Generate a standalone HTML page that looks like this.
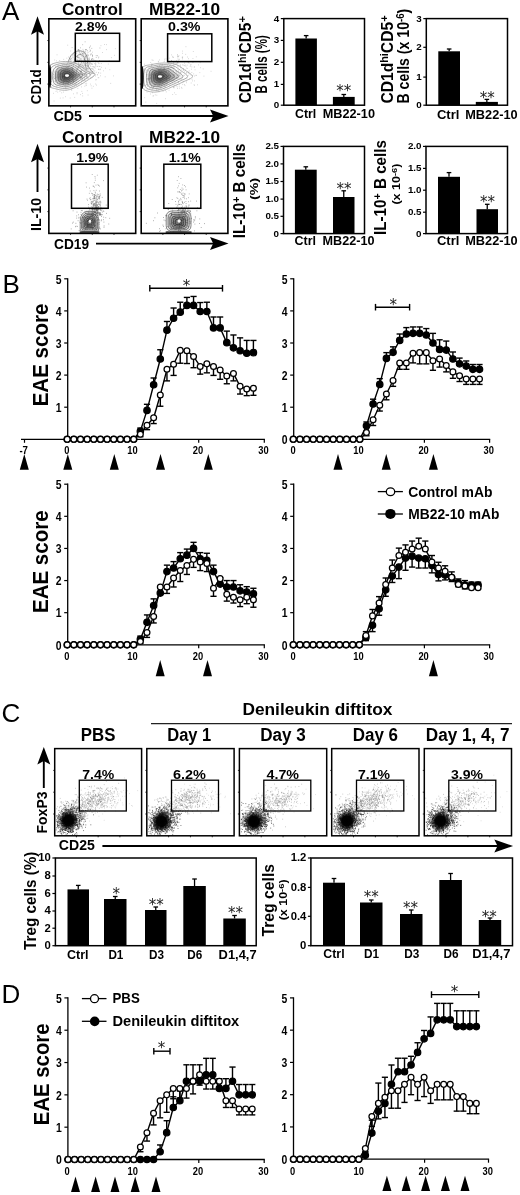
<!DOCTYPE html>
<html><head><meta charset="utf-8"><title>Figure</title>
<style>html,body{margin:0;padding:0;background:#fff;}svg{display:block;}</style>
</head><body>
<svg width="520" height="1195" viewBox="0 0 520 1195" font-family='"Liberation Sans", sans-serif' font-weight="bold" shape-rendering="auto">
<text x="2.00" y="20.40" font-size="26" font-weight="normal" text-anchor="start" >A</text>
<text x="2.50" y="292.50" font-size="26" font-weight="normal" text-anchor="start" >B</text>
<text x="1.50" y="721.70" font-size="26" font-weight="normal" text-anchor="start" >C</text>
<text x="1.50" y="1002.50" font-size="26" font-weight="normal" text-anchor="start" >D</text>
<clipPath id="cl1"><rect x="48.85" y="18.80" width="86.85" height="87.05"/></clipPath>
<g clip-path="url(#cl1)">
<path d="M69.2 80.0h0.7M69.6 72.5h0.7M59.0 75.8h0.7M89.7 74.7h0.7M88.6 73.4h0.7M78.9 74.9h0.7M80.6 77.4h0.7M59.7 73.4h0.7M77.6 73.2h0.7M80.8 67.2h0.7M77.6 77.1h0.7M63.1 92.1h0.7M81.3 83.4h0.7M63.7 70.1h0.7M67.8 74.8h0.7M82.5 74.7h0.7M66.3 67.6h0.7M65.2 87.2h0.7M60.9 79.5h0.7M79.4 59.9h0.7M73.7 86.1h0.7M71.4 67.7h0.7M80.5 72.4h0.7M51.0 86.8h0.7M83.0 80.8h0.7M94.6 73.0h0.7M74.8 62.6h0.7M82.2 67.1h0.7M66.2 64.8h0.7M58.5 73.1h0.7M92.3 52.2h0.7M51.1 81.6h0.7M94.7 74.9h0.7M78.4 66.9h0.7M56.2 87.0h0.7M89.5 72.3h0.7M76.7 77.6h0.7M96.9 74.8h0.7M80.8 77.7h0.7M87.3 76.1h0.7M85.6 55.7h0.7M70.2 84.3h0.7M53.3 93.3h0.7M81.3 71.4h0.7M77.9 79.3h0.7M74.8 84.4h0.7M63.1 73.1h0.7M88.6 71.4h0.7M59.8 86.0h0.7M95.0 65.8h0.7M52.3 78.0h0.7M70.8 72.4h0.7M94.1 60.8h0.7M91.9 59.1h0.7M61.2 82.8h0.7M89.9 78.5h0.7M78.2 74.7h0.7M75.3 79.2h0.7M70.4 77.7h0.7M81.6 72.7h0.7M84.5 77.1h0.7M103.2 70.8h0.7M66.6 72.7h0.7M72.8 82.9h0.7M68.0 79.2h0.7M100.6 45.7h0.7M56.1 80.5h0.7M79.0 75.4h0.7M66.5 81.9h0.7M77.2 69.0h0.7M109.5 69.7h0.7M64.7 75.6h0.7M69.6 74.8h0.7M88.1 60.8h0.7M72.0 83.3h0.7M85.8 85.0h0.7M67.9 81.3h0.7M89.4 47.1h0.7M89.3 58.1h0.7M83.2 59.0h0.7M75.6 84.6h0.7M70.8 76.8h0.7M85.0 73.2h0.7M71.7 88.5h0.7M88.7 68.5h0.7M114.2 55.3h0.7M86.7 69.2h0.7M75.0 80.4h0.7M76.3 79.5h0.7M50.1 66.2h0.7M82.2 64.0h0.7M57.6 64.9h0.7M92.0 77.0h0.7M95.1 61.4h0.7M73.0 64.4h0.7M84.5 86.2h0.7M59.6 91.4h0.7M87.8 69.7h0.7M71.6 69.6h0.7M79.0 76.9h0.7M95.5 60.5h0.7M90.0 84.1h0.7M94.8 68.2h0.7M61.8 86.1h0.7M74.7 75.3h0.7M94.4 67.5h0.7M77.8 68.1h0.7M72.9 82.0h0.7M74.2 86.1h0.7M72.1 84.1h0.7M95.4 84.0h0.7M62.9 84.7h0.7M54.5 78.6h0.7M70.1 75.0h0.7M64.1 78.6h0.7M99.9 69.0h0.7M81.0 81.7h0.7M70.0 64.0h0.7M64.7 86.0h0.7M88.1 78.3h0.7M73.1 81.7h0.7M75.5 63.6h0.7M86.8 66.5h0.7M59.5 70.7h0.7M50.0 78.6h0.7M55.3 81.8h0.7M63.4 59.4h0.7M83.9 69.7h0.7M77.4 69.6h0.7M84.7 78.7h0.7M83.0 75.3h0.7M93.0 76.0h0.7M79.8 54.6h0.7M86.4 83.3h0.7M68.5 71.4h0.7M102.1 52.5h0.7M80.0 94.6h0.7M59.1 83.8h0.7M101.3 67.3h0.7M81.4 80.8h0.7M59.4 76.8h0.7M77.4 81.0h0.7M72.5 73.0h0.7M57.8 74.8h0.7M86.4 72.5h0.7M60.2 69.9h0.7M113.0 75.9h0.7M82.6 49.4h0.7M82.3 76.8h0.7M98.3 72.8h0.7M72.0 79.5h0.7M77.9 67.3h0.7M92.9 86.3h0.7M52.0 73.3h0.7M77.4 75.3h0.7M67.0 67.3h0.7M104.8 76.8h0.7M55.1 66.6h0.7M98.5 77.7h0.7M100.3 75.8h0.7M59.9 79.8h0.7M72.1 79.4h0.7M62.1 75.9h0.7M79.9 76.4h0.7M82.6 74.3h0.7M68.1 82.7h0.7M73.7 67.1h0.7M63.6 76.7h0.7M71.4 76.4h0.7M73.0 76.2h0.7M71.0 63.8h0.7M79.3 82.6h0.7M79.5 71.5h0.7M79.7 64.5h0.7M59.0 84.3h0.7M56.7 54.8h0.7M57.4 92.1h0.7M67.3 63.7h0.7M61.5 81.8h0.7M80.5 74.5h0.7M95.3 76.0h0.7M72.7 80.0h0.7M97.8 77.7h0.7M88.4 61.6h0.7M70.8 81.6h0.7M68.6 85.1h0.7M81.9 80.7h0.7M69.8 98.0h0.7M91.6 68.6h0.7M74.4 97.4h0.7M67.9 83.5h0.7M87.7 71.4h0.7M55.5 80.1h0.7M78.4 83.5h0.7M84.7 72.2h0.7M85.8 76.6h0.7M76.1 74.4h0.7M69.3 81.5h0.7M57.2 72.5h0.7M73.1 61.6h0.7M66.5 58.2h0.7M62.8 81.9h0.7M81.5 72.2h0.7M69.5 62.8h0.7M100.4 73.1h0.7M89.4 63.1h0.7M70.2 59.0h0.7M84.7 80.3h0.7M82.5 56.8h0.7M63.6 64.2h0.7M73.5 76.7h0.7M82.5 78.7h0.7M95.5 80.0h0.7M53.3 74.5h0.7M57.1 68.5h0.7M71.8 74.9h0.7M80.4 58.8h0.7M54.4 78.5h0.7M70.0 72.5h0.7M72.1 68.0h0.7M83.5 75.4h0.7M71.7 68.9h0.7M70.4 51.0h0.7M58.3 78.2h0.7M50.4 81.4h0.7M75.2 61.9h0.7M69.2 72.6h0.7M79.9 78.5h0.7M72.5 67.1h0.7M70.8 74.5h0.7M84.0 74.8h0.7M62.2 64.9h0.7M67.4 69.3h0.7M56.3 77.3h0.7M65.6 77.2h0.7M80.8 69.2h0.7M107.9 64.0h0.7M89.5 72.0h0.7M89.7 49.7h0.7M61.7 79.3h0.7M82.0 93.4h0.7M77.8 84.9h0.7M84.5 80.5h0.7M80.7 71.5h0.7M80.6 63.3h0.7M90.7 61.6h0.7M76.7 92.6h0.7M69.6 75.5h0.7M90.4 71.0h0.7M60.9 79.6h0.7M81.7 79.0h0.7M61.4 92.8h0.7M98.0 69.2h0.7M77.0 69.9h0.7M94.2 63.6h0.7M83.1 68.1h0.7M62.6 83.3h0.7M93.0 70.1h0.7M62.8 84.1h0.7M72.3 77.5h0.7M95.8 79.6h0.7M65.2 96.7h0.7M73.1 81.6h0.7M63.3 76.4h0.7M93.5 59.2h0.7M50.4 65.2h0.7M90.6 66.6h0.7M72.1 72.0h0.7M71.2 65.3h0.7M73.4 61.7h0.7M71.9 77.6h0.7M80.0 71.0h0.7M59.4 79.0h0.7M65.7 90.1h0.7M84.5 71.0h0.7M65.9 69.9h0.7M58.9 74.6h0.7M77.4 78.2h0.7M81.5 91.4h0.7M62.4 77.1h0.7M114.9 48.7h0.7M65.2 77.8h0.7M75.3 77.7h0.7M69.4 78.7h0.7M73.8 81.3h0.7M73.0 65.4h0.7M57.3 83.7h0.7M63.3 82.4h0.7M84.2 74.8h0.7M80.6 72.0h0.7M51.9 79.0h0.7M79.8 68.4h0.7M71.5 81.6h0.7M59.8 83.2h0.7M100.9 63.5h0.7M75.2 72.8h0.7M96.1 72.3h0.7M86.5 65.5h0.7M72.8 74.6h0.7M86.5 56.0h0.7M84.2 71.0h0.7M79.7 76.4h0.7M50.5 77.7h0.7M95.4 64.5h0.7M57.7 65.9h0.7M54.7 81.6h0.7M98.4 72.8h0.7M76.7 93.7h0.7M65.2 70.3h0.7M80.9 77.7h0.7M57.8 67.6h0.7M77.4 75.8h0.7M53.4 77.1h0.7M64.9 80.5h0.7M71.2 74.2h0.7M67.7 85.2h0.7M93.9 66.7h0.7M85.7 65.0h0.7M74.1 81.0h0.7M95.7 66.2h0.7M71.9 76.6h0.7M50.5 79.7h0.7M62.9 80.2h0.7M56.1 60.8h0.7M73.6 76.8h0.7M64.8 84.3h0.7M68.9 70.1h0.7M80.2 59.1h0.7M62.8 76.7h0.7M85.7 70.3h0.7M77.6 67.7h0.7M77.5 88.4h0.7M62.7 97.9h0.7M63.3 76.9h0.7M75.6 83.1h0.7M54.4 60.0h0.7M82.1 79.7h0.7M82.4 95.9h0.7M76.1 76.2h0.7M86.9 74.8h0.7M98.0 58.0h0.7M67.4 45.2h0.7M85.2 68.6h0.7M86.9 90.7h0.7M72.9 72.4h0.7M65.5 68.8h0.7M63.5 82.4h0.7M73.6 75.1h0.7M70.4 83.3h0.7M80.4 71.7h0.7M83.0 71.0h0.7M55.7 91.4h0.7M80.0 64.5h0.7M89.2 74.1h0.7M78.0 81.4h0.7M76.0 72.6h0.7M73.5 72.0h0.7M78.3 74.1h0.7M83.1 69.1h0.7M72.5 55.7h0.7M66.7 82.0h0.7M93.1 66.9h0.7M71.2 89.1h0.7M68.1 82.2h0.7M98.2 69.4h0.7M91.4 64.2h0.7M76.1 73.2h0.7M74.7 84.3h0.7M108.8 60.7h0.7M64.4 80.9h0.7M57.2 82.5h0.7M81.6 70.2h0.7M81.0 59.0h0.7M84.4 58.3h0.7M62.6 72.0h0.7M67.0 83.6h0.7M74.2 70.8h0.7M81.2 86.9h0.7M73.1 77.8h0.7M91.6 72.9h0.7M53.7 101.0h0.7M106.1 49.6h0.7M72.4 78.4h0.7M87.5 77.3h0.7M68.9 66.1h0.7M74.5 83.5h0.7M56.7 69.1h0.7M72.6 57.4h0.7M69.1 71.6h0.7M79.8 66.9h0.7M59.8 74.0h0.7M72.3 68.9h0.7M73.2 81.2h0.7M90.8 85.8h0.7M61.2 73.5h0.7M62.1 76.7h0.7M80.8 60.8h0.7M80.0 72.8h0.7M90.9 54.0h0.7M85.1 73.8h0.7M80.1 77.0h0.7M92.6 68.3h0.7M86.1 68.0h0.7M83.9 64.9h0.7M71.4 90.4h0.7M79.7 71.7h0.7M55.8 71.4h0.7M75.9 82.3h0.7M79.4 77.8h0.7M72.4 86.8h0.7M67.1 71.0h0.7M86.3 72.2h0.7M68.8 70.4h0.7M69.1 81.0h0.7M78.3 62.7h0.7M79.4 74.8h0.7M58.0 84.8h0.7M68.8 72.5h0.7M84.9 83.7h0.7M62.7 80.8h0.7M59.9 98.1h0.7M65.6 86.9h0.7M63.3 84.0h0.7M106.3 44.6h0.7M66.5 80.5h0.7M71.6 69.0h0.7M105.3 68.2h0.7M64.3 77.8h0.7M91.9 71.5h0.7M52.1 64.1h0.7M90.7 77.3h0.7M60.8 85.0h0.7M80.4 78.7h0.7M86.5 78.1h0.7M86.2 49.8h0.7M75.5 78.4h0.7M111.3 57.6h0.7M68.1 76.0h0.7M86.3 67.7h0.7M90.2 63.8h0.7M77.0 69.0h0.7M75.4 67.9h0.7M77.6 68.6h0.7M76.0 82.7h0.7M58.3 76.9h0.7M81.1 77.5h0.7M68.0 57.0h0.7M91.6 73.4h0.7M73.2 72.1h0.7M77.0 69.9h0.7M57.6 71.4h0.7M64.0 71.1h0.7M55.6 84.1h0.7M53.4 84.8h0.7M57.8 81.1h0.7M93.6 71.8h0.7M62.0 77.5h0.7M75.2 58.7h0.7M63.9 78.1h0.7M66.0 76.9h0.7M84.0 79.0h0.7M86.6 76.8h0.7M68.7 75.4h0.7M68.9 72.7h0.7M70.3 59.8h0.7M68.0 75.5h0.7M58.4 77.6h0.7M80.7 71.4h0.7M104.1 44.5h0.7M69.9 59.0h0.7M87.7 95.0h0.7M80.8 70.2h0.7M81.3 52.8h0.7M85.8 75.1h0.7M73.3 69.3h0.7M82.6 68.2h0.7M76.3 69.3h0.7M76.0 80.6h0.7M59.9 77.2h0.7M82.3 73.8h0.7M91.6 88.2h0.7M59.4 60.5h0.7M85.8 85.4h0.7M86.8 78.8h0.7M63.7 70.3h0.7M86.3 63.5h0.7M110.4 83.4h0.7M62.7 70.4h0.7M76.5 67.2h0.7M92.7 69.5h0.7M56.7 89.9h0.7M64.3 78.5h0.7M72.8 71.8h0.7M77.9 67.4h0.7M54.0 72.1h0.7M72.7 75.2h0.7M81.3 73.8h0.7M61.1 70.9h0.7M80.3 77.7h0.7M71.2 73.5h0.7M87.0 71.6h0.7M84.1 77.3h0.7M76.2 85.5h0.7M64.4 73.3h0.7M60.9 70.2h0.7M96.3 85.1h0.7M73.3 79.6h0.7M90.6 77.9h0.7M91.1 59.4h0.7M63.4 80.8h0.7M94.5 70.8h0.7M60.1 74.3h0.7M63.1 69.2h0.7M95.5 64.0h0.7M73.3 93.8h0.7M90.8 73.7h0.7M63.8 80.3h0.7M97.3 74.8h0.7M91.9 71.3h0.7M80.7 71.1h0.7" stroke="#777" stroke-width="0.7" stroke-opacity="0.55" fill="none"/>
<path d="M86.4 68.4h0.8M71.6 63.2h0.8M84.9 56.3h0.8M80.5 66.5h0.8M99.0 60.6h0.8M85.6 49.6h0.8M98.4 57.1h0.8M82.7 53.2h0.8M82.5 53.4h0.8M83.6 63.6h0.8M83.2 62.4h0.8M76.2 71.9h0.8M77.8 49.8h0.8M81.5 55.9h0.8M74.9 60.4h0.8M85.3 52.1h0.8M81.9 70.4h0.8M88.5 58.2h0.8M84.0 59.5h0.8M82.6 65.6h0.8M82.3 44.7h0.8M82.8 54.7h0.8M88.2 55.2h0.8M84.2 74.8h0.8M74.6 55.3h0.8M71.7 47.6h0.8M68.0 67.0h0.8M77.9 49.5h0.8M71.1 67.8h0.8M76.8 59.8h0.8M85.6 69.0h0.8M98.5 63.4h0.8M84.1 61.5h0.8M97.4 66.4h0.8M80.5 64.3h0.8M85.3 60.3h0.8M79.0 52.8h0.8M78.7 51.4h0.8M92.8 61.6h0.8M73.4 72.5h0.8M90.1 46.0h0.8M97.7 62.1h0.8M99.5 48.0h0.8M87.2 62.3h0.8M84.6 61.3h0.8M91.4 48.4h0.8M73.1 53.9h0.8M78.5 57.7h0.8M85.9 61.6h0.8M83.3 56.0h0.8M79.5 67.9h0.8M89.1 59.7h0.8M80.4 71.6h0.8M78.2 66.2h0.8M92.2 56.4h0.8M89.6 51.4h0.8M91.1 59.8h0.8M70.3 68.4h0.8M75.9 71.0h0.8M77.6 60.9h0.8M85.3 57.8h0.8M85.1 56.4h0.8M88.4 59.2h0.8M84.7 41.8h0.8M92.3 58.4h0.8M68.7 65.0h0.8M86.7 66.8h0.8M74.3 73.2h0.8M81.7 76.9h0.8M81.8 65.4h0.8M80.1 53.9h0.8M91.8 64.3h0.8M95.3 63.1h0.8M78.4 50.7h0.8M77.8 57.5h0.8M76.5 66.2h0.8M85.6 58.1h0.8M84.4 59.3h0.8M84.7 65.2h0.8M90.7 54.0h0.8M70.9 73.3h0.8M83.9 67.7h0.8M69.9 61.8h0.8M83.2 50.9h0.8M78.9 66.5h0.8M91.6 69.0h0.8M76.1 53.1h0.8M87.2 65.8h0.8M84.5 51.5h0.8M89.3 64.3h0.8M87.4 56.2h0.8M85.4 65.2h0.8M78.5 49.5h0.8M85.6 63.1h0.8M83.1 66.5h0.8M78.3 61.3h0.8M80.6 65.1h0.8M95.8 55.6h0.8M99.4 66.5h0.8M89.3 62.9h0.8M97.2 55.7h0.8M82.1 53.7h0.8M86.8 68.6h0.8M87.3 62.3h0.8M81.4 62.2h0.8M71.6 70.6h0.8M79.7 54.1h0.8M77.0 56.7h0.8M89.8 65.9h0.8M72.1 69.6h0.8M90.1 54.9h0.8M71.1 58.7h0.8M77.9 64.2h0.8M80.1 47.8h0.8M84.9 49.9h0.8M90.2 50.6h0.8M77.5 56.4h0.8M78.7 70.4h0.8M89.8 62.8h0.8M85.6 49.6h0.8M78.8 58.0h0.8M75.2 66.1h0.8M77.1 57.4h0.8M74.6 49.1h0.8M87.8 68.2h0.8M84.4 53.7h0.8M61.4 67.4h0.8M92.7 60.0h0.8M90.4 68.5h0.8M92.0 55.3h0.8M91.4 63.6h0.8M70.7 61.1h0.8M71.6 62.9h0.8M87.6 52.3h0.8M66.6 73.6h0.8M86.0 69.6h0.8M72.4 70.5h0.8M99.6 69.6h0.8M81.3 62.8h0.8M81.8 67.6h0.8M91.3 59.0h0.8M72.1 68.4h0.8M79.2 65.8h0.8M85.1 70.9h0.8M92.1 55.2h0.8M85.8 71.6h0.8M78.7 64.6h0.8M92.5 66.5h0.8M87.1 50.7h0.8M72.9 64.9h0.8M86.1 76.8h0.8M76.1 70.0h0.8M89.2 47.8h0.8M76.5 63.4h0.8M79.1 60.6h0.8M86.8 54.2h0.8M86.7 55.4h0.8M78.6 65.3h0.8M78.4 63.7h0.8M95.8 57.4h0.8" stroke="#777" stroke-width="0.8" stroke-opacity="0.65" fill="none"/>
<path d="M68.00 62.60C68.50 61.43 69.50 57.52 71.00 55.60C72.50 53.68 74.83 51.68 77.00 51.10C79.17 50.52 82.25 50.85 84.00 52.10C85.75 53.35 86.75 56.18 87.50 58.60C88.25 61.02 87.42 64.10 88.50 66.60C89.58 69.10 93.08 72.43 94.00 73.60" fill="rgba(60,60,60,0.05)" stroke="#666" stroke-width="0.7"/>
<path d="M74.00 63.60C74.25 62.60 74.58 59.10 75.50 57.60C76.42 56.10 78.17 54.85 79.50 54.60C80.83 54.35 82.58 54.93 83.50 56.10C84.42 57.27 84.67 59.68 85.00 61.60C85.33 63.52 85.42 66.60 85.50 67.60" fill="none" stroke="#777" stroke-width="0.7"/>
<path d="M48.00 67.60C49.83 63.85 55.00 63.02 59.00 62.10C63.00 61.18 68.17 61.27 72.00 62.10C75.83 62.93 79.17 65.43 82.00 67.10C84.83 68.77 86.83 70.85 89.00 72.10C91.17 73.35 95.33 73.18 95.00 74.60C94.67 76.02 90.00 78.60 87.00 80.60C84.00 82.60 80.33 85.02 77.00 86.60C73.67 88.18 70.33 89.68 67.00 90.10C63.67 90.52 60.17 90.02 57.00 89.10C53.83 88.18 49.50 88.18 48.00 84.60C46.50 81.02 46.17 71.35 48.00 67.60Z" fill="rgba(25,25,25,0.0)" stroke="rgb(150,150,150)" stroke-width="0.7"/>
<path d="M50.88 68.53C52.44 65.22 56.82 64.48 60.21 63.67C63.61 62.86 67.99 62.93 71.24 63.67C74.49 64.41 77.32 66.62 79.73 68.09C82.13 69.56 83.83 71.40 85.66 72.51C87.50 73.61 91.04 73.46 90.75 74.72C90.47 75.97 86.51 78.25 83.97 80.02C81.42 81.79 78.31 83.92 75.48 85.32C72.66 86.72 69.83 88.05 67.00 88.41C64.17 88.78 61.20 88.34 58.52 87.53C55.83 86.72 52.15 86.72 50.88 83.55C49.61 80.39 49.33 71.84 50.88 68.53Z" fill="rgba(25,25,25,0.0)" stroke="rgb(136,136,136)" stroke-width="0.7"/>
<path d="M53.59 69.46C54.88 66.58 58.53 65.94 61.35 65.24C64.18 64.54 67.82 64.60 70.53 65.24C73.24 65.88 75.59 67.80 77.59 69.08C79.59 70.36 81.00 71.95 82.53 72.91C84.06 73.87 87.00 73.75 86.77 74.83C86.53 75.92 83.24 77.90 81.12 79.44C79.00 80.97 76.41 82.83 74.06 84.04C71.71 85.26 69.35 86.41 67.00 86.73C64.65 87.05 62.18 86.66 59.94 85.96C57.70 85.26 54.64 85.26 53.59 82.51C52.53 79.76 52.29 72.34 53.59 69.46Z" fill="rgba(25,25,25,0.05)" stroke="rgb(122,122,122)" stroke-width="0.7"/>
<path d="M56.11 70.39C57.16 67.95 60.12 67.41 62.42 66.81C64.71 66.21 67.67 66.27 69.87 66.81C72.06 67.35 73.97 68.98 75.60 70.07C77.22 71.15 78.36 72.51 79.61 73.32C80.85 74.13 83.24 74.03 83.04 74.95C82.85 75.87 80.18 77.55 78.46 78.86C76.74 80.16 74.64 81.73 72.73 82.76C70.82 83.79 68.91 84.77 67.00 85.04C65.09 85.31 63.08 84.99 61.27 84.39C59.46 83.79 56.97 83.79 56.11 81.46C55.25 79.13 55.06 72.83 56.11 70.39Z" fill="rgba(25,25,25,0.15)" stroke="rgb(108,108,108)" stroke-width="0.7"/>
<path d="M58.46 71.32C59.29 69.32 61.61 68.87 63.41 68.38C65.20 67.89 67.52 67.93 69.25 68.38C70.97 68.82 72.47 70.16 73.74 71.05C75.01 71.94 75.91 73.06 76.88 73.73C77.86 74.40 79.73 74.31 79.58 75.07C79.43 75.82 77.33 77.20 75.99 78.27C74.64 79.34 72.99 80.64 71.49 81.48C70.00 82.33 68.50 83.13 67.00 83.36C65.50 83.58 63.93 83.31 62.51 82.82C61.08 82.33 59.14 82.33 58.46 80.41C57.79 78.50 57.64 73.33 58.46 71.32Z" fill="rgba(25,25,25,0.15)" stroke="rgb(100,100,100)" stroke-width="0.7"/>
<path d="M60.64 72.25C61.25 70.68 62.98 70.33 64.32 69.95C65.66 69.57 67.39 69.60 68.67 69.95C69.96 70.30 71.07 71.34 72.02 72.04C72.97 72.74 73.64 73.61 74.37 74.13C75.09 74.66 76.49 74.59 76.38 75.18C76.27 75.77 74.70 76.86 73.70 77.69C72.69 78.53 71.47 79.54 70.35 80.20C69.23 80.87 68.12 81.50 67.00 81.67C65.88 81.84 64.71 81.63 63.65 81.25C62.59 80.87 61.14 80.87 60.64 79.37C60.13 77.87 60.02 73.82 60.64 72.25Z" fill="rgba(25,25,25,0.15)" stroke="rgb(90,90,90)" stroke-width="0.7"/>
<path d="M62.63 73.18C63.06 72.05 64.24 71.80 65.16 71.52C66.08 71.24 67.27 71.27 68.15 71.52C69.03 71.77 69.80 72.53 70.45 73.03C71.10 73.53 71.56 74.16 72.05 74.54C72.55 74.92 73.51 74.87 73.43 75.30C73.36 75.73 72.28 76.51 71.60 77.11C70.91 77.72 70.06 78.45 69.30 78.93C68.53 79.40 67.77 79.86 67.00 79.98C66.23 80.11 65.43 79.96 64.70 79.68C63.97 79.40 62.98 79.40 62.63 78.32C62.29 77.24 62.21 74.32 62.63 73.18Z" fill="rgba(25,25,25,0.15)" stroke="rgb(80,80,80)" stroke-width="0.7"/>
<path d="M64.45 74.11C64.70 73.41 65.39 73.26 65.93 73.09C66.46 72.92 67.16 72.93 67.67 73.09C68.18 73.24 68.63 73.71 69.01 74.02C69.39 74.33 69.66 74.72 69.95 74.95C70.24 75.18 70.80 75.15 70.75 75.41C70.71 75.68 70.08 76.16 69.68 76.53C69.28 76.90 68.79 77.35 68.34 77.65C67.89 77.94 67.45 78.22 67.00 78.30C66.55 78.38 66.08 78.28 65.66 78.11C65.24 77.94 64.66 77.94 64.45 77.27C64.25 76.61 64.21 74.81 64.45 74.11Z" fill="rgba(25,25,25,0.15)" stroke="rgb(70,70,70)" stroke-width="0.7"/>
<ellipse cx="66.00" cy="76.10" rx="13" ry="9" fill="url(#cg)"/>
<ellipse cx="67.00" cy="75.60" rx="2.1" ry="1.3" fill="#fff"/>
<ellipse cx="49.95" cy="76.60" rx="1.4" ry="11.5" fill="#111"/>
</g>
<rect x="48.85" y="18.80" width="86.85" height="87.05" fill="none" stroke="#000" stroke-width="1.6"/>
<rect x="75.30" y="33.30" width="44.30" height="28.00" fill="none" stroke="#000" stroke-width="1.5"/>
<line x1="47.35" y1="40.56" x2="48.85" y2="40.56" stroke="#000" stroke-width="0.8" stroke-linecap="butt"/>
<line x1="70.56" y1="105.85" x2="70.56" y2="107.35" stroke="#000" stroke-width="0.8" stroke-linecap="butt"/>
<line x1="47.35" y1="62.33" x2="48.85" y2="62.33" stroke="#000" stroke-width="0.8" stroke-linecap="butt"/>
<line x1="92.28" y1="105.85" x2="92.28" y2="107.35" stroke="#000" stroke-width="0.8" stroke-linecap="butt"/>
<line x1="47.35" y1="84.09" x2="48.85" y2="84.09" stroke="#000" stroke-width="0.8" stroke-linecap="butt"/>
<line x1="113.99" y1="105.85" x2="113.99" y2="107.35" stroke="#000" stroke-width="0.8" stroke-linecap="butt"/>
<clipPath id="cl2"><rect x="141.20" y="18.80" width="86.70" height="87.05"/></clipPath>
<g clip-path="url(#cl2)">
<path d="M163.8 82.5h0.7M160.5 86.4h0.7M146.8 85.3h0.7M158.3 70.1h0.7M192.5 62.1h0.7M192.4 75.5h0.7M187.8 62.0h0.7M184.0 84.5h0.7M164.3 74.7h0.7M202.8 68.9h0.7M159.7 71.3h0.7M172.7 77.0h0.7M168.7 90.2h0.7M161.1 80.8h0.7M187.9 61.7h0.7M181.6 88.3h0.7M145.7 70.2h0.7M150.4 62.5h0.7M172.8 57.5h0.7M173.5 86.8h0.7M154.9 75.6h0.7M166.8 80.2h0.7M160.8 76.8h0.7M157.8 78.3h0.7M148.4 80.0h0.7M194.7 69.8h0.7M147.1 82.0h0.7M151.4 64.0h0.7M155.0 84.5h0.7M171.8 73.4h0.7M152.1 69.0h0.7M186.2 73.2h0.7M151.7 59.9h0.7M145.5 102.1h0.7M148.8 78.6h0.7M169.2 73.4h0.7M161.8 64.2h0.7M150.2 94.0h0.7M154.7 85.5h0.7M169.9 83.9h0.7M149.2 84.5h0.7M171.8 67.7h0.7M173.2 65.9h0.7M154.1 78.0h0.7M151.0 65.8h0.7M159.6 83.7h0.7M159.9 88.1h0.7M148.6 67.7h0.7M189.3 73.9h0.7M180.2 65.0h0.7M178.1 75.1h0.7M175.7 73.6h0.7M184.1 65.7h0.7M151.5 65.6h0.7M183.4 65.1h0.7M150.4 70.6h0.7M159.3 65.7h0.7M161.6 70.9h0.7M157.7 68.8h0.7M166.6 71.3h0.7M167.7 77.3h0.7M171.1 54.9h0.7M158.0 70.2h0.7M177.6 58.9h0.7M155.3 75.3h0.7M161.0 85.4h0.7M159.4 85.6h0.7M144.0 64.2h0.7M184.3 75.3h0.7M173.3 75.0h0.7M173.3 63.1h0.7M180.2 67.6h0.7M180.8 73.0h0.7M182.9 70.5h0.7M160.1 79.0h0.7M159.6 72.1h0.7M167.5 76.4h0.7M188.8 70.9h0.7M194.2 85.3h0.7M191.7 79.2h0.7M168.0 76.3h0.7M163.9 69.5h0.7M165.0 70.0h0.7M190.6 74.8h0.7M159.3 59.9h0.7M165.2 72.0h0.7M149.7 69.0h0.7M165.0 98.7h0.7M165.5 74.3h0.7M187.7 71.9h0.7M168.5 71.6h0.7M156.9 90.9h0.7M181.0 87.4h0.7M160.8 76.9h0.7M152.8 87.0h0.7M145.1 85.2h0.7M182.4 84.4h0.7M151.9 88.3h0.7M155.3 71.1h0.7M146.2 90.2h0.7M190.7 64.7h0.7M154.6 75.0h0.7M203.6 76.1h0.7M157.9 61.3h0.7M155.9 88.3h0.7M194.0 66.9h0.7M155.6 73.3h0.7M149.7 88.6h0.7M170.3 67.7h0.7M177.7 73.0h0.7M148.4 84.9h0.7M178.6 55.7h0.7M193.4 73.9h0.7M177.4 56.4h0.7M155.2 74.8h0.7M182.2 58.9h0.7M152.7 60.4h0.7M162.4 79.4h0.7M173.7 87.9h0.7M176.0 70.6h0.7M148.3 71.1h0.7M156.0 79.0h0.7M165.3 90.5h0.7M170.3 65.0h0.7M189.2 78.8h0.7M167.5 68.7h0.7M179.7 65.3h0.7M146.2 81.6h0.7M169.7 80.1h0.7M175.8 85.9h0.7M153.4 87.0h0.7M151.2 85.0h0.7M168.7 77.1h0.7M180.5 72.1h0.7M182.7 79.6h0.7M168.0 70.0h0.7M154.7 73.3h0.7M163.0 76.0h0.7M210.7 71.3h0.7M177.5 65.3h0.7M155.3 75.0h0.7M168.9 65.6h0.7M190.2 65.1h0.7M182.2 51.1h0.7M165.9 78.0h0.7M168.9 80.2h0.7M170.2 76.0h0.7M170.6 72.7h0.7M153.7 73.1h0.7M193.7 84.8h0.7M165.1 87.2h0.7M158.8 69.3h0.7M157.6 79.0h0.7M211.4 59.6h0.7M166.7 77.8h0.7M165.5 83.9h0.7M192.6 58.5h0.7M168.4 72.6h0.7M171.3 60.7h0.7M173.9 75.5h0.7M167.1 54.2h0.7M160.4 70.0h0.7M144.8 72.1h0.7M176.5 78.0h0.7M165.7 80.2h0.7M156.9 78.1h0.7M166.6 80.3h0.7M165.0 74.5h0.7M164.0 70.2h0.7M199.5 72.6h0.7M172.4 94.5h0.7M187.0 57.0h0.7M176.4 80.6h0.7M194.3 80.9h0.7M177.6 62.5h0.7M152.9 80.8h0.7M173.6 64.7h0.7M160.2 73.2h0.7M166.9 78.3h0.7M161.7 65.4h0.7M184.6 85.6h0.7M164.4 85.0h0.7M172.7 79.9h0.7M173.2 67.1h0.7M174.6 82.6h0.7M152.6 96.0h0.7M197.3 84.8h0.7M195.8 75.5h0.7M160.9 71.3h0.7M153.8 79.2h0.7M165.5 81.6h0.7M200.1 67.7h0.7M176.1 77.5h0.7M170.1 72.7h0.7M164.2 68.6h0.7M168.7 74.7h0.7M170.8 66.8h0.7M166.6 75.8h0.7M175.1 64.0h0.7M172.3 82.9h0.7M175.0 70.2h0.7M158.6 75.0h0.7M176.9 86.9h0.7M163.6 70.3h0.7M171.6 76.1h0.7M152.4 72.0h0.7M164.5 81.8h0.7M148.1 70.4h0.7M173.5 62.9h0.7M167.6 78.3h0.7M164.3 66.8h0.7M165.1 72.7h0.7M171.0 66.9h0.7M182.4 57.0h0.7M163.4 76.2h0.7M180.4 66.9h0.7M174.2 68.6h0.7M177.1 88.5h0.7M160.0 80.8h0.7M152.1 87.2h0.7M184.2 71.8h0.7M149.0 82.9h0.7M183.2 81.4h0.7M178.2 56.5h0.7M155.8 90.4h0.7M147.6 89.6h0.7M194.2 76.0h0.7M182.8 68.8h0.7M147.6 78.7h0.7M163.0 75.7h0.7M176.5 71.9h0.7M168.9 78.6h0.7M165.9 91.9h0.7M172.6 74.8h0.7M162.9 70.6h0.7M186.2 72.4h0.7M149.8 74.1h0.7M164.0 72.0h0.7M182.3 61.6h0.7M173.4 75.1h0.7M148.3 79.8h0.7M164.6 80.3h0.7M159.2 79.7h0.7M177.8 82.2h0.7M165.8 70.2h0.7M182.2 53.3h0.7M154.0 84.1h0.7M175.8 64.1h0.7M168.3 67.0h0.7M166.8 83.3h0.7M177.1 54.5h0.7M177.6 57.1h0.7M183.1 75.3h0.7M199.8 62.6h0.7M166.1 84.8h0.7M156.4 71.4h0.7M160.4 76.1h0.7M149.8 83.4h0.7M174.1 74.3h0.7M191.5 66.9h0.7M185.6 66.3h0.7M177.3 55.8h0.7M169.0 73.3h0.7M158.6 71.7h0.7M160.8 70.2h0.7M157.8 72.7h0.7M150.1 77.8h0.7M177.8 70.7h0.7M158.6 89.2h0.7M180.7 80.5h0.7M183.3 68.7h0.7M164.1 85.8h0.7M157.7 76.3h0.7M171.7 77.6h0.7M161.9 85.2h0.7M163.3 82.5h0.7M182.1 77.8h0.7M177.0 62.7h0.7M146.3 74.4h0.7M173.1 87.3h0.7M147.7 82.3h0.7M153.2 71.8h0.7M161.9 82.6h0.7M169.2 85.3h0.7M151.2 86.7h0.7M180.0 73.0h0.7M173.2 68.9h0.7M149.7 75.5h0.7M156.4 103.4h0.7M158.7 91.8h0.7M169.0 77.6h0.7M177.2 66.1h0.7M179.7 75.8h0.7M143.3 85.9h0.7M174.3 77.7h0.7M189.8 66.5h0.7M173.7 80.5h0.7M152.5 89.2h0.7M144.2 68.8h0.7M173.8 64.1h0.7M164.3 61.2h0.7M167.0 65.2h0.7M171.1 60.7h0.7M172.7 71.6h0.7M167.0 74.7h0.7M168.0 63.3h0.7M152.0 74.6h0.7M172.4 56.4h0.7M154.6 72.6h0.7M150.1 81.9h0.7M163.9 68.7h0.7M151.2 86.0h0.7M156.1 82.9h0.7M172.7 57.2h0.7M149.7 79.1h0.7M171.1 81.3h0.7M178.0 82.0h0.7M160.4 74.9h0.7M177.6 69.1h0.7M181.9 57.8h0.7M175.8 71.8h0.7M170.7 74.7h0.7M149.9 74.9h0.7M188.7 63.1h0.7M148.0 78.3h0.7M160.1 68.7h0.7M153.4 87.6h0.7M144.4 97.7h0.7M157.8 67.6h0.7M177.8 77.9h0.7M150.4 85.6h0.7M182.9 69.5h0.7M146.5 84.4h0.7M179.8 72.3h0.7M172.3 81.0h0.7M193.8 67.1h0.7M158.8 76.8h0.7M184.1 63.1h0.7M185.6 46.7h0.7M178.0 66.8h0.7M172.9 80.1h0.7M148.3 78.7h0.7M169.6 79.9h0.7M152.0 69.8h0.7M163.1 74.2h0.7M143.6 88.7h0.7M158.0 90.1h0.7M178.8 72.9h0.7M176.9 63.2h0.7M161.1 71.5h0.7M147.0 79.9h0.7M163.8 88.8h0.7M152.2 74.4h0.7M172.3 77.7h0.7M166.4 71.2h0.7M173.4 77.1h0.7M145.4 69.6h0.7M168.2 75.5h0.7M167.7 67.3h0.7M163.0 68.0h0.7M171.7 80.4h0.7M192.3 80.9h0.7M153.9 74.1h0.7M151.9 81.3h0.7M195.7 75.2h0.7M146.6 84.4h0.7M166.0 78.2h0.7M192.7 62.2h0.7M153.3 95.8h0.7M171.1 67.4h0.7M166.7 84.2h0.7M163.9 69.8h0.7M154.9 94.9h0.7M166.4 80.9h0.7M159.9 81.3h0.7M178.2 71.5h0.7M159.1 75.4h0.7M151.5 76.9h0.7M161.5 78.4h0.7M186.0 82.7h0.7M159.3 82.3h0.7M170.4 81.3h0.7M166.3 77.8h0.7M159.0 70.1h0.7M179.1 84.2h0.7M175.9 77.2h0.7M170.0 70.6h0.7M169.0 69.9h0.7M151.5 90.1h0.7M175.6 94.5h0.7M155.2 77.7h0.7M158.4 78.6h0.7M162.9 69.5h0.7M182.1 64.9h0.7M158.4 82.1h0.7M157.9 73.4h0.7M171.3 71.0h0.7M147.3 78.7h0.7M162.7 91.4h0.7M149.5 87.8h0.7M154.2 74.9h0.7M161.1 79.0h0.7M179.0 88.2h0.7M156.5 89.5h0.7M180.9 79.4h0.7M154.6 86.0h0.7M164.4 79.0h0.7M162.0 82.3h0.7M182.7 81.9h0.7M162.9 85.0h0.7M187.8 62.3h0.7M188.1 58.7h0.7M174.1 79.0h0.7M188.2 73.1h0.7M158.8 70.0h0.7M147.2 86.5h0.7M162.4 69.9h0.7M174.0 66.9h0.7M159.4 72.9h0.7M190.8 83.0h0.7M163.6 62.0h0.7M170.1 75.2h0.7M171.2 79.4h0.7M161.2 84.8h0.7M178.6 74.6h0.7M159.9 72.6h0.7M176.4 63.4h0.7M163.6 69.4h0.7M145.1 85.5h0.7M165.6 75.9h0.7M179.1 59.3h0.7M165.0 78.3h0.7M178.5 63.1h0.7M176.7 75.1h0.7M186.3 81.1h0.7M174.2 92.8h0.7M166.0 71.7h0.7M160.9 68.3h0.7M165.6 58.9h0.7M164.7 79.6h0.7M180.9 69.1h0.7M186.8 65.1h0.7M164.0 59.2h0.7M154.6 71.0h0.7M187.9 75.3h0.7M149.8 83.7h0.7M173.1 71.9h0.7M166.3 72.8h0.7M158.1 61.9h0.7M164.7 87.0h0.7M187.0 68.4h0.7M155.1 76.1h0.7M179.1 75.6h0.7M157.5 80.5h0.7M163.0 80.6h0.7M160.0 64.0h0.7M166.8 81.9h0.7M149.8 78.2h0.7M178.8 69.4h0.7M156.5 95.2h0.7M178.1 81.7h0.7M152.2 92.7h0.7M176.8 84.6h0.7M152.4 72.8h0.7M168.9 58.2h0.7M175.3 78.3h0.7M159.5 81.6h0.7M177.3 75.7h0.7M173.6 86.9h0.7M159.0 78.4h0.7M158.4 86.1h0.7M160.1 80.9h0.7M168.0 75.6h0.7M191.0 69.2h0.7M186.6 78.1h0.7M185.2 69.8h0.7M179.5 79.0h0.7M157.1 79.8h0.7M164.1 75.6h0.7M184.9 65.1h0.7M159.4 71.4h0.7M166.2 80.3h0.7M191.5 72.5h0.7M172.7 67.7h0.7M174.4 85.3h0.7M185.4 54.4h0.7M178.9 86.2h0.7M178.0 60.0h0.7M161.6 81.5h0.7M172.0 67.2h0.7M153.1 86.6h0.7M146.7 92.1h0.7M166.3 78.0h0.7M146.7 74.7h0.7M176.0 60.7h0.7M195.9 56.8h0.7M148.4 79.8h0.7M173.0 80.2h0.7M160.6 74.9h0.7M162.6 71.3h0.7M169.6 76.1h0.7M156.9 79.7h0.7M165.8 74.9h0.7M181.9 57.2h0.7M169.6 65.6h0.7M161.4 89.3h0.7M150.4 78.1h0.7M157.5 85.5h0.7M151.9 64.2h0.7M173.4 70.8h0.7M161.4 85.8h0.7M153.2 75.1h0.7M168.1 78.6h0.7M158.6 86.0h0.7M198.3 64.9h0.7M192.9 51.5h0.7M186.3 68.1h0.7M168.0 72.2h0.7M156.8 66.6h0.7M160.3 87.8h0.7" stroke="#777" stroke-width="0.7" stroke-opacity="0.55" fill="none"/>
<path d="M142.00 68.50C143.67 64.75 148.33 65.42 152.00 64.50C155.67 63.58 160.00 63.00 164.00 63.00C168.00 63.00 172.67 63.42 176.00 64.50C179.33 65.58 181.25 67.50 184.00 69.50C186.75 71.50 192.50 74.50 192.50 76.50C192.50 78.50 187.08 79.92 184.00 81.50C180.92 83.08 177.50 84.50 174.00 86.00C170.50 87.50 166.67 89.50 163.00 90.50C159.33 91.50 155.50 92.58 152.00 92.00C148.50 91.42 143.67 90.92 142.00 87.00C140.33 83.08 140.33 72.25 142.00 68.50Z" fill="rgba(25,25,25,0.0)" stroke="rgb(150,150,150)" stroke-width="0.7"/>
<path d="M144.73 69.43C146.14 66.12 150.10 66.71 153.21 65.90C156.32 65.09 160.00 64.57 163.39 64.57C166.79 64.57 170.75 64.94 173.57 65.90C176.40 66.85 178.03 68.55 180.36 70.31C182.69 72.08 187.57 74.73 187.57 76.50C187.57 78.27 182.98 79.52 180.36 80.92C177.75 82.32 174.85 83.57 171.88 84.90C168.91 86.22 165.66 87.99 162.55 88.87C159.43 89.76 156.18 90.71 153.21 90.20C150.24 89.68 146.14 89.24 144.73 85.78C143.32 82.32 143.32 72.74 144.73 69.43Z" fill="rgba(25,25,25,0.0)" stroke="rgb(136,136,136)" stroke-width="0.7"/>
<path d="M147.29 70.36C148.47 67.48 151.76 67.99 154.35 67.29C156.94 66.59 160.00 66.14 162.82 66.14C165.65 66.14 168.94 66.46 171.30 67.29C173.65 68.12 175.00 69.59 176.95 71.13C178.89 72.66 182.95 74.97 182.95 76.50C182.95 78.03 179.12 79.12 176.95 80.34C174.77 81.55 172.36 82.64 169.88 83.79C167.41 84.94 164.71 86.48 162.12 87.24C159.53 88.01 156.82 88.84 154.35 88.40C151.88 87.95 148.47 87.56 147.29 84.56C146.11 81.55 146.11 73.24 147.29 70.36Z" fill="rgba(25,25,25,0.05)" stroke="rgb(122,122,122)" stroke-width="0.7"/>
<path d="M149.69 71.29C150.64 68.85 153.31 69.28 155.42 68.69C157.52 68.09 160.00 67.71 162.29 67.71C164.58 67.71 167.26 67.98 169.17 68.69C171.08 69.39 172.18 70.64 173.75 71.94C175.33 73.24 178.62 75.20 178.62 76.50C178.62 77.80 175.52 78.72 173.75 79.76C171.99 80.79 170.03 81.71 168.02 82.69C166.02 83.66 163.82 84.97 161.72 85.62C159.62 86.27 157.42 86.97 155.42 86.59C153.41 86.21 150.64 85.89 149.69 83.34C148.73 80.79 148.73 73.73 149.69 71.29Z" fill="rgba(25,25,25,0.15)" stroke="rgb(108,108,108)" stroke-width="0.7"/>
<path d="M151.91 72.22C152.66 70.22 154.76 70.57 156.41 70.08C158.05 69.59 160.00 69.28 161.80 69.28C163.59 69.28 165.69 69.50 167.19 70.08C168.69 70.66 169.55 71.69 170.78 72.76C172.02 73.83 174.60 75.43 174.60 76.50C174.60 77.57 172.17 78.33 170.78 79.17C169.40 80.02 167.86 80.78 166.29 81.58C164.72 82.38 163.00 83.45 161.35 83.99C159.70 84.52 157.98 85.10 156.41 84.79C154.83 84.48 152.66 84.21 151.91 82.12C151.16 80.02 151.16 74.23 151.91 72.22Z" fill="rgba(25,25,25,0.15)" stroke="rgb(100,100,100)" stroke-width="0.7"/>
<path d="M153.97 73.15C154.53 71.58 156.09 71.86 157.32 71.48C158.55 71.09 160.00 70.85 161.34 70.85C162.68 70.85 164.24 71.02 165.36 71.48C166.47 71.93 167.12 72.73 168.04 73.57C168.96 74.41 170.88 75.66 170.88 76.50C170.88 77.34 169.07 77.93 168.04 78.59C167.00 79.26 165.86 79.85 164.69 80.48C163.52 81.10 162.23 81.94 161.00 82.36C159.78 82.78 158.49 83.23 157.32 82.99C156.15 82.74 154.53 82.53 153.97 80.90C153.41 79.26 153.41 74.72 153.97 73.15Z" fill="rgba(25,25,25,0.15)" stroke="rgb(90,90,90)" stroke-width="0.7"/>
<path d="M155.86 74.08C156.25 72.95 157.32 73.15 158.16 72.87C159.00 72.59 160.00 72.42 160.92 72.42C161.84 72.42 162.91 72.54 163.68 72.87C164.44 73.20 164.88 73.78 165.51 74.38C166.15 74.99 167.47 75.90 167.47 76.50C167.47 77.10 166.22 77.53 165.51 78.01C164.81 78.49 164.02 78.92 163.22 79.37C162.41 79.83 161.53 80.43 160.69 80.73C159.85 81.03 158.97 81.36 158.16 81.19C157.36 81.01 156.25 80.86 155.86 79.67C155.48 78.49 155.48 75.22 155.86 74.08Z" fill="rgba(25,25,25,0.15)" stroke="rgb(80,80,80)" stroke-width="0.7"/>
<path d="M157.59 75.01C157.81 74.31 158.44 74.44 158.93 74.27C159.42 74.10 160.00 73.99 160.54 73.99C161.07 73.99 161.70 74.07 162.14 74.27C162.59 74.47 162.85 74.83 163.21 75.20C163.58 75.57 164.35 76.13 164.35 76.50C164.35 76.87 163.63 77.14 163.21 77.43C162.80 77.72 162.34 77.99 161.88 78.27C161.41 78.55 160.89 78.92 160.40 79.10C159.91 79.29 159.40 79.49 158.93 79.38C158.46 79.28 157.81 79.18 157.59 78.45C157.37 77.72 157.37 75.71 157.59 75.01Z" fill="rgba(25,25,25,0.15)" stroke="rgb(70,70,70)" stroke-width="0.7"/>
<ellipse cx="159.00" cy="77.00" rx="13" ry="9" fill="url(#cg)"/>
<ellipse cx="160.00" cy="76.50" rx="2.1" ry="1.3" fill="#fff"/>
<ellipse cx="142.30" cy="77.50" rx="1.4" ry="11.5" fill="#111"/>
</g>
<rect x="141.20" y="18.80" width="86.70" height="87.05" fill="none" stroke="#000" stroke-width="1.6"/>
<rect x="167.60" y="33.80" width="44.20" height="27.80" fill="none" stroke="#000" stroke-width="1.5"/>
<line x1="139.70" y1="40.56" x2="141.20" y2="40.56" stroke="#000" stroke-width="0.8" stroke-linecap="butt"/>
<line x1="162.88" y1="105.85" x2="162.88" y2="107.35" stroke="#000" stroke-width="0.8" stroke-linecap="butt"/>
<line x1="139.70" y1="62.33" x2="141.20" y2="62.33" stroke="#000" stroke-width="0.8" stroke-linecap="butt"/>
<line x1="184.55" y1="105.85" x2="184.55" y2="107.35" stroke="#000" stroke-width="0.8" stroke-linecap="butt"/>
<line x1="139.70" y1="84.09" x2="141.20" y2="84.09" stroke="#000" stroke-width="0.8" stroke-linecap="butt"/>
<line x1="206.22" y1="105.85" x2="206.22" y2="107.35" stroke="#000" stroke-width="0.8" stroke-linecap="butt"/>
<text x="61.90" y="15.20" font-size="17" font-weight="bold" text-anchor="start" textLength="60.80" lengthAdjust="spacingAndGlyphs" >Control</text>
<text x="149.00" y="15.20" font-size="17" font-weight="bold" text-anchor="start" textLength="71.00" lengthAdjust="spacingAndGlyphs" >MB22-10</text>
<text x="75.00" y="31.00" font-size="13" font-weight="bold" text-anchor="start" textLength="32.20" lengthAdjust="spacingAndGlyphs" >2.8%</text>
<text x="168.00" y="31.00" font-size="13" font-weight="bold" text-anchor="start" textLength="32.50" lengthAdjust="spacingAndGlyphs" >0.3%</text>
<text x="41.00" y="104.30" font-size="15" font-weight="bold" text-anchor="start" textLength="35.00" lengthAdjust="spacingAndGlyphs" transform="rotate(-90 41.00 104.30)" >CD1d</text>
<line x1="37.50" y1="65.00" x2="37.50" y2="30.65" stroke="#000" stroke-width="1.9" stroke-linecap="butt"/>
<polygon points="37.50,16.15 31.00,34.65 37.50,31.25 44.00,34.65" fill="#000"/>
<text x="53.50" y="120.50" font-size="15" font-weight="bold" text-anchor="start" textLength="28.50" lengthAdjust="spacingAndGlyphs" >CD5</text>
<line x1="89.00" y1="116.00" x2="214.00" y2="116.00" stroke="#000" stroke-width="1.9" stroke-linecap="butt"/>
<polygon points="228.50,116.00 210.00,109.50 213.20,116.00 210.00,122.50" fill="#000"/>
<path d="M99.4 204.6h0.8M93.7 198.6h0.8M97.8 209.4h0.8M93.8 195.0h0.8M91.7 213.4h0.8M92.2 201.4h0.8M97.2 212.8h0.8M99.0 198.9h0.8M95.5 212.6h0.8M92.8 204.7h0.8M90.9 206.8h0.8M94.2 204.3h0.8M94.3 209.5h0.8M88.8 213.9h0.8M90.1 199.6h0.8M95.6 201.4h0.8M101.2 208.1h0.8M93.8 211.3h0.8M100.0 205.0h0.8M95.8 201.0h0.8M95.7 203.3h0.8M100.3 210.4h0.8M94.5 194.8h0.8M99.3 197.9h0.8M98.7 197.3h0.8M101.8 197.4h0.8M92.7 186.1h0.8M94.8 178.1h0.8M95.3 203.7h0.8M94.2 203.5h0.8M89.3 198.7h0.8M94.3 198.7h0.8M98.0 194.7h0.8M96.1 209.1h0.8M94.0 211.3h0.8M98.7 197.9h0.8M93.1 186.3h0.8M96.1 206.9h0.8M94.4 212.6h0.8M88.2 204.6h0.8M95.8 204.4h0.8M94.0 196.0h0.8M93.4 207.7h0.8M97.5 198.1h0.8M99.0 196.7h0.8M98.4 213.2h0.8M94.6 205.1h0.8M90.9 208.9h0.8M92.9 213.7h0.8M100.2 209.5h0.8M95.1 209.3h0.8M85.3 212.7h0.8M97.4 209.8h0.8M94.1 198.5h0.8M86.6 199.1h0.8M96.4 207.5h0.8M89.8 197.8h0.8M99.8 193.9h0.8M92.1 193.6h0.8M93.6 214.0h0.8M97.6 184.7h0.8M100.5 202.2h0.8M95.2 193.0h0.8M93.3 198.2h0.8M92.0 202.3h0.8M98.5 212.3h0.8M92.1 207.5h0.8M94.4 212.2h0.8M102.8 210.8h0.8M91.8 209.8h0.8M92.7 202.1h0.8M96.2 211.4h0.8M94.8 192.1h0.8M98.5 204.1h0.8M99.7 201.2h0.8M97.5 211.6h0.8M86.2 187.1h0.8M99.3 214.2h0.8M97.8 202.4h0.8M95.5 209.9h0.8M94.8 199.0h0.8M93.6 211.4h0.8M89.8 191.0h0.8M94.1 200.5h0.8M94.6 176.5h0.8M94.3 204.0h0.8M98.2 185.5h0.8M94.4 212.4h0.8M99.1 196.5h0.8M97.7 204.2h0.8M93.3 196.8h0.8M94.1 197.1h0.8M99.0 212.8h0.8M100.3 213.6h0.8M93.2 201.2h0.8M94.9 207.6h0.8M99.6 201.7h0.8M96.7 207.4h0.8M91.1 193.3h0.8M94.7 211.7h0.8M96.6 213.2h0.8M95.7 202.2h0.8M97.0 196.3h0.8M90.8 201.9h0.8M90.5 199.7h0.8M92.9 200.1h0.8M95.3 198.0h0.8M94.0 187.1h0.8M96.0 197.3h0.8M96.9 175.2h0.8M92.7 209.2h0.8M87.0 200.3h0.8M95.8 208.6h0.8M90.3 208.2h0.8M96.0 196.3h0.8M98.1 207.6h0.8M95.6 202.1h0.8M97.4 209.1h0.8M99.4 213.8h0.8M93.4 204.0h0.8M98.7 204.2h0.8M96.8 213.8h0.8M94.9 180.2h0.8M96.0 209.9h0.8M96.0 198.7h0.8M99.7 207.1h0.8M93.3 198.3h0.8M96.7 195.1h0.8M99.8 214.4h0.8M100.3 203.2h0.8M95.8 190.3h0.8M97.4 201.1h0.8M95.6 185.1h0.8M88.0 207.1h0.8M92.3 198.7h0.8M88.9 193.3h0.8M97.0 202.1h0.8M103.2 180.6h0.8M95.3 209.8h0.8M103.4 211.5h0.8M97.3 212.1h0.8M94.9 202.3h0.8M93.9 182.6h0.8M96.4 207.2h0.8M95.1 204.1h0.8M92.9 206.2h0.8M94.0 209.2h0.8M93.7 206.7h0.8M98.4 202.9h0.8M99.8 195.8h0.8M95.2 214.6h0.8M95.4 211.8h0.8M99.6 212.5h0.8M91.7 214.3h0.8M95.2 208.5h0.8M93.5 190.6h0.8M91.1 201.7h0.8M91.8 174.5h0.8M99.5 195.1h0.8M93.0 212.6h0.8M92.8 214.1h0.8M93.8 210.3h0.8M95.9 207.4h0.8M89.1 188.1h0.8M93.6 212.9h0.8M96.1 213.1h0.8M99.0 191.0h0.8M96.5 205.6h0.8M94.4 197.0h0.8M92.7 194.4h0.8M101.5 209.4h0.8M98.1 196.8h0.8M85.7 182.8h0.8M95.4 195.6h0.8M94.7 195.4h0.8M90.6 203.0h0.8M94.1 197.4h0.8M92.4 195.4h0.8M89.8 208.6h0.8M91.4 204.1h0.8M95.9 213.9h0.8M99.5 202.2h0.8M91.1 203.7h0.8M96.5 199.5h0.8M90.5 209.9h0.8M99.1 186.1h0.8M96.2 204.9h0.8M96.3 202.0h0.8M97.1 215.3h0.8M98.2 215.0h0.8M96.9 194.1h0.8M94.0 208.3h0.8M94.2 194.6h0.8M89.1 208.1h0.8M95.6 200.5h0.8M94.0 196.5h0.8M92.9 205.3h0.8M93.2 214.4h0.8" stroke="#666" stroke-width="0.8" stroke-opacity="0.7" fill="none"/>
<path d="M95.0 211.9h0.8M96.9 217.7h0.8M97.6 212.7h0.8M94.9 207.3h0.8M94.3 214.4h0.8M96.3 209.5h0.8M91.0 203.2h0.8M96.6 216.4h0.8M96.8 204.8h0.8M94.8 212.3h0.8M92.4 212.5h0.8M94.8 207.2h0.8M91.3 214.6h0.8M96.7 207.2h0.8M92.0 215.1h0.8M97.5 210.1h0.8M100.9 210.7h0.8M91.9 216.1h0.8M94.9 212.9h0.8M95.6 206.5h0.8M91.5 209.8h0.8M100.3 207.1h0.8M100.1 213.0h0.8M91.7 212.1h0.8M97.4 207.2h0.8M88.2 212.0h0.8M91.7 212.9h0.8M89.0 209.7h0.8M92.7 203.7h0.8M94.7 212.0h0.8M93.6 205.3h0.8M96.2 202.9h0.8M97.3 213.9h0.8M101.2 216.4h0.8M96.7 212.7h0.8M95.6 204.9h0.8M100.5 214.6h0.8M94.5 205.6h0.8M100.5 214.6h0.8M91.5 214.0h0.8M101.9 212.1h0.8M96.9 209.5h0.8M93.4 216.2h0.8M106.0 213.4h0.8M95.1 215.1h0.8M94.5 214.7h0.8M98.3 206.8h0.8M91.9 210.4h0.8M98.3 213.0h0.8M99.7 205.3h0.8M97.2 208.5h0.8M95.8 212.9h0.8M92.2 209.7h0.8M91.5 212.0h0.8M92.6 208.5h0.8M96.2 208.3h0.8M99.4 208.8h0.8M98.4 213.1h0.8M92.0 209.7h0.8M92.7 209.1h0.8M94.6 219.9h0.8M94.1 218.7h0.8M97.0 205.2h0.8M87.7 213.4h0.8M88.7 213.8h0.8M99.0 213.7h0.8M94.8 210.0h0.8M96.4 210.0h0.8M93.7 209.3h0.8M99.5 208.9h0.8M96.8 205.9h0.8M93.1 204.3h0.8M94.8 214.5h0.8M96.5 209.1h0.8M97.6 209.9h0.8M96.8 212.8h0.8M97.3 199.6h0.8M91.1 214.4h0.8M95.1 222.1h0.8M94.7 208.5h0.8M100.6 214.7h0.8M101.9 214.7h0.8M94.8 214.7h0.8M92.8 208.8h0.8M93.6 210.0h0.8M98.1 209.4h0.8M96.6 209.1h0.8M98.5 198.5h0.8M94.8 212.0h0.8M91.8 215.7h0.8M96.2 217.6h0.8M98.8 214.8h0.8M95.0 206.0h0.8M94.8 209.0h0.8M96.3 209.2h0.8M105.8 205.1h0.8M99.5 209.6h0.8M94.7 215.6h0.8M95.5 205.5h0.8M96.9 210.6h0.8M88.5 211.3h0.8M91.9 207.2h0.8M97.1 213.0h0.8M94.5 221.6h0.8" stroke="#555" stroke-width="0.8" stroke-opacity="0.7" fill="none"/>
<path d="M92.7 217.8h0.8M91.3 221.4h0.8M72.7 210.8h0.8M88.1 220.3h0.8M85.2 229.5h0.8M88.6 225.0h0.8M86.2 221.1h0.8M76.3 218.1h0.8M82.2 217.5h0.8M98.8 224.2h0.8M98.8 228.6h0.8M96.5 229.6h0.8M84.9 228.2h0.8M87.0 218.4h0.8M95.8 216.1h0.8M91.6 225.0h0.8M92.4 219.7h0.8M79.7 222.5h0.8M96.1 228.0h0.8M94.5 230.3h0.8M81.9 222.0h0.8M92.1 229.6h0.8M90.7 226.1h0.8M72.9 222.1h0.8M108.4 224.0h0.8M75.5 223.3h0.8M78.6 217.3h0.8M93.0 227.2h0.8M97.3 223.8h0.8M83.0 221.6h0.8M92.1 220.3h0.8M84.4 219.7h0.8M78.1 214.8h0.8M88.8 219.7h0.8M91.8 222.1h0.8M80.6 214.4h0.8M92.4 215.9h0.8M92.8 214.5h0.8M90.5 221.8h0.8M97.1 219.4h0.8M86.7 224.1h0.8M87.5 218.4h0.8M87.1 225.8h0.8M91.3 227.4h0.8M103.5 222.1h0.8M80.3 223.4h0.8M92.7 206.0h0.8M89.6 211.5h0.8M93.0 232.4h0.8M97.4 211.3h0.8M100.0 228.9h0.8M86.8 226.0h0.8M101.0 219.9h0.8M89.4 218.2h0.8M98.3 206.6h0.8M100.3 215.2h0.8M96.5 210.5h0.8M82.4 217.9h0.8M95.8 210.5h0.8M94.1 217.7h0.8M98.9 220.0h0.8M93.2 221.0h0.8M103.1 219.7h0.8M90.1 227.3h0.8M83.9 223.8h0.8M72.2 223.1h0.8M84.6 211.3h0.8M78.7 230.6h0.8M92.7 211.2h0.8M103.3 217.2h0.8M86.7 224.1h0.8M80.9 210.5h0.8M83.8 230.9h0.8M96.7 210.8h0.8M98.7 222.5h0.8M93.3 222.7h0.8M92.6 215.0h0.8M82.6 217.2h0.8M86.7 226.8h0.8M84.7 218.0h0.8M94.8 225.5h0.8M86.9 214.5h0.8M81.9 210.7h0.8M98.2 230.2h0.8M103.7 225.9h0.8M92.0 227.8h0.8M96.7 220.4h0.8M76.6 212.1h0.8M82.2 227.8h0.8M98.5 219.8h0.8M94.6 221.9h0.8M91.8 218.4h0.8M89.3 222.3h0.8M75.7 226.2h0.8M89.5 229.4h0.8M97.6 228.0h0.8M95.7 215.4h0.8M98.7 215.4h0.8M99.3 227.2h0.8M70.8 228.9h0.8M82.0 230.8h0.8M84.3 216.9h0.8M77.7 220.7h0.8M97.2 217.4h0.8M103.6 227.3h0.8M85.4 213.5h0.8M77.0 226.4h0.8M99.4 214.6h0.8M89.5 220.3h0.8M87.5 226.0h0.8M105.4 217.7h0.8M96.0 230.2h0.8M87.3 221.2h0.8M79.3 230.2h0.8M85.5 217.5h0.8M90.0 216.0h0.8M81.6 220.1h0.8M100.8 220.8h0.8M93.5 211.6h0.8M86.5 211.1h0.8M88.7 226.7h0.8M76.3 215.9h0.8M91.5 215.6h0.8M95.6 229.3h0.8M92.9 219.2h0.8M89.1 217.7h0.8M88.5 224.6h0.8M87.2 229.4h0.8M109.3 218.3h0.8M92.1 228.3h0.8M94.4 220.6h0.8M85.8 229.6h0.8M94.3 226.0h0.8M83.4 226.9h0.8M95.6 220.9h0.8M75.2 226.7h0.8M80.6 212.3h0.8M87.7 226.3h0.8M89.9 213.8h0.8M78.5 218.2h0.8" stroke="#555" stroke-width="0.8" stroke-opacity="0.7" fill="none"/>
<path d="M80.20 228.88L80.20 221.30Q80.20 211.20 89.03 211.20L89.97 211.20Q98.80 211.20 98.80 221.30L98.80 228.88Q98.80 231.40 96.47 231.40L82.53 231.40Q80.20 231.40 80.20 228.88Z" fill="rgba(25,25,25,0.03)" stroke="rgb(80,80,80)" stroke-width="0.7"/>
<path d="M81.57 227.94L81.57 221.48Q81.57 212.86 89.10 212.86L89.90 212.86Q97.43 212.86 97.43 221.48L97.43 227.94Q97.43 230.09 95.45 230.09L83.55 230.09Q81.57 230.09 81.57 227.94Z" fill="rgba(25,25,25,0.17)" stroke="rgb(72,72,72)" stroke-width="0.7"/>
<path d="M82.94 227.00L82.94 221.65Q82.94 214.52 89.17 214.52L89.83 214.52Q96.06 214.52 96.06 221.65L96.06 227.00Q96.06 228.78 94.42 228.78L84.58 228.78Q82.94 228.78 82.94 227.00Z" fill="rgba(25,25,25,0.17)" stroke="rgb(64,64,64)" stroke-width="0.7"/>
<path d="M84.30 226.06L84.30 221.83Q84.30 216.19 89.24 216.19L89.76 216.19Q94.70 216.19 94.70 221.83L94.70 226.06Q94.70 227.47 93.40 227.47L85.60 227.47Q84.30 227.47 84.30 226.06Z" fill="rgba(25,25,25,0.17)" stroke="rgb(56,56,56)" stroke-width="0.7"/>
<path d="M85.67 225.13L85.67 222.01Q85.67 217.85 89.31 217.85L89.69 217.85Q93.33 217.85 93.33 222.01L93.33 225.13Q93.33 226.16 92.37 226.16L86.63 226.16Q85.67 226.16 85.67 225.13Z" fill="rgba(25,25,25,0.17)" stroke="rgb(48,48,48)" stroke-width="0.7"/>
<path d="M87.04 224.19L87.04 222.18Q87.04 219.51 89.38 219.51L89.62 219.51Q91.96 219.51 91.96 222.18L91.96 224.19Q91.96 224.86 91.35 224.86L87.65 224.86Q87.04 224.86 87.04 224.19Z" fill="rgba(25,25,25,0.17)" stroke="rgb(40,40,40)" stroke-width="0.7"/>
<ellipse cx="90.00" cy="221.30" rx="1.21" ry="1.72" fill="#f4f4f4"/>
<line x1="79.70" y1="232.10" x2="99.30" y2="232.10" stroke="#222" stroke-width="1.4" stroke-linecap="butt"/>
<rect x="48.85" y="146.30" width="86.85" height="87.10" fill="none" stroke="#000" stroke-width="1.6"/>
<rect x="71.50" y="164.20" width="36.70" height="44.10" fill="none" stroke="#000" stroke-width="1.5"/>
<line x1="47.35" y1="168.08" x2="48.85" y2="168.08" stroke="#000" stroke-width="0.8" stroke-linecap="butt"/>
<line x1="70.56" y1="233.40" x2="70.56" y2="234.90" stroke="#000" stroke-width="0.8" stroke-linecap="butt"/>
<line x1="47.35" y1="189.85" x2="48.85" y2="189.85" stroke="#000" stroke-width="0.8" stroke-linecap="butt"/>
<line x1="92.28" y1="233.40" x2="92.28" y2="234.90" stroke="#000" stroke-width="0.8" stroke-linecap="butt"/>
<line x1="47.35" y1="211.62" x2="48.85" y2="211.62" stroke="#000" stroke-width="0.8" stroke-linecap="butt"/>
<line x1="113.99" y1="233.40" x2="113.99" y2="234.90" stroke="#000" stroke-width="0.8" stroke-linecap="butt"/>
<path d="M182.6 197.5h0.8M179.7 204.3h0.8M180.7 199.7h0.8M182.7 203.7h0.8M184.8 194.1h0.8M186.7 214.9h0.8M182.7 189.2h0.8M185.0 214.5h0.8M176.8 180.5h0.8M178.9 192.2h0.8M183.2 195.5h0.8M188.1 201.7h0.8M183.7 197.1h0.8M178.3 202.8h0.8M178.8 183.4h0.8M186.0 213.2h0.8M175.6 204.4h0.8M180.3 192.7h0.8M178.7 214.7h0.8M184.2 185.5h0.8M182.7 193.1h0.8M188.8 193.9h0.8M182.3 184.9h0.8M178.2 185.9h0.8M181.2 190.9h0.8M182.4 211.4h0.8M177.3 191.9h0.8M182.9 212.4h0.8M178.2 176.7h0.8M183.7 196.8h0.8M182.2 202.6h0.8M184.3 198.7h0.8M187.7 209.2h0.8M184.5 215.1h0.8M186.2 213.0h0.8M176.5 197.7h0.8M189.1 214.8h0.8M184.6 213.2h0.8M180.3 198.4h0.8M184.2 193.8h0.8M188.7 213.1h0.8M186.8 211.0h0.8M181.4 208.7h0.8M178.6 191.8h0.8M179.5 199.9h0.8M177.8 204.3h0.8M189.1 208.7h0.8M185.7 205.6h0.8M184.0 207.2h0.8M180.7 207.3h0.8M177.4 210.5h0.8M181.6 194.1h0.8M181.3 213.2h0.8M180.2 211.9h0.8M178.8 204.5h0.8M177.4 198.5h0.8M188.5 205.7h0.8M190.3 201.1h0.8M181.6 188.0h0.8M184.9 211.0h0.8M189.8 211.4h0.8M181.7 190.2h0.8M185.7 207.6h0.8M184.7 209.8h0.8M183.9 195.2h0.8M184.0 211.0h0.8M171.8 210.0h0.8M188.0 197.7h0.8M176.0 208.2h0.8M183.8 211.6h0.8M178.6 200.3h0.8M190.4 213.2h0.8M180.5 178.5h0.8M186.4 206.8h0.8M182.2 195.3h0.8M185.2 186.8h0.8M183.0 208.7h0.8M182.2 208.1h0.8M185.7 189.8h0.8M181.6 207.6h0.8M186.0 198.8h0.8M185.5 212.6h0.8M177.3 187.8h0.8M177.5 207.0h0.8M185.5 201.5h0.8M184.3 213.3h0.8M178.0 209.9h0.8M178.9 191.7h0.8M181.3 208.3h0.8M182.4 203.1h0.8M179.0 208.1h0.8M179.9 189.5h0.8M181.2 194.0h0.8" stroke="#666" stroke-width="0.8" stroke-opacity="0.7" fill="none"/>
<path d="M187.4 220.3h0.8M181.6 209.9h0.8M183.3 225.8h0.8M183.1 216.1h0.8M184.1 202.3h0.8M178.8 204.5h0.8M184.1 211.8h0.8M188.8 210.7h0.8M183.7 211.6h0.8M183.1 222.6h0.8M183.6 218.5h0.8M187.1 208.7h0.8M185.0 209.6h0.8M183.0 211.9h0.8M182.7 208.8h0.8M188.0 210.6h0.8M185.1 219.8h0.8M184.8 216.5h0.8M187.4 217.2h0.8M188.6 204.9h0.8M189.4 212.2h0.8M176.5 207.1h0.8M177.7 210.3h0.8M177.4 205.4h0.8M183.6 212.0h0.8M179.8 209.5h0.8M182.3 211.4h0.8M182.6 210.0h0.8M185.7 203.6h0.8M180.9 211.5h0.8M181.2 208.2h0.8M181.1 211.9h0.8M187.0 210.8h0.8M181.7 212.7h0.8M181.8 201.4h0.8M183.5 209.4h0.8M180.6 213.9h0.8M182.8 208.3h0.8M175.0 201.5h0.8M182.6 210.5h0.8M184.1 212.4h0.8M180.9 204.6h0.8M178.8 209.9h0.8M178.6 214.3h0.8M178.0 201.5h0.8M181.9 202.2h0.8M188.3 207.0h0.8M182.4 209.9h0.8" stroke="#555" stroke-width="0.8" stroke-opacity="0.7" fill="none"/>
<path d="M170.0 208.6h0.8M159.0 228.7h0.8M163.2 226.4h0.8M178.5 228.6h0.8M173.2 227.6h0.8M188.0 226.7h0.8M193.8 220.8h0.8M194.9 216.7h0.8M196.2 201.1h0.8M178.7 216.0h0.8M178.6 230.0h0.8M186.2 222.8h0.8M196.5 210.8h0.8M182.1 206.2h0.8M182.2 213.0h0.8M194.2 230.9h0.8M172.8 232.0h0.8M169.8 229.1h0.8M184.7 221.1h0.8M163.6 220.0h0.8M154.5 217.8h0.8M159.1 231.4h0.8M168.4 203.5h0.8M184.8 224.9h0.8M186.8 222.6h0.8M171.8 199.5h0.8M183.7 229.4h0.8M172.4 211.3h0.8M178.2 209.3h0.8M178.7 228.0h0.8M194.5 224.1h0.8M180.7 227.8h0.8M193.4 219.7h0.8M165.7 216.0h0.8M165.3 215.3h0.8M177.3 224.7h0.8M180.2 222.6h0.8M174.8 225.3h0.8M187.9 227.9h0.8M194.4 219.9h0.8M180.7 225.3h0.8M175.1 229.5h0.8M174.4 214.4h0.8M178.0 218.7h0.8M187.4 219.2h0.8M179.9 220.4h0.8M182.2 217.3h0.8M190.2 211.2h0.8M174.5 216.7h0.8M185.4 222.4h0.8M183.7 219.6h0.8M171.0 213.5h0.8M175.1 218.0h0.8M181.6 224.8h0.8M188.9 221.3h0.8M170.7 214.0h0.8M179.2 224.9h0.8M199.1 223.5h0.8M167.5 231.4h0.8M190.6 232.4h0.8M178.5 229.4h0.8M173.5 221.6h0.8M176.3 229.4h0.8M179.3 216.7h0.8M181.2 227.1h0.8M171.1 227.0h0.8M171.1 215.4h0.8M180.9 220.3h0.8M168.2 209.6h0.8M178.8 224.0h0.8M173.8 223.5h0.8M162.5 225.1h0.8M183.0 224.2h0.8M172.1 222.7h0.8M180.0 230.3h0.8M181.5 224.0h0.8M171.0 228.7h0.8M191.0 218.3h0.8M185.3 224.5h0.8M178.1 212.3h0.8M197.1 207.8h0.8M181.8 219.2h0.8M190.7 218.9h0.8M179.0 226.8h0.8M183.4 218.1h0.8M185.8 225.1h0.8M189.0 218.2h0.8M178.1 219.1h0.8M169.8 224.0h0.8M175.2 225.1h0.8M190.6 221.2h0.8M179.3 223.1h0.8M171.3 214.6h0.8M190.3 223.4h0.8M177.8 212.6h0.8M179.8 231.0h0.8M166.5 215.3h0.8M194.9 217.9h0.8M184.9 216.4h0.8M184.1 219.3h0.8M180.7 232.3h0.8M182.2 220.3h0.8M179.2 224.1h0.8M173.2 223.7h0.8M157.0 213.0h0.8M165.6 228.8h0.8M204.2 223.6h0.8M179.9 230.8h0.8M153.0 220.7h0.8M145.9 223.3h0.8M173.3 218.4h0.8M182.2 217.7h0.8M190.2 222.1h0.8M173.9 229.1h0.8M169.9 231.6h0.8M188.7 223.2h0.8M193.0 222.1h0.8M178.0 230.5h0.8M163.2 217.5h0.8M183.7 226.4h0.8M182.0 225.4h0.8M164.8 220.7h0.8M181.3 220.4h0.8M179.2 226.7h0.8M168.7 217.8h0.8M160.0 230.8h0.8M167.6 209.2h0.8M186.6 220.5h0.8M188.7 219.3h0.8M200.8 227.5h0.8M180.2 223.0h0.8M176.5 228.2h0.8M199.4 218.9h0.8M167.3 226.6h0.8M189.7 210.8h0.8M171.4 214.6h0.8M184.5 225.9h0.8M171.0 213.6h0.8M185.7 206.6h0.8M185.3 220.9h0.8" stroke="#555" stroke-width="0.8" stroke-opacity="0.7" fill="none"/>
<path d="M166.20 225.69L166.20 217.07Q166.20 210.90 173.02 210.90L184.18 210.90Q191.00 210.90 191.00 217.07L191.00 225.69Q191.00 231.30 184.18 231.30L173.02 231.30Q166.20 231.30 166.20 225.69Z" fill="rgba(25,25,25,0.03)" stroke="rgb(80,80,80)" stroke-width="0.7"/>
<path d="M168.02 225.19L168.02 217.84Q168.02 212.58 173.84 212.58L183.36 212.58Q189.18 212.58 189.18 217.84L189.18 225.19Q189.18 229.98 183.36 229.98L173.84 229.98Q168.02 229.98 168.02 225.19Z" fill="rgba(25,25,25,0.17)" stroke="rgb(72,72,72)" stroke-width="0.7"/>
<path d="M169.85 224.69L169.85 218.61Q169.85 214.25 174.66 214.25L182.54 214.25Q187.35 214.25 187.35 218.61L187.35 224.69Q187.35 228.65 182.54 228.65L174.66 228.65Q169.85 228.65 169.85 224.69Z" fill="rgba(25,25,25,0.17)" stroke="rgb(64,64,64)" stroke-width="0.7"/>
<path d="M171.67 224.19L171.67 219.38Q171.67 215.93 175.48 215.93L181.72 215.93Q185.53 215.93 185.53 219.38L185.53 224.19Q185.53 227.33 181.72 227.33L175.48 227.33Q171.67 227.33 171.67 224.19Z" fill="rgba(25,25,25,0.17)" stroke="rgb(56,56,56)" stroke-width="0.7"/>
<path d="M173.49 223.70L173.49 220.15Q173.49 217.61 176.30 217.61L180.90 217.61Q183.71 217.61 183.71 220.15L183.71 223.70Q183.71 226.01 180.90 226.01L176.30 226.01Q173.49 226.01 173.49 223.70Z" fill="rgba(25,25,25,0.17)" stroke="rgb(48,48,48)" stroke-width="0.7"/>
<path d="M175.32 223.20L175.32 220.92Q175.32 219.28 177.12 219.28L180.08 219.28Q181.88 219.28 181.88 220.92L181.88 223.20Q181.88 224.68 180.08 224.68L177.12 224.68Q175.32 224.68 175.32 223.20Z" fill="rgba(25,25,25,0.17)" stroke="rgb(40,40,40)" stroke-width="0.7"/>
<ellipse cx="179.10" cy="221.10" rx="1.61" ry="1.73" fill="#f4f4f4"/>
<line x1="165.70" y1="232.10" x2="191.50" y2="232.10" stroke="#222" stroke-width="1.4" stroke-linecap="butt"/>
<rect x="141.20" y="146.30" width="86.70" height="87.10" fill="none" stroke="#000" stroke-width="1.6"/>
<rect x="163.85" y="164.20" width="36.95" height="44.10" fill="none" stroke="#000" stroke-width="1.5"/>
<line x1="139.70" y1="168.08" x2="141.20" y2="168.08" stroke="#000" stroke-width="0.8" stroke-linecap="butt"/>
<line x1="162.88" y1="233.40" x2="162.88" y2="234.90" stroke="#000" stroke-width="0.8" stroke-linecap="butt"/>
<line x1="139.70" y1="189.85" x2="141.20" y2="189.85" stroke="#000" stroke-width="0.8" stroke-linecap="butt"/>
<line x1="184.55" y1="233.40" x2="184.55" y2="234.90" stroke="#000" stroke-width="0.8" stroke-linecap="butt"/>
<line x1="139.70" y1="211.62" x2="141.20" y2="211.62" stroke="#000" stroke-width="0.8" stroke-linecap="butt"/>
<line x1="206.22" y1="233.40" x2="206.22" y2="234.90" stroke="#000" stroke-width="0.8" stroke-linecap="butt"/>
<text x="61.90" y="142.70" font-size="17" font-weight="bold" text-anchor="start" textLength="60.80" lengthAdjust="spacingAndGlyphs" >Control</text>
<text x="149.00" y="142.70" font-size="17" font-weight="bold" text-anchor="start" textLength="71.00" lengthAdjust="spacingAndGlyphs" >MB22-10</text>
<text x="76.20" y="161.60" font-size="13" font-weight="bold" text-anchor="start" textLength="32.00" lengthAdjust="spacingAndGlyphs" >1.9%</text>
<text x="168.75" y="161.60" font-size="13" font-weight="bold" text-anchor="start" textLength="32.00" lengthAdjust="spacingAndGlyphs" >1.1%</text>
<text x="41.00" y="231.00" font-size="15" font-weight="bold" text-anchor="start" textLength="33.00" lengthAdjust="spacingAndGlyphs" transform="rotate(-90 41.00 231.00)" >IL-10</text>
<line x1="37.50" y1="192.00" x2="37.50" y2="158.35" stroke="#000" stroke-width="1.9" stroke-linecap="butt"/>
<polygon points="37.50,143.85 31.00,162.35 37.50,158.95 44.00,162.35" fill="#000"/>
<text x="54.00" y="248.75" font-size="15" font-weight="bold" text-anchor="start" textLength="35.00" lengthAdjust="spacingAndGlyphs" >CD19</text>
<line x1="96.00" y1="243.60" x2="214.00" y2="243.60" stroke="#000" stroke-width="1.9" stroke-linecap="butt"/>
<polygon points="228.50,243.60 210.00,237.10 213.20,243.60 210.00,250.10" fill="#000"/>
<rect x="295.40" y="38.50" width="21.50" height="66.70" fill="#000"/>
<line x1="306.15" y1="38.50" x2="306.15" y2="35.60" stroke="#000" stroke-width="1.3" stroke-linecap="butt"/>
<line x1="303.85" y1="35.60" x2="308.45" y2="35.60" stroke="#000" stroke-width="1.3" stroke-linecap="butt"/>
<rect x="332.90" y="96.90" width="21.80" height="8.30" fill="#000"/>
<line x1="343.80" y1="96.90" x2="343.80" y2="94.50" stroke="#000" stroke-width="1.3" stroke-linecap="butt"/>
<line x1="341.50" y1="94.50" x2="346.10" y2="94.50" stroke="#000" stroke-width="1.3" stroke-linecap="butt"/>
<rect x="283.80" y="18.60" width="80.70" height="86.60" fill="none" stroke="#000" stroke-width="1.5"/>
<line x1="280.80" y1="18.60" x2="283.80" y2="18.60" stroke="#000" stroke-width="1.2" stroke-linecap="butt"/>
<text x="279.30" y="21.53" font-size="9.8" font-weight="bold" text-anchor="end" >4</text>
<line x1="280.80" y1="40.40" x2="283.80" y2="40.40" stroke="#000" stroke-width="1.2" stroke-linecap="butt"/>
<text x="279.30" y="43.33" font-size="9.8" font-weight="bold" text-anchor="end" >3</text>
<line x1="280.80" y1="62.30" x2="283.80" y2="62.30" stroke="#000" stroke-width="1.2" stroke-linecap="butt"/>
<text x="279.30" y="65.23" font-size="9.8" font-weight="bold" text-anchor="end" >2</text>
<line x1="280.80" y1="84.40" x2="283.80" y2="84.40" stroke="#000" stroke-width="1.2" stroke-linecap="butt"/>
<text x="279.30" y="87.33" font-size="9.8" font-weight="bold" text-anchor="end" >1</text>
<line x1="280.80" y1="105.20" x2="283.80" y2="105.20" stroke="#000" stroke-width="1.2" stroke-linecap="butt"/>
<text x="279.30" y="108.13" font-size="9.8" font-weight="bold" text-anchor="end" >0</text>
<text x="343.80" y="95.65" font-size="15" font-weight="normal" text-anchor="middle" fill="#222" font-family='"DejaVu Sans", sans-serif' >**</text>
<text x="295.00" y="118.20" font-size="12.6" font-weight="bold" text-anchor="start" textLength="21.30" lengthAdjust="spacingAndGlyphs" >Ctrl</text>
<text x="322.70" y="118.20" font-size="12.6" font-weight="bold" text-anchor="start" textLength="52.30" lengthAdjust="spacingAndGlyphs" >MB22-10</text>
<text x="251.30" y="59.70" font-size="16" font-weight="bold" text-anchor="middle" textLength="87.30" lengthAdjust="spacingAndGlyphs" transform="rotate(-90 251.30 59.70)" >CD1d<tspan dy="-5.5" font-size="11">hi</tspan><tspan dy="5.5">CD5</tspan><tspan dy="-5.5" font-size="11.5">+</tspan></text>
<text x="266.90" y="64.40" font-size="16" font-weight="bold" text-anchor="middle" textLength="58.30" lengthAdjust="spacingAndGlyphs" transform="rotate(-90 266.90 64.40)" >B cells (%)</text>
<rect x="438.30" y="51.30" width="21.70" height="53.90" fill="#000"/>
<line x1="449.15" y1="51.30" x2="449.15" y2="49.00" stroke="#000" stroke-width="1.3" stroke-linecap="butt"/>
<line x1="446.85" y1="49.00" x2="451.45" y2="49.00" stroke="#000" stroke-width="1.3" stroke-linecap="butt"/>
<rect x="475.80" y="101.90" width="22.10" height="3.30" fill="#000"/>
<line x1="486.85" y1="101.90" x2="486.85" y2="99.40" stroke="#000" stroke-width="1.3" stroke-linecap="butt"/>
<line x1="484.55" y1="99.40" x2="489.15" y2="99.40" stroke="#000" stroke-width="1.3" stroke-linecap="butt"/>
<rect x="426.30" y="18.60" width="81.20" height="86.60" fill="none" stroke="#000" stroke-width="1.5"/>
<line x1="423.30" y1="18.60" x2="426.30" y2="18.60" stroke="#000" stroke-width="1.2" stroke-linecap="butt"/>
<text x="421.80" y="21.53" font-size="9.8" font-weight="bold" text-anchor="end" >3</text>
<line x1="423.30" y1="47.30" x2="426.30" y2="47.30" stroke="#000" stroke-width="1.2" stroke-linecap="butt"/>
<text x="421.80" y="50.23" font-size="9.8" font-weight="bold" text-anchor="end" >2</text>
<line x1="423.30" y1="77.10" x2="426.30" y2="77.10" stroke="#000" stroke-width="1.2" stroke-linecap="butt"/>
<text x="421.80" y="80.03" font-size="9.8" font-weight="bold" text-anchor="end" >1</text>
<line x1="423.30" y1="105.20" x2="426.30" y2="105.20" stroke="#000" stroke-width="1.2" stroke-linecap="butt"/>
<text x="421.80" y="108.13" font-size="9.8" font-weight="bold" text-anchor="end" >0</text>
<text x="487.30" y="102.95" font-size="15" font-weight="normal" text-anchor="middle" fill="#222" font-family='"DejaVu Sans", sans-serif' >**</text>
<text x="436.90" y="118.50" font-size="12.6" font-weight="bold" text-anchor="start" textLength="22.50" lengthAdjust="spacingAndGlyphs" >Ctrl</text>
<text x="465.20" y="118.50" font-size="12.6" font-weight="bold" text-anchor="start" textLength="52.50" lengthAdjust="spacingAndGlyphs" >MB22-10</text>
<text x="393.30" y="59.40" font-size="16" font-weight="bold" text-anchor="middle" textLength="88.20" lengthAdjust="spacingAndGlyphs" transform="rotate(-90 393.30 59.40)" >CD1d<tspan dy="-5.5" font-size="11">hi</tspan><tspan dy="5.5">CD5</tspan><tspan dy="-5.5" font-size="11.5">+</tspan></text>
<text x="408.90" y="56.10" font-size="16" font-weight="bold" text-anchor="middle" textLength="94.80" lengthAdjust="spacingAndGlyphs" transform="rotate(-90 408.90 56.10)" >B cells (x 10<tspan dy="-5" font-size="11">-6</tspan><tspan dy="5">)</tspan></text>
<rect x="294.90" y="169.70" width="21.80" height="63.90" fill="#000"/>
<line x1="305.80" y1="169.70" x2="305.80" y2="166.80" stroke="#000" stroke-width="1.3" stroke-linecap="butt"/>
<line x1="303.50" y1="166.80" x2="308.10" y2="166.80" stroke="#000" stroke-width="1.3" stroke-linecap="butt"/>
<rect x="333.00" y="197.00" width="21.50" height="36.60" fill="#000"/>
<line x1="343.75" y1="197.00" x2="343.75" y2="190.80" stroke="#000" stroke-width="1.3" stroke-linecap="butt"/>
<line x1="341.45" y1="190.80" x2="346.05" y2="190.80" stroke="#000" stroke-width="1.3" stroke-linecap="butt"/>
<rect x="283.50" y="146.40" width="81.00" height="87.20" fill="none" stroke="#000" stroke-width="1.5"/>
<line x1="280.50" y1="146.40" x2="283.50" y2="146.40" stroke="#000" stroke-width="1.2" stroke-linecap="butt"/>
<text x="279.00" y="149.33" font-size="9.8" font-weight="bold" text-anchor="end" >2.5</text>
<line x1="280.50" y1="163.90" x2="283.50" y2="163.90" stroke="#000" stroke-width="1.2" stroke-linecap="butt"/>
<text x="279.00" y="166.83" font-size="9.8" font-weight="bold" text-anchor="end" >2.0</text>
<line x1="280.50" y1="181.50" x2="283.50" y2="181.50" stroke="#000" stroke-width="1.2" stroke-linecap="butt"/>
<text x="279.00" y="184.43" font-size="9.8" font-weight="bold" text-anchor="end" >1.5</text>
<line x1="280.50" y1="199.10" x2="283.50" y2="199.10" stroke="#000" stroke-width="1.2" stroke-linecap="butt"/>
<text x="279.00" y="202.03" font-size="9.8" font-weight="bold" text-anchor="end" >1.0</text>
<line x1="280.50" y1="216.30" x2="283.50" y2="216.30" stroke="#000" stroke-width="1.2" stroke-linecap="butt"/>
<text x="279.00" y="219.23" font-size="9.8" font-weight="bold" text-anchor="end" >0.5</text>
<line x1="280.50" y1="233.60" x2="283.50" y2="233.60" stroke="#000" stroke-width="1.2" stroke-linecap="butt"/>
<text x="279.00" y="236.53" font-size="9.8" font-weight="bold" text-anchor="end" >0</text>
<text x="344.00" y="194.45" font-size="15" font-weight="normal" text-anchor="middle" fill="#222" font-family='"DejaVu Sans", sans-serif' >**</text>
<text x="294.50" y="245.30" font-size="12.6" font-weight="bold" text-anchor="start" textLength="21.50" lengthAdjust="spacingAndGlyphs" >Ctrl</text>
<text x="322.50" y="245.30" font-size="12.6" font-weight="bold" text-anchor="start" textLength="52.00" lengthAdjust="spacingAndGlyphs" >MB22-10</text>
<text x="244.80" y="190.90" font-size="16.5" font-weight="bold" text-anchor="middle" textLength="94.80" lengthAdjust="spacingAndGlyphs" transform="rotate(-90 244.80 190.90)" >IL-10<tspan dy="-5" font-size="11.5">+</tspan><tspan dy="5"> B cells</tspan></text>
<text x="257.80" y="188.90" font-size="10.8" font-weight="bold" text-anchor="middle" textLength="22.20" lengthAdjust="spacingAndGlyphs" transform="rotate(-90 257.80 188.90)" >(%)</text>
<rect x="438.00" y="176.80" width="22.00" height="56.80" fill="#000"/>
<line x1="449.00" y1="176.80" x2="449.00" y2="172.60" stroke="#000" stroke-width="1.3" stroke-linecap="butt"/>
<line x1="446.70" y1="172.60" x2="451.30" y2="172.60" stroke="#000" stroke-width="1.3" stroke-linecap="butt"/>
<rect x="476.50" y="209.20" width="21.50" height="24.40" fill="#000"/>
<line x1="487.25" y1="209.20" x2="487.25" y2="204.30" stroke="#000" stroke-width="1.3" stroke-linecap="butt"/>
<line x1="484.95" y1="204.30" x2="489.55" y2="204.30" stroke="#000" stroke-width="1.3" stroke-linecap="butt"/>
<rect x="426.00" y="146.40" width="81.50" height="87.20" fill="none" stroke="#000" stroke-width="1.5"/>
<line x1="423.00" y1="146.40" x2="426.00" y2="146.40" stroke="#000" stroke-width="1.2" stroke-linecap="butt"/>
<text x="421.50" y="149.33" font-size="9.8" font-weight="bold" text-anchor="end" >2.0</text>
<line x1="423.00" y1="168.40" x2="426.00" y2="168.40" stroke="#000" stroke-width="1.2" stroke-linecap="butt"/>
<text x="421.50" y="171.33" font-size="9.8" font-weight="bold" text-anchor="end" >1.5</text>
<line x1="423.00" y1="190.20" x2="426.00" y2="190.20" stroke="#000" stroke-width="1.2" stroke-linecap="butt"/>
<text x="421.50" y="193.13" font-size="9.8" font-weight="bold" text-anchor="end" >1.0</text>
<line x1="423.00" y1="212.20" x2="426.00" y2="212.20" stroke="#000" stroke-width="1.2" stroke-linecap="butt"/>
<text x="421.50" y="215.13" font-size="9.8" font-weight="bold" text-anchor="end" >0.5</text>
<line x1="423.00" y1="233.60" x2="426.00" y2="233.60" stroke="#000" stroke-width="1.2" stroke-linecap="butt"/>
<text x="421.50" y="236.53" font-size="9.8" font-weight="bold" text-anchor="end" >0</text>
<text x="487.40" y="207.35" font-size="15" font-weight="normal" text-anchor="middle" fill="#222" font-family='"DejaVu Sans", sans-serif' >**</text>
<text x="436.90" y="245.30" font-size="12.6" font-weight="bold" text-anchor="start" textLength="22.50" lengthAdjust="spacingAndGlyphs" >Ctrl</text>
<text x="465.20" y="245.30" font-size="12.6" font-weight="bold" text-anchor="start" textLength="52.50" lengthAdjust="spacingAndGlyphs" >MB22-10</text>
<text x="386.20" y="187.50" font-size="16.5" font-weight="bold" text-anchor="middle" textLength="94.90" lengthAdjust="spacingAndGlyphs" transform="rotate(-90 386.20 187.50)" >IL-10<tspan dy="-5" font-size="11.5">+</tspan><tspan dy="5"> B cells</tspan></text>
<text x="400.20" y="184.10" font-size="10.8" font-weight="bold" text-anchor="middle" textLength="41.00" lengthAdjust="spacingAndGlyphs" transform="rotate(-90 400.20 184.10)" >(x 10<tspan dy="-3.5" font-size="8">-6</tspan><tspan dy="3.5">)</tspan></text>
<line x1="67.70" y1="278.20" x2="67.70" y2="439.90" stroke="#000" stroke-width="1.3" stroke-linecap="butt"/>
<line x1="21.00" y1="439.30" x2="264.90" y2="439.30" stroke="#000" stroke-width="1.3" stroke-linecap="butt"/>
<line x1="64.20" y1="439.30" x2="67.70" y2="439.30" stroke="#000" stroke-width="1.2" stroke-linecap="butt"/>
<line x1="64.20" y1="407.20" x2="67.70" y2="407.20" stroke="#000" stroke-width="1.2" stroke-linecap="butt"/>
<text x="61.50" y="411.90" font-size="12" font-weight="bold" text-anchor="end" textLength="5.80" lengthAdjust="spacingAndGlyphs" >1</text>
<line x1="64.20" y1="375.10" x2="67.70" y2="375.10" stroke="#000" stroke-width="1.2" stroke-linecap="butt"/>
<text x="61.50" y="379.80" font-size="12" font-weight="bold" text-anchor="end" textLength="5.80" lengthAdjust="spacingAndGlyphs" >2</text>
<line x1="64.20" y1="343.00" x2="67.70" y2="343.00" stroke="#000" stroke-width="1.2" stroke-linecap="butt"/>
<text x="61.50" y="347.70" font-size="12" font-weight="bold" text-anchor="end" textLength="5.80" lengthAdjust="spacingAndGlyphs" >3</text>
<line x1="64.20" y1="310.90" x2="67.70" y2="310.90" stroke="#000" stroke-width="1.2" stroke-linecap="butt"/>
<text x="61.50" y="315.60" font-size="12" font-weight="bold" text-anchor="end" textLength="5.80" lengthAdjust="spacingAndGlyphs" >4</text>
<line x1="64.20" y1="278.80" x2="67.70" y2="278.80" stroke="#000" stroke-width="1.2" stroke-linecap="butt"/>
<text x="61.50" y="283.50" font-size="12" font-weight="bold" text-anchor="end" textLength="5.80" lengthAdjust="spacingAndGlyphs" >5</text>
<line x1="24.50" y1="439.30" x2="24.50" y2="442.80" stroke="#000" stroke-width="1.2" stroke-linecap="butt"/>
<text x="23.70" y="454.10" font-size="11" font-weight="bold" text-anchor="middle" textLength="8.60" lengthAdjust="spacingAndGlyphs" >-7</text>
<line x1="67.70" y1="439.30" x2="67.70" y2="442.80" stroke="#000" stroke-width="1.2" stroke-linecap="butt"/>
<text x="66.90" y="454.10" font-size="11" font-weight="bold" text-anchor="middle" textLength="5.20" lengthAdjust="spacingAndGlyphs" >0</text>
<line x1="133.20" y1="439.30" x2="133.20" y2="442.80" stroke="#000" stroke-width="1.2" stroke-linecap="butt"/>
<text x="132.40" y="454.10" font-size="11" font-weight="bold" text-anchor="middle" textLength="10.40" lengthAdjust="spacingAndGlyphs" >10</text>
<line x1="198.70" y1="439.30" x2="198.70" y2="442.80" stroke="#000" stroke-width="1.2" stroke-linecap="butt"/>
<text x="197.90" y="454.10" font-size="11" font-weight="bold" text-anchor="middle" textLength="10.40" lengthAdjust="spacingAndGlyphs" >20</text>
<line x1="264.30" y1="439.30" x2="264.30" y2="442.80" stroke="#000" stroke-width="1.2" stroke-linecap="butt"/>
<text x="263.50" y="454.10" font-size="11" font-weight="bold" text-anchor="middle" textLength="10.40" lengthAdjust="spacingAndGlyphs" >30</text>
<polyline points="67.20,439.30 73.85,439.30 80.50,439.30 87.15,439.30 93.80,439.30 100.45,439.30 107.10,439.30 113.75,439.30 120.40,439.30 127.05,439.30 133.70,439.30 140.35,431.28 147.00,410.41 153.65,384.73 160.30,359.05 166.95,330.16 173.60,318.28 180.25,312.18 186.90,305.44 193.55,305.44 200.20,311.54 206.85,311.54 213.50,327.91 220.15,327.91 226.80,342.68 233.45,347.81 240.10,350.70 246.75,353.27 253.40,352.63" fill="none" stroke="#000" stroke-width="1.4"/>
<line x1="140.35" y1="431.28" x2="140.35" y2="428.07" stroke="#000" stroke-width="1.4" stroke-linecap="butt"/>
<line x1="137.25" y1="428.07" x2="143.45" y2="428.07" stroke="#000" stroke-width="1.4" stroke-linecap="butt"/>
<line x1="147.00" y1="410.41" x2="147.00" y2="404.31" stroke="#000" stroke-width="1.4" stroke-linecap="butt"/>
<line x1="143.90" y1="404.31" x2="150.10" y2="404.31" stroke="#000" stroke-width="1.4" stroke-linecap="butt"/>
<line x1="153.65" y1="384.73" x2="153.65" y2="377.99" stroke="#000" stroke-width="1.4" stroke-linecap="butt"/>
<line x1="150.55" y1="377.99" x2="156.75" y2="377.99" stroke="#000" stroke-width="1.4" stroke-linecap="butt"/>
<line x1="160.30" y1="359.05" x2="160.30" y2="349.74" stroke="#000" stroke-width="1.4" stroke-linecap="butt"/>
<line x1="157.20" y1="349.74" x2="163.40" y2="349.74" stroke="#000" stroke-width="1.4" stroke-linecap="butt"/>
<line x1="166.95" y1="330.16" x2="166.95" y2="321.49" stroke="#000" stroke-width="1.4" stroke-linecap="butt"/>
<line x1="163.85" y1="321.49" x2="170.05" y2="321.49" stroke="#000" stroke-width="1.4" stroke-linecap="butt"/>
<line x1="173.60" y1="318.28" x2="173.60" y2="308.01" stroke="#000" stroke-width="1.4" stroke-linecap="butt"/>
<line x1="170.50" y1="308.01" x2="176.70" y2="308.01" stroke="#000" stroke-width="1.4" stroke-linecap="butt"/>
<line x1="180.25" y1="312.18" x2="180.25" y2="302.23" stroke="#000" stroke-width="1.4" stroke-linecap="butt"/>
<line x1="177.15" y1="302.23" x2="183.35" y2="302.23" stroke="#000" stroke-width="1.4" stroke-linecap="butt"/>
<line x1="186.90" y1="305.44" x2="186.90" y2="297.42" stroke="#000" stroke-width="1.4" stroke-linecap="butt"/>
<line x1="183.80" y1="297.42" x2="190.00" y2="297.42" stroke="#000" stroke-width="1.4" stroke-linecap="butt"/>
<line x1="193.55" y1="305.44" x2="193.55" y2="296.45" stroke="#000" stroke-width="1.4" stroke-linecap="butt"/>
<line x1="190.45" y1="296.45" x2="196.65" y2="296.45" stroke="#000" stroke-width="1.4" stroke-linecap="butt"/>
<line x1="200.20" y1="311.54" x2="200.20" y2="302.55" stroke="#000" stroke-width="1.4" stroke-linecap="butt"/>
<line x1="197.10" y1="302.55" x2="203.30" y2="302.55" stroke="#000" stroke-width="1.4" stroke-linecap="butt"/>
<line x1="206.85" y1="311.54" x2="206.85" y2="302.23" stroke="#000" stroke-width="1.4" stroke-linecap="butt"/>
<line x1="203.75" y1="302.23" x2="209.95" y2="302.23" stroke="#000" stroke-width="1.4" stroke-linecap="butt"/>
<line x1="213.50" y1="327.91" x2="213.50" y2="317.00" stroke="#000" stroke-width="1.4" stroke-linecap="butt"/>
<line x1="210.40" y1="317.00" x2="216.60" y2="317.00" stroke="#000" stroke-width="1.4" stroke-linecap="butt"/>
<line x1="220.15" y1="327.91" x2="220.15" y2="317.00" stroke="#000" stroke-width="1.4" stroke-linecap="butt"/>
<line x1="217.05" y1="317.00" x2="223.25" y2="317.00" stroke="#000" stroke-width="1.4" stroke-linecap="butt"/>
<line x1="226.80" y1="342.68" x2="226.80" y2="331.12" stroke="#000" stroke-width="1.4" stroke-linecap="butt"/>
<line x1="223.70" y1="331.12" x2="229.90" y2="331.12" stroke="#000" stroke-width="1.4" stroke-linecap="butt"/>
<line x1="233.45" y1="347.81" x2="233.45" y2="334.98" stroke="#000" stroke-width="1.4" stroke-linecap="butt"/>
<line x1="230.35" y1="334.98" x2="236.55" y2="334.98" stroke="#000" stroke-width="1.4" stroke-linecap="butt"/>
<line x1="240.10" y1="350.70" x2="240.10" y2="337.86" stroke="#000" stroke-width="1.4" stroke-linecap="butt"/>
<line x1="237.00" y1="337.86" x2="243.20" y2="337.86" stroke="#000" stroke-width="1.4" stroke-linecap="butt"/>
<line x1="246.75" y1="353.27" x2="246.75" y2="340.43" stroke="#000" stroke-width="1.4" stroke-linecap="butt"/>
<line x1="243.65" y1="340.43" x2="249.85" y2="340.43" stroke="#000" stroke-width="1.4" stroke-linecap="butt"/>
<line x1="253.40" y1="352.63" x2="253.40" y2="340.43" stroke="#000" stroke-width="1.4" stroke-linecap="butt"/>
<line x1="250.30" y1="340.43" x2="256.50" y2="340.43" stroke="#000" stroke-width="1.4" stroke-linecap="butt"/>
<circle cx="67.20" cy="439.30" r="3.1999999999999997" fill="#000" stroke="#000" stroke-width="1.25"/>
<circle cx="73.85" cy="439.30" r="3.1999999999999997" fill="#000" stroke="#000" stroke-width="1.25"/>
<circle cx="80.50" cy="439.30" r="3.1999999999999997" fill="#000" stroke="#000" stroke-width="1.25"/>
<circle cx="87.15" cy="439.30" r="3.1999999999999997" fill="#000" stroke="#000" stroke-width="1.25"/>
<circle cx="93.80" cy="439.30" r="3.1999999999999997" fill="#000" stroke="#000" stroke-width="1.25"/>
<circle cx="100.45" cy="439.30" r="3.1999999999999997" fill="#000" stroke="#000" stroke-width="1.25"/>
<circle cx="107.10" cy="439.30" r="3.1999999999999997" fill="#000" stroke="#000" stroke-width="1.25"/>
<circle cx="113.75" cy="439.30" r="3.1999999999999997" fill="#000" stroke="#000" stroke-width="1.25"/>
<circle cx="120.40" cy="439.30" r="3.1999999999999997" fill="#000" stroke="#000" stroke-width="1.25"/>
<circle cx="127.05" cy="439.30" r="3.1999999999999997" fill="#000" stroke="#000" stroke-width="1.25"/>
<circle cx="133.70" cy="439.30" r="3.1999999999999997" fill="#000" stroke="#000" stroke-width="1.25"/>
<circle cx="140.35" cy="431.28" r="3.1999999999999997" fill="#000" stroke="#000" stroke-width="1.25"/>
<circle cx="147.00" cy="410.41" r="3.1999999999999997" fill="#000" stroke="#000" stroke-width="1.25"/>
<circle cx="153.65" cy="384.73" r="3.1999999999999997" fill="#000" stroke="#000" stroke-width="1.25"/>
<circle cx="160.30" cy="359.05" r="3.1999999999999997" fill="#000" stroke="#000" stroke-width="1.25"/>
<circle cx="166.95" cy="330.16" r="3.1999999999999997" fill="#000" stroke="#000" stroke-width="1.25"/>
<circle cx="173.60" cy="318.28" r="3.1999999999999997" fill="#000" stroke="#000" stroke-width="1.25"/>
<circle cx="180.25" cy="312.18" r="3.1999999999999997" fill="#000" stroke="#000" stroke-width="1.25"/>
<circle cx="186.90" cy="305.44" r="3.1999999999999997" fill="#000" stroke="#000" stroke-width="1.25"/>
<circle cx="193.55" cy="305.44" r="3.1999999999999997" fill="#000" stroke="#000" stroke-width="1.25"/>
<circle cx="200.20" cy="311.54" r="3.1999999999999997" fill="#000" stroke="#000" stroke-width="1.25"/>
<circle cx="206.85" cy="311.54" r="3.1999999999999997" fill="#000" stroke="#000" stroke-width="1.25"/>
<circle cx="213.50" cy="327.91" r="3.1999999999999997" fill="#000" stroke="#000" stroke-width="1.25"/>
<circle cx="220.15" cy="327.91" r="3.1999999999999997" fill="#000" stroke="#000" stroke-width="1.25"/>
<circle cx="226.80" cy="342.68" r="3.1999999999999997" fill="#000" stroke="#000" stroke-width="1.25"/>
<circle cx="233.45" cy="347.81" r="3.1999999999999997" fill="#000" stroke="#000" stroke-width="1.25"/>
<circle cx="240.10" cy="350.70" r="3.1999999999999997" fill="#000" stroke="#000" stroke-width="1.25"/>
<circle cx="246.75" cy="353.27" r="3.1999999999999997" fill="#000" stroke="#000" stroke-width="1.25"/>
<circle cx="253.40" cy="352.63" r="3.1999999999999997" fill="#000" stroke="#000" stroke-width="1.25"/>
<polyline points="67.20,439.30 73.85,439.30 80.50,439.30 87.15,439.30 93.80,439.30 100.45,439.30 107.10,439.30 113.75,439.30 120.40,439.30 127.05,439.30 133.70,439.30 140.35,434.16 147.00,425.18 153.65,417.79 160.30,395.00 166.95,369.32 173.60,364.19 180.25,350.38 186.90,350.70 193.55,356.48 200.20,366.43 206.85,363.87 213.50,366.43 220.15,369.96 226.80,376.06 233.45,373.50 240.10,386.34 246.75,388.90 253.40,388.26" fill="none" stroke="#000" stroke-width="1.4"/>
<line x1="140.35" y1="434.16" x2="140.35" y2="436.73" stroke="#000" stroke-width="1.4" stroke-linecap="butt"/>
<line x1="137.25" y1="436.73" x2="143.45" y2="436.73" stroke="#000" stroke-width="1.4" stroke-linecap="butt"/>
<line x1="147.00" y1="425.18" x2="147.00" y2="429.67" stroke="#000" stroke-width="1.4" stroke-linecap="butt"/>
<line x1="143.90" y1="429.67" x2="150.10" y2="429.67" stroke="#000" stroke-width="1.4" stroke-linecap="butt"/>
<line x1="153.65" y1="417.79" x2="153.65" y2="423.57" stroke="#000" stroke-width="1.4" stroke-linecap="butt"/>
<line x1="150.55" y1="423.57" x2="156.75" y2="423.57" stroke="#000" stroke-width="1.4" stroke-linecap="butt"/>
<line x1="160.30" y1="395.00" x2="160.30" y2="406.24" stroke="#000" stroke-width="1.4" stroke-linecap="butt"/>
<line x1="157.20" y1="406.24" x2="163.40" y2="406.24" stroke="#000" stroke-width="1.4" stroke-linecap="butt"/>
<line x1="166.95" y1="369.32" x2="166.95" y2="380.88" stroke="#000" stroke-width="1.4" stroke-linecap="butt"/>
<line x1="163.85" y1="380.88" x2="170.05" y2="380.88" stroke="#000" stroke-width="1.4" stroke-linecap="butt"/>
<line x1="173.60" y1="364.19" x2="173.60" y2="375.42" stroke="#000" stroke-width="1.4" stroke-linecap="butt"/>
<line x1="170.50" y1="375.42" x2="176.70" y2="375.42" stroke="#000" stroke-width="1.4" stroke-linecap="butt"/>
<line x1="180.25" y1="350.38" x2="180.25" y2="363.22" stroke="#000" stroke-width="1.4" stroke-linecap="butt"/>
<line x1="177.15" y1="363.22" x2="183.35" y2="363.22" stroke="#000" stroke-width="1.4" stroke-linecap="butt"/>
<line x1="186.90" y1="350.70" x2="186.90" y2="363.54" stroke="#000" stroke-width="1.4" stroke-linecap="butt"/>
<line x1="183.80" y1="363.54" x2="190.00" y2="363.54" stroke="#000" stroke-width="1.4" stroke-linecap="butt"/>
<line x1="193.55" y1="356.48" x2="193.55" y2="367.72" stroke="#000" stroke-width="1.4" stroke-linecap="butt"/>
<line x1="190.45" y1="367.72" x2="196.65" y2="367.72" stroke="#000" stroke-width="1.4" stroke-linecap="butt"/>
<line x1="200.20" y1="366.43" x2="200.20" y2="374.14" stroke="#000" stroke-width="1.4" stroke-linecap="butt"/>
<line x1="197.10" y1="374.14" x2="203.30" y2="374.14" stroke="#000" stroke-width="1.4" stroke-linecap="butt"/>
<line x1="206.85" y1="363.87" x2="206.85" y2="372.85" stroke="#000" stroke-width="1.4" stroke-linecap="butt"/>
<line x1="203.75" y1="372.85" x2="209.95" y2="372.85" stroke="#000" stroke-width="1.4" stroke-linecap="butt"/>
<line x1="213.50" y1="366.43" x2="213.50" y2="375.42" stroke="#000" stroke-width="1.4" stroke-linecap="butt"/>
<line x1="210.40" y1="375.42" x2="216.60" y2="375.42" stroke="#000" stroke-width="1.4" stroke-linecap="butt"/>
<line x1="220.15" y1="369.96" x2="220.15" y2="379.27" stroke="#000" stroke-width="1.4" stroke-linecap="butt"/>
<line x1="217.05" y1="379.27" x2="223.25" y2="379.27" stroke="#000" stroke-width="1.4" stroke-linecap="butt"/>
<line x1="226.80" y1="376.06" x2="226.80" y2="383.77" stroke="#000" stroke-width="1.4" stroke-linecap="butt"/>
<line x1="223.70" y1="383.77" x2="229.90" y2="383.77" stroke="#000" stroke-width="1.4" stroke-linecap="butt"/>
<line x1="233.45" y1="373.50" x2="233.45" y2="380.88" stroke="#000" stroke-width="1.4" stroke-linecap="butt"/>
<line x1="230.35" y1="380.88" x2="236.55" y2="380.88" stroke="#000" stroke-width="1.4" stroke-linecap="butt"/>
<line x1="240.10" y1="386.34" x2="240.10" y2="394.04" stroke="#000" stroke-width="1.4" stroke-linecap="butt"/>
<line x1="237.00" y1="394.04" x2="243.20" y2="394.04" stroke="#000" stroke-width="1.4" stroke-linecap="butt"/>
<line x1="246.75" y1="388.90" x2="246.75" y2="395.64" stroke="#000" stroke-width="1.4" stroke-linecap="butt"/>
<line x1="243.65" y1="395.64" x2="249.85" y2="395.64" stroke="#000" stroke-width="1.4" stroke-linecap="butt"/>
<line x1="253.40" y1="388.26" x2="253.40" y2="395.32" stroke="#000" stroke-width="1.4" stroke-linecap="butt"/>
<line x1="250.30" y1="395.32" x2="256.50" y2="395.32" stroke="#000" stroke-width="1.4" stroke-linecap="butt"/>
<circle cx="67.20" cy="439.30" r="2.9" fill="#fff" stroke="#000" stroke-width="1.25"/>
<circle cx="73.85" cy="439.30" r="2.9" fill="#fff" stroke="#000" stroke-width="1.25"/>
<circle cx="80.50" cy="439.30" r="2.9" fill="#fff" stroke="#000" stroke-width="1.25"/>
<circle cx="87.15" cy="439.30" r="2.9" fill="#fff" stroke="#000" stroke-width="1.25"/>
<circle cx="93.80" cy="439.30" r="2.9" fill="#fff" stroke="#000" stroke-width="1.25"/>
<circle cx="100.45" cy="439.30" r="2.9" fill="#fff" stroke="#000" stroke-width="1.25"/>
<circle cx="107.10" cy="439.30" r="2.9" fill="#fff" stroke="#000" stroke-width="1.25"/>
<circle cx="113.75" cy="439.30" r="2.9" fill="#fff" stroke="#000" stroke-width="1.25"/>
<circle cx="120.40" cy="439.30" r="2.9" fill="#fff" stroke="#000" stroke-width="1.25"/>
<circle cx="127.05" cy="439.30" r="2.9" fill="#fff" stroke="#000" stroke-width="1.25"/>
<circle cx="133.70" cy="439.30" r="2.9" fill="#fff" stroke="#000" stroke-width="1.25"/>
<circle cx="140.35" cy="434.16" r="2.9" fill="#fff" stroke="#000" stroke-width="1.25"/>
<circle cx="147.00" cy="425.18" r="2.9" fill="#fff" stroke="#000" stroke-width="1.25"/>
<circle cx="153.65" cy="417.79" r="2.9" fill="#fff" stroke="#000" stroke-width="1.25"/>
<circle cx="160.30" cy="395.00" r="2.9" fill="#fff" stroke="#000" stroke-width="1.25"/>
<circle cx="166.95" cy="369.32" r="2.9" fill="#fff" stroke="#000" stroke-width="1.25"/>
<circle cx="173.60" cy="364.19" r="2.9" fill="#fff" stroke="#000" stroke-width="1.25"/>
<circle cx="180.25" cy="350.38" r="2.9" fill="#fff" stroke="#000" stroke-width="1.25"/>
<circle cx="186.90" cy="350.70" r="2.9" fill="#fff" stroke="#000" stroke-width="1.25"/>
<circle cx="193.55" cy="356.48" r="2.9" fill="#fff" stroke="#000" stroke-width="1.25"/>
<circle cx="200.20" cy="366.43" r="2.9" fill="#fff" stroke="#000" stroke-width="1.25"/>
<circle cx="206.85" cy="363.87" r="2.9" fill="#fff" stroke="#000" stroke-width="1.25"/>
<circle cx="213.50" cy="366.43" r="2.9" fill="#fff" stroke="#000" stroke-width="1.25"/>
<circle cx="220.15" cy="369.96" r="2.9" fill="#fff" stroke="#000" stroke-width="1.25"/>
<circle cx="226.80" cy="376.06" r="2.9" fill="#fff" stroke="#000" stroke-width="1.25"/>
<circle cx="233.45" cy="373.50" r="2.9" fill="#fff" stroke="#000" stroke-width="1.25"/>
<circle cx="240.10" cy="386.34" r="2.9" fill="#fff" stroke="#000" stroke-width="1.25"/>
<circle cx="246.75" cy="388.90" r="2.9" fill="#fff" stroke="#000" stroke-width="1.25"/>
<circle cx="253.40" cy="388.26" r="2.9" fill="#fff" stroke="#000" stroke-width="1.25"/>
<polygon points="24.30,454.00 19.80,469.80 28.80,469.80" fill="#000"/>
<polygon points="67.80,454.00 63.30,469.80 72.30,469.80" fill="#000"/>
<polygon points="114.30,454.00 109.80,469.80 118.80,469.80" fill="#000"/>
<polygon points="160.50,454.00 156.00,469.80 165.00,469.80" fill="#000"/>
<polygon points="208.30,454.00 203.80,469.80 212.80,469.80" fill="#000"/>
<line x1="149.80" y1="288.30" x2="222.50" y2="288.30" stroke="#000" stroke-width="1.4" stroke-linecap="butt"/>
<line x1="149.80" y1="285.00" x2="149.80" y2="291.60" stroke="#000" stroke-width="1.4" stroke-linecap="butt"/>
<line x1="222.50" y1="285.00" x2="222.50" y2="291.60" stroke="#000" stroke-width="1.4" stroke-linecap="butt"/>
<text x="186.40" y="290.85" font-size="15" font-weight="normal" text-anchor="middle" fill="#222" font-family='"DejaVu Sans", sans-serif' >*</text>
<text x="47.70" y="355.00" font-size="22.2" font-weight="bold" text-anchor="middle" textLength="102.70" lengthAdjust="spacingAndGlyphs" transform="rotate(-90 47.70 355.00)" >EAE score</text>
<line x1="293.70" y1="278.20" x2="293.70" y2="439.90" stroke="#000" stroke-width="1.3" stroke-linecap="butt"/>
<line x1="293.70" y1="439.30" x2="490.20" y2="439.30" stroke="#000" stroke-width="1.3" stroke-linecap="butt"/>
<line x1="290.20" y1="439.30" x2="293.70" y2="439.30" stroke="#000" stroke-width="1.2" stroke-linecap="butt"/>
<text x="287.50" y="444.00" font-size="12" font-weight="bold" text-anchor="end" textLength="5.80" lengthAdjust="spacingAndGlyphs" >0</text>
<line x1="290.20" y1="407.20" x2="293.70" y2="407.20" stroke="#000" stroke-width="1.2" stroke-linecap="butt"/>
<text x="287.50" y="411.90" font-size="12" font-weight="bold" text-anchor="end" textLength="5.80" lengthAdjust="spacingAndGlyphs" >1</text>
<line x1="290.20" y1="375.10" x2="293.70" y2="375.10" stroke="#000" stroke-width="1.2" stroke-linecap="butt"/>
<text x="287.50" y="379.80" font-size="12" font-weight="bold" text-anchor="end" textLength="5.80" lengthAdjust="spacingAndGlyphs" >2</text>
<line x1="290.20" y1="343.00" x2="293.70" y2="343.00" stroke="#000" stroke-width="1.2" stroke-linecap="butt"/>
<text x="287.50" y="347.70" font-size="12" font-weight="bold" text-anchor="end" textLength="5.80" lengthAdjust="spacingAndGlyphs" >3</text>
<line x1="290.20" y1="310.90" x2="293.70" y2="310.90" stroke="#000" stroke-width="1.2" stroke-linecap="butt"/>
<text x="287.50" y="315.60" font-size="12" font-weight="bold" text-anchor="end" textLength="5.80" lengthAdjust="spacingAndGlyphs" >4</text>
<line x1="290.20" y1="278.80" x2="293.70" y2="278.80" stroke="#000" stroke-width="1.2" stroke-linecap="butt"/>
<text x="287.50" y="283.50" font-size="12" font-weight="bold" text-anchor="end" textLength="5.80" lengthAdjust="spacingAndGlyphs" >5</text>
<line x1="294.00" y1="439.30" x2="294.00" y2="442.80" stroke="#000" stroke-width="1.2" stroke-linecap="butt"/>
<text x="293.20" y="454.10" font-size="11" font-weight="bold" text-anchor="middle" textLength="5.20" lengthAdjust="spacingAndGlyphs" >0</text>
<line x1="359.20" y1="439.30" x2="359.20" y2="442.80" stroke="#000" stroke-width="1.2" stroke-linecap="butt"/>
<text x="358.40" y="454.10" font-size="11" font-weight="bold" text-anchor="middle" textLength="10.40" lengthAdjust="spacingAndGlyphs" >10</text>
<line x1="424.40" y1="439.30" x2="424.40" y2="442.80" stroke="#000" stroke-width="1.2" stroke-linecap="butt"/>
<text x="423.60" y="454.10" font-size="11" font-weight="bold" text-anchor="middle" textLength="10.40" lengthAdjust="spacingAndGlyphs" >20</text>
<line x1="489.60" y1="439.30" x2="489.60" y2="442.80" stroke="#000" stroke-width="1.2" stroke-linecap="butt"/>
<text x="488.80" y="454.10" font-size="11" font-weight="bold" text-anchor="middle" textLength="10.40" lengthAdjust="spacingAndGlyphs" >30</text>
<polyline points="293.30,439.30 299.95,439.30 306.60,439.30 313.25,439.30 319.90,439.30 326.55,439.30 333.20,439.30 339.85,439.30 346.50,439.30 353.15,439.30 359.80,439.30 366.45,425.82 373.10,403.99 379.75,384.41 386.40,358.41 393.05,352.31 399.70,340.43 406.35,334.01 413.00,333.37 419.65,333.37 426.30,334.98 432.95,343.00 439.60,349.42 446.25,350.06 452.90,359.05 459.55,363.87 466.20,366.11 472.85,369.32 479.50,369.32" fill="none" stroke="#000" stroke-width="1.4"/>
<line x1="366.45" y1="425.82" x2="366.45" y2="421.97" stroke="#000" stroke-width="1.4" stroke-linecap="butt"/>
<line x1="363.35" y1="421.97" x2="369.55" y2="421.97" stroke="#000" stroke-width="1.4" stroke-linecap="butt"/>
<line x1="373.10" y1="403.99" x2="373.10" y2="399.18" stroke="#000" stroke-width="1.4" stroke-linecap="butt"/>
<line x1="370.00" y1="399.18" x2="376.20" y2="399.18" stroke="#000" stroke-width="1.4" stroke-linecap="butt"/>
<line x1="379.75" y1="384.41" x2="379.75" y2="378.63" stroke="#000" stroke-width="1.4" stroke-linecap="butt"/>
<line x1="376.65" y1="378.63" x2="382.85" y2="378.63" stroke="#000" stroke-width="1.4" stroke-linecap="butt"/>
<line x1="386.40" y1="358.41" x2="386.40" y2="352.63" stroke="#000" stroke-width="1.4" stroke-linecap="butt"/>
<line x1="383.30" y1="352.63" x2="389.50" y2="352.63" stroke="#000" stroke-width="1.4" stroke-linecap="butt"/>
<line x1="393.05" y1="352.31" x2="393.05" y2="346.85" stroke="#000" stroke-width="1.4" stroke-linecap="butt"/>
<line x1="389.95" y1="346.85" x2="396.15" y2="346.85" stroke="#000" stroke-width="1.4" stroke-linecap="butt"/>
<line x1="399.70" y1="340.43" x2="399.70" y2="334.01" stroke="#000" stroke-width="1.4" stroke-linecap="butt"/>
<line x1="396.60" y1="334.01" x2="402.80" y2="334.01" stroke="#000" stroke-width="1.4" stroke-linecap="butt"/>
<line x1="406.35" y1="334.01" x2="406.35" y2="327.59" stroke="#000" stroke-width="1.4" stroke-linecap="butt"/>
<line x1="403.25" y1="327.59" x2="409.45" y2="327.59" stroke="#000" stroke-width="1.4" stroke-linecap="butt"/>
<line x1="413.00" y1="333.37" x2="413.00" y2="326.95" stroke="#000" stroke-width="1.4" stroke-linecap="butt"/>
<line x1="409.90" y1="326.95" x2="416.10" y2="326.95" stroke="#000" stroke-width="1.4" stroke-linecap="butt"/>
<line x1="419.65" y1="333.37" x2="419.65" y2="326.95" stroke="#000" stroke-width="1.4" stroke-linecap="butt"/>
<line x1="416.55" y1="326.95" x2="422.75" y2="326.95" stroke="#000" stroke-width="1.4" stroke-linecap="butt"/>
<line x1="426.30" y1="334.98" x2="426.30" y2="328.56" stroke="#000" stroke-width="1.4" stroke-linecap="butt"/>
<line x1="423.20" y1="328.56" x2="429.40" y2="328.56" stroke="#000" stroke-width="1.4" stroke-linecap="butt"/>
<line x1="432.95" y1="343.00" x2="432.95" y2="333.37" stroke="#000" stroke-width="1.4" stroke-linecap="butt"/>
<line x1="429.85" y1="333.37" x2="436.05" y2="333.37" stroke="#000" stroke-width="1.4" stroke-linecap="butt"/>
<line x1="439.60" y1="349.42" x2="439.60" y2="339.79" stroke="#000" stroke-width="1.4" stroke-linecap="butt"/>
<line x1="436.50" y1="339.79" x2="442.70" y2="339.79" stroke="#000" stroke-width="1.4" stroke-linecap="butt"/>
<line x1="446.25" y1="350.06" x2="446.25" y2="341.07" stroke="#000" stroke-width="1.4" stroke-linecap="butt"/>
<line x1="443.15" y1="341.07" x2="449.35" y2="341.07" stroke="#000" stroke-width="1.4" stroke-linecap="butt"/>
<line x1="452.90" y1="359.05" x2="452.90" y2="351.99" stroke="#000" stroke-width="1.4" stroke-linecap="butt"/>
<line x1="449.80" y1="351.99" x2="456.00" y2="351.99" stroke="#000" stroke-width="1.4" stroke-linecap="butt"/>
<line x1="459.55" y1="363.87" x2="459.55" y2="358.09" stroke="#000" stroke-width="1.4" stroke-linecap="butt"/>
<line x1="456.45" y1="358.09" x2="462.65" y2="358.09" stroke="#000" stroke-width="1.4" stroke-linecap="butt"/>
<line x1="466.20" y1="366.11" x2="466.20" y2="360.98" stroke="#000" stroke-width="1.4" stroke-linecap="butt"/>
<line x1="463.10" y1="360.98" x2="469.30" y2="360.98" stroke="#000" stroke-width="1.4" stroke-linecap="butt"/>
<line x1="472.85" y1="369.32" x2="472.85" y2="364.51" stroke="#000" stroke-width="1.4" stroke-linecap="butt"/>
<line x1="469.75" y1="364.51" x2="475.95" y2="364.51" stroke="#000" stroke-width="1.4" stroke-linecap="butt"/>
<line x1="479.50" y1="369.32" x2="479.50" y2="364.51" stroke="#000" stroke-width="1.4" stroke-linecap="butt"/>
<line x1="476.40" y1="364.51" x2="482.60" y2="364.51" stroke="#000" stroke-width="1.4" stroke-linecap="butt"/>
<circle cx="293.30" cy="439.30" r="3.1999999999999997" fill="#000" stroke="#000" stroke-width="1.25"/>
<circle cx="299.95" cy="439.30" r="3.1999999999999997" fill="#000" stroke="#000" stroke-width="1.25"/>
<circle cx="306.60" cy="439.30" r="3.1999999999999997" fill="#000" stroke="#000" stroke-width="1.25"/>
<circle cx="313.25" cy="439.30" r="3.1999999999999997" fill="#000" stroke="#000" stroke-width="1.25"/>
<circle cx="319.90" cy="439.30" r="3.1999999999999997" fill="#000" stroke="#000" stroke-width="1.25"/>
<circle cx="326.55" cy="439.30" r="3.1999999999999997" fill="#000" stroke="#000" stroke-width="1.25"/>
<circle cx="333.20" cy="439.30" r="3.1999999999999997" fill="#000" stroke="#000" stroke-width="1.25"/>
<circle cx="339.85" cy="439.30" r="3.1999999999999997" fill="#000" stroke="#000" stroke-width="1.25"/>
<circle cx="346.50" cy="439.30" r="3.1999999999999997" fill="#000" stroke="#000" stroke-width="1.25"/>
<circle cx="353.15" cy="439.30" r="3.1999999999999997" fill="#000" stroke="#000" stroke-width="1.25"/>
<circle cx="359.80" cy="439.30" r="3.1999999999999997" fill="#000" stroke="#000" stroke-width="1.25"/>
<circle cx="366.45" cy="425.82" r="3.1999999999999997" fill="#000" stroke="#000" stroke-width="1.25"/>
<circle cx="373.10" cy="403.99" r="3.1999999999999997" fill="#000" stroke="#000" stroke-width="1.25"/>
<circle cx="379.75" cy="384.41" r="3.1999999999999997" fill="#000" stroke="#000" stroke-width="1.25"/>
<circle cx="386.40" cy="358.41" r="3.1999999999999997" fill="#000" stroke="#000" stroke-width="1.25"/>
<circle cx="393.05" cy="352.31" r="3.1999999999999997" fill="#000" stroke="#000" stroke-width="1.25"/>
<circle cx="399.70" cy="340.43" r="3.1999999999999997" fill="#000" stroke="#000" stroke-width="1.25"/>
<circle cx="406.35" cy="334.01" r="3.1999999999999997" fill="#000" stroke="#000" stroke-width="1.25"/>
<circle cx="413.00" cy="333.37" r="3.1999999999999997" fill="#000" stroke="#000" stroke-width="1.25"/>
<circle cx="419.65" cy="333.37" r="3.1999999999999997" fill="#000" stroke="#000" stroke-width="1.25"/>
<circle cx="426.30" cy="334.98" r="3.1999999999999997" fill="#000" stroke="#000" stroke-width="1.25"/>
<circle cx="432.95" cy="343.00" r="3.1999999999999997" fill="#000" stroke="#000" stroke-width="1.25"/>
<circle cx="439.60" cy="349.42" r="3.1999999999999997" fill="#000" stroke="#000" stroke-width="1.25"/>
<circle cx="446.25" cy="350.06" r="3.1999999999999997" fill="#000" stroke="#000" stroke-width="1.25"/>
<circle cx="452.90" cy="359.05" r="3.1999999999999997" fill="#000" stroke="#000" stroke-width="1.25"/>
<circle cx="459.55" cy="363.87" r="3.1999999999999997" fill="#000" stroke="#000" stroke-width="1.25"/>
<circle cx="466.20" cy="366.11" r="3.1999999999999997" fill="#000" stroke="#000" stroke-width="1.25"/>
<circle cx="472.85" cy="369.32" r="3.1999999999999997" fill="#000" stroke="#000" stroke-width="1.25"/>
<circle cx="479.50" cy="369.32" r="3.1999999999999997" fill="#000" stroke="#000" stroke-width="1.25"/>
<polyline points="293.30,439.30 299.95,439.30 306.60,439.30 313.25,439.30 319.90,439.30 326.55,439.30 333.20,439.30 339.85,439.30 346.50,439.30 353.15,439.30 359.80,439.30 366.45,432.56 373.10,419.72 379.75,405.27 386.40,394.04 393.05,380.56 399.70,362.90 406.35,362.90 413.00,353.27 419.65,352.63 426.30,352.63 432.95,360.65 439.60,359.05 446.25,365.47 452.90,371.89 459.55,375.74 466.20,378.95 472.85,378.95 479.50,378.95" fill="none" stroke="#000" stroke-width="1.4"/>
<line x1="366.45" y1="432.56" x2="366.45" y2="435.77" stroke="#000" stroke-width="1.4" stroke-linecap="butt"/>
<line x1="363.35" y1="435.77" x2="369.55" y2="435.77" stroke="#000" stroke-width="1.4" stroke-linecap="butt"/>
<line x1="373.10" y1="419.72" x2="373.10" y2="425.50" stroke="#000" stroke-width="1.4" stroke-linecap="butt"/>
<line x1="370.00" y1="425.50" x2="376.20" y2="425.50" stroke="#000" stroke-width="1.4" stroke-linecap="butt"/>
<line x1="379.75" y1="405.27" x2="379.75" y2="411.05" stroke="#000" stroke-width="1.4" stroke-linecap="butt"/>
<line x1="376.65" y1="411.05" x2="382.85" y2="411.05" stroke="#000" stroke-width="1.4" stroke-linecap="butt"/>
<line x1="386.40" y1="394.04" x2="386.40" y2="399.82" stroke="#000" stroke-width="1.4" stroke-linecap="butt"/>
<line x1="383.30" y1="399.82" x2="389.50" y2="399.82" stroke="#000" stroke-width="1.4" stroke-linecap="butt"/>
<line x1="393.05" y1="380.56" x2="393.05" y2="386.34" stroke="#000" stroke-width="1.4" stroke-linecap="butt"/>
<line x1="389.95" y1="386.34" x2="396.15" y2="386.34" stroke="#000" stroke-width="1.4" stroke-linecap="butt"/>
<line x1="399.70" y1="362.90" x2="399.70" y2="369.32" stroke="#000" stroke-width="1.4" stroke-linecap="butt"/>
<line x1="396.60" y1="369.32" x2="402.80" y2="369.32" stroke="#000" stroke-width="1.4" stroke-linecap="butt"/>
<line x1="406.35" y1="362.90" x2="406.35" y2="369.32" stroke="#000" stroke-width="1.4" stroke-linecap="butt"/>
<line x1="403.25" y1="369.32" x2="409.45" y2="369.32" stroke="#000" stroke-width="1.4" stroke-linecap="butt"/>
<line x1="413.00" y1="353.27" x2="413.00" y2="362.90" stroke="#000" stroke-width="1.4" stroke-linecap="butt"/>
<line x1="409.90" y1="362.90" x2="416.10" y2="362.90" stroke="#000" stroke-width="1.4" stroke-linecap="butt"/>
<line x1="419.65" y1="352.63" x2="419.65" y2="363.87" stroke="#000" stroke-width="1.4" stroke-linecap="butt"/>
<line x1="416.55" y1="363.87" x2="422.75" y2="363.87" stroke="#000" stroke-width="1.4" stroke-linecap="butt"/>
<line x1="426.30" y1="352.63" x2="426.30" y2="363.87" stroke="#000" stroke-width="1.4" stroke-linecap="butt"/>
<line x1="423.20" y1="363.87" x2="429.40" y2="363.87" stroke="#000" stroke-width="1.4" stroke-linecap="butt"/>
<line x1="432.95" y1="360.65" x2="432.95" y2="370.28" stroke="#000" stroke-width="1.4" stroke-linecap="butt"/>
<line x1="429.85" y1="370.28" x2="436.05" y2="370.28" stroke="#000" stroke-width="1.4" stroke-linecap="butt"/>
<line x1="439.60" y1="359.05" x2="439.60" y2="367.07" stroke="#000" stroke-width="1.4" stroke-linecap="butt"/>
<line x1="436.50" y1="367.07" x2="442.70" y2="367.07" stroke="#000" stroke-width="1.4" stroke-linecap="butt"/>
<line x1="446.25" y1="365.47" x2="446.25" y2="371.89" stroke="#000" stroke-width="1.4" stroke-linecap="butt"/>
<line x1="443.15" y1="371.89" x2="449.35" y2="371.89" stroke="#000" stroke-width="1.4" stroke-linecap="butt"/>
<line x1="452.90" y1="371.89" x2="452.90" y2="378.31" stroke="#000" stroke-width="1.4" stroke-linecap="butt"/>
<line x1="449.80" y1="378.31" x2="456.00" y2="378.31" stroke="#000" stroke-width="1.4" stroke-linecap="butt"/>
<line x1="459.55" y1="375.74" x2="459.55" y2="381.52" stroke="#000" stroke-width="1.4" stroke-linecap="butt"/>
<line x1="456.45" y1="381.52" x2="462.65" y2="381.52" stroke="#000" stroke-width="1.4" stroke-linecap="butt"/>
<line x1="466.20" y1="378.95" x2="466.20" y2="384.41" stroke="#000" stroke-width="1.4" stroke-linecap="butt"/>
<line x1="463.10" y1="384.41" x2="469.30" y2="384.41" stroke="#000" stroke-width="1.4" stroke-linecap="butt"/>
<line x1="472.85" y1="378.95" x2="472.85" y2="384.41" stroke="#000" stroke-width="1.4" stroke-linecap="butt"/>
<line x1="469.75" y1="384.41" x2="475.95" y2="384.41" stroke="#000" stroke-width="1.4" stroke-linecap="butt"/>
<line x1="479.50" y1="378.95" x2="479.50" y2="384.41" stroke="#000" stroke-width="1.4" stroke-linecap="butt"/>
<line x1="476.40" y1="384.41" x2="482.60" y2="384.41" stroke="#000" stroke-width="1.4" stroke-linecap="butt"/>
<circle cx="293.30" cy="439.30" r="2.9" fill="#fff" stroke="#000" stroke-width="1.25"/>
<circle cx="299.95" cy="439.30" r="2.9" fill="#fff" stroke="#000" stroke-width="1.25"/>
<circle cx="306.60" cy="439.30" r="2.9" fill="#fff" stroke="#000" stroke-width="1.25"/>
<circle cx="313.25" cy="439.30" r="2.9" fill="#fff" stroke="#000" stroke-width="1.25"/>
<circle cx="319.90" cy="439.30" r="2.9" fill="#fff" stroke="#000" stroke-width="1.25"/>
<circle cx="326.55" cy="439.30" r="2.9" fill="#fff" stroke="#000" stroke-width="1.25"/>
<circle cx="333.20" cy="439.30" r="2.9" fill="#fff" stroke="#000" stroke-width="1.25"/>
<circle cx="339.85" cy="439.30" r="2.9" fill="#fff" stroke="#000" stroke-width="1.25"/>
<circle cx="346.50" cy="439.30" r="2.9" fill="#fff" stroke="#000" stroke-width="1.25"/>
<circle cx="353.15" cy="439.30" r="2.9" fill="#fff" stroke="#000" stroke-width="1.25"/>
<circle cx="359.80" cy="439.30" r="2.9" fill="#fff" stroke="#000" stroke-width="1.25"/>
<circle cx="366.45" cy="432.56" r="2.9" fill="#fff" stroke="#000" stroke-width="1.25"/>
<circle cx="373.10" cy="419.72" r="2.9" fill="#fff" stroke="#000" stroke-width="1.25"/>
<circle cx="379.75" cy="405.27" r="2.9" fill="#fff" stroke="#000" stroke-width="1.25"/>
<circle cx="386.40" cy="394.04" r="2.9" fill="#fff" stroke="#000" stroke-width="1.25"/>
<circle cx="393.05" cy="380.56" r="2.9" fill="#fff" stroke="#000" stroke-width="1.25"/>
<circle cx="399.70" cy="362.90" r="2.9" fill="#fff" stroke="#000" stroke-width="1.25"/>
<circle cx="406.35" cy="362.90" r="2.9" fill="#fff" stroke="#000" stroke-width="1.25"/>
<circle cx="413.00" cy="353.27" r="2.9" fill="#fff" stroke="#000" stroke-width="1.25"/>
<circle cx="419.65" cy="352.63" r="2.9" fill="#fff" stroke="#000" stroke-width="1.25"/>
<circle cx="426.30" cy="352.63" r="2.9" fill="#fff" stroke="#000" stroke-width="1.25"/>
<circle cx="432.95" cy="360.65" r="2.9" fill="#fff" stroke="#000" stroke-width="1.25"/>
<circle cx="439.60" cy="359.05" r="2.9" fill="#fff" stroke="#000" stroke-width="1.25"/>
<circle cx="446.25" cy="365.47" r="2.9" fill="#fff" stroke="#000" stroke-width="1.25"/>
<circle cx="452.90" cy="371.89" r="2.9" fill="#fff" stroke="#000" stroke-width="1.25"/>
<circle cx="459.55" cy="375.74" r="2.9" fill="#fff" stroke="#000" stroke-width="1.25"/>
<circle cx="466.20" cy="378.95" r="2.9" fill="#fff" stroke="#000" stroke-width="1.25"/>
<circle cx="472.85" cy="378.95" r="2.9" fill="#fff" stroke="#000" stroke-width="1.25"/>
<circle cx="479.50" cy="378.95" r="2.9" fill="#fff" stroke="#000" stroke-width="1.25"/>
<polygon points="338.00,454.00 333.50,469.80 342.50,469.80" fill="#000"/>
<polygon points="386.25,454.00 381.75,469.80 390.75,469.80" fill="#000"/>
<polygon points="433.40,454.00 428.90,469.80 437.90,469.80" fill="#000"/>
<line x1="375.50" y1="307.20" x2="409.60" y2="307.20" stroke="#000" stroke-width="1.4" stroke-linecap="butt"/>
<line x1="375.50" y1="303.90" x2="375.50" y2="310.50" stroke="#000" stroke-width="1.4" stroke-linecap="butt"/>
<line x1="409.60" y1="303.90" x2="409.60" y2="310.50" stroke="#000" stroke-width="1.4" stroke-linecap="butt"/>
<text x="393.30" y="309.85" font-size="15" font-weight="normal" text-anchor="middle" fill="#222" font-family='"DejaVu Sans", sans-serif' >*</text>
<line x1="67.70" y1="483.60" x2="67.70" y2="645.40" stroke="#000" stroke-width="1.3" stroke-linecap="butt"/>
<line x1="67.70" y1="644.80" x2="264.90" y2="644.80" stroke="#000" stroke-width="1.3" stroke-linecap="butt"/>
<line x1="64.20" y1="644.80" x2="67.70" y2="644.80" stroke="#000" stroke-width="1.2" stroke-linecap="butt"/>
<text x="61.50" y="649.50" font-size="12" font-weight="bold" text-anchor="end" textLength="5.80" lengthAdjust="spacingAndGlyphs" >0</text>
<line x1="64.20" y1="612.68" x2="67.70" y2="612.68" stroke="#000" stroke-width="1.2" stroke-linecap="butt"/>
<text x="61.50" y="617.38" font-size="12" font-weight="bold" text-anchor="end" textLength="5.80" lengthAdjust="spacingAndGlyphs" >1</text>
<line x1="64.20" y1="580.56" x2="67.70" y2="580.56" stroke="#000" stroke-width="1.2" stroke-linecap="butt"/>
<text x="61.50" y="585.26" font-size="12" font-weight="bold" text-anchor="end" textLength="5.80" lengthAdjust="spacingAndGlyphs" >2</text>
<line x1="64.20" y1="548.44" x2="67.70" y2="548.44" stroke="#000" stroke-width="1.2" stroke-linecap="butt"/>
<text x="61.50" y="553.14" font-size="12" font-weight="bold" text-anchor="end" textLength="5.80" lengthAdjust="spacingAndGlyphs" >3</text>
<line x1="64.20" y1="516.32" x2="67.70" y2="516.32" stroke="#000" stroke-width="1.2" stroke-linecap="butt"/>
<text x="61.50" y="521.02" font-size="12" font-weight="bold" text-anchor="end" textLength="5.80" lengthAdjust="spacingAndGlyphs" >4</text>
<line x1="64.20" y1="484.20" x2="67.70" y2="484.20" stroke="#000" stroke-width="1.2" stroke-linecap="butt"/>
<text x="61.50" y="488.90" font-size="12" font-weight="bold" text-anchor="end" textLength="5.80" lengthAdjust="spacingAndGlyphs" >5</text>
<line x1="67.70" y1="644.80" x2="67.70" y2="648.30" stroke="#000" stroke-width="1.2" stroke-linecap="butt"/>
<text x="66.90" y="659.60" font-size="11" font-weight="bold" text-anchor="middle" textLength="5.20" lengthAdjust="spacingAndGlyphs" >0</text>
<line x1="133.20" y1="644.80" x2="133.20" y2="648.30" stroke="#000" stroke-width="1.2" stroke-linecap="butt"/>
<text x="132.40" y="659.60" font-size="11" font-weight="bold" text-anchor="middle" textLength="10.40" lengthAdjust="spacingAndGlyphs" >10</text>
<line x1="198.70" y1="644.80" x2="198.70" y2="648.30" stroke="#000" stroke-width="1.2" stroke-linecap="butt"/>
<text x="197.90" y="659.60" font-size="11" font-weight="bold" text-anchor="middle" textLength="10.40" lengthAdjust="spacingAndGlyphs" >20</text>
<line x1="264.30" y1="644.80" x2="264.30" y2="648.30" stroke="#000" stroke-width="1.2" stroke-linecap="butt"/>
<text x="263.50" y="659.60" font-size="11" font-weight="bold" text-anchor="middle" textLength="10.40" lengthAdjust="spacingAndGlyphs" >30</text>
<polyline points="67.20,644.80 73.85,644.80 80.50,644.80 87.15,644.80 93.80,644.80 100.45,644.80 107.10,644.80 113.75,644.80 120.40,644.80 127.05,644.80 133.70,644.80 140.35,639.34 147.00,622.32 153.65,605.61 160.30,593.09 166.95,571.57 173.60,568.03 180.25,558.72 186.90,555.19 193.55,548.44 200.20,558.72 206.85,560.32 213.50,571.57 220.15,584.09 226.80,586.98 233.45,586.98 240.10,590.84 246.75,592.12 253.40,593.73" fill="none" stroke="#000" stroke-width="1.4"/>
<line x1="140.35" y1="639.34" x2="140.35" y2="636.13" stroke="#000" stroke-width="1.4" stroke-linecap="butt"/>
<line x1="137.25" y1="636.13" x2="143.45" y2="636.13" stroke="#000" stroke-width="1.4" stroke-linecap="butt"/>
<line x1="147.00" y1="622.32" x2="147.00" y2="614.93" stroke="#000" stroke-width="1.4" stroke-linecap="butt"/>
<line x1="143.90" y1="614.93" x2="150.10" y2="614.93" stroke="#000" stroke-width="1.4" stroke-linecap="butt"/>
<line x1="153.65" y1="605.61" x2="153.65" y2="598.87" stroke="#000" stroke-width="1.4" stroke-linecap="butt"/>
<line x1="150.55" y1="598.87" x2="156.75" y2="598.87" stroke="#000" stroke-width="1.4" stroke-linecap="butt"/>
<line x1="160.30" y1="593.09" x2="160.30" y2="586.66" stroke="#000" stroke-width="1.4" stroke-linecap="butt"/>
<line x1="157.20" y1="586.66" x2="163.40" y2="586.66" stroke="#000" stroke-width="1.4" stroke-linecap="butt"/>
<line x1="166.95" y1="571.57" x2="166.95" y2="565.14" stroke="#000" stroke-width="1.4" stroke-linecap="butt"/>
<line x1="163.85" y1="565.14" x2="170.05" y2="565.14" stroke="#000" stroke-width="1.4" stroke-linecap="butt"/>
<line x1="173.60" y1="568.03" x2="173.60" y2="561.61" stroke="#000" stroke-width="1.4" stroke-linecap="butt"/>
<line x1="170.50" y1="561.61" x2="176.70" y2="561.61" stroke="#000" stroke-width="1.4" stroke-linecap="butt"/>
<line x1="180.25" y1="558.72" x2="180.25" y2="552.62" stroke="#000" stroke-width="1.4" stroke-linecap="butt"/>
<line x1="177.15" y1="552.62" x2="183.35" y2="552.62" stroke="#000" stroke-width="1.4" stroke-linecap="butt"/>
<line x1="186.90" y1="555.19" x2="186.90" y2="549.08" stroke="#000" stroke-width="1.4" stroke-linecap="butt"/>
<line x1="183.80" y1="549.08" x2="190.00" y2="549.08" stroke="#000" stroke-width="1.4" stroke-linecap="butt"/>
<line x1="193.55" y1="548.44" x2="193.55" y2="542.34" stroke="#000" stroke-width="1.4" stroke-linecap="butt"/>
<line x1="190.45" y1="542.34" x2="196.65" y2="542.34" stroke="#000" stroke-width="1.4" stroke-linecap="butt"/>
<line x1="200.20" y1="558.72" x2="200.20" y2="552.62" stroke="#000" stroke-width="1.4" stroke-linecap="butt"/>
<line x1="197.10" y1="552.62" x2="203.30" y2="552.62" stroke="#000" stroke-width="1.4" stroke-linecap="butt"/>
<line x1="206.85" y1="560.32" x2="206.85" y2="553.26" stroke="#000" stroke-width="1.4" stroke-linecap="butt"/>
<line x1="203.75" y1="553.26" x2="209.95" y2="553.26" stroke="#000" stroke-width="1.4" stroke-linecap="butt"/>
<line x1="213.50" y1="571.57" x2="213.50" y2="565.14" stroke="#000" stroke-width="1.4" stroke-linecap="butt"/>
<line x1="210.40" y1="565.14" x2="216.60" y2="565.14" stroke="#000" stroke-width="1.4" stroke-linecap="butt"/>
<line x1="220.15" y1="584.09" x2="220.15" y2="577.67" stroke="#000" stroke-width="1.4" stroke-linecap="butt"/>
<line x1="217.05" y1="577.67" x2="223.25" y2="577.67" stroke="#000" stroke-width="1.4" stroke-linecap="butt"/>
<line x1="226.80" y1="586.98" x2="226.80" y2="580.56" stroke="#000" stroke-width="1.4" stroke-linecap="butt"/>
<line x1="223.70" y1="580.56" x2="229.90" y2="580.56" stroke="#000" stroke-width="1.4" stroke-linecap="butt"/>
<line x1="233.45" y1="586.98" x2="233.45" y2="580.56" stroke="#000" stroke-width="1.4" stroke-linecap="butt"/>
<line x1="230.35" y1="580.56" x2="236.55" y2="580.56" stroke="#000" stroke-width="1.4" stroke-linecap="butt"/>
<line x1="240.10" y1="590.84" x2="240.10" y2="584.74" stroke="#000" stroke-width="1.4" stroke-linecap="butt"/>
<line x1="237.00" y1="584.74" x2="243.20" y2="584.74" stroke="#000" stroke-width="1.4" stroke-linecap="butt"/>
<line x1="246.75" y1="592.12" x2="246.75" y2="586.66" stroke="#000" stroke-width="1.4" stroke-linecap="butt"/>
<line x1="243.65" y1="586.66" x2="249.85" y2="586.66" stroke="#000" stroke-width="1.4" stroke-linecap="butt"/>
<line x1="253.40" y1="593.73" x2="253.40" y2="588.27" stroke="#000" stroke-width="1.4" stroke-linecap="butt"/>
<line x1="250.30" y1="588.27" x2="256.50" y2="588.27" stroke="#000" stroke-width="1.4" stroke-linecap="butt"/>
<circle cx="67.20" cy="644.80" r="3.1999999999999997" fill="#000" stroke="#000" stroke-width="1.25"/>
<circle cx="73.85" cy="644.80" r="3.1999999999999997" fill="#000" stroke="#000" stroke-width="1.25"/>
<circle cx="80.50" cy="644.80" r="3.1999999999999997" fill="#000" stroke="#000" stroke-width="1.25"/>
<circle cx="87.15" cy="644.80" r="3.1999999999999997" fill="#000" stroke="#000" stroke-width="1.25"/>
<circle cx="93.80" cy="644.80" r="3.1999999999999997" fill="#000" stroke="#000" stroke-width="1.25"/>
<circle cx="100.45" cy="644.80" r="3.1999999999999997" fill="#000" stroke="#000" stroke-width="1.25"/>
<circle cx="107.10" cy="644.80" r="3.1999999999999997" fill="#000" stroke="#000" stroke-width="1.25"/>
<circle cx="113.75" cy="644.80" r="3.1999999999999997" fill="#000" stroke="#000" stroke-width="1.25"/>
<circle cx="120.40" cy="644.80" r="3.1999999999999997" fill="#000" stroke="#000" stroke-width="1.25"/>
<circle cx="127.05" cy="644.80" r="3.1999999999999997" fill="#000" stroke="#000" stroke-width="1.25"/>
<circle cx="133.70" cy="644.80" r="3.1999999999999997" fill="#000" stroke="#000" stroke-width="1.25"/>
<circle cx="140.35" cy="639.34" r="3.1999999999999997" fill="#000" stroke="#000" stroke-width="1.25"/>
<circle cx="147.00" cy="622.32" r="3.1999999999999997" fill="#000" stroke="#000" stroke-width="1.25"/>
<circle cx="153.65" cy="605.61" r="3.1999999999999997" fill="#000" stroke="#000" stroke-width="1.25"/>
<circle cx="160.30" cy="593.09" r="3.1999999999999997" fill="#000" stroke="#000" stroke-width="1.25"/>
<circle cx="166.95" cy="571.57" r="3.1999999999999997" fill="#000" stroke="#000" stroke-width="1.25"/>
<circle cx="173.60" cy="568.03" r="3.1999999999999997" fill="#000" stroke="#000" stroke-width="1.25"/>
<circle cx="180.25" cy="558.72" r="3.1999999999999997" fill="#000" stroke="#000" stroke-width="1.25"/>
<circle cx="186.90" cy="555.19" r="3.1999999999999997" fill="#000" stroke="#000" stroke-width="1.25"/>
<circle cx="193.55" cy="548.44" r="3.1999999999999997" fill="#000" stroke="#000" stroke-width="1.25"/>
<circle cx="200.20" cy="558.72" r="3.1999999999999997" fill="#000" stroke="#000" stroke-width="1.25"/>
<circle cx="206.85" cy="560.32" r="3.1999999999999997" fill="#000" stroke="#000" stroke-width="1.25"/>
<circle cx="213.50" cy="571.57" r="3.1999999999999997" fill="#000" stroke="#000" stroke-width="1.25"/>
<circle cx="220.15" cy="584.09" r="3.1999999999999997" fill="#000" stroke="#000" stroke-width="1.25"/>
<circle cx="226.80" cy="586.98" r="3.1999999999999997" fill="#000" stroke="#000" stroke-width="1.25"/>
<circle cx="233.45" cy="586.98" r="3.1999999999999997" fill="#000" stroke="#000" stroke-width="1.25"/>
<circle cx="240.10" cy="590.84" r="3.1999999999999997" fill="#000" stroke="#000" stroke-width="1.25"/>
<circle cx="246.75" cy="592.12" r="3.1999999999999997" fill="#000" stroke="#000" stroke-width="1.25"/>
<circle cx="253.40" cy="593.73" r="3.1999999999999997" fill="#000" stroke="#000" stroke-width="1.25"/>
<polyline points="67.20,644.80 73.85,644.80 80.50,644.80 87.15,644.80 93.80,644.80 100.45,644.80 107.10,644.80 113.75,644.80 120.40,644.80 127.05,644.80 133.70,644.80 140.35,641.59 147.00,632.59 153.65,616.53 160.30,586.98 166.95,586.98 173.60,577.99 180.25,570.60 186.90,565.46 193.55,559.36 200.20,561.93 206.85,563.54 213.50,588.27 220.15,578.63 226.80,594.37 233.45,597.26 240.10,599.83 246.75,597.26 253.40,599.83" fill="none" stroke="#000" stroke-width="1.4"/>
<line x1="140.35" y1="641.59" x2="140.35" y2="643.19" stroke="#000" stroke-width="1.4" stroke-linecap="butt"/>
<line x1="137.25" y1="643.19" x2="143.45" y2="643.19" stroke="#000" stroke-width="1.4" stroke-linecap="butt"/>
<line x1="147.00" y1="632.59" x2="147.00" y2="637.41" stroke="#000" stroke-width="1.4" stroke-linecap="butt"/>
<line x1="143.90" y1="637.41" x2="150.10" y2="637.41" stroke="#000" stroke-width="1.4" stroke-linecap="butt"/>
<line x1="153.65" y1="616.53" x2="153.65" y2="622.96" stroke="#000" stroke-width="1.4" stroke-linecap="butt"/>
<line x1="150.55" y1="622.96" x2="156.75" y2="622.96" stroke="#000" stroke-width="1.4" stroke-linecap="butt"/>
<line x1="160.30" y1="586.98" x2="160.30" y2="593.41" stroke="#000" stroke-width="1.4" stroke-linecap="butt"/>
<line x1="157.20" y1="593.41" x2="163.40" y2="593.41" stroke="#000" stroke-width="1.4" stroke-linecap="butt"/>
<line x1="166.95" y1="586.98" x2="166.95" y2="593.41" stroke="#000" stroke-width="1.4" stroke-linecap="butt"/>
<line x1="163.85" y1="593.41" x2="170.05" y2="593.41" stroke="#000" stroke-width="1.4" stroke-linecap="butt"/>
<line x1="173.60" y1="577.99" x2="173.60" y2="586.98" stroke="#000" stroke-width="1.4" stroke-linecap="butt"/>
<line x1="170.50" y1="586.98" x2="176.70" y2="586.98" stroke="#000" stroke-width="1.4" stroke-linecap="butt"/>
<line x1="180.25" y1="570.60" x2="180.25" y2="581.52" stroke="#000" stroke-width="1.4" stroke-linecap="butt"/>
<line x1="177.15" y1="581.52" x2="183.35" y2="581.52" stroke="#000" stroke-width="1.4" stroke-linecap="butt"/>
<line x1="186.90" y1="565.46" x2="186.90" y2="574.46" stroke="#000" stroke-width="1.4" stroke-linecap="butt"/>
<line x1="183.80" y1="574.46" x2="190.00" y2="574.46" stroke="#000" stroke-width="1.4" stroke-linecap="butt"/>
<line x1="193.55" y1="559.36" x2="193.55" y2="567.39" stroke="#000" stroke-width="1.4" stroke-linecap="butt"/>
<line x1="190.45" y1="567.39" x2="196.65" y2="567.39" stroke="#000" stroke-width="1.4" stroke-linecap="butt"/>
<line x1="200.20" y1="561.93" x2="200.20" y2="570.60" stroke="#000" stroke-width="1.4" stroke-linecap="butt"/>
<line x1="197.10" y1="570.60" x2="203.30" y2="570.60" stroke="#000" stroke-width="1.4" stroke-linecap="butt"/>
<line x1="206.85" y1="563.54" x2="206.85" y2="571.57" stroke="#000" stroke-width="1.4" stroke-linecap="butt"/>
<line x1="203.75" y1="571.57" x2="209.95" y2="571.57" stroke="#000" stroke-width="1.4" stroke-linecap="butt"/>
<line x1="213.50" y1="588.27" x2="213.50" y2="596.30" stroke="#000" stroke-width="1.4" stroke-linecap="butt"/>
<line x1="210.40" y1="596.30" x2="216.60" y2="596.30" stroke="#000" stroke-width="1.4" stroke-linecap="butt"/>
<line x1="220.15" y1="578.63" x2="220.15" y2="585.06" stroke="#000" stroke-width="1.4" stroke-linecap="butt"/>
<line x1="217.05" y1="585.06" x2="223.25" y2="585.06" stroke="#000" stroke-width="1.4" stroke-linecap="butt"/>
<line x1="226.80" y1="594.37" x2="226.80" y2="601.12" stroke="#000" stroke-width="1.4" stroke-linecap="butt"/>
<line x1="223.70" y1="601.12" x2="229.90" y2="601.12" stroke="#000" stroke-width="1.4" stroke-linecap="butt"/>
<line x1="233.45" y1="597.26" x2="233.45" y2="603.04" stroke="#000" stroke-width="1.4" stroke-linecap="butt"/>
<line x1="230.35" y1="603.04" x2="236.55" y2="603.04" stroke="#000" stroke-width="1.4" stroke-linecap="butt"/>
<line x1="240.10" y1="599.83" x2="240.10" y2="606.58" stroke="#000" stroke-width="1.4" stroke-linecap="butt"/>
<line x1="237.00" y1="606.58" x2="243.20" y2="606.58" stroke="#000" stroke-width="1.4" stroke-linecap="butt"/>
<line x1="246.75" y1="597.26" x2="246.75" y2="603.69" stroke="#000" stroke-width="1.4" stroke-linecap="butt"/>
<line x1="243.65" y1="603.69" x2="249.85" y2="603.69" stroke="#000" stroke-width="1.4" stroke-linecap="butt"/>
<line x1="253.40" y1="599.83" x2="253.40" y2="607.22" stroke="#000" stroke-width="1.4" stroke-linecap="butt"/>
<line x1="250.30" y1="607.22" x2="256.50" y2="607.22" stroke="#000" stroke-width="1.4" stroke-linecap="butt"/>
<circle cx="67.20" cy="644.80" r="2.9" fill="#fff" stroke="#000" stroke-width="1.25"/>
<circle cx="73.85" cy="644.80" r="2.9" fill="#fff" stroke="#000" stroke-width="1.25"/>
<circle cx="80.50" cy="644.80" r="2.9" fill="#fff" stroke="#000" stroke-width="1.25"/>
<circle cx="87.15" cy="644.80" r="2.9" fill="#fff" stroke="#000" stroke-width="1.25"/>
<circle cx="93.80" cy="644.80" r="2.9" fill="#fff" stroke="#000" stroke-width="1.25"/>
<circle cx="100.45" cy="644.80" r="2.9" fill="#fff" stroke="#000" stroke-width="1.25"/>
<circle cx="107.10" cy="644.80" r="2.9" fill="#fff" stroke="#000" stroke-width="1.25"/>
<circle cx="113.75" cy="644.80" r="2.9" fill="#fff" stroke="#000" stroke-width="1.25"/>
<circle cx="120.40" cy="644.80" r="2.9" fill="#fff" stroke="#000" stroke-width="1.25"/>
<circle cx="127.05" cy="644.80" r="2.9" fill="#fff" stroke="#000" stroke-width="1.25"/>
<circle cx="133.70" cy="644.80" r="2.9" fill="#fff" stroke="#000" stroke-width="1.25"/>
<circle cx="140.35" cy="641.59" r="2.9" fill="#fff" stroke="#000" stroke-width="1.25"/>
<circle cx="147.00" cy="632.59" r="2.9" fill="#fff" stroke="#000" stroke-width="1.25"/>
<circle cx="153.65" cy="616.53" r="2.9" fill="#fff" stroke="#000" stroke-width="1.25"/>
<circle cx="160.30" cy="586.98" r="2.9" fill="#fff" stroke="#000" stroke-width="1.25"/>
<circle cx="166.95" cy="586.98" r="2.9" fill="#fff" stroke="#000" stroke-width="1.25"/>
<circle cx="173.60" cy="577.99" r="2.9" fill="#fff" stroke="#000" stroke-width="1.25"/>
<circle cx="180.25" cy="570.60" r="2.9" fill="#fff" stroke="#000" stroke-width="1.25"/>
<circle cx="186.90" cy="565.46" r="2.9" fill="#fff" stroke="#000" stroke-width="1.25"/>
<circle cx="193.55" cy="559.36" r="2.9" fill="#fff" stroke="#000" stroke-width="1.25"/>
<circle cx="200.20" cy="561.93" r="2.9" fill="#fff" stroke="#000" stroke-width="1.25"/>
<circle cx="206.85" cy="563.54" r="2.9" fill="#fff" stroke="#000" stroke-width="1.25"/>
<circle cx="213.50" cy="588.27" r="2.9" fill="#fff" stroke="#000" stroke-width="1.25"/>
<circle cx="220.15" cy="578.63" r="2.9" fill="#fff" stroke="#000" stroke-width="1.25"/>
<circle cx="226.80" cy="594.37" r="2.9" fill="#fff" stroke="#000" stroke-width="1.25"/>
<circle cx="233.45" cy="597.26" r="2.9" fill="#fff" stroke="#000" stroke-width="1.25"/>
<circle cx="240.10" cy="599.83" r="2.9" fill="#fff" stroke="#000" stroke-width="1.25"/>
<circle cx="246.75" cy="597.26" r="2.9" fill="#fff" stroke="#000" stroke-width="1.25"/>
<circle cx="253.40" cy="599.83" r="2.9" fill="#fff" stroke="#000" stroke-width="1.25"/>
<polygon points="160.20,659.90 155.70,676.30 164.70,676.30" fill="#000"/>
<polygon points="207.50,659.90 203.00,676.30 212.00,676.30" fill="#000"/>
<text x="47.70" y="561.70" font-size="22.2" font-weight="bold" text-anchor="middle" textLength="102.70" lengthAdjust="spacingAndGlyphs" transform="rotate(-90 47.70 561.70)" >EAE score</text>
<line x1="293.70" y1="483.60" x2="293.70" y2="645.40" stroke="#000" stroke-width="1.3" stroke-linecap="butt"/>
<line x1="293.70" y1="644.80" x2="490.20" y2="644.80" stroke="#000" stroke-width="1.3" stroke-linecap="butt"/>
<line x1="290.20" y1="644.80" x2="293.70" y2="644.80" stroke="#000" stroke-width="1.2" stroke-linecap="butt"/>
<text x="287.50" y="649.50" font-size="12" font-weight="bold" text-anchor="end" textLength="5.80" lengthAdjust="spacingAndGlyphs" >0</text>
<line x1="290.20" y1="612.68" x2="293.70" y2="612.68" stroke="#000" stroke-width="1.2" stroke-linecap="butt"/>
<text x="287.50" y="617.38" font-size="12" font-weight="bold" text-anchor="end" textLength="5.80" lengthAdjust="spacingAndGlyphs" >1</text>
<line x1="290.20" y1="580.56" x2="293.70" y2="580.56" stroke="#000" stroke-width="1.2" stroke-linecap="butt"/>
<text x="287.50" y="585.26" font-size="12" font-weight="bold" text-anchor="end" textLength="5.80" lengthAdjust="spacingAndGlyphs" >2</text>
<line x1="290.20" y1="548.44" x2="293.70" y2="548.44" stroke="#000" stroke-width="1.2" stroke-linecap="butt"/>
<text x="287.50" y="553.14" font-size="12" font-weight="bold" text-anchor="end" textLength="5.80" lengthAdjust="spacingAndGlyphs" >3</text>
<line x1="290.20" y1="516.32" x2="293.70" y2="516.32" stroke="#000" stroke-width="1.2" stroke-linecap="butt"/>
<text x="287.50" y="521.02" font-size="12" font-weight="bold" text-anchor="end" textLength="5.80" lengthAdjust="spacingAndGlyphs" >4</text>
<line x1="290.20" y1="484.20" x2="293.70" y2="484.20" stroke="#000" stroke-width="1.2" stroke-linecap="butt"/>
<text x="287.50" y="488.90" font-size="12" font-weight="bold" text-anchor="end" textLength="5.80" lengthAdjust="spacingAndGlyphs" >5</text>
<line x1="294.00" y1="644.80" x2="294.00" y2="648.30" stroke="#000" stroke-width="1.2" stroke-linecap="butt"/>
<text x="293.20" y="659.60" font-size="11" font-weight="bold" text-anchor="middle" textLength="5.20" lengthAdjust="spacingAndGlyphs" >0</text>
<line x1="359.20" y1="644.80" x2="359.20" y2="648.30" stroke="#000" stroke-width="1.2" stroke-linecap="butt"/>
<text x="358.40" y="659.60" font-size="11" font-weight="bold" text-anchor="middle" textLength="10.40" lengthAdjust="spacingAndGlyphs" >10</text>
<line x1="424.40" y1="644.80" x2="424.40" y2="648.30" stroke="#000" stroke-width="1.2" stroke-linecap="butt"/>
<text x="423.60" y="659.60" font-size="11" font-weight="bold" text-anchor="middle" textLength="10.40" lengthAdjust="spacingAndGlyphs" >20</text>
<line x1="489.60" y1="644.80" x2="489.60" y2="648.30" stroke="#000" stroke-width="1.2" stroke-linecap="butt"/>
<text x="488.80" y="659.60" font-size="11" font-weight="bold" text-anchor="middle" textLength="10.40" lengthAdjust="spacingAndGlyphs" >30</text>
<polyline points="293.30,644.80 299.90,644.80 306.50,644.80 313.10,644.80 319.70,644.80 326.30,644.80 332.90,644.80 339.50,644.80 346.10,644.80 352.70,644.80 359.30,644.80 365.90,637.41 372.50,625.21 379.10,608.83 385.70,589.87 392.30,576.06 398.90,567.07 405.50,558.08 412.10,556.15 418.70,558.08 425.30,558.72 431.90,565.46 438.50,574.46 445.10,575.10 451.70,577.67 458.30,582.81 464.90,585.06 471.50,585.06 478.10,585.06" fill="none" stroke="#000" stroke-width="1.4"/>
<line x1="365.90" y1="637.41" x2="365.90" y2="640.62" stroke="#000" stroke-width="1.4" stroke-linecap="butt"/>
<line x1="362.80" y1="640.62" x2="369.00" y2="640.62" stroke="#000" stroke-width="1.4" stroke-linecap="butt"/>
<line x1="372.50" y1="625.21" x2="372.50" y2="631.63" stroke="#000" stroke-width="1.4" stroke-linecap="butt"/>
<line x1="369.40" y1="631.63" x2="375.60" y2="631.63" stroke="#000" stroke-width="1.4" stroke-linecap="butt"/>
<line x1="379.10" y1="608.83" x2="379.10" y2="615.25" stroke="#000" stroke-width="1.4" stroke-linecap="butt"/>
<line x1="376.00" y1="615.25" x2="382.20" y2="615.25" stroke="#000" stroke-width="1.4" stroke-linecap="butt"/>
<line x1="385.70" y1="589.87" x2="385.70" y2="596.30" stroke="#000" stroke-width="1.4" stroke-linecap="butt"/>
<line x1="382.60" y1="596.30" x2="388.80" y2="596.30" stroke="#000" stroke-width="1.4" stroke-linecap="butt"/>
<line x1="392.30" y1="576.06" x2="392.30" y2="582.49" stroke="#000" stroke-width="1.4" stroke-linecap="butt"/>
<line x1="389.20" y1="582.49" x2="395.40" y2="582.49" stroke="#000" stroke-width="1.4" stroke-linecap="butt"/>
<line x1="398.90" y1="567.07" x2="398.90" y2="578.63" stroke="#000" stroke-width="1.4" stroke-linecap="butt"/>
<line x1="395.80" y1="578.63" x2="402.00" y2="578.63" stroke="#000" stroke-width="1.4" stroke-linecap="butt"/>
<line x1="405.50" y1="558.08" x2="405.50" y2="570.28" stroke="#000" stroke-width="1.4" stroke-linecap="butt"/>
<line x1="402.40" y1="570.28" x2="408.60" y2="570.28" stroke="#000" stroke-width="1.4" stroke-linecap="butt"/>
<line x1="412.10" y1="556.15" x2="412.10" y2="567.07" stroke="#000" stroke-width="1.4" stroke-linecap="butt"/>
<line x1="409.00" y1="567.07" x2="415.20" y2="567.07" stroke="#000" stroke-width="1.4" stroke-linecap="butt"/>
<line x1="418.70" y1="558.08" x2="418.70" y2="568.03" stroke="#000" stroke-width="1.4" stroke-linecap="butt"/>
<line x1="415.60" y1="568.03" x2="421.80" y2="568.03" stroke="#000" stroke-width="1.4" stroke-linecap="butt"/>
<line x1="425.30" y1="558.72" x2="425.30" y2="568.03" stroke="#000" stroke-width="1.4" stroke-linecap="butt"/>
<line x1="422.20" y1="568.03" x2="428.40" y2="568.03" stroke="#000" stroke-width="1.4" stroke-linecap="butt"/>
<line x1="431.90" y1="565.46" x2="431.90" y2="572.85" stroke="#000" stroke-width="1.4" stroke-linecap="butt"/>
<line x1="428.80" y1="572.85" x2="435.00" y2="572.85" stroke="#000" stroke-width="1.4" stroke-linecap="butt"/>
<line x1="438.50" y1="574.46" x2="438.50" y2="580.88" stroke="#000" stroke-width="1.4" stroke-linecap="butt"/>
<line x1="435.40" y1="580.88" x2="441.60" y2="580.88" stroke="#000" stroke-width="1.4" stroke-linecap="butt"/>
<line x1="445.10" y1="575.10" x2="445.10" y2="579.92" stroke="#000" stroke-width="1.4" stroke-linecap="butt"/>
<line x1="442.00" y1="579.92" x2="448.20" y2="579.92" stroke="#000" stroke-width="1.4" stroke-linecap="butt"/>
<line x1="451.70" y1="577.67" x2="451.70" y2="581.52" stroke="#000" stroke-width="1.4" stroke-linecap="butt"/>
<line x1="448.60" y1="581.52" x2="454.80" y2="581.52" stroke="#000" stroke-width="1.4" stroke-linecap="butt"/>
<line x1="458.30" y1="582.81" x2="458.30" y2="586.66" stroke="#000" stroke-width="1.4" stroke-linecap="butt"/>
<line x1="455.20" y1="586.66" x2="461.40" y2="586.66" stroke="#000" stroke-width="1.4" stroke-linecap="butt"/>
<line x1="464.90" y1="585.06" x2="464.90" y2="588.91" stroke="#000" stroke-width="1.4" stroke-linecap="butt"/>
<line x1="461.80" y1="588.91" x2="468.00" y2="588.91" stroke="#000" stroke-width="1.4" stroke-linecap="butt"/>
<line x1="471.50" y1="585.06" x2="471.50" y2="588.91" stroke="#000" stroke-width="1.4" stroke-linecap="butt"/>
<line x1="468.40" y1="588.91" x2="474.60" y2="588.91" stroke="#000" stroke-width="1.4" stroke-linecap="butt"/>
<line x1="478.10" y1="585.06" x2="478.10" y2="588.91" stroke="#000" stroke-width="1.4" stroke-linecap="butt"/>
<line x1="475.00" y1="588.91" x2="481.20" y2="588.91" stroke="#000" stroke-width="1.4" stroke-linecap="butt"/>
<circle cx="293.30" cy="644.80" r="3.1999999999999997" fill="#000" stroke="#000" stroke-width="1.25"/>
<circle cx="299.90" cy="644.80" r="3.1999999999999997" fill="#000" stroke="#000" stroke-width="1.25"/>
<circle cx="306.50" cy="644.80" r="3.1999999999999997" fill="#000" stroke="#000" stroke-width="1.25"/>
<circle cx="313.10" cy="644.80" r="3.1999999999999997" fill="#000" stroke="#000" stroke-width="1.25"/>
<circle cx="319.70" cy="644.80" r="3.1999999999999997" fill="#000" stroke="#000" stroke-width="1.25"/>
<circle cx="326.30" cy="644.80" r="3.1999999999999997" fill="#000" stroke="#000" stroke-width="1.25"/>
<circle cx="332.90" cy="644.80" r="3.1999999999999997" fill="#000" stroke="#000" stroke-width="1.25"/>
<circle cx="339.50" cy="644.80" r="3.1999999999999997" fill="#000" stroke="#000" stroke-width="1.25"/>
<circle cx="346.10" cy="644.80" r="3.1999999999999997" fill="#000" stroke="#000" stroke-width="1.25"/>
<circle cx="352.70" cy="644.80" r="3.1999999999999997" fill="#000" stroke="#000" stroke-width="1.25"/>
<circle cx="359.30" cy="644.80" r="3.1999999999999997" fill="#000" stroke="#000" stroke-width="1.25"/>
<circle cx="365.90" cy="637.41" r="3.1999999999999997" fill="#000" stroke="#000" stroke-width="1.25"/>
<circle cx="372.50" cy="625.21" r="3.1999999999999997" fill="#000" stroke="#000" stroke-width="1.25"/>
<circle cx="379.10" cy="608.83" r="3.1999999999999997" fill="#000" stroke="#000" stroke-width="1.25"/>
<circle cx="385.70" cy="589.87" r="3.1999999999999997" fill="#000" stroke="#000" stroke-width="1.25"/>
<circle cx="392.30" cy="576.06" r="3.1999999999999997" fill="#000" stroke="#000" stroke-width="1.25"/>
<circle cx="398.90" cy="567.07" r="3.1999999999999997" fill="#000" stroke="#000" stroke-width="1.25"/>
<circle cx="405.50" cy="558.08" r="3.1999999999999997" fill="#000" stroke="#000" stroke-width="1.25"/>
<circle cx="412.10" cy="556.15" r="3.1999999999999997" fill="#000" stroke="#000" stroke-width="1.25"/>
<circle cx="418.70" cy="558.08" r="3.1999999999999997" fill="#000" stroke="#000" stroke-width="1.25"/>
<circle cx="425.30" cy="558.72" r="3.1999999999999997" fill="#000" stroke="#000" stroke-width="1.25"/>
<circle cx="431.90" cy="565.46" r="3.1999999999999997" fill="#000" stroke="#000" stroke-width="1.25"/>
<circle cx="438.50" cy="574.46" r="3.1999999999999997" fill="#000" stroke="#000" stroke-width="1.25"/>
<circle cx="445.10" cy="575.10" r="3.1999999999999997" fill="#000" stroke="#000" stroke-width="1.25"/>
<circle cx="451.70" cy="577.67" r="3.1999999999999997" fill="#000" stroke="#000" stroke-width="1.25"/>
<circle cx="458.30" cy="582.81" r="3.1999999999999997" fill="#000" stroke="#000" stroke-width="1.25"/>
<circle cx="464.90" cy="585.06" r="3.1999999999999997" fill="#000" stroke="#000" stroke-width="1.25"/>
<circle cx="471.50" cy="585.06" r="3.1999999999999997" fill="#000" stroke="#000" stroke-width="1.25"/>
<circle cx="478.10" cy="585.06" r="3.1999999999999997" fill="#000" stroke="#000" stroke-width="1.25"/>
<polyline points="293.30,644.80 299.90,644.80 306.50,644.80 313.10,644.80 319.70,644.80 326.30,644.80 332.90,644.80 339.50,644.80 346.10,644.80 352.70,644.80 359.30,644.80 365.90,635.49 372.50,615.89 379.10,603.04 385.70,584.41 392.30,568.03 398.90,555.51 405.50,552.29 412.10,549.08 418.70,546.19 425.30,549.08 431.90,561.93 438.50,568.03 445.10,571.25 451.70,577.35 458.30,584.41 464.90,586.02 471.50,587.63 478.10,587.63" fill="none" stroke="#000" stroke-width="1.4"/>
<line x1="365.90" y1="635.49" x2="365.90" y2="631.63" stroke="#000" stroke-width="1.4" stroke-linecap="butt"/>
<line x1="362.80" y1="631.63" x2="369.00" y2="631.63" stroke="#000" stroke-width="1.4" stroke-linecap="butt"/>
<line x1="372.50" y1="615.89" x2="372.50" y2="609.47" stroke="#000" stroke-width="1.4" stroke-linecap="butt"/>
<line x1="369.40" y1="609.47" x2="375.60" y2="609.47" stroke="#000" stroke-width="1.4" stroke-linecap="butt"/>
<line x1="379.10" y1="603.04" x2="379.10" y2="596.62" stroke="#000" stroke-width="1.4" stroke-linecap="butt"/>
<line x1="376.00" y1="596.62" x2="382.20" y2="596.62" stroke="#000" stroke-width="1.4" stroke-linecap="butt"/>
<line x1="385.70" y1="584.41" x2="385.70" y2="577.99" stroke="#000" stroke-width="1.4" stroke-linecap="butt"/>
<line x1="382.60" y1="577.99" x2="388.80" y2="577.99" stroke="#000" stroke-width="1.4" stroke-linecap="butt"/>
<line x1="392.30" y1="568.03" x2="392.30" y2="560.00" stroke="#000" stroke-width="1.4" stroke-linecap="butt"/>
<line x1="389.20" y1="560.00" x2="395.40" y2="560.00" stroke="#000" stroke-width="1.4" stroke-linecap="butt"/>
<line x1="398.90" y1="555.51" x2="398.90" y2="548.12" stroke="#000" stroke-width="1.4" stroke-linecap="butt"/>
<line x1="395.80" y1="548.12" x2="402.00" y2="548.12" stroke="#000" stroke-width="1.4" stroke-linecap="butt"/>
<line x1="405.50" y1="552.29" x2="405.50" y2="544.91" stroke="#000" stroke-width="1.4" stroke-linecap="butt"/>
<line x1="402.40" y1="544.91" x2="408.60" y2="544.91" stroke="#000" stroke-width="1.4" stroke-linecap="butt"/>
<line x1="412.10" y1="549.08" x2="412.10" y2="541.05" stroke="#000" stroke-width="1.4" stroke-linecap="butt"/>
<line x1="409.00" y1="541.05" x2="415.20" y2="541.05" stroke="#000" stroke-width="1.4" stroke-linecap="butt"/>
<line x1="418.70" y1="546.19" x2="418.70" y2="538.16" stroke="#000" stroke-width="1.4" stroke-linecap="butt"/>
<line x1="415.60" y1="538.16" x2="421.80" y2="538.16" stroke="#000" stroke-width="1.4" stroke-linecap="butt"/>
<line x1="425.30" y1="549.08" x2="425.30" y2="541.05" stroke="#000" stroke-width="1.4" stroke-linecap="butt"/>
<line x1="422.20" y1="541.05" x2="428.40" y2="541.05" stroke="#000" stroke-width="1.4" stroke-linecap="butt"/>
<line x1="431.90" y1="561.93" x2="431.90" y2="555.51" stroke="#000" stroke-width="1.4" stroke-linecap="butt"/>
<line x1="428.80" y1="555.51" x2="435.00" y2="555.51" stroke="#000" stroke-width="1.4" stroke-linecap="butt"/>
<line x1="438.50" y1="568.03" x2="438.50" y2="562.25" stroke="#000" stroke-width="1.4" stroke-linecap="butt"/>
<line x1="435.40" y1="562.25" x2="441.60" y2="562.25" stroke="#000" stroke-width="1.4" stroke-linecap="butt"/>
<line x1="445.10" y1="571.25" x2="445.10" y2="565.78" stroke="#000" stroke-width="1.4" stroke-linecap="butt"/>
<line x1="442.00" y1="565.78" x2="448.20" y2="565.78" stroke="#000" stroke-width="1.4" stroke-linecap="butt"/>
<line x1="451.70" y1="577.35" x2="451.70" y2="571.89" stroke="#000" stroke-width="1.4" stroke-linecap="butt"/>
<line x1="448.60" y1="571.89" x2="454.80" y2="571.89" stroke="#000" stroke-width="1.4" stroke-linecap="butt"/>
<line x1="458.30" y1="584.41" x2="458.30" y2="578.95" stroke="#000" stroke-width="1.4" stroke-linecap="butt"/>
<line x1="455.20" y1="578.95" x2="461.40" y2="578.95" stroke="#000" stroke-width="1.4" stroke-linecap="butt"/>
<line x1="464.90" y1="586.02" x2="464.90" y2="580.56" stroke="#000" stroke-width="1.4" stroke-linecap="butt"/>
<line x1="461.80" y1="580.56" x2="468.00" y2="580.56" stroke="#000" stroke-width="1.4" stroke-linecap="butt"/>
<line x1="471.50" y1="587.63" x2="471.50" y2="582.17" stroke="#000" stroke-width="1.4" stroke-linecap="butt"/>
<line x1="468.40" y1="582.17" x2="474.60" y2="582.17" stroke="#000" stroke-width="1.4" stroke-linecap="butt"/>
<line x1="478.10" y1="587.63" x2="478.10" y2="582.17" stroke="#000" stroke-width="1.4" stroke-linecap="butt"/>
<line x1="475.00" y1="582.17" x2="481.20" y2="582.17" stroke="#000" stroke-width="1.4" stroke-linecap="butt"/>
<circle cx="293.30" cy="644.80" r="2.9" fill="#fff" stroke="#000" stroke-width="1.25"/>
<circle cx="299.90" cy="644.80" r="2.9" fill="#fff" stroke="#000" stroke-width="1.25"/>
<circle cx="306.50" cy="644.80" r="2.9" fill="#fff" stroke="#000" stroke-width="1.25"/>
<circle cx="313.10" cy="644.80" r="2.9" fill="#fff" stroke="#000" stroke-width="1.25"/>
<circle cx="319.70" cy="644.80" r="2.9" fill="#fff" stroke="#000" stroke-width="1.25"/>
<circle cx="326.30" cy="644.80" r="2.9" fill="#fff" stroke="#000" stroke-width="1.25"/>
<circle cx="332.90" cy="644.80" r="2.9" fill="#fff" stroke="#000" stroke-width="1.25"/>
<circle cx="339.50" cy="644.80" r="2.9" fill="#fff" stroke="#000" stroke-width="1.25"/>
<circle cx="346.10" cy="644.80" r="2.9" fill="#fff" stroke="#000" stroke-width="1.25"/>
<circle cx="352.70" cy="644.80" r="2.9" fill="#fff" stroke="#000" stroke-width="1.25"/>
<circle cx="359.30" cy="644.80" r="2.9" fill="#fff" stroke="#000" stroke-width="1.25"/>
<circle cx="365.90" cy="635.49" r="2.9" fill="#fff" stroke="#000" stroke-width="1.25"/>
<circle cx="372.50" cy="615.89" r="2.9" fill="#fff" stroke="#000" stroke-width="1.25"/>
<circle cx="379.10" cy="603.04" r="2.9" fill="#fff" stroke="#000" stroke-width="1.25"/>
<circle cx="385.70" cy="584.41" r="2.9" fill="#fff" stroke="#000" stroke-width="1.25"/>
<circle cx="392.30" cy="568.03" r="2.9" fill="#fff" stroke="#000" stroke-width="1.25"/>
<circle cx="398.90" cy="555.51" r="2.9" fill="#fff" stroke="#000" stroke-width="1.25"/>
<circle cx="405.50" cy="552.29" r="2.9" fill="#fff" stroke="#000" stroke-width="1.25"/>
<circle cx="412.10" cy="549.08" r="2.9" fill="#fff" stroke="#000" stroke-width="1.25"/>
<circle cx="418.70" cy="546.19" r="2.9" fill="#fff" stroke="#000" stroke-width="1.25"/>
<circle cx="425.30" cy="549.08" r="2.9" fill="#fff" stroke="#000" stroke-width="1.25"/>
<circle cx="431.90" cy="561.93" r="2.9" fill="#fff" stroke="#000" stroke-width="1.25"/>
<circle cx="438.50" cy="568.03" r="2.9" fill="#fff" stroke="#000" stroke-width="1.25"/>
<circle cx="445.10" cy="571.25" r="2.9" fill="#fff" stroke="#000" stroke-width="1.25"/>
<circle cx="451.70" cy="577.35" r="2.9" fill="#fff" stroke="#000" stroke-width="1.25"/>
<circle cx="458.30" cy="584.41" r="2.9" fill="#fff" stroke="#000" stroke-width="1.25"/>
<circle cx="464.90" cy="586.02" r="2.9" fill="#fff" stroke="#000" stroke-width="1.25"/>
<circle cx="471.50" cy="587.63" r="2.9" fill="#fff" stroke="#000" stroke-width="1.25"/>
<circle cx="478.10" cy="587.63" r="2.9" fill="#fff" stroke="#000" stroke-width="1.25"/>
<polygon points="433.40,659.90 428.90,676.30 437.90,676.30" fill="#000"/>
<line x1="377.80" y1="491.60" x2="402.90" y2="491.60" stroke="#000" stroke-width="1.3" stroke-linecap="butt"/>
<ellipse cx="390.5" cy="491.7" rx="4.2" ry="3.9" fill="#fff" stroke="#000" stroke-width="1.3"/>
<line x1="377.80" y1="514.00" x2="402.90" y2="514.00" stroke="#000" stroke-width="1.3" stroke-linecap="butt"/>
<ellipse cx="390.4" cy="513.9" rx="5.2" ry="5.0" fill="#000"/>
<text x="408.30" y="497.00" font-size="13.8" font-weight="bold" text-anchor="start" textLength="84.20" lengthAdjust="spacingAndGlyphs" >Control mAb</text>
<text x="408.30" y="518.60" font-size="13.8" font-weight="bold" text-anchor="start" textLength="91.20" lengthAdjust="spacingAndGlyphs" >MB22-10 mAb</text>
<text x="242.40" y="715.30" font-size="16.2" font-weight="bold" text-anchor="start" textLength="150.00" lengthAdjust="spacingAndGlyphs" >Denileukin diftitox</text>
<line x1="151.00" y1="723.60" x2="512.00" y2="723.60" stroke="#222" stroke-width="1.2" stroke-linecap="butt"/>
<defs><radialGradient id="cg"><stop offset="0" stop-color="#222" stop-opacity="0.55"/><stop offset="0.6" stop-color="#222" stop-opacity="0.25"/><stop offset="1" stop-color="#222" stop-opacity="0"/></radialGradient><radialGradient id="bg"><stop offset="0" stop-color="#000"/><stop offset="0.5" stop-color="#000" stop-opacity="0.97"/><stop offset="0.75" stop-color="#000" stop-opacity="0.45"/><stop offset="1" stop-color="#000" stop-opacity="0"/></radialGradient></defs>
<path d="M114.2 801.7h0.8M90.8 799.0h0.8M93.6 795.9h0.8M97.0 804.8h0.8M82.1 800.9h0.8M110.2 801.0h0.8M88.6 796.4h0.8M88.2 792.0h0.8M107.0 797.9h0.8M89.7 792.6h0.8M92.6 797.3h0.8M112.3 793.9h0.8M97.3 805.3h0.8M102.5 797.3h0.8M75.8 811.3h0.8M101.8 796.0h0.8M95.4 794.3h0.8M87.8 792.7h0.8M100.9 801.5h0.8M97.9 803.6h0.8M101.2 799.2h0.8M88.0 804.4h0.8M107.3 801.0h0.8M107.9 794.6h0.8M87.1 808.3h0.8M90.8 801.9h0.8M94.4 800.0h0.8M93.7 796.9h0.8M79.6 813.4h0.8M98.1 788.3h0.8M87.8 794.8h0.8M89.3 786.5h0.8M101.6 807.7h0.8M93.9 804.1h0.8M101.8 791.5h0.8M107.6 787.9h0.8M90.9 798.5h0.8M107.9 797.9h0.8M95.1 795.2h0.8M97.1 799.6h0.8M103.0 806.0h0.8M103.1 798.3h0.8M94.8 808.7h0.8M98.1 799.1h0.8M112.9 805.1h0.8M101.5 797.9h0.8M90.3 806.6h0.8M92.0 805.7h0.8M88.9 801.5h0.8M100.0 799.6h0.8M98.4 801.2h0.8M85.8 795.3h0.8M94.9 809.9h0.8M95.1 794.5h0.8M90.1 800.9h0.8M107.2 794.3h0.8M101.4 799.6h0.8M92.9 794.8h0.8M94.8 795.7h0.8M101.2 788.7h0.8M106.7 801.8h0.8M101.6 806.9h0.8M101.8 788.9h0.8M96.7 801.9h0.8M89.9 794.4h0.8M100.2 801.6h0.8M92.3 798.9h0.8M91.5 797.2h0.8M95.7 805.6h0.8M81.3 800.4h0.8M111.2 798.4h0.8M97.6 803.9h0.8M86.9 794.5h0.8M80.8 794.3h0.8M98.5 803.8h0.8M92.4 796.4h0.8M100.0 802.2h0.8M98.6 788.4h0.8M91.2 786.3h0.8M98.5 794.3h0.8M90.2 809.0h0.8M108.5 799.9h0.8M98.8 800.0h0.8M90.8 800.2h0.8M113.9 791.3h0.8M90.1 801.6h0.8M104.5 802.6h0.8M87.3 800.5h0.8M93.8 793.1h0.8M96.9 796.7h0.8M104.7 800.3h0.8M89.0 801.3h0.8M92.9 796.6h0.8M91.7 806.3h0.8M92.4 790.7h0.8M89.1 805.4h0.8M116.1 789.9h0.8M92.9 798.3h0.8M83.2 804.2h0.8M95.8 801.1h0.8M116.9 794.1h0.8M103.6 802.8h0.8M90.3 797.3h0.8M110.6 800.8h0.8M97.5 793.2h0.8M104.4 800.9h0.8M116.5 803.9h0.8M103.6 799.6h0.8M96.8 796.3h0.8M99.1 800.3h0.8M102.2 804.4h0.8M99.1 795.9h0.8M103.7 806.7h0.8M88.5 803.3h0.8M101.3 801.5h0.8M100.9 798.1h0.8M95.3 809.1h0.8M112.2 788.7h0.8M72.8 806.4h0.8M90.0 797.8h0.8M81.5 804.3h0.8M95.7 796.6h0.8M104.5 811.5h0.8M109.8 803.5h0.8M92.4 803.9h0.8M95.9 806.0h0.8M101.6 798.3h0.8M101.3 794.5h0.8M103.5 806.5h0.8M92.9 803.2h0.8M80.8 807.6h0.8M104.3 792.3h0.8M112.3 797.1h0.8M80.3 794.9h0.8M104.3 796.5h0.8M106.4 789.0h0.8M95.3 805.1h0.8M90.0 804.5h0.8M92.9 802.0h0.8M99.2 811.4h0.8M84.8 806.0h0.8M108.3 791.0h0.8M97.0 812.2h0.8M105.9 781.2h0.8M94.0 790.4h0.8M99.0 794.9h0.8M91.0 795.8h0.8M98.9 796.4h0.8M87.9 799.8h0.8M100.0 794.0h0.8M106.5 788.3h0.8M100.0 796.6h0.8M110.7 793.2h0.8M90.1 793.2h0.8M114.5 799.5h0.8M86.2 799.5h0.8M87.4 809.6h0.8M100.1 787.4h0.8M98.2 804.2h0.8M96.2 802.1h0.8M95.2 800.9h0.8M98.2 795.2h0.8M99.4 799.8h0.8M95.9 795.8h0.8M86.9 802.6h0.8M103.8 784.6h0.8M91.3 808.0h0.8M104.7 793.9h0.8M108.7 791.6h0.8M88.9 811.7h0.8M92.2 799.1h0.8M81.0 796.8h0.8M85.4 800.8h0.8M79.3 808.6h0.8M92.9 796.8h0.8M90.4 804.7h0.8M110.4 794.5h0.8M111.1 805.6h0.8M108.6 798.8h0.8M82.5 805.9h0.8M92.4 801.3h0.8M78.8 801.2h0.8M98.4 793.9h0.8M98.9 808.3h0.8M98.4 795.3h0.8M118.3 783.3h0.8M87.7 803.4h0.8M90.8 787.8h0.8M98.6 803.7h0.8M88.9 809.1h0.8M100.8 805.3h0.8M82.1 802.2h0.8M111.0 807.9h0.8M108.4 797.2h0.8M97.9 795.7h0.8M106.4 793.7h0.8M97.4 787.8h0.8M82.3 812.1h0.8M96.8 800.6h0.8M75.9 803.2h0.8M115.4 787.5h0.8M74.2 802.8h0.8M91.3 799.3h0.8M84.6 794.1h0.8M84.8 805.2h0.8M95.8 804.2h0.8M86.2 804.7h0.8M92.1 800.8h0.8M104.9 798.0h0.8M93.0 790.8h0.8M96.8 803.8h0.8M90.4 800.2h0.8M79.8 795.1h0.8M100.0 806.0h0.8M93.3 790.7h0.8M92.7 791.4h0.8M93.7 810.8h0.8M99.0 798.1h0.8M105.9 795.5h0.8M99.3 800.0h0.8M100.4 790.5h0.8M102.8 803.2h0.8M75.0 788.3h0.8M87.9 809.5h0.8M96.4 803.3h0.8M101.4 803.5h0.8M90.3 797.3h0.8M99.7 802.3h0.8M101.6 800.4h0.8M91.7 806.6h0.8M100.6 804.6h0.8M72.5 809.7h0.8M73.4 805.0h0.8M90.0 801.4h0.8M91.8 798.6h0.8M98.0 801.1h0.8M88.8 786.7h0.8M88.9 803.9h0.8M88.3 803.4h0.8M92.8 794.8h0.8M107.2 806.8h0.8M95.3 799.4h0.8M105.2 790.3h0.8M88.0 807.4h0.8M104.7 795.1h0.8M88.9 802.9h0.8M83.0 799.2h0.8M94.0 786.0h0.8M101.8 802.8h0.8M106.2 789.5h0.8M84.2 797.2h0.8M84.0 813.5h0.8M87.0 799.5h0.8M98.2 801.7h0.8M109.9 790.7h0.8M104.5 798.8h0.8M85.2 802.4h0.8M83.0 811.2h0.8M89.3 806.5h0.8M108.5 793.7h0.8M87.8 801.8h0.8M86.3 806.5h0.8M97.9 794.9h0.8M89.8 804.8h0.8M82.6 811.7h0.8M88.8 799.8h0.8M87.5 810.4h0.8M104.0 805.4h0.8M102.4 798.8h0.8M112.2 800.2h0.8M100.3 802.0h0.8M103.2 799.8h0.8M94.6 790.7h0.8M115.7 788.4h0.8M75.9 799.3h0.8M114.5 803.0h0.8M90.5 802.1h0.8M96.0 788.2h0.8M93.1 801.8h0.8M107.3 790.5h0.8M74.8 794.6h0.8M99.4 799.4h0.8M97.6 800.1h0.8M92.7 792.4h0.8M100.5 800.9h0.8M101.7 805.6h0.8M84.5 788.4h0.8M79.3 814.9h0.8M87.6 803.4h0.8M96.1 803.7h0.8M126.7 790.8h0.8M94.6 796.4h0.8M98.5 802.0h0.8M87.0 808.8h0.8M107.1 800.0h0.8M95.2 798.3h0.8M80.6 806.2h0.8M87.0 798.4h0.8M105.7 792.4h0.8M91.3 805.3h0.8M113.9 792.2h0.8M106.7 793.8h0.8M99.9 801.6h0.8M85.4 807.4h0.8M113.3 796.6h0.8M98.8 792.3h0.8M113.2 796.6h0.8M84.1 806.2h0.8M82.3 798.2h0.8M76.0 811.2h0.8M117.2 791.9h0.8M90.0 797.4h0.8M90.8 803.7h0.8M110.1 791.1h0.8M100.4 788.4h0.8M110.7 796.3h0.8M89.6 809.5h0.8M95.2 807.5h0.8M106.4 807.0h0.8M88.6 801.3h0.8M99.7 797.7h0.8M110.7 792.7h0.8M105.7 805.5h0.8M77.7 797.5h0.8M87.6 798.0h0.8M99.9 797.8h0.8M97.0 796.7h0.8M95.4 802.4h0.8M103.3 793.7h0.8M95.1 795.3h0.8" stroke="#777" stroke-width="0.8" stroke-opacity="0.6" fill="none"/>
<path d="M99.4 789.5h0.7M117.5 802.8h0.7M100.3 795.1h0.7M94.9 796.0h0.7M77.5 816.2h0.7M83.6 807.2h0.7M111.9 786.5h0.7M71.5 808.7h0.7M70.4 815.6h0.7M94.3 801.8h0.7M102.2 795.7h0.7M99.9 798.1h0.7M122.1 796.3h0.7M101.7 796.0h0.7M92.1 795.9h0.7M102.4 814.0h0.7M120.1 799.1h0.7M128.9 803.7h0.7M105.5 798.2h0.7M84.7 804.5h0.7M97.2 788.7h0.7M81.7 817.9h0.7M105.6 803.3h0.7M105.4 796.0h0.7M109.6 807.2h0.7M97.3 804.7h0.7M118.6 793.9h0.7M104.9 793.9h0.7M111.9 795.7h0.7M120.6 791.4h0.7M129.2 793.6h0.7M88.8 795.1h0.7M112.8 791.9h0.7M131.1 805.5h0.7M110.5 787.9h0.7M101.8 794.5h0.7M73.2 807.6h0.7M137.4 790.6h0.7M115.2 807.9h0.7M86.8 799.7h0.7M106.5 803.0h0.7M83.9 804.4h0.7M100.5 807.5h0.7M76.7 799.5h0.7M94.2 798.8h0.7M113.8 793.5h0.7M115.7 805.8h0.7M117.7 796.1h0.7M88.9 800.0h0.7M112.9 799.3h0.7M111.5 803.0h0.7M88.1 795.0h0.7M125.3 792.8h0.7M76.9 818.0h0.7M88.9 794.9h0.7M117.7 789.0h0.7M88.3 810.1h0.7M89.1 821.1h0.7M103.8 820.3h0.7M104.3 800.1h0.7M92.0 799.8h0.7M94.2 801.0h0.7M114.6 788.4h0.7M87.5 786.2h0.7M126.3 795.8h0.7M102.0 799.6h0.7M118.3 800.0h0.7M115.8 796.7h0.7M100.3 799.9h0.7M72.4 812.8h0.7M77.0 796.2h0.7M113.0 798.8h0.7M115.2 811.1h0.7M132.0 806.1h0.7M98.6 816.2h0.7M88.1 801.5h0.7M118.2 796.0h0.7M100.3 797.6h0.7M124.1 777.9h0.7M122.6 805.0h0.7M101.1 804.5h0.7M86.7 810.8h0.7M124.6 796.2h0.7M96.8 797.1h0.7M99.2 790.9h0.7M80.5 815.9h0.7M101.9 804.3h0.7M107.2 802.9h0.7M77.8 796.4h0.7M112.4 806.1h0.7M83.9 798.3h0.7M85.1 807.5h0.7M107.7 799.4h0.7M91.8 804.2h0.7M102.7 794.2h0.7M107.6 794.1h0.7M117.5 802.5h0.7M91.2 806.1h0.7M103.3 794.5h0.7M87.6 789.5h0.7M84.1 805.4h0.7M121.5 792.3h0.7M104.8 802.2h0.7M114.7 801.5h0.7M121.9 802.9h0.7M90.0 804.9h0.7M64.7 804.3h0.7M102.5 804.4h0.7M97.4 807.1h0.7M123.4 790.4h0.7M93.5 803.3h0.7M110.1 799.9h0.7M115.5 789.0h0.7M114.6 807.0h0.7M120.0 800.6h0.7" stroke="#888" stroke-width="0.7" stroke-opacity="0.5" fill="none"/>
<path d="M67.2 822.8h0.85M68.3 809.7h0.85M64.8 820.3h0.85M65.4 814.4h0.85M67.3 817.8h0.85M69.3 819.6h0.85M69.9 826.3h0.85M69.7 822.5h0.85M60.7 802.0h0.85M66.2 824.8h0.85M66.6 816.3h0.85M60.6 827.0h0.85M65.3 822.1h0.85M76.3 822.4h0.85M83.6 816.9h0.85M75.1 823.6h0.85M64.5 821.0h0.85M65.1 813.9h0.85M70.8 814.6h0.85M79.9 813.5h0.85M65.2 821.1h0.85M65.4 820.9h0.85M64.8 811.3h0.85M78.8 821.4h0.85M69.8 816.8h0.85M67.8 822.1h0.85M59.6 816.2h0.85M62.9 829.1h0.85M61.8 828.7h0.85M68.3 820.3h0.85M77.7 824.4h0.85M75.0 812.1h0.85M76.3 829.8h0.85M68.1 816.9h0.85M61.6 827.7h0.85M70.7 819.8h0.85M60.6 831.8h0.85M74.6 819.0h0.85M78.5 812.3h0.85M74.6 812.6h0.85M78.1 816.8h0.85M76.9 816.1h0.85M71.4 827.1h0.85M62.8 821.5h0.85M63.3 826.4h0.85M64.8 818.2h0.85M67.5 827.8h0.85M61.9 820.9h0.85M66.6 816.7h0.85M63.6 819.7h0.85M70.1 809.7h0.85M70.3 812.0h0.85M62.4 820.5h0.85M67.1 826.7h0.85M65.7 808.8h0.85M58.2 822.8h0.85M70.5 826.7h0.85M65.3 824.9h0.85M61.8 829.5h0.85M68.3 815.6h0.85M70.0 831.2h0.85M63.2 812.7h0.85M62.1 813.5h0.85M68.5 822.3h0.85M67.7 821.4h0.85M76.6 816.9h0.85M60.5 806.3h0.85M70.4 815.3h0.85M67.2 822.9h0.85M71.9 809.3h0.85M62.5 821.4h0.85M67.9 827.6h0.85M65.5 807.0h0.85M76.5 808.2h0.85M62.4 823.5h0.85M70.4 823.3h0.85M72.4 814.8h0.85M77.1 807.7h0.85M64.9 822.5h0.85M69.7 813.6h0.85M79.2 828.0h0.85M62.6 823.4h0.85M64.6 817.8h0.85M75.3 819.8h0.85M68.1 820.8h0.85M61.1 829.1h0.85M63.8 829.3h0.85M65.8 817.5h0.85M78.6 819.8h0.85M64.6 817.1h0.85M72.8 831.6h0.85M72.9 816.8h0.85M61.4 816.7h0.85M68.0 821.7h0.85M64.5 829.0h0.85M62.5 816.3h0.85M72.1 822.6h0.85M66.2 826.7h0.85M59.5 832.1h0.85M83.2 830.6h0.85M69.6 832.7h0.85M69.2 828.6h0.85M67.5 821.5h0.85M72.3 808.1h0.85M67.4 831.4h0.85M74.9 821.2h0.85M70.1 828.9h0.85M71.0 807.3h0.85M62.6 819.0h0.85M69.8 816.9h0.85M68.1 831.0h0.85M75.0 823.0h0.85M68.9 820.4h0.85M71.2 821.2h0.85M64.0 825.8h0.85M63.4 820.6h0.85M66.4 812.8h0.85M72.8 818.9h0.85M61.1 820.6h0.85M59.7 830.7h0.85M72.2 832.4h0.85M65.1 825.2h0.85M62.4 815.4h0.85M68.2 822.8h0.85M74.9 817.3h0.85M76.1 825.2h0.85M63.0 819.7h0.85M62.8 832.0h0.85M65.2 826.3h0.85M74.8 817.4h0.85M65.6 822.7h0.85M63.7 812.5h0.85M62.4 823.2h0.85M70.1 831.3h0.85M56.8 825.1h0.85M61.2 828.6h0.85M73.4 820.1h0.85M78.5 816.1h0.85M65.3 813.7h0.85M64.5 821.4h0.85M73.2 827.7h0.85M67.0 815.5h0.85M66.6 817.5h0.85M65.7 817.8h0.85M63.1 820.5h0.85M65.4 819.4h0.85M59.7 822.3h0.85M72.6 823.6h0.85M65.2 813.1h0.85M60.3 813.7h0.85M64.6 818.6h0.85M57.2 826.1h0.85M58.7 817.1h0.85M64.1 826.1h0.85M80.8 815.9h0.85M67.0 817.7h0.85M67.5 819.1h0.85M85.0 810.5h0.85M68.1 815.0h0.85M71.1 816.3h0.85M72.6 812.5h0.85M82.6 819.3h0.85M57.2 826.3h0.85M65.7 813.0h0.85M71.7 816.2h0.85M73.6 815.7h0.85M74.7 820.1h0.85M71.1 820.7h0.85M66.4 818.0h0.85M71.8 824.1h0.85M79.8 811.0h0.85M75.9 818.5h0.85M70.3 814.7h0.85M79.6 813.1h0.85M68.3 815.4h0.85M81.4 826.2h0.85M60.2 818.4h0.85M71.2 816.9h0.85M66.5 813.4h0.85M70.4 812.7h0.85M74.2 834.6h0.85M66.7 830.9h0.85M71.2 815.3h0.85M66.6 814.2h0.85M69.5 824.4h0.85M74.9 817.3h0.85M61.0 820.7h0.85M79.7 820.2h0.85M68.4 806.7h0.85M66.0 823.9h0.85M62.6 829.6h0.85M65.1 815.0h0.85M65.0 820.0h0.85M75.3 815.4h0.85M57.2 821.2h0.85M72.2 829.4h0.85M61.5 830.6h0.85M73.2 822.3h0.85M63.8 815.1h0.85M62.6 826.9h0.85M70.2 826.6h0.85M80.6 818.4h0.85M68.5 832.3h0.85M60.3 818.4h0.85M66.4 818.0h0.85M69.7 814.5h0.85M76.3 810.2h0.85M63.5 810.0h0.85M59.7 825.1h0.85M72.9 818.2h0.85M74.3 823.2h0.85M65.1 820.3h0.85M71.2 832.5h0.85M65.9 822.8h0.85M72.3 827.3h0.85M71.6 826.5h0.85M61.9 819.4h0.85M56.2 821.6h0.85M83.9 819.3h0.85M69.4 821.6h0.85M69.7 811.4h0.85M64.3 819.6h0.85M69.9 814.4h0.85M68.1 815.5h0.85M60.2 817.1h0.85M63.6 826.2h0.85M77.5 822.4h0.85M67.4 816.7h0.85M58.6 818.2h0.85M79.0 825.9h0.85M70.3 818.3h0.85M68.8 822.7h0.85M68.8 822.8h0.85M63.8 821.1h0.85M66.5 827.2h0.85M60.8 829.5h0.85M68.2 816.9h0.85M68.9 820.8h0.85M67.3 823.0h0.85M65.1 809.8h0.85M73.3 819.2h0.85M79.6 820.9h0.85M55.8 829.9h0.85M64.3 824.2h0.85M83.2 824.8h0.85M61.7 820.5h0.85M58.4 825.9h0.85M72.4 813.0h0.85M71.7 825.6h0.85M74.0 815.0h0.85M64.3 813.6h0.85M60.4 823.3h0.85M69.1 828.3h0.85M70.6 817.7h0.85M59.6 831.3h0.85M69.9 819.7h0.85M62.3 814.4h0.85M72.9 813.3h0.85M72.6 823.5h0.85M66.3 810.1h0.85M71.5 828.6h0.85M63.5 812.8h0.85M75.9 819.9h0.85M64.8 828.4h0.85M67.0 823.2h0.85M66.2 815.7h0.85M70.2 814.4h0.85M57.3 818.4h0.85M76.8 825.8h0.85M82.9 824.2h0.85M79.3 820.1h0.85M66.0 823.4h0.85M62.6 825.6h0.85M65.9 822.1h0.85M63.3 820.0h0.85M75.2 817.7h0.85M64.4 822.5h0.85M74.5 818.0h0.85M61.2 811.3h0.85M60.1 828.1h0.85M68.2 823.2h0.85M75.8 820.8h0.85M71.9 816.4h0.85M58.4 825.6h0.85M68.2 823.8h0.85M61.9 820.2h0.85M81.8 812.8h0.85M69.4 828.3h0.85M67.3 821.1h0.85M65.9 828.6h0.85M68.2 817.8h0.85M71.6 818.1h0.85M65.5 830.3h0.85M75.2 819.8h0.85M74.0 824.5h0.85M72.6 819.8h0.85M69.3 822.6h0.85M72.5 821.8h0.85M65.2 820.1h0.85M71.8 813.4h0.85M68.7 824.9h0.85M69.9 818.1h0.85M68.7 817.1h0.85M75.2 816.8h0.85M58.0 814.1h0.85M70.7 821.1h0.85M65.7 812.3h0.85M67.8 815.0h0.85M64.6 820.7h0.85M63.8 822.8h0.85M64.0 817.9h0.85M67.3 829.5h0.85M79.0 824.5h0.85M64.0 820.8h0.85M74.7 824.3h0.85M58.3 821.3h0.85M64.0 825.5h0.85M72.9 816.1h0.85M82.6 816.3h0.85M84.6 816.7h0.85M68.3 832.0h0.85M65.4 817.7h0.85M78.3 818.4h0.85M71.9 811.8h0.85M80.4 824.5h0.85M71.1 824.2h0.85M65.6 817.6h0.85M58.7 823.9h0.85M76.8 824.2h0.85M74.7 823.6h0.85M62.9 812.9h0.85M72.9 820.5h0.85M75.2 817.4h0.85M63.1 823.7h0.85M65.2 810.4h0.85M64.9 815.2h0.85M61.6 817.8h0.85M74.9 833.8h0.85M80.0 815.8h0.85M76.2 818.6h0.85M71.4 815.5h0.85M68.3 809.7h0.85M80.4 813.6h0.85M72.6 815.9h0.85M70.5 812.5h0.85M66.4 826.1h0.85M72.6 807.5h0.85M74.3 811.1h0.85M70.6 823.1h0.85M64.7 818.8h0.85M67.2 822.8h0.85M74.7 827.7h0.85M70.9 832.2h0.85M62.7 832.1h0.85M67.1 825.1h0.85M68.0 820.7h0.85M62.9 823.4h0.85M81.9 819.1h0.85M68.7 820.2h0.85M73.4 818.2h0.85M68.8 821.5h0.85M77.2 824.7h0.85M62.0 817.2h0.85M68.9 825.3h0.85M75.1 817.9h0.85M82.5 817.0h0.85M77.9 827.6h0.85M79.1 819.8h0.85M72.5 810.1h0.85M57.3 818.0h0.85M73.4 826.0h0.85M68.1 826.7h0.85M72.5 829.0h0.85M58.5 816.5h0.85M62.6 814.6h0.85M79.5 812.8h0.85M63.4 818.4h0.85M74.5 816.4h0.85M73.6 822.8h0.85M64.7 806.1h0.85M62.9 813.3h0.85M79.4 814.1h0.85M61.9 823.5h0.85M69.1 814.3h0.85M75.9 824.7h0.85M70.6 815.1h0.85M63.2 808.2h0.85M71.3 822.2h0.85M62.9 821.2h0.85M90.0 809.9h0.85M57.8 825.5h0.85M66.0 817.4h0.85M72.8 818.7h0.85M75.2 822.3h0.85M76.3 819.7h0.85M57.8 828.2h0.85M70.4 811.2h0.85M69.2 825.5h0.85M62.2 821.3h0.85M64.0 814.6h0.85M64.8 828.6h0.85M73.2 819.2h0.85M68.3 821.0h0.85M70.7 820.9h0.85M57.7 827.5h0.85M63.3 804.8h0.85M73.4 811.9h0.85M67.9 819.6h0.85M65.0 824.0h0.85M67.0 818.6h0.85M62.6 819.3h0.85M62.1 821.3h0.85M77.4 825.1h0.85M71.6 811.2h0.85M75.5 824.9h0.85M82.2 804.1h0.85M68.9 818.0h0.85M75.9 812.3h0.85M75.2 806.7h0.85M68.9 828.5h0.85M64.8 824.4h0.85M69.4 810.9h0.85M64.7 827.7h0.85M76.5 815.2h0.85M76.1 814.5h0.85M70.4 819.7h0.85M60.7 823.3h0.85M66.3 803.4h0.85M63.4 815.6h0.85M63.4 814.8h0.85M64.3 805.5h0.85M74.6 819.6h0.85M70.5 818.1h0.85M69.2 818.4h0.85M61.7 811.7h0.85M69.3 826.3h0.85M70.3 829.9h0.85M59.9 819.7h0.85M64.8 828.3h0.85M79.8 815.1h0.85M73.5 817.8h0.85M62.3 820.3h0.85M62.0 830.7h0.85M72.6 826.9h0.85M71.1 804.5h0.85M74.0 819.8h0.85M75.4 829.7h0.85M62.2 825.9h0.85M71.0 818.6h0.85M67.0 823.6h0.85M72.5 823.6h0.85M66.2 812.2h0.85M77.4 826.8h0.85M65.1 820.4h0.85M74.0 808.3h0.85M72.0 834.6h0.85M70.6 815.4h0.85M82.1 818.1h0.85M70.2 817.2h0.85M70.0 808.6h0.85M60.5 812.1h0.85M74.7 818.6h0.85M76.3 806.2h0.85M64.9 829.7h0.85M63.7 809.2h0.85M64.0 818.6h0.85M68.7 828.2h0.85M77.4 828.4h0.85M72.6 816.3h0.85M65.6 811.3h0.85M77.1 826.6h0.85M69.4 814.4h0.85M73.2 822.4h0.85M69.8 812.6h0.85M70.4 816.2h0.85M73.6 823.0h0.85M71.7 816.9h0.85M78.7 823.4h0.85M77.0 824.0h0.85M73.1 821.8h0.85M61.9 809.7h0.85M62.7 824.8h0.85M74.7 820.3h0.85M69.4 831.4h0.85M66.2 809.2h0.85M58.8 819.5h0.85M73.3 823.9h0.85M67.4 825.3h0.85M68.5 815.5h0.85M66.3 825.1h0.85M75.0 812.1h0.85M62.4 821.7h0.85M82.6 810.6h0.85M60.7 823.8h0.85M72.1 815.7h0.85M68.6 823.1h0.85M57.5 821.6h0.85M72.7 825.2h0.85M76.3 818.4h0.85M59.5 829.8h0.85M73.8 815.3h0.85M75.5 825.5h0.85M67.9 805.4h0.85M65.8 815.7h0.85M63.4 820.3h0.85M61.8 823.5h0.85M81.0 810.7h0.85M75.5 815.7h0.85M72.3 818.7h0.85M77.1 814.3h0.85M73.5 814.4h0.85M70.3 819.7h0.85M75.8 809.1h0.85M60.1 830.0h0.85M71.3 830.2h0.85M62.1 822.3h0.85M72.7 830.5h0.85M68.5 817.3h0.85M73.4 818.7h0.85M64.0 825.5h0.85M56.5 815.5h0.85M77.6 815.6h0.85M66.7 822.6h0.85M76.0 822.2h0.85M62.6 817.4h0.85M75.6 818.2h0.85M64.7 826.1h0.85M76.2 832.5h0.85M61.9 816.6h0.85M64.3 822.9h0.85M65.7 827.4h0.85M64.7 818.9h0.85M72.5 820.7h0.85M62.3 830.4h0.85M72.5 816.4h0.85M70.1 812.9h0.85M60.9 819.3h0.85M71.2 820.3h0.85M63.8 812.1h0.85M58.0 831.6h0.85M71.2 814.6h0.85M76.4 822.2h0.85M66.1 816.6h0.85M76.1 821.0h0.85M79.3 820.7h0.85M65.0 816.8h0.85M64.3 822.3h0.85M70.4 823.6h0.85M71.7 813.0h0.85M67.5 814.3h0.85M71.9 811.3h0.85M65.1 815.2h0.85M64.8 819.0h0.85M78.5 816.9h0.85M59.6 819.5h0.85M73.6 822.7h0.85M70.3 832.2h0.85M75.9 819.5h0.85M76.6 810.4h0.85M67.7 814.7h0.85M69.9 830.0h0.85M65.6 830.4h0.85M62.2 829.9h0.85M57.9 816.3h0.85M75.2 818.5h0.85M69.7 819.8h0.85M70.0 818.7h0.85M62.5 819.1h0.85M69.5 814.3h0.85M71.8 830.6h0.85M58.3 818.2h0.85M67.0 820.4h0.85M69.4 815.4h0.85M68.6 820.1h0.85M68.2 829.7h0.85M69.6 810.6h0.85M58.8 825.2h0.85M66.6 816.5h0.85M60.1 819.4h0.85M68.2 815.8h0.85M66.5 825.9h0.85M73.8 822.7h0.85M67.7 811.7h0.85M73.8 828.6h0.85M77.0 826.1h0.85M70.6 822.1h0.85M68.7 827.9h0.85M67.1 833.7h0.85M73.8 817.2h0.85M68.8 809.9h0.85M64.1 818.8h0.85M84.5 812.6h0.85M74.7 819.6h0.85M66.9 824.2h0.85M56.0 827.8h0.85M81.2 820.0h0.85M68.4 821.1h0.85M73.1 816.3h0.85M69.6 823.0h0.85M66.6 822.8h0.85M70.9 824.2h0.85M62.5 817.6h0.85M66.1 827.9h0.85M70.4 809.4h0.85M60.6 833.4h0.85M71.0 811.6h0.85M63.0 821.8h0.85M77.9 828.8h0.85M66.5 818.5h0.85M81.1 812.0h0.85M78.8 820.6h0.85M69.4 828.0h0.85M71.9 814.3h0.85M59.0 821.6h0.85M72.1 828.1h0.85M72.8 828.9h0.85M73.9 820.6h0.85M71.6 822.1h0.85M64.8 819.9h0.85M69.6 817.1h0.85M59.4 812.4h0.85M72.0 822.8h0.85M69.5 812.6h0.85M74.3 816.7h0.85M72.2 816.7h0.85M78.3 827.1h0.85M70.5 809.0h0.85M66.4 818.6h0.85M71.8 818.8h0.85M71.0 809.4h0.85M64.7 829.7h0.85M59.5 827.2h0.85M83.6 821.9h0.85M59.9 829.1h0.85M56.9 823.9h0.85M66.2 828.2h0.85M76.4 820.1h0.85M80.3 824.4h0.85M65.7 814.3h0.85M84.6 815.1h0.85M71.4 818.9h0.85M65.8 810.4h0.85M67.9 819.4h0.85M75.1 815.8h0.85M58.8 814.8h0.85M68.5 821.6h0.85M73.4 816.9h0.85M72.3 820.4h0.85M79.6 818.0h0.85M69.7 823.4h0.85M76.6 813.0h0.85M65.8 818.7h0.85M75.7 819.1h0.85M90.4 824.8h0.85M81.8 827.9h0.85M74.6 810.2h0.85M78.6 821.2h0.85M61.1 821.5h0.85M73.6 825.5h0.85M69.9 816.6h0.85M73.7 814.5h0.85M68.3 824.9h0.85M59.6 823.7h0.85M56.2 816.1h0.85M60.9 820.6h0.85M73.4 819.0h0.85M74.7 819.7h0.85M67.5 823.3h0.85M67.3 821.1h0.85M75.5 815.4h0.85M76.2 811.9h0.85M67.4 809.3h0.85M65.4 830.5h0.85M71.1 827.6h0.85M59.4 815.1h0.85M71.8 824.8h0.85M74.2 808.7h0.85M72.1 819.1h0.85M69.6 822.9h0.85M67.0 809.6h0.85M61.9 811.9h0.85M60.4 820.4h0.85M77.2 814.3h0.85M63.9 813.5h0.85M57.7 822.1h0.85M65.7 819.0h0.85M62.6 824.0h0.85M61.1 824.6h0.85M64.6 825.6h0.85M63.1 823.6h0.85M71.6 819.1h0.85M79.3 819.5h0.85M63.1 825.2h0.85M63.5 817.4h0.85M68.9 821.1h0.85M79.8 807.4h0.85M67.1 827.4h0.85M67.8 822.2h0.85M78.6 810.8h0.85M69.1 825.0h0.85M65.0 809.5h0.85M62.4 822.2h0.85M70.0 831.4h0.85M77.3 809.0h0.85M75.5 824.8h0.85M79.2 817.5h0.85M65.2 821.5h0.85M78.7 822.4h0.85M79.7 823.3h0.85M65.0 814.2h0.85M80.7 808.7h0.85M66.6 818.3h0.85M62.9 817.3h0.85M68.4 816.8h0.85M69.6 825.8h0.85M63.6 818.2h0.85M57.6 826.1h0.85M73.2 828.8h0.85M74.4 817.4h0.85M66.3 818.4h0.85M61.0 826.0h0.85M64.9 816.0h0.85M72.1 820.2h0.85M65.0 819.1h0.85M65.6 829.0h0.85M75.2 814.4h0.85M68.5 828.7h0.85M67.0 831.5h0.85M71.7 823.8h0.85M71.0 823.3h0.85M71.9 822.9h0.85M65.5 826.2h0.85M69.2 813.3h0.85M62.2 822.0h0.85M71.0 805.7h0.85M58.9 819.9h0.85M64.9 824.1h0.85M77.9 828.8h0.85M62.3 828.8h0.85M61.0 823.1h0.85M69.9 823.8h0.85M63.7 829.2h0.85M68.4 819.9h0.85M67.1 813.5h0.85M73.4 821.4h0.85M71.7 831.3h0.85M63.2 819.0h0.85M68.8 825.4h0.85M67.7 826.1h0.85M71.7 808.4h0.85M64.4 807.8h0.85M67.0 817.6h0.85M72.6 820.5h0.85M68.4 828.1h0.85M72.6 811.6h0.85M64.4 822.7h0.85M79.8 817.1h0.85M67.7 821.8h0.85M73.8 818.7h0.85M70.7 817.1h0.85M65.3 815.5h0.85M73.0 815.8h0.85M72.3 822.0h0.85M75.1 802.1h0.85M62.6 813.2h0.85M67.7 825.3h0.85M85.1 827.3h0.85M77.6 821.1h0.85M66.3 823.8h0.85M68.9 823.9h0.85M62.2 814.1h0.85M64.7 820.3h0.85M71.1 817.4h0.85M71.1 824.0h0.85M61.3 820.5h0.85M58.8 818.0h0.85M74.6 814.6h0.85M80.8 821.4h0.85M74.5 819.8h0.85M74.4 826.1h0.85M69.5 816.5h0.85M65.3 832.8h0.85M67.6 817.3h0.85M64.2 810.0h0.85M65.6 822.5h0.85M65.7 815.7h0.85M71.4 822.5h0.85M66.0 822.4h0.85M62.5 826.4h0.85M62.4 818.8h0.85M69.7 817.2h0.85M61.4 834.4h0.85M78.6 807.5h0.85M69.6 811.8h0.85M70.8 811.4h0.85M72.5 822.8h0.85M79.8 826.0h0.85M65.8 826.4h0.85M65.8 819.7h0.85M65.6 809.3h0.85M72.7 806.5h0.85M67.3 823.6h0.85M69.5 809.9h0.85M64.6 825.0h0.85M75.9 829.1h0.85M57.1 824.7h0.85M65.7 825.3h0.85M57.9 820.7h0.85M73.4 815.2h0.85M66.5 814.1h0.85M76.0 810.5h0.85M62.9 818.8h0.85M66.8 833.7h0.85M70.6 814.4h0.85M72.5 821.6h0.85M70.6 819.3h0.85M71.8 812.1h0.85M61.0 818.5h0.85M61.7 825.5h0.85M81.3 826.0h0.85M71.7 821.7h0.85M64.4 812.4h0.85M72.3 810.1h0.85M70.7 818.8h0.85M73.6 819.6h0.85M69.5 816.2h0.85M57.7 819.5h0.85M73.3 826.0h0.85M77.7 812.3h0.85M62.8 825.4h0.85M70.8 810.0h0.85M65.2 830.5h0.85M57.0 822.7h0.85M59.9 831.5h0.85M65.9 813.9h0.85M57.8 817.1h0.85M82.9 818.5h0.85M67.1 812.9h0.85M71.0 816.7h0.85M63.3 829.6h0.85M71.6 813.9h0.85M78.3 818.2h0.85M72.0 820.5h0.85M76.4 822.8h0.85M66.6 824.9h0.85M66.3 821.2h0.85M79.4 811.7h0.85M62.1 818.5h0.85M65.6 828.8h0.85M79.0 815.6h0.85M70.0 817.5h0.85M73.1 823.6h0.85M73.7 824.1h0.85M81.3 817.0h0.85M73.3 818.1h0.85M69.1 821.4h0.85M68.5 822.3h0.85M63.3 819.9h0.85M64.9 813.2h0.85M64.2 817.5h0.85M67.8 810.2h0.85M67.1 813.1h0.85M63.5 822.0h0.85M76.0 820.7h0.85M65.6 817.7h0.85M77.4 808.4h0.85M76.2 809.3h0.85M64.7 820.9h0.85M67.4 830.8h0.85M72.0 819.2h0.85M75.0 819.3h0.85M63.6 827.9h0.85M78.5 826.7h0.85M61.2 833.3h0.85M66.1 825.3h0.85M76.5 834.0h0.85M58.4 815.1h0.85M76.4 822.0h0.85M66.8 801.7h0.85M71.6 818.4h0.85M68.8 821.5h0.85M73.7 817.6h0.85M63.0 818.6h0.85M81.6 813.7h0.85M68.3 832.2h0.85M75.6 819.8h0.85M73.6 817.6h0.85M62.9 827.3h0.85M69.7 830.1h0.85M67.1 817.9h0.85M71.0 818.5h0.85M66.8 814.6h0.85M70.4 821.8h0.85M80.6 818.1h0.85M57.4 824.7h0.85M83.6 815.0h0.85M63.6 819.7h0.85M67.6 810.5h0.85M72.5 813.9h0.85M56.8 817.2h0.85M72.9 831.6h0.85M76.9 820.0h0.85M65.5 818.8h0.85M75.1 815.8h0.85M71.5 825.8h0.85M62.9 817.1h0.85M71.7 819.6h0.85M68.0 816.7h0.85M68.4 831.9h0.85M77.6 808.4h0.85M69.1 820.5h0.85M69.0 811.1h0.85M68.0 821.1h0.85M64.4 822.7h0.85M69.5 822.4h0.85M67.7 817.2h0.85M70.0 826.7h0.85M74.6 818.6h0.85M65.8 827.2h0.85M72.3 825.1h0.85M67.0 814.8h0.85M70.0 815.8h0.85M76.2 824.3h0.85M77.4 825.3h0.85M65.7 815.0h0.85M75.1 825.5h0.85M69.2 812.6h0.85M58.9 823.2h0.85M63.4 816.5h0.85M71.7 826.3h0.85M77.2 818.5h0.85M66.6 824.4h0.85M61.4 813.3h0.85M68.9 830.0h0.85M75.4 819.0h0.85M75.4 816.4h0.85M61.2 810.4h0.85M70.6 825.5h0.85M71.2 819.4h0.85M66.2 827.4h0.85M68.5 810.8h0.85M77.7 814.5h0.85M71.3 819.6h0.85M75.6 820.6h0.85M76.7 820.2h0.85M65.8 817.2h0.85M73.0 814.1h0.85M74.8 817.6h0.85M62.8 815.3h0.85M67.9 831.5h0.85M73.8 819.4h0.85M62.9 833.1h0.85M67.0 820.3h0.85M66.1 828.9h0.85M69.9 816.9h0.85M70.0 813.4h0.85M62.0 820.0h0.85M81.7 811.0h0.85M67.9 810.1h0.85M69.9 821.2h0.85M73.6 810.8h0.85M64.9 816.4h0.85M67.5 819.9h0.85M65.5 825.6h0.85M85.4 824.9h0.85M78.7 811.6h0.85M75.7 819.2h0.85M76.9 825.6h0.85M73.0 808.6h0.85M69.7 816.7h0.85M71.7 819.8h0.85M75.6 808.7h0.85M64.0 820.2h0.85M70.9 817.1h0.85M68.6 820.4h0.85M75.6 818.3h0.85M70.4 808.1h0.85M71.1 804.9h0.85M71.5 819.0h0.85M68.8 815.3h0.85M66.1 825.7h0.85M71.1 819.5h0.85M65.6 821.8h0.85M76.5 818.7h0.85M66.4 812.8h0.85M69.4 814.0h0.85M59.5 827.0h0.85M64.8 807.6h0.85M64.1 832.5h0.85M68.1 811.6h0.85M61.6 825.7h0.85M71.4 821.0h0.85M67.5 823.3h0.85M78.8 821.6h0.85M67.7 811.2h0.85M71.7 829.6h0.85M73.0 811.3h0.85M70.0 828.2h0.85M64.7 823.8h0.85M76.7 829.3h0.85M58.5 810.4h0.85M71.2 824.1h0.85M66.5 820.2h0.85M66.1 828.1h0.85M60.5 816.9h0.85M58.8 815.7h0.85M68.6 820.2h0.85M80.4 816.8h0.85M71.0 821.9h0.85M70.5 829.2h0.85M69.7 820.8h0.85M68.1 820.1h0.85M68.4 826.4h0.85M68.9 820.4h0.85M68.5 824.9h0.85M65.7 826.5h0.85M65.1 825.0h0.85M81.3 819.6h0.85M68.2 812.5h0.85M73.6 819.4h0.85M74.7 814.9h0.85M72.2 831.1h0.85M71.4 817.5h0.85M60.3 821.2h0.85M73.1 823.2h0.85M61.5 814.5h0.85M62.4 814.4h0.85M67.0 822.0h0.85M81.3 819.4h0.85M78.3 807.9h0.85M78.8 823.6h0.85M71.7 824.9h0.85M72.8 831.7h0.85M74.0 808.0h0.85M57.4 832.1h0.85M68.3 828.6h0.85M66.6 816.1h0.85M66.6 822.4h0.85M70.0 815.8h0.85M72.3 823.4h0.85M62.8 813.7h0.85M56.0 819.9h0.85M68.9 815.5h0.85M64.9 819.7h0.85M69.0 823.6h0.85M74.2 822.0h0.85M76.1 812.7h0.85M72.8 821.8h0.85M62.0 816.7h0.85M71.7 820.0h0.85M60.6 817.7h0.85M78.7 823.9h0.85M69.3 828.6h0.85M62.9 819.8h0.85M75.1 816.9h0.85M61.5 824.9h0.85M79.2 802.1h0.85M69.8 811.8h0.85M66.9 811.2h0.85M85.8 813.1h0.85M69.1 815.4h0.85M62.3 818.0h0.85M70.2 831.1h0.85M70.7 829.8h0.85M61.9 821.5h0.85M65.9 810.3h0.85M93.1 814.8h0.85M70.4 814.9h0.85M65.0 813.9h0.85M75.5 816.4h0.85M67.9 821.3h0.85M60.8 822.7h0.85M67.7 823.0h0.85M66.3 820.6h0.85M72.2 825.7h0.85M64.3 826.9h0.85M62.4 819.7h0.85M69.7 820.8h0.85M67.6 826.1h0.85M64.2 830.4h0.85M57.0 822.3h0.85M72.3 819.6h0.85M70.5 825.8h0.85M63.5 824.6h0.85M75.7 817.5h0.85M63.2 814.0h0.85M71.6 814.4h0.85M85.0 821.3h0.85M60.3 819.4h0.85M78.8 822.9h0.85M62.2 827.7h0.85M65.7 834.7h0.85M65.2 824.4h0.85M72.5 816.6h0.85M67.8 827.6h0.85M72.0 819.1h0.85M71.7 830.8h0.85M74.9 822.2h0.85M70.9 809.6h0.85M69.7 816.7h0.85" stroke="#222" stroke-width="0.85" stroke-opacity="0.75" fill="none"/>
<path d="M81.8 803.2h0.8M79.3 800.5h0.8M83.3 801.9h0.8M75.0 813.9h0.8M72.4 810.3h0.8M84.7 820.3h0.8M59.2 807.0h0.8M81.3 815.0h0.8M71.1 811.3h0.8M73.6 827.1h0.8M73.5 801.0h0.8M61.5 803.6h0.8M86.9 803.5h0.8M92.6 809.7h0.8M78.7 813.5h0.8M82.3 814.6h0.8M66.6 807.6h0.8M70.4 811.6h0.8M73.1 800.8h0.8M69.1 824.6h0.8M94.2 798.0h0.8M78.7 808.3h0.8M67.8 816.9h0.8M74.7 822.2h0.8M79.4 806.1h0.8M82.8 802.1h0.8M83.2 812.6h0.8M59.6 812.2h0.8M78.2 814.4h0.8M76.7 809.0h0.8M72.2 808.1h0.8M75.3 801.5h0.8M81.0 805.5h0.8M79.9 804.4h0.8M79.0 809.5h0.8M83.2 810.9h0.8M83.6 806.0h0.8M74.8 807.7h0.8M64.1 811.5h0.8M85.0 812.7h0.8M67.7 813.8h0.8M82.0 797.5h0.8M78.4 811.2h0.8M82.0 809.7h0.8M59.8 798.4h0.8M92.9 801.8h0.8M86.6 816.0h0.8M76.1 800.7h0.8M87.5 806.0h0.8M79.9 811.9h0.8M83.8 814.9h0.8M62.7 802.3h0.8M76.6 809.2h0.8M82.2 806.6h0.8M73.7 825.2h0.8M87.5 815.0h0.8M84.5 801.1h0.8M74.5 809.2h0.8M65.6 805.6h0.8M76.7 800.0h0.8M80.1 811.8h0.8M73.2 807.5h0.8M80.7 811.7h0.8M78.6 799.4h0.8M60.9 828.7h0.8M69.5 808.3h0.8M59.1 807.8h0.8M68.8 817.2h0.8M71.6 806.8h0.8M68.4 808.0h0.8M61.3 815.2h0.8M85.9 807.8h0.8M70.5 820.3h0.8M79.6 800.6h0.8M70.2 806.3h0.8M74.9 818.7h0.8M69.0 810.1h0.8M76.3 800.3h0.8M71.1 815.2h0.8M85.4 792.8h0.8M81.6 805.6h0.8M86.8 811.1h0.8M92.8 807.2h0.8M71.8 804.2h0.8M62.6 817.1h0.8M79.9 814.4h0.8M78.4 797.4h0.8M71.7 808.6h0.8M76.7 814.9h0.8M87.9 808.3h0.8M57.0 806.7h0.8M56.3 808.8h0.8M64.6 814.1h0.8M73.3 818.4h0.8M84.9 803.5h0.8M83.7 807.4h0.8M79.4 818.5h0.8M65.1 811.7h0.8M89.0 800.1h0.8M77.2 810.0h0.8M71.6 800.7h0.8M69.2 803.8h0.8M84.9 808.8h0.8M81.5 798.9h0.8M79.8 809.4h0.8M84.6 801.6h0.8M82.5 817.8h0.8M91.3 798.3h0.8M65.3 801.2h0.8M83.9 811.7h0.8M78.3 802.2h0.8M86.5 818.5h0.8M75.0 808.7h0.8M85.9 810.5h0.8M87.3 803.3h0.8M78.3 806.2h0.8M70.2 808.6h0.8M72.8 813.9h0.8M72.6 810.7h0.8M68.1 802.3h0.8M88.0 798.8h0.8M91.4 812.2h0.8M71.6 810.6h0.8M73.7 805.4h0.8M86.4 805.6h0.8M83.9 802.1h0.8M69.2 821.1h0.8M72.8 802.0h0.8M73.8 817.8h0.8M73.9 804.5h0.8M81.0 815.3h0.8M73.5 807.6h0.8M72.1 830.5h0.8M73.6 823.0h0.8M74.0 812.9h0.8M57.2 815.7h0.8M75.8 807.0h0.8M71.7 800.3h0.8M62.1 814.3h0.8M69.6 810.3h0.8M73.7 806.1h0.8M68.8 825.1h0.8M65.5 808.3h0.8M72.7 801.6h0.8M66.8 818.2h0.8M83.6 808.3h0.8M104.1 808.0h0.8M86.3 800.5h0.8M84.9 819.5h0.8M72.0 823.9h0.8M68.2 802.9h0.8M74.9 803.6h0.8M81.0 799.7h0.8M76.1 794.7h0.8M75.0 817.4h0.8M73.0 812.5h0.8M85.0 798.7h0.8M64.0 813.1h0.8M77.8 806.8h0.8M66.7 820.8h0.8M65.0 810.3h0.8M74.9 815.0h0.8M71.4 804.4h0.8M93.2 798.4h0.8M82.4 806.5h0.8M71.1 810.3h0.8M73.1 812.4h0.8M76.0 802.1h0.8M71.9 827.8h0.8M91.7 809.9h0.8M77.4 806.7h0.8M87.7 802.9h0.8M68.0 816.6h0.8M66.7 805.9h0.8M88.2 794.1h0.8M74.7 810.5h0.8M77.6 798.0h0.8M73.3 807.5h0.8M92.4 812.4h0.8M68.6 817.8h0.8M81.1 807.1h0.8M73.2 808.0h0.8M61.6 808.5h0.8M83.7 818.0h0.8M91.8 802.3h0.8M80.8 790.1h0.8M72.9 800.7h0.8M82.6 795.2h0.8M66.1 803.7h0.8M78.9 814.8h0.8M67.2 825.1h0.8M76.8 802.9h0.8M78.4 808.6h0.8M82.7 810.1h0.8M94.8 813.0h0.8M69.7 816.9h0.8M82.1 800.2h0.8M68.7 805.3h0.8M73.4 819.2h0.8M70.4 811.4h0.8M81.8 815.0h0.8M78.2 801.0h0.8M94.9 810.7h0.8M87.4 818.3h0.8M87.8 809.3h0.8M79.5 813.1h0.8M62.0 819.1h0.8M66.7 814.9h0.8M66.4 817.2h0.8M71.0 829.2h0.8M77.1 812.8h0.8M67.3 809.5h0.8M74.8 807.5h0.8M71.5 804.0h0.8M82.1 804.8h0.8M68.1 814.1h0.8M68.2 810.1h0.8M70.8 803.8h0.8M73.4 803.9h0.8M64.2 815.1h0.8" stroke="#777" stroke-width="0.8" stroke-opacity="0.55" fill="none"/>
<ellipse cx="68.30" cy="820.50" rx="10" ry="10" fill="url(#bg)"/>
<rect x="54.70" y="748.60" width="86.90" height="87.20" fill="none" stroke="#000" stroke-width="1.5"/>
<rect x="79.30" y="780.20" width="47.00" height="30.80" fill="none" stroke="#000" stroke-width="1.3"/>
<line x1="53.20" y1="770.40" x2="54.70" y2="770.40" stroke="#000" stroke-width="0.8" stroke-linecap="butt"/>
<line x1="76.42" y1="835.80" x2="76.42" y2="837.30" stroke="#000" stroke-width="0.8" stroke-linecap="butt"/>
<line x1="53.20" y1="792.20" x2="54.70" y2="792.20" stroke="#000" stroke-width="0.8" stroke-linecap="butt"/>
<line x1="98.15" y1="835.80" x2="98.15" y2="837.30" stroke="#000" stroke-width="0.8" stroke-linecap="butt"/>
<line x1="53.20" y1="814.00" x2="54.70" y2="814.00" stroke="#000" stroke-width="0.8" stroke-linecap="butt"/>
<line x1="119.88" y1="835.80" x2="119.88" y2="837.30" stroke="#000" stroke-width="0.8" stroke-linecap="butt"/>
<text x="82.20" y="778.80" font-size="13" font-weight="bold" text-anchor="start" textLength="32.00" lengthAdjust="spacingAndGlyphs" >7.4%</text>
<text x="80.80" y="741.20" font-size="17.5" font-weight="bold" text-anchor="start" textLength="34.60" lengthAdjust="spacingAndGlyphs" >PBS</text>
<path d="M185.7 791.9h0.8M184.8 801.2h0.8M192.5 800.8h0.8M190.9 802.4h0.8M183.9 795.9h0.8M194.2 796.1h0.8M188.6 803.1h0.8M197.3 804.6h0.8M182.1 798.6h0.8M193.7 790.5h0.8M176.7 805.1h0.8M182.7 795.4h0.8M196.0 801.0h0.8M197.1 796.0h0.8M185.8 798.1h0.8M191.3 787.7h0.8M182.0 804.7h0.8M181.2 800.5h0.8M189.7 802.2h0.8M184.1 794.0h0.8M211.8 791.1h0.8M204.5 786.7h0.8M189.5 798.2h0.8M206.2 807.5h0.8M197.6 792.1h0.8M181.0 796.7h0.8M183.7 801.9h0.8M181.1 799.5h0.8M202.3 804.9h0.8M171.1 797.5h0.8M185.0 807.4h0.8M185.4 810.7h0.8M191.9 806.8h0.8M180.5 799.3h0.8M198.0 800.9h0.8M171.1 801.3h0.8M190.2 802.7h0.8M182.6 810.3h0.8M189.9 807.3h0.8M192.3 799.2h0.8M185.5 793.6h0.8M196.6 802.2h0.8M197.2 795.7h0.8M179.1 799.2h0.8M185.6 800.0h0.8M197.7 792.7h0.8M184.0 804.2h0.8M196.9 810.2h0.8M193.4 793.9h0.8M178.8 796.9h0.8M189.2 800.8h0.8M187.9 796.2h0.8M186.8 799.4h0.8M194.1 798.9h0.8M181.0 794.4h0.8M202.4 796.4h0.8M186.9 799.7h0.8M199.0 795.8h0.8M190.2 797.9h0.8M193.9 792.9h0.8M190.4 804.8h0.8M199.6 800.8h0.8M191.3 807.7h0.8M195.1 806.0h0.8M177.3 795.5h0.8M196.0 796.6h0.8M184.5 795.0h0.8M202.4 790.3h0.8M189.5 791.6h0.8M186.9 812.3h0.8M211.2 792.5h0.8M179.1 810.3h0.8M180.6 791.1h0.8M191.8 792.9h0.8M175.0 808.3h0.8M181.7 794.9h0.8M190.1 798.1h0.8M199.0 798.0h0.8M203.4 803.0h0.8M205.1 802.6h0.8M189.2 802.4h0.8M188.8 790.8h0.8M177.6 805.7h0.8M166.5 799.1h0.8M176.6 801.4h0.8M178.9 802.7h0.8M186.7 797.2h0.8M180.7 788.7h0.8M189.3 792.2h0.8M185.8 802.1h0.8M198.3 801.5h0.8M202.3 789.0h0.8M194.8 807.0h0.8M192.2 792.6h0.8M192.3 795.9h0.8M182.6 806.5h0.8M186.9 793.6h0.8M182.3 811.5h0.8M180.7 804.7h0.8M190.2 805.6h0.8M186.0 794.7h0.8M182.6 794.9h0.8M212.7 796.0h0.8M185.6 807.0h0.8M194.7 797.3h0.8M194.3 799.9h0.8M199.0 806.6h0.8M185.7 799.8h0.8M186.9 806.6h0.8M192.1 803.1h0.8M196.9 794.4h0.8M189.8 806.9h0.8M197.2 802.4h0.8M186.0 798.0h0.8M180.6 799.5h0.8M188.0 791.7h0.8M199.4 793.2h0.8M190.9 802.4h0.8M183.5 790.4h0.8M197.5 800.0h0.8M186.2 806.2h0.8M196.9 792.6h0.8M187.8 789.9h0.8M186.1 807.8h0.8M180.8 805.5h0.8M174.6 800.5h0.8M197.3 807.3h0.8M192.8 802.9h0.8M204.5 783.0h0.8M172.7 812.9h0.8M211.5 798.5h0.8M189.2 800.8h0.8M188.8 796.0h0.8M188.4 798.8h0.8M194.8 802.1h0.8M197.7 801.0h0.8M179.6 808.9h0.8M163.8 804.8h0.8M191.6 796.0h0.8M205.9 790.2h0.8M177.8 798.7h0.8M192.5 803.1h0.8M189.6 803.0h0.8M182.1 797.4h0.8M189.8 791.8h0.8M190.3 797.0h0.8M194.9 792.7h0.8M183.7 797.3h0.8M185.2 794.6h0.8M186.2 792.5h0.8M193.5 802.3h0.8M188.4 798.5h0.8M180.4 795.7h0.8M186.6 794.9h0.8M177.7 802.5h0.8M188.4 797.3h0.8M181.1 800.6h0.8M182.2 798.3h0.8M190.3 803.1h0.8M195.5 794.8h0.8M199.7 791.0h0.8M187.0 807.0h0.8M210.5 796.1h0.8M185.3 798.0h0.8M177.4 800.8h0.8M184.7 796.1h0.8M199.6 793.1h0.8M204.2 801.2h0.8M194.5 795.1h0.8M183.9 789.3h0.8M191.1 797.5h0.8M192.1 795.1h0.8M193.1 790.4h0.8M168.4 805.9h0.8M198.5 780.2h0.8M200.4 795.3h0.8M187.1 791.3h0.8M179.4 805.2h0.8M181.8 800.6h0.8M187.1 810.8h0.8M196.8 790.6h0.8M184.1 794.0h0.8M175.8 798.1h0.8M198.7 797.8h0.8M194.8 797.6h0.8M184.7 800.7h0.8M187.9 810.3h0.8M205.1 798.4h0.8M194.1 787.4h0.8M187.4 812.9h0.8M181.2 805.4h0.8M199.8 795.2h0.8M186.5 797.4h0.8M195.9 798.2h0.8M202.4 803.4h0.8M188.5 813.9h0.8M185.7 796.6h0.8M186.4 795.0h0.8M184.7 799.8h0.8M196.7 789.2h0.8M175.7 797.6h0.8M185.8 802.5h0.8M181.3 809.2h0.8M183.7 799.2h0.8M189.0 805.9h0.8M191.3 799.1h0.8M183.6 801.4h0.8M192.2 796.8h0.8M188.3 789.3h0.8M183.7 807.0h0.8M201.6 796.6h0.8M168.7 813.4h0.8M187.0 814.0h0.8M184.8 805.8h0.8M182.9 808.2h0.8M199.2 791.6h0.8M200.4 813.1h0.8M186.5 793.2h0.8M191.1 796.8h0.8M174.8 796.3h0.8M190.8 790.6h0.8M198.4 800.1h0.8M186.9 807.6h0.8M180.1 804.9h0.8M176.1 800.0h0.8M194.4 795.4h0.8M187.5 803.3h0.8M202.5 804.1h0.8M192.7 797.2h0.8M175.3 811.5h0.8M205.7 784.3h0.8M196.5 797.7h0.8M195.0 800.0h0.8M186.8 799.8h0.8M188.2 806.0h0.8M186.1 796.9h0.8M194.5 801.9h0.8M192.5 800.3h0.8M202.0 803.1h0.8M190.5 798.0h0.8M194.6 788.0h0.8M183.7 796.5h0.8M190.1 797.0h0.8M211.0 799.3h0.8M192.2 811.3h0.8M188.5 797.7h0.8M199.8 802.0h0.8M197.0 804.6h0.8M185.2 796.4h0.8M181.9 801.3h0.8M197.7 791.9h0.8M183.6 793.0h0.8M206.8 800.5h0.8M190.5 792.3h0.8M179.1 797.7h0.8M188.8 792.4h0.8M186.4 806.7h0.8M188.6 800.0h0.8M169.4 801.6h0.8M187.2 795.9h0.8M175.9 801.5h0.8M179.2 798.2h0.8M173.9 801.7h0.8M196.8 793.2h0.8M191.5 790.5h0.8M193.8 801.5h0.8M185.0 805.1h0.8M180.5 801.3h0.8M203.9 796.4h0.8M178.2 807.9h0.8M193.4 797.0h0.8M171.9 792.1h0.8M174.6 810.4h0.8M191.2 794.2h0.8M199.0 805.7h0.8M180.8 803.6h0.8M173.5 804.4h0.8M205.1 788.5h0.8M189.0 795.8h0.8M187.7 800.1h0.8" stroke="#777" stroke-width="0.8" stroke-opacity="0.6" fill="none"/>
<path d="M198.9 806.0h0.7M202.5 806.6h0.7M210.2 805.8h0.7M184.2 804.6h0.7M188.8 794.6h0.7M224.6 797.6h0.7M195.3 784.2h0.7M191.0 806.3h0.7M191.4 796.4h0.7M217.2 794.3h0.7M189.5 800.0h0.7M190.9 808.4h0.7M203.3 798.1h0.7M189.0 799.1h0.7M220.5 793.8h0.7M204.6 786.7h0.7M199.5 804.4h0.7M214.1 799.4h0.7M203.4 801.1h0.7M210.9 812.8h0.7M197.7 793.4h0.7M203.7 797.8h0.7M204.4 804.3h0.7M196.9 796.4h0.7M199.3 790.0h0.7M198.8 792.8h0.7M201.5 799.9h0.7M191.2 791.5h0.7M195.3 794.8h0.7M192.4 805.5h0.7M209.2 788.2h0.7M208.9 808.0h0.7M211.8 799.5h0.7M193.2 813.2h0.7M189.7 789.4h0.7M196.0 801.9h0.7M178.7 793.3h0.7M224.9 796.3h0.7M206.5 793.8h0.7M171.4 802.1h0.7M215.1 791.9h0.7M167.2 802.8h0.7M190.3 800.7h0.7M178.6 800.1h0.7M186.3 807.8h0.7M196.9 806.1h0.7M193.8 784.2h0.7M164.6 808.5h0.7M208.0 804.5h0.7M193.4 786.9h0.7M187.1 804.1h0.7M215.7 794.3h0.7M186.0 795.5h0.7M210.2 804.1h0.7M166.6 813.2h0.7M180.5 791.1h0.7M170.2 798.2h0.7M230.1 813.7h0.7M175.6 797.8h0.7M197.0 802.7h0.7M187.3 789.3h0.7M188.3 795.9h0.7M167.2 805.2h0.7M172.2 790.4h0.7M217.8 803.5h0.7M216.8 797.5h0.7M188.3 800.3h0.7M173.7 808.6h0.7M198.7 797.1h0.7M166.0 803.4h0.7M219.5 807.0h0.7M208.0 795.3h0.7M196.7 803.8h0.7M197.6 807.3h0.7M184.4 784.2h0.7M157.5 798.8h0.7M173.4 808.1h0.7M211.1 797.5h0.7M202.9 799.3h0.7M197.3 796.1h0.7M188.4 809.8h0.7M190.5 800.3h0.7M212.9 804.6h0.7M188.6 802.8h0.7M179.1 803.3h0.7M199.4 799.2h0.7M197.1 802.3h0.7M155.8 799.6h0.7M195.8 796.1h0.7M179.8 800.4h0.7M219.2 794.6h0.7M184.6 797.9h0.7M176.4 806.3h0.7M179.5 809.0h0.7M208.5 802.2h0.7M210.5 797.0h0.7M167.7 803.5h0.7M204.4 787.0h0.7" stroke="#888" stroke-width="0.7" stroke-opacity="0.5" fill="none"/>
<path d="M154.4 829.1h0.85M164.8 829.2h0.85M166.3 820.8h0.85M164.8 826.0h0.85M161.9 819.7h0.85M164.1 818.7h0.85M177.3 813.8h0.85M152.5 814.2h0.85M168.7 817.4h0.85M163.1 819.5h0.85M163.8 811.5h0.85M162.6 817.2h0.85M169.0 823.9h0.85M154.1 816.0h0.85M165.7 828.1h0.85M166.9 819.3h0.85M169.1 804.9h0.85M158.7 815.3h0.85M155.5 825.6h0.85M163.8 822.5h0.85M161.2 825.1h0.85M167.1 816.6h0.85M168.0 814.2h0.85M173.3 811.0h0.85M160.3 814.4h0.85M162.3 829.4h0.85M157.3 833.0h0.85M171.1 822.1h0.85M158.3 827.3h0.85M168.2 819.8h0.85M177.9 814.3h0.85M153.6 820.9h0.85M165.8 831.3h0.85M150.9 823.7h0.85M170.1 815.5h0.85M159.2 813.7h0.85M167.0 825.6h0.85M165.8 822.0h0.85M168.4 819.3h0.85M166.7 825.5h0.85M170.4 823.0h0.85M162.6 825.4h0.85M152.2 811.2h0.85M172.4 820.3h0.85M155.4 818.3h0.85M161.1 821.6h0.85M157.2 828.1h0.85M155.2 832.7h0.85M166.4 809.6h0.85M154.2 822.6h0.85M163.8 818.0h0.85M162.2 822.0h0.85M154.8 822.5h0.85M176.7 814.7h0.85M155.6 826.2h0.85M170.7 826.4h0.85M158.0 821.1h0.85M163.4 819.4h0.85M164.7 827.6h0.85M165.6 820.4h0.85M160.8 832.7h0.85M166.8 820.8h0.85M157.3 833.5h0.85M169.9 825.7h0.85M175.5 807.4h0.85M162.7 818.9h0.85M157.4 822.2h0.85M165.5 823.8h0.85M161.2 812.6h0.85M165.7 824.4h0.85M175.8 824.9h0.85M162.2 813.6h0.85M179.7 814.0h0.85M163.4 825.6h0.85M165.3 829.1h0.85M155.4 817.6h0.85M163.2 812.9h0.85M158.1 830.5h0.85M164.0 820.0h0.85M158.4 821.9h0.85M161.9 814.1h0.85M167.2 812.0h0.85M170.4 817.6h0.85M164.0 815.1h0.85M173.9 828.1h0.85M175.8 824.7h0.85M170.9 815.8h0.85M170.6 816.9h0.85M161.8 812.3h0.85M162.5 823.5h0.85M161.7 813.9h0.85M168.0 826.0h0.85M161.5 826.1h0.85M168.5 813.7h0.85M161.9 809.0h0.85M155.3 824.8h0.85M156.3 824.4h0.85M164.4 807.3h0.85M158.9 831.3h0.85M162.2 821.8h0.85M157.5 811.3h0.85M160.9 815.5h0.85M162.8 808.3h0.85M171.3 830.7h0.85M157.2 823.8h0.85M156.2 827.4h0.85M156.6 820.9h0.85M170.7 823.1h0.85M159.9 811.5h0.85M151.6 830.4h0.85M165.5 820.9h0.85M170.3 820.7h0.85M157.3 821.0h0.85M161.4 821.0h0.85M178.5 822.3h0.85M163.9 819.1h0.85M157.6 815.2h0.85M149.7 819.9h0.85M152.1 810.4h0.85M155.9 808.7h0.85M171.1 827.7h0.85M166.4 803.9h0.85M162.2 814.5h0.85M150.6 821.0h0.85M169.7 822.7h0.85M152.4 818.1h0.85M157.1 829.2h0.85M161.4 814.7h0.85M156.1 809.1h0.85M156.5 827.7h0.85M149.5 824.1h0.85M161.3 826.4h0.85M154.5 828.1h0.85M172.3 834.4h0.85M151.3 822.4h0.85M160.7 822.0h0.85M155.5 827.6h0.85M177.6 828.5h0.85M155.8 818.2h0.85M166.9 821.2h0.85M157.0 829.8h0.85M165.5 827.2h0.85M160.9 829.5h0.85M159.0 814.2h0.85M162.0 811.9h0.85M170.3 824.5h0.85M150.9 823.8h0.85M167.7 817.8h0.85M164.8 816.8h0.85M161.6 820.5h0.85M165.3 814.2h0.85M154.6 824.3h0.85M158.7 824.9h0.85M158.7 812.9h0.85M166.9 822.0h0.85M166.9 818.1h0.85M159.7 829.6h0.85M150.8 834.0h0.85M165.4 820.1h0.85M162.6 824.9h0.85M156.9 823.6h0.85M155.7 809.9h0.85M163.4 821.4h0.85M166.3 824.0h0.85M166.7 825.5h0.85M155.0 830.0h0.85M179.8 814.6h0.85M153.7 826.7h0.85M168.1 826.7h0.85M172.2 810.4h0.85M164.5 823.7h0.85M170.3 813.9h0.85M162.2 818.5h0.85M161.0 820.2h0.85M161.0 809.6h0.85M161.8 821.5h0.85M159.5 798.2h0.85M157.4 817.4h0.85M156.3 832.4h0.85M168.2 818.9h0.85M155.6 825.1h0.85M158.0 831.3h0.85M169.4 819.1h0.85M166.1 815.2h0.85M151.5 828.1h0.85M172.9 817.4h0.85M158.5 809.8h0.85M176.3 811.0h0.85M155.6 820.7h0.85M170.1 820.1h0.85M161.9 821.2h0.85M167.7 819.9h0.85M163.1 820.4h0.85M154.6 830.9h0.85M157.4 813.0h0.85M159.1 821.6h0.85M167.5 810.5h0.85M153.6 823.4h0.85M164.6 813.4h0.85M154.5 823.3h0.85M161.1 810.5h0.85M156.2 831.6h0.85M155.0 828.9h0.85M151.9 832.3h0.85M172.6 815.2h0.85M157.5 825.8h0.85M153.8 825.8h0.85M170.1 821.5h0.85M164.2 819.6h0.85M168.7 814.6h0.85M172.6 819.3h0.85M159.9 810.6h0.85M159.1 823.0h0.85M170.3 809.2h0.85M161.2 816.6h0.85M154.1 822.2h0.85M157.0 827.5h0.85M149.4 810.1h0.85M165.5 818.3h0.85M162.9 814.5h0.85M155.0 817.2h0.85M161.6 815.5h0.85M159.2 815.8h0.85M163.6 813.3h0.85M148.2 805.9h0.85M161.9 821.6h0.85M168.4 815.2h0.85M154.4 812.4h0.85M167.0 816.2h0.85M168.5 819.5h0.85M160.2 809.1h0.85M157.5 826.8h0.85M158.0 826.0h0.85M151.1 829.3h0.85M180.5 825.5h0.85M164.1 812.6h0.85M158.5 817.2h0.85M163.2 807.6h0.85M156.3 827.0h0.85M163.0 825.7h0.85M167.7 812.7h0.85M153.1 825.4h0.85M162.2 821.5h0.85M156.6 828.5h0.85M165.3 828.0h0.85M159.7 825.9h0.85M161.6 814.9h0.85M161.5 810.2h0.85M160.8 822.3h0.85M166.6 813.4h0.85M153.2 817.5h0.85M148.3 818.8h0.85M179.3 819.3h0.85M157.0 817.3h0.85M173.7 811.6h0.85M161.2 820.6h0.85M157.1 817.0h0.85M150.9 817.2h0.85M170.6 829.0h0.85M160.1 825.9h0.85M165.0 821.3h0.85M161.1 829.1h0.85M165.8 819.0h0.85M160.5 827.3h0.85M158.1 816.9h0.85M160.2 818.0h0.85M170.4 822.1h0.85M161.4 817.6h0.85M171.4 822.5h0.85M175.8 824.9h0.85M160.6 817.6h0.85M160.1 822.5h0.85M167.2 823.4h0.85M172.4 809.5h0.85M162.2 811.7h0.85M155.2 818.1h0.85M157.7 815.3h0.85M151.9 830.0h0.85M159.9 827.6h0.85M154.7 806.9h0.85M158.1 827.4h0.85M158.3 824.1h0.85M154.9 831.2h0.85M164.9 827.4h0.85M160.2 829.7h0.85M162.5 817.7h0.85M157.8 822.0h0.85M156.0 814.1h0.85M162.9 825.5h0.85M160.1 826.8h0.85M172.5 811.1h0.85M163.7 814.4h0.85M157.7 822.8h0.85M167.6 823.7h0.85M166.3 832.2h0.85M159.6 828.5h0.85M171.6 822.8h0.85M150.2 821.7h0.85M160.1 810.7h0.85M161.6 826.0h0.85M160.3 820.1h0.85M171.7 815.5h0.85M155.8 822.2h0.85M169.4 823.8h0.85M162.5 817.7h0.85M170.2 825.6h0.85M150.5 824.9h0.85M166.0 816.3h0.85M153.5 820.3h0.85M150.4 826.4h0.85M158.6 809.9h0.85M161.9 828.8h0.85M153.6 819.9h0.85M174.0 820.4h0.85M158.3 822.8h0.85M167.2 813.6h0.85M161.3 810.4h0.85M151.5 812.5h0.85M167.6 822.2h0.85M166.8 828.2h0.85M162.3 822.5h0.85M164.7 823.7h0.85M155.0 820.3h0.85M161.0 821.4h0.85M157.0 820.9h0.85M163.9 821.9h0.85M165.9 825.8h0.85M165.7 826.8h0.85M167.6 829.3h0.85M166.2 816.3h0.85M177.4 826.1h0.85M170.3 824.5h0.85M162.3 813.5h0.85M164.9 818.2h0.85M159.3 807.4h0.85M172.2 811.8h0.85M154.7 825.1h0.85M165.7 815.2h0.85M161.9 822.7h0.85M163.0 824.3h0.85M167.1 817.8h0.85M159.4 814.9h0.85M167.0 824.1h0.85M161.7 823.1h0.85M164.1 819.2h0.85M164.1 812.2h0.85M159.4 833.5h0.85M167.8 817.4h0.85M158.2 811.8h0.85M161.2 820.0h0.85M157.8 811.4h0.85M163.0 823.6h0.85M169.5 823.2h0.85M172.1 827.3h0.85M161.3 814.2h0.85M164.9 826.8h0.85M151.7 814.5h0.85M166.5 816.7h0.85M171.7 821.0h0.85M158.3 812.8h0.85M166.0 809.1h0.85M153.4 813.7h0.85M173.3 830.5h0.85M160.5 818.7h0.85M166.6 828.4h0.85M160.6 828.6h0.85M157.4 834.7h0.85M160.6 812.9h0.85M174.9 814.6h0.85M162.0 812.8h0.85M166.5 821.6h0.85M160.1 818.6h0.85M158.2 816.9h0.85M152.7 830.3h0.85M167.9 811.0h0.85M154.3 824.8h0.85M177.0 817.4h0.85M159.9 819.7h0.85M163.6 819.6h0.85M169.2 826.4h0.85M165.7 830.8h0.85M160.5 817.6h0.85M181.7 805.4h0.85M151.7 807.1h0.85M164.4 813.6h0.85M169.0 806.2h0.85M161.1 818.6h0.85M154.8 829.4h0.85M159.3 824.3h0.85M158.5 822.5h0.85M159.0 821.9h0.85M161.3 816.6h0.85M164.9 819.3h0.85M155.6 815.1h0.85M164.9 829.3h0.85M153.3 819.6h0.85M165.0 827.4h0.85M166.7 812.5h0.85M162.2 826.8h0.85M163.6 819.3h0.85M154.2 823.3h0.85M161.6 821.3h0.85M172.0 827.3h0.85M156.7 823.3h0.85M159.9 822.0h0.85M172.8 825.4h0.85M162.3 816.6h0.85M160.9 823.5h0.85M158.7 828.7h0.85M162.1 813.2h0.85M175.6 800.0h0.85M160.2 820.5h0.85M168.6 827.3h0.85M171.7 829.8h0.85M164.1 821.4h0.85M168.7 819.8h0.85M153.6 819.3h0.85M166.4 824.3h0.85M154.7 829.9h0.85M164.0 810.8h0.85M165.1 827.1h0.85M165.5 818.4h0.85M156.7 829.1h0.85M163.5 820.7h0.85M159.3 814.6h0.85M149.6 820.6h0.85M169.3 824.9h0.85M157.5 831.7h0.85M160.5 814.6h0.85M168.5 829.1h0.85M159.4 813.4h0.85M161.6 805.2h0.85M162.3 830.9h0.85M163.8 815.9h0.85M166.7 817.1h0.85M170.4 817.4h0.85M175.5 816.7h0.85M163.3 814.7h0.85M153.5 824.5h0.85M164.3 814.3h0.85M165.7 817.7h0.85M158.3 821.1h0.85M164.6 825.4h0.85M170.2 822.3h0.85M157.2 817.2h0.85M164.4 812.8h0.85M160.9 818.7h0.85M161.3 822.3h0.85M168.9 830.7h0.85M167.9 826.7h0.85M154.9 828.8h0.85M170.6 810.8h0.85M178.7 814.8h0.85M162.4 815.7h0.85M158.2 828.6h0.85M163.7 818.3h0.85M169.6 813.7h0.85M156.4 818.2h0.85M157.0 826.3h0.85M160.5 814.3h0.85M159.0 808.5h0.85M163.1 821.5h0.85M166.0 818.9h0.85M164.6 814.5h0.85M162.2 822.0h0.85M154.0 826.0h0.85M162.9 821.2h0.85M158.8 834.6h0.85M162.0 816.0h0.85M156.4 825.7h0.85M160.6 816.0h0.85M157.2 827.8h0.85M162.6 827.8h0.85M161.9 813.3h0.85M167.7 822.2h0.85M157.7 819.6h0.85M155.6 827.4h0.85M159.2 824.5h0.85M163.7 819.0h0.85M164.5 819.0h0.85M154.2 819.4h0.85M154.2 827.1h0.85M166.3 816.5h0.85M166.1 822.0h0.85M168.4 813.9h0.85M162.2 814.5h0.85M157.5 830.6h0.85M148.7 817.0h0.85M165.2 825.6h0.85M156.8 808.5h0.85M150.6 825.1h0.85M169.3 825.8h0.85M157.2 830.5h0.85M160.8 825.2h0.85M160.7 831.6h0.85M158.6 807.5h0.85M159.9 822.5h0.85M163.8 816.0h0.85M160.5 813.8h0.85M160.5 821.8h0.85M163.6 831.5h0.85M148.8 826.4h0.85M164.9 813.0h0.85M162.5 820.9h0.85M155.4 826.7h0.85M174.6 823.5h0.85M167.1 827.2h0.85M161.1 827.5h0.85M156.7 823.0h0.85M166.6 828.8h0.85M160.1 819.4h0.85M165.1 820.0h0.85M162.9 826.1h0.85M157.0 827.5h0.85M164.5 818.9h0.85M153.8 818.1h0.85M161.7 827.2h0.85M149.0 827.6h0.85M163.3 813.5h0.85M167.6 822.7h0.85M164.9 814.2h0.85M154.7 828.0h0.85M171.2 822.0h0.85M160.7 818.3h0.85M150.7 829.1h0.85M161.4 829.1h0.85M157.3 828.5h0.85M157.3 825.5h0.85M171.0 815.1h0.85M168.0 820.1h0.85M155.8 823.2h0.85M166.2 815.7h0.85M160.2 817.6h0.85M157.0 820.4h0.85M167.4 817.0h0.85M170.2 817.3h0.85M157.5 828.6h0.85M171.2 815.4h0.85M165.8 812.9h0.85M159.3 819.0h0.85M166.6 812.2h0.85M158.7 817.0h0.85M162.7 812.9h0.85M163.4 811.1h0.85M167.5 811.7h0.85M149.7 833.6h0.85M170.2 814.3h0.85M154.9 825.1h0.85M175.3 822.9h0.85M166.3 812.7h0.85M150.4 825.2h0.85M168.6 820.9h0.85M162.0 829.9h0.85M156.5 828.9h0.85M167.4 816.2h0.85M162.8 821.6h0.85M165.8 814.1h0.85M160.5 821.8h0.85M162.2 821.1h0.85M163.6 819.5h0.85M158.7 828.1h0.85M157.8 819.6h0.85M156.3 814.5h0.85M164.9 820.3h0.85M161.1 824.0h0.85M160.9 825.5h0.85M173.8 821.5h0.85M160.3 831.9h0.85M166.6 809.6h0.85M170.7 821.1h0.85M167.5 812.7h0.85M156.5 817.7h0.85M165.6 813.2h0.85M157.4 827.8h0.85M157.8 822.4h0.85M156.2 810.9h0.85M161.5 820.3h0.85M152.7 828.6h0.85M167.3 825.9h0.85M158.7 814.1h0.85M161.4 822.1h0.85M160.9 817.4h0.85M155.5 817.2h0.85M161.5 817.9h0.85M172.8 817.6h0.85M164.9 817.6h0.85M160.8 814.9h0.85M158.9 811.9h0.85M148.5 831.6h0.85M155.1 824.8h0.85M161.2 817.5h0.85M166.7 816.7h0.85M164.8 818.2h0.85M168.3 826.2h0.85M162.4 828.0h0.85M165.3 830.5h0.85M161.2 811.2h0.85M163.4 822.3h0.85M159.6 820.0h0.85M160.2 813.2h0.85M173.1 814.4h0.85M155.1 811.9h0.85M156.5 821.6h0.85M171.5 823.4h0.85M157.3 813.7h0.85M154.7 821.6h0.85M167.6 817.1h0.85M172.4 831.8h0.85M163.0 807.0h0.85M169.0 819.3h0.85M166.3 826.7h0.85M155.5 822.4h0.85M163.1 816.0h0.85M166.5 819.5h0.85M159.4 833.4h0.85M163.1 831.3h0.85M161.0 827.8h0.85M157.1 822.7h0.85M169.0 806.1h0.85M165.5 818.7h0.85M169.0 821.1h0.85M161.5 812.9h0.85M181.0 813.4h0.85M159.9 816.7h0.85M160.0 822.7h0.85M153.4 829.0h0.85M160.3 825.1h0.85M148.4 819.7h0.85M160.1 818.8h0.85M157.7 823.6h0.85M164.6 814.3h0.85M149.3 827.5h0.85M159.9 828.1h0.85M167.6 819.5h0.85M152.8 820.1h0.85M157.3 829.6h0.85M151.0 828.5h0.85M152.0 818.8h0.85M152.9 817.9h0.85M159.1 823.8h0.85M158.2 826.0h0.85M173.3 820.3h0.85M154.5 821.0h0.85M161.3 818.8h0.85M169.4 827.3h0.85M174.9 822.4h0.85M166.3 815.2h0.85M158.1 827.4h0.85M162.9 813.7h0.85M158.2 801.9h0.85M161.9 813.2h0.85M161.6 813.4h0.85M156.0 818.6h0.85M179.9 810.7h0.85M154.3 818.7h0.85M168.8 825.1h0.85M166.4 818.2h0.85M162.8 815.9h0.85M160.8 816.0h0.85M152.6 816.0h0.85M174.4 821.7h0.85M157.1 821.0h0.85M159.0 829.2h0.85M161.8 817.0h0.85M166.3 822.4h0.85M157.5 816.7h0.85M162.9 810.4h0.85M156.1 828.3h0.85M167.5 827.3h0.85M159.1 817.6h0.85M160.2 818.2h0.85M170.2 818.3h0.85M170.7 815.1h0.85M164.4 831.0h0.85M157.2 817.5h0.85M158.1 811.3h0.85M160.0 817.2h0.85M176.1 815.8h0.85M148.2 829.1h0.85M168.1 819.8h0.85M163.8 825.3h0.85M158.3 821.8h0.85M162.9 831.4h0.85M171.0 820.7h0.85M153.3 827.9h0.85M161.6 828.5h0.85M162.3 822.1h0.85M166.2 815.7h0.85M156.4 827.8h0.85M166.3 825.5h0.85M170.7 811.1h0.85M168.1 806.9h0.85M162.3 823.1h0.85M168.5 826.9h0.85M155.9 820.1h0.85M160.9 816.7h0.85M156.7 817.5h0.85M169.3 828.6h0.85M166.7 831.0h0.85M162.5 813.9h0.85M157.7 822.9h0.85M168.5 827.8h0.85M156.2 828.0h0.85M158.5 825.3h0.85M167.8 829.6h0.85M158.5 823.1h0.85M164.7 817.9h0.85M162.5 824.7h0.85M151.3 818.5h0.85M176.7 821.7h0.85M158.3 809.8h0.85M155.8 825.2h0.85M166.3 823.2h0.85M165.7 816.6h0.85M172.1 812.3h0.85M165.2 818.8h0.85M150.9 828.4h0.85M160.1 825.8h0.85M170.1 820.8h0.85M157.7 820.3h0.85M161.5 830.3h0.85M167.4 830.3h0.85M166.8 815.4h0.85M167.9 826.3h0.85M161.1 824.1h0.85M159.9 813.2h0.85M161.3 826.0h0.85M159.6 807.0h0.85M156.8 828.7h0.85M163.4 828.0h0.85M157.1 819.0h0.85M155.5 817.0h0.85M165.2 821.4h0.85M158.8 823.4h0.85M153.5 819.8h0.85M152.3 812.8h0.85M153.2 815.3h0.85M172.0 828.3h0.85M170.0 816.1h0.85M165.9 813.1h0.85M158.4 823.1h0.85M151.6 823.8h0.85M165.8 807.1h0.85M161.1 822.0h0.85M154.6 825.7h0.85M162.7 816.2h0.85M172.4 821.1h0.85M166.7 832.2h0.85M158.7 820.1h0.85M150.7 821.2h0.85M165.5 821.8h0.85M153.8 816.7h0.85M150.0 813.9h0.85M162.6 822.8h0.85M156.0 820.5h0.85M156.7 825.8h0.85M166.0 816.8h0.85M159.0 813.6h0.85M161.8 826.5h0.85M165.6 829.9h0.85M159.8 815.5h0.85M168.6 825.9h0.85M157.6 828.7h0.85M161.8 820.7h0.85M173.7 822.7h0.85M163.9 818.7h0.85M163.2 827.6h0.85M164.8 815.7h0.85M164.8 819.8h0.85M163.9 819.5h0.85M147.9 812.7h0.85M159.4 807.2h0.85M166.3 817.4h0.85M164.0 806.3h0.85M163.5 827.1h0.85M163.1 812.4h0.85M168.1 816.6h0.85M158.2 822.8h0.85M159.9 834.5h0.85M164.8 812.6h0.85M161.9 821.4h0.85M171.1 827.9h0.85M178.3 814.3h0.85M156.1 824.2h0.85M172.3 812.9h0.85M159.6 816.5h0.85M165.3 823.1h0.85M161.6 825.3h0.85M156.8 819.3h0.85M164.9 833.6h0.85M161.6 821.4h0.85M170.3 820.2h0.85M170.3 821.3h0.85M169.3 821.1h0.85M156.0 816.4h0.85M164.7 832.8h0.85M173.9 817.2h0.85M178.0 811.4h0.85M156.4 827.9h0.85M152.1 828.4h0.85M164.3 824.7h0.85M154.1 824.7h0.85M168.0 819.8h0.85M168.5 820.2h0.85M164.1 818.6h0.85M153.1 821.3h0.85M165.1 815.6h0.85M149.3 812.9h0.85M170.4 818.3h0.85M157.0 829.8h0.85M160.8 811.4h0.85M159.1 815.7h0.85M160.7 815.3h0.85M162.3 823.9h0.85M158.2 820.3h0.85M160.9 826.5h0.85M157.3 826.6h0.85M170.0 818.5h0.85M155.6 819.9h0.85M150.4 819.2h0.85M154.2 821.1h0.85M159.5 824.7h0.85M162.7 823.6h0.85M161.6 822.9h0.85M154.6 826.4h0.85M170.3 827.0h0.85M153.2 825.0h0.85M151.4 827.5h0.85M160.6 818.2h0.85M157.1 820.2h0.85M161.9 814.7h0.85M162.3 822.6h0.85M165.3 820.2h0.85M168.4 822.1h0.85M152.9 826.4h0.85M165.6 803.1h0.85M160.8 823.7h0.85M162.1 821.6h0.85M160.9 830.2h0.85M164.4 818.8h0.85M156.3 818.4h0.85M164.0 821.7h0.85M163.9 829.6h0.85M169.3 822.7h0.85M162.2 820.6h0.85M160.4 827.8h0.85M153.7 815.5h0.85M158.9 815.2h0.85M157.1 829.5h0.85M153.4 820.7h0.85M158.2 815.1h0.85M152.3 822.9h0.85M159.4 828.6h0.85M174.0 817.3h0.85M156.7 819.9h0.85M165.0 826.7h0.85M155.7 825.0h0.85M161.7 828.5h0.85M159.3 820.1h0.85M156.4 813.2h0.85M163.7 825.4h0.85M169.2 821.7h0.85M158.9 815.5h0.85M154.4 817.4h0.85M164.1 821.3h0.85M160.0 814.5h0.85M161.8 824.5h0.85M155.2 813.2h0.85M159.8 823.0h0.85M160.2 831.3h0.85M162.9 814.3h0.85M167.0 816.0h0.85M166.4 821.0h0.85M170.0 813.3h0.85M166.6 823.1h0.85M156.0 826.5h0.85M176.7 821.1h0.85M156.9 820.8h0.85M170.4 821.4h0.85M171.6 815.3h0.85M170.5 809.4h0.85M160.8 819.2h0.85M158.7 829.5h0.85M158.0 823.9h0.85M174.0 824.6h0.85M159.2 816.6h0.85M148.8 825.5h0.85M167.7 827.4h0.85M167.0 805.2h0.85M156.2 827.1h0.85M159.3 826.9h0.85M178.7 813.5h0.85M176.4 818.3h0.85M152.3 823.1h0.85M167.9 816.3h0.85M172.3 813.8h0.85M160.7 827.2h0.85M160.6 817.6h0.85M161.8 825.3h0.85M173.3 828.2h0.85M174.2 819.0h0.85M151.1 822.4h0.85M159.3 814.9h0.85M158.6 821.1h0.85M162.3 826.9h0.85M156.0 829.4h0.85M162.3 825.8h0.85M170.1 811.7h0.85M172.4 814.7h0.85M164.6 827.7h0.85M168.0 809.9h0.85M163.0 828.3h0.85M161.2 820.6h0.85M162.4 831.7h0.85M158.4 815.4h0.85M154.7 818.6h0.85M160.4 823.5h0.85M161.4 809.9h0.85M151.6 827.0h0.85M166.7 811.4h0.85M168.1 804.2h0.85M177.3 822.6h0.85M151.1 826.0h0.85M161.8 818.1h0.85M159.6 819.9h0.85M161.3 815.2h0.85M158.2 825.2h0.85M165.5 811.8h0.85M158.7 831.7h0.85M166.7 831.1h0.85M153.1 815.6h0.85M159.5 814.5h0.85M154.8 817.5h0.85M160.8 826.6h0.85M165.7 809.0h0.85M171.8 817.4h0.85M155.4 821.8h0.85M159.3 812.3h0.85M172.3 815.7h0.85M158.0 825.1h0.85M173.0 822.5h0.85M156.1 824.8h0.85M169.3 822.4h0.85M166.3 817.2h0.85M161.5 810.1h0.85M157.2 814.3h0.85M162.0 830.8h0.85M155.9 821.3h0.85M169.7 814.8h0.85M156.8 829.7h0.85M164.5 824.1h0.85M167.5 815.3h0.85M163.5 816.5h0.85M157.2 822.6h0.85M164.9 812.2h0.85M156.9 825.8h0.85M163.1 825.2h0.85M159.9 816.1h0.85M167.2 824.2h0.85M157.0 826.1h0.85M172.4 817.6h0.85M155.6 823.6h0.85M162.6 824.6h0.85M152.7 824.0h0.85M167.9 824.7h0.85M166.2 828.2h0.85M156.5 829.8h0.85M163.4 814.3h0.85M160.0 823.1h0.85M164.2 829.5h0.85M163.3 817.5h0.85M176.5 816.7h0.85M156.5 827.9h0.85M159.2 816.3h0.85M155.0 829.8h0.85M155.0 822.7h0.85M159.0 820.2h0.85M156.6 822.8h0.85M166.0 827.3h0.85M159.6 813.7h0.85M152.2 822.5h0.85M162.2 821.8h0.85M152.8 818.2h0.85M157.1 826.2h0.85M159.3 825.5h0.85M165.4 807.9h0.85M160.5 829.5h0.85M158.6 822.4h0.85M161.2 813.1h0.85M176.5 818.0h0.85M166.2 817.5h0.85M171.3 827.2h0.85M169.8 826.1h0.85M166.7 829.4h0.85M164.7 821.5h0.85M167.4 814.4h0.85M163.0 816.3h0.85M160.2 815.1h0.85M156.4 823.1h0.85M162.8 826.4h0.85M161.4 825.3h0.85M166.5 815.8h0.85M150.8 818.3h0.85M160.3 817.8h0.85M176.6 814.4h0.85M165.1 815.6h0.85M166.6 812.1h0.85M168.3 821.3h0.85M159.3 813.6h0.85M173.0 815.6h0.85M171.5 803.9h0.85M154.0 834.1h0.85M173.8 819.4h0.85M168.6 824.0h0.85M159.6 822.3h0.85M154.4 813.5h0.85M162.8 825.7h0.85M163.1 812.9h0.85M167.6 820.8h0.85M167.0 818.4h0.85M160.2 828.2h0.85M171.1 811.9h0.85M154.7 828.5h0.85M164.4 821.1h0.85M155.5 828.6h0.85M163.2 822.3h0.85M164.6 817.3h0.85M164.6 821.5h0.85M166.8 822.8h0.85M153.5 817.7h0.85M160.2 828.9h0.85M157.7 829.1h0.85M169.1 825.7h0.85M176.9 818.8h0.85M164.1 828.7h0.85M164.7 827.2h0.85M161.1 830.4h0.85M164.3 808.3h0.85M169.2 818.8h0.85M156.2 820.0h0.85M160.1 828.8h0.85M164.2 820.3h0.85M161.9 815.3h0.85M157.8 818.7h0.85M160.5 813.7h0.85M159.3 828.0h0.85M165.0 820.6h0.85M164.3 819.2h0.85M154.1 828.0h0.85M176.9 822.2h0.85M154.0 825.7h0.85M159.7 819.6h0.85M151.0 822.2h0.85M164.6 810.3h0.85M160.5 818.1h0.85M155.4 826.2h0.85M172.9 822.2h0.85M168.8 825.0h0.85M161.6 824.9h0.85M170.8 817.0h0.85M161.0 812.3h0.85M149.7 817.6h0.85M167.9 822.6h0.85M163.7 829.4h0.85M150.3 831.8h0.85M162.6 826.1h0.85M171.2 814.4h0.85M156.2 824.6h0.85M161.6 817.4h0.85M161.2 816.5h0.85M162.9 818.5h0.85M173.3 812.6h0.85M165.8 821.0h0.85M172.5 813.2h0.85M158.9 832.8h0.85M157.6 819.3h0.85M159.4 815.1h0.85M170.1 829.7h0.85M161.0 816.4h0.85M153.0 826.7h0.85M158.5 825.2h0.85M166.2 823.2h0.85M162.9 820.8h0.85M159.7 818.6h0.85M163.0 824.3h0.85M168.2 818.7h0.85M170.1 813.8h0.85M174.7 825.4h0.85M171.5 829.9h0.85M154.1 821.6h0.85M165.1 827.4h0.85M162.5 812.6h0.85M170.1 818.8h0.85M164.9 818.6h0.85M161.3 812.3h0.85M166.4 816.4h0.85M150.2 825.5h0.85M161.8 827.3h0.85M167.4 812.4h0.85M160.8 821.3h0.85" stroke="#222" stroke-width="0.85" stroke-opacity="0.75" fill="none"/>
<path d="M169.3 802.4h0.8M169.2 817.8h0.8M179.7 818.6h0.8M175.4 789.7h0.8M166.1 807.1h0.8M176.7 808.3h0.8M171.8 813.4h0.8M166.5 821.5h0.8M185.0 812.4h0.8M163.5 813.8h0.8M177.3 813.7h0.8M162.3 819.5h0.8M175.1 813.2h0.8M164.7 811.4h0.8M151.3 815.0h0.8M164.5 809.4h0.8M166.0 808.8h0.8M169.3 811.1h0.8M163.0 811.1h0.8M167.7 814.5h0.8M172.5 806.8h0.8M161.0 800.2h0.8M157.2 816.7h0.8M160.2 824.9h0.8M167.1 808.1h0.8M167.1 806.9h0.8M162.8 812.6h0.8M155.4 815.1h0.8M167.7 804.0h0.8M177.8 810.8h0.8M178.3 802.9h0.8M157.3 804.6h0.8M154.3 800.1h0.8M182.6 803.2h0.8M170.2 806.1h0.8M167.2 822.8h0.8M152.8 807.3h0.8M169.7 803.4h0.8M174.8 818.7h0.8M176.6 814.1h0.8M167.0 818.5h0.8M161.3 803.5h0.8M166.1 809.3h0.8M179.6 800.2h0.8M178.8 801.9h0.8M157.1 800.8h0.8M168.2 799.8h0.8M170.4 810.4h0.8M164.9 797.0h0.8M163.8 815.2h0.8M152.4 820.1h0.8M168.7 806.4h0.8M170.3 815.0h0.8M168.3 804.8h0.8M175.6 803.5h0.8M171.8 817.0h0.8M180.3 819.4h0.8M177.7 809.2h0.8M166.7 812.5h0.8M173.3 831.8h0.8M174.4 802.7h0.8M182.2 794.9h0.8M177.6 798.5h0.8M158.7 809.4h0.8M165.9 801.1h0.8M174.1 808.2h0.8M180.6 799.6h0.8M152.2 820.1h0.8M166.5 818.4h0.8M169.3 825.1h0.8M157.4 799.1h0.8M164.4 822.3h0.8M182.8 796.5h0.8M163.0 798.1h0.8M160.9 805.3h0.8M172.4 818.1h0.8M190.0 802.1h0.8M175.9 810.2h0.8M169.6 824.8h0.8M174.9 820.6h0.8M171.2 816.3h0.8M173.1 808.6h0.8M162.2 809.2h0.8M168.6 807.6h0.8M165.4 806.0h0.8M176.3 806.6h0.8M167.4 809.2h0.8M180.3 803.3h0.8M181.2 800.6h0.8M182.3 811.5h0.8M164.1 815.2h0.8M178.8 800.6h0.8M166.5 813.4h0.8M166.6 808.8h0.8M168.7 812.8h0.8M175.5 819.8h0.8M165.6 833.5h0.8M165.6 824.7h0.8M167.4 799.9h0.8M164.6 809.0h0.8M178.2 792.7h0.8M162.8 811.1h0.8M174.4 811.9h0.8M176.2 807.3h0.8M166.4 820.2h0.8M184.0 809.3h0.8M169.9 803.7h0.8M187.5 808.5h0.8M174.1 796.9h0.8M174.0 827.4h0.8M167.1 809.4h0.8M182.3 805.4h0.8M176.1 823.2h0.8M158.0 807.1h0.8M174.6 809.8h0.8M168.9 809.2h0.8M169.7 812.9h0.8M164.2 809.6h0.8M170.6 801.8h0.8M172.5 792.9h0.8M174.3 808.1h0.8M158.0 823.5h0.8M158.0 828.9h0.8M162.0 821.4h0.8M168.0 822.9h0.8M166.5 818.8h0.8M165.7 797.1h0.8M172.0 813.2h0.8M172.1 822.2h0.8M161.9 801.5h0.8M170.8 804.7h0.8M167.6 810.8h0.8M161.2 820.7h0.8M167.5 824.3h0.8M170.8 817.9h0.8M165.9 806.2h0.8M163.8 805.1h0.8M172.6 810.5h0.8M158.9 801.5h0.8M160.8 798.8h0.8M160.6 801.2h0.8M174.9 800.1h0.8M163.3 811.0h0.8M168.8 813.6h0.8M175.4 813.6h0.8M165.5 820.8h0.8M171.9 804.3h0.8M181.9 798.0h0.8M172.8 818.9h0.8M169.6 812.9h0.8M169.6 815.3h0.8M170.5 810.0h0.8M174.8 794.5h0.8M170.8 807.6h0.8M186.1 808.0h0.8M162.7 817.0h0.8M165.1 802.5h0.8M166.0 815.0h0.8M179.2 815.6h0.8M170.6 808.8h0.8M170.3 819.2h0.8M167.4 819.6h0.8M161.5 812.3h0.8M175.4 814.0h0.8M170.3 806.1h0.8M152.5 811.5h0.8M161.0 809.5h0.8M182.6 800.9h0.8M176.1 808.3h0.8M158.7 814.0h0.8M175.2 799.8h0.8M158.2 810.4h0.8M175.0 804.3h0.8M172.3 813.0h0.8M168.7 813.9h0.8M179.8 806.1h0.8M171.4 801.7h0.8M162.1 811.5h0.8M175.8 803.5h0.8M156.2 820.8h0.8M189.6 785.4h0.8M159.1 813.9h0.8M172.9 802.2h0.8M171.5 818.0h0.8M166.1 816.7h0.8M169.7 803.2h0.8M163.1 807.3h0.8M180.3 816.1h0.8M170.7 798.1h0.8M164.2 808.6h0.8M151.5 814.9h0.8M171.1 799.8h0.8M164.8 808.1h0.8M184.9 811.2h0.8M175.3 809.3h0.8M157.2 820.5h0.8M162.6 797.6h0.8M175.0 806.2h0.8M168.5 814.4h0.8M166.5 814.2h0.8M179.9 805.0h0.8M165.4 811.5h0.8M174.2 806.0h0.8M169.3 805.2h0.8M167.9 814.8h0.8M161.3 811.1h0.8M155.7 808.7h0.8M169.2 814.3h0.8M159.4 812.2h0.8M160.3 815.1h0.8M170.8 813.2h0.8M166.7 800.3h0.8M163.6 801.7h0.8M162.6 811.7h0.8M178.0 803.1h0.8M161.7 813.8h0.8M150.4 830.3h0.8M155.0 821.8h0.8M177.1 815.5h0.8M167.6 816.3h0.8" stroke="#777" stroke-width="0.8" stroke-opacity="0.55" fill="none"/>
<ellipse cx="161.50" cy="821.50" rx="10" ry="10" fill="url(#bg)"/>
<rect x="146.80" y="748.60" width="87.30" height="87.20" fill="none" stroke="#000" stroke-width="1.5"/>
<rect x="171.50" y="780.20" width="47.00" height="30.80" fill="none" stroke="#000" stroke-width="1.3"/>
<line x1="145.30" y1="770.40" x2="146.80" y2="770.40" stroke="#000" stroke-width="0.8" stroke-linecap="butt"/>
<line x1="168.62" y1="835.80" x2="168.62" y2="837.30" stroke="#000" stroke-width="0.8" stroke-linecap="butt"/>
<line x1="145.30" y1="792.20" x2="146.80" y2="792.20" stroke="#000" stroke-width="0.8" stroke-linecap="butt"/>
<line x1="190.45" y1="835.80" x2="190.45" y2="837.30" stroke="#000" stroke-width="0.8" stroke-linecap="butt"/>
<line x1="145.30" y1="814.00" x2="146.80" y2="814.00" stroke="#000" stroke-width="0.8" stroke-linecap="butt"/>
<line x1="212.28" y1="835.80" x2="212.28" y2="837.30" stroke="#000" stroke-width="0.8" stroke-linecap="butt"/>
<text x="173.00" y="778.80" font-size="13" font-weight="bold" text-anchor="start" textLength="33.00" lengthAdjust="spacingAndGlyphs" >6.2%</text>
<text x="167.30" y="741.20" font-size="17.5" font-weight="bold" text-anchor="start" textLength="44.00" lengthAdjust="spacingAndGlyphs" >Day 1</text>
<path d="M277.6 805.5h0.8M274.7 796.0h0.8M284.3 796.3h0.8M287.0 793.5h0.8M283.2 793.5h0.8M279.8 811.8h0.8M270.8 794.4h0.8M265.9 801.0h0.8M295.8 794.1h0.8M289.4 796.8h0.8M274.9 811.9h0.8M290.7 787.2h0.8M271.7 803.5h0.8M286.8 797.1h0.8M283.6 802.0h0.8M277.5 805.7h0.8M272.9 805.2h0.8M289.2 799.0h0.8M277.6 800.0h0.8M260.2 804.8h0.8M267.6 790.6h0.8M287.8 793.0h0.8M284.0 799.1h0.8M264.5 797.5h0.8M278.2 802.6h0.8M281.4 792.3h0.8M275.9 801.0h0.8M269.0 799.2h0.8M275.7 788.5h0.8M296.6 801.4h0.8M276.5 805.7h0.8M271.1 810.0h0.8M277.3 800.9h0.8M275.4 801.0h0.8M283.8 799.1h0.8M273.1 805.2h0.8M285.9 798.5h0.8M290.4 793.5h0.8M292.5 796.4h0.8M294.7 794.4h0.8M278.4 801.1h0.8M290.8 805.7h0.8M276.5 796.2h0.8M287.8 805.2h0.8M287.2 796.4h0.8M292.5 797.1h0.8M282.3 802.7h0.8M275.5 787.7h0.8M282.7 803.2h0.8M284.8 801.8h0.8M282.2 805.1h0.8M281.8 807.7h0.8M281.2 803.9h0.8M275.7 802.2h0.8M284.6 799.5h0.8M294.9 797.1h0.8M291.1 799.5h0.8M290.8 792.5h0.8M277.4 805.6h0.8M273.2 803.1h0.8M285.9 799.6h0.8M284.8 801.8h0.8M278.6 802.2h0.8M276.0 797.9h0.8M266.1 801.7h0.8M265.1 802.6h0.8M282.7 793.0h0.8M281.4 801.0h0.8M277.5 795.0h0.8M279.7 802.0h0.8M289.2 808.8h0.8M262.6 804.9h0.8M284.7 795.2h0.8M283.7 810.7h0.8M281.8 807.0h0.8M290.5 795.2h0.8M259.5 810.1h0.8M294.9 786.9h0.8M278.9 795.9h0.8M282.6 799.5h0.8M291.2 794.2h0.8M298.5 786.5h0.8M282.7 814.2h0.8M279.8 803.2h0.8M276.4 819.0h0.8M288.9 796.0h0.8M263.1 804.0h0.8M287.5 786.7h0.8M276.2 803.5h0.8M258.6 802.6h0.8M266.1 794.7h0.8M284.5 805.2h0.8M291.4 793.8h0.8M285.4 788.6h0.8M267.1 805.2h0.8M277.1 794.4h0.8M263.5 801.4h0.8M301.3 784.2h0.8M271.1 807.7h0.8M263.1 799.3h0.8M281.4 805.8h0.8M280.1 809.9h0.8M280.5 798.9h0.8M284.8 800.7h0.8M266.9 796.7h0.8M278.6 801.8h0.8M269.5 797.6h0.8M273.9 802.7h0.8M276.8 803.7h0.8M284.3 793.6h0.8M278.0 793.0h0.8M281.7 803.9h0.8M271.6 791.2h0.8M285.5 797.0h0.8M280.5 802.2h0.8M284.2 804.1h0.8M276.5 787.8h0.8M276.2 798.6h0.8M276.9 802.4h0.8M278.4 807.3h0.8M274.9 800.6h0.8M277.4 812.1h0.8M271.9 795.5h0.8M277.2 804.5h0.8M280.8 798.5h0.8M267.2 790.3h0.8M278.8 798.5h0.8M297.0 798.5h0.8M284.7 804.3h0.8M272.5 794.1h0.8M277.3 808.6h0.8M289.9 794.4h0.8M269.2 807.0h0.8M290.8 791.3h0.8M295.6 792.3h0.8M287.7 797.0h0.8M277.7 796.6h0.8M287.1 801.8h0.8M288.2 796.5h0.8M272.9 813.2h0.8M296.6 795.4h0.8M270.1 810.0h0.8M282.0 799.6h0.8M288.6 800.0h0.8M281.8 810.6h0.8M263.2 806.5h0.8M271.6 801.7h0.8M279.1 801.3h0.8M258.3 807.7h0.8M302.4 793.0h0.8M289.1 801.5h0.8M283.5 796.1h0.8M286.6 799.9h0.8M294.2 801.7h0.8M274.1 784.1h0.8M294.8 799.6h0.8M282.3 795.7h0.8M304.1 802.7h0.8M281.6 797.2h0.8M286.1 806.2h0.8M285.6 804.0h0.8M283.2 801.1h0.8M268.9 802.4h0.8M281.2 799.0h0.8M278.5 801.7h0.8M275.3 799.4h0.8M268.5 815.0h0.8M272.4 794.2h0.8M275.7 798.1h0.8M270.7 787.5h0.8M296.1 802.4h0.8M277.2 803.4h0.8M270.3 792.2h0.8M283.9 802.2h0.8M274.3 800.7h0.8M251.9 804.2h0.8M290.6 798.6h0.8M282.4 802.5h0.8M261.2 795.9h0.8M268.8 803.1h0.8M274.8 789.9h0.8M289.1 796.8h0.8M290.1 809.2h0.8M265.2 795.2h0.8M290.8 805.6h0.8M284.4 800.9h0.8M287.2 802.0h0.8M268.7 806.0h0.8M290.0 795.4h0.8M272.1 798.3h0.8M275.2 803.6h0.8M288.0 798.3h0.8M277.8 789.9h0.8M276.7 794.6h0.8M275.5 802.5h0.8M282.3 819.2h0.8M272.5 798.0h0.8M269.9 800.1h0.8M278.0 805.7h0.8M262.3 808.2h0.8M286.8 795.4h0.8M274.2 801.8h0.8M285.6 797.7h0.8M279.2 799.9h0.8M270.5 803.0h0.8M286.1 798.8h0.8M270.0 801.5h0.8M279.7 801.5h0.8M276.8 805.0h0.8M290.9 802.3h0.8M282.9 806.0h0.8M280.3 798.6h0.8M267.2 802.2h0.8M292.2 791.9h0.8M288.1 790.9h0.8M283.5 809.3h0.8M281.1 792.8h0.8M283.4 798.2h0.8M288.2 795.1h0.8M264.4 799.9h0.8" stroke="#777" stroke-width="0.8" stroke-opacity="0.6" fill="none"/>
<path d="M296.0 806.4h0.7M291.0 799.5h0.7M297.6 796.9h0.7M279.5 802.8h0.7M304.0 793.6h0.7M294.5 794.0h0.7M275.0 803.1h0.7M265.5 796.8h0.7M267.7 798.3h0.7M272.2 819.7h0.7M296.3 799.1h0.7M265.4 785.4h0.7M293.6 794.3h0.7M303.3 794.6h0.7M265.9 798.4h0.7M262.4 793.1h0.7M297.9 794.4h0.7M297.6 794.2h0.7M282.9 796.5h0.7M278.0 796.4h0.7M310.4 796.1h0.7M255.6 817.4h0.7M306.6 805.4h0.7M285.0 799.1h0.7M279.0 802.1h0.7M294.1 798.9h0.7M273.5 794.8h0.7M313.1 808.7h0.7M266.9 798.2h0.7M285.9 804.5h0.7M284.8 802.1h0.7M292.4 807.7h0.7M265.8 811.3h0.7M293.6 803.0h0.7M262.6 801.9h0.7M282.4 805.4h0.7M297.5 803.5h0.7M266.0 812.5h0.7M287.6 806.8h0.7M286.4 794.9h0.7M298.7 794.8h0.7M283.0 808.8h0.7M293.7 812.0h0.7M305.7 789.2h0.7M262.0 812.3h0.7M296.1 796.7h0.7M281.9 796.6h0.7M315.1 794.6h0.7M264.5 810.1h0.7M285.2 802.9h0.7M280.4 800.7h0.7M256.5 808.5h0.7M275.6 798.9h0.7M291.5 808.8h0.7M252.2 804.2h0.7M295.2 806.3h0.7M272.0 804.6h0.7M292.9 806.0h0.7M276.6 800.2h0.7M278.3 809.7h0.7M303.8 794.2h0.7M284.3 802.0h0.7M272.1 801.4h0.7M300.3 803.7h0.7M275.6 796.9h0.7M284.6 789.6h0.7M291.4 800.2h0.7M265.2 801.6h0.7M275.9 799.7h0.7M272.5 812.2h0.7M271.1 808.0h0.7M289.8 810.2h0.7M285.5 800.3h0.7M287.5 786.1h0.7M281.4 792.6h0.7M284.3 812.2h0.7M274.4 805.1h0.7" stroke="#888" stroke-width="0.7" stroke-opacity="0.5" fill="none"/>
<path d="M261.0 826.0h0.85M251.5 810.6h0.85M256.9 824.2h0.85M252.0 818.7h0.85M265.7 809.5h0.85M250.8 817.8h0.85M243.9 818.3h0.85M248.9 829.6h0.85M242.7 814.3h0.85M255.9 811.2h0.85M241.0 819.2h0.85M246.2 816.2h0.85M253.1 824.1h0.85M249.9 820.0h0.85M258.9 819.4h0.85M259.0 816.7h0.85M257.4 828.5h0.85M252.0 819.3h0.85M253.1 824.1h0.85M246.2 822.5h0.85M250.3 830.5h0.85M242.8 826.8h0.85M252.1 816.8h0.85M255.1 819.5h0.85M254.4 822.5h0.85M262.1 817.4h0.85M265.2 802.7h0.85M266.2 826.8h0.85M264.5 820.8h0.85M256.0 814.5h0.85M263.0 812.6h0.85M248.9 821.9h0.85M255.7 823.0h0.85M246.5 820.1h0.85M257.4 828.0h0.85M259.2 822.9h0.85M252.5 818.0h0.85M250.8 821.0h0.85M257.7 817.5h0.85M267.7 812.9h0.85M259.5 819.0h0.85M253.3 818.9h0.85M264.3 817.8h0.85M257.8 821.3h0.85M259.1 824.0h0.85M265.0 815.0h0.85M248.8 832.4h0.85M262.6 820.3h0.85M252.3 823.0h0.85M262.8 815.1h0.85M263.7 819.3h0.85M251.8 819.0h0.85M245.5 819.0h0.85M248.3 823.4h0.85M258.9 820.6h0.85M255.4 823.5h0.85M264.7 823.1h0.85M264.5 819.2h0.85M256.5 816.8h0.85M258.1 815.3h0.85M257.3 816.7h0.85M251.9 829.0h0.85M255.1 825.9h0.85M252.6 809.9h0.85M263.9 818.6h0.85M249.9 827.6h0.85M246.7 817.7h0.85M261.7 815.7h0.85M261.6 818.1h0.85M252.8 821.8h0.85M250.9 828.2h0.85M261.4 820.4h0.85M258.2 823.8h0.85M265.2 809.7h0.85M260.9 825.7h0.85M252.1 821.5h0.85M251.9 829.1h0.85M246.7 826.0h0.85M262.6 823.4h0.85M251.0 818.8h0.85M261.4 814.2h0.85M243.4 821.2h0.85M244.4 825.4h0.85M248.4 827.8h0.85M253.4 812.5h0.85M249.1 817.9h0.85M248.6 829.6h0.85M247.6 824.4h0.85M250.3 825.3h0.85M244.8 812.9h0.85M257.5 829.4h0.85M245.1 820.6h0.85M250.8 815.9h0.85M260.6 820.5h0.85M245.1 821.2h0.85M263.0 815.5h0.85M250.8 816.6h0.85M255.3 817.6h0.85M260.0 815.1h0.85M244.6 825.3h0.85M256.0 822.4h0.85M250.4 819.0h0.85M248.9 820.8h0.85M251.2 825.0h0.85M254.3 824.5h0.85M264.9 817.8h0.85M252.3 823.7h0.85M268.0 816.8h0.85M265.3 826.7h0.85M247.7 824.5h0.85M262.9 820.2h0.85M255.3 834.3h0.85M256.5 834.0h0.85M248.3 832.1h0.85M250.9 806.7h0.85M248.7 819.0h0.85M253.9 825.8h0.85M258.7 823.7h0.85M249.3 832.8h0.85M262.1 820.2h0.85M250.4 821.4h0.85M252.7 817.1h0.85M254.1 817.1h0.85M258.4 816.5h0.85M257.4 822.6h0.85M255.3 824.2h0.85M249.6 826.3h0.85M254.3 818.4h0.85M265.7 826.2h0.85M252.4 824.9h0.85M258.7 830.2h0.85M260.9 819.1h0.85M252.5 814.2h0.85M255.9 826.2h0.85M251.6 825.6h0.85M255.1 818.1h0.85M246.2 829.2h0.85M270.9 822.0h0.85M247.1 815.8h0.85M255.9 824.9h0.85M264.2 804.7h0.85M266.4 820.3h0.85M255.1 823.4h0.85M251.9 819.7h0.85M261.2 809.4h0.85M253.5 824.7h0.85M243.4 821.8h0.85M264.3 821.9h0.85M258.9 824.8h0.85M255.7 823.1h0.85M248.9 820.6h0.85M266.4 811.7h0.85M253.1 813.5h0.85M250.7 816.9h0.85M246.1 823.8h0.85M248.0 825.3h0.85M266.2 803.5h0.85M253.1 808.3h0.85M253.4 823.5h0.85M255.6 828.4h0.85M255.3 810.3h0.85M264.2 813.8h0.85M253.6 823.2h0.85M248.4 822.5h0.85M264.1 809.2h0.85M243.2 820.0h0.85M253.1 813.4h0.85M256.8 812.5h0.85M258.0 820.1h0.85M255.3 812.7h0.85M252.8 824.3h0.85M242.7 816.3h0.85M260.6 832.5h0.85M258.6 820.0h0.85M247.1 819.6h0.85M252.6 824.1h0.85M263.0 806.1h0.85M246.5 822.2h0.85M260.7 822.6h0.85M263.2 823.4h0.85M271.2 823.5h0.85M257.3 830.1h0.85M251.3 818.1h0.85M247.6 823.6h0.85M257.2 826.5h0.85M263.8 823.5h0.85M262.4 818.3h0.85M247.9 826.6h0.85M261.0 828.4h0.85M253.2 818.3h0.85M251.9 823.7h0.85M254.0 820.0h0.85M256.0 819.0h0.85M256.5 817.0h0.85M244.1 820.7h0.85M266.8 814.1h0.85M260.3 828.6h0.85M250.7 823.2h0.85M264.5 820.7h0.85M241.1 819.4h0.85M249.4 822.5h0.85M256.2 818.2h0.85M252.2 816.3h0.85M258.1 821.7h0.85M256.6 817.6h0.85M257.5 818.7h0.85M256.3 819.8h0.85M249.9 814.9h0.85M242.0 814.4h0.85M243.4 817.6h0.85M252.9 814.0h0.85M257.1 833.7h0.85M262.5 812.5h0.85M253.6 817.2h0.85M259.3 811.2h0.85M256.3 822.1h0.85M258.0 823.2h0.85M255.3 809.7h0.85M252.1 815.4h0.85M257.8 819.1h0.85M255.3 827.8h0.85M253.6 831.7h0.85M259.8 810.9h0.85M250.4 829.3h0.85M251.0 829.1h0.85M250.6 820.8h0.85M261.1 810.1h0.85M254.8 818.1h0.85M255.4 831.6h0.85M257.5 812.1h0.85M260.6 817.2h0.85M255.4 828.2h0.85M252.2 827.4h0.85M255.5 815.2h0.85M252.2 812.8h0.85M262.1 820.9h0.85M260.7 813.1h0.85M259.9 812.7h0.85M256.2 820.7h0.85M250.4 823.5h0.85M254.5 815.5h0.85M249.4 813.5h0.85M263.4 820.6h0.85M251.9 825.7h0.85M248.6 814.5h0.85M256.7 830.7h0.85M256.3 821.7h0.85M265.8 809.5h0.85M274.5 811.0h0.85M253.8 812.6h0.85M246.3 820.7h0.85M270.4 812.7h0.85M250.2 823.3h0.85M247.6 820.4h0.85M259.7 806.4h0.85M252.3 819.5h0.85M250.9 820.8h0.85M242.4 820.0h0.85M250.9 815.0h0.85M262.6 832.4h0.85M259.6 814.7h0.85M263.7 822.8h0.85M248.9 825.6h0.85M250.5 825.2h0.85M260.4 827.4h0.85M247.3 821.2h0.85M254.3 813.3h0.85M257.0 825.0h0.85M245.2 818.9h0.85M247.0 814.1h0.85M247.3 830.7h0.85M249.9 819.2h0.85M260.8 826.5h0.85M263.6 806.5h0.85M259.3 809.2h0.85M250.1 819.0h0.85M250.5 834.0h0.85M253.2 828.6h0.85M253.1 820.8h0.85M257.7 823.3h0.85M257.6 809.5h0.85M257.7 822.5h0.85M258.3 820.1h0.85M257.0 812.3h0.85M261.8 812.2h0.85M263.6 826.0h0.85M253.9 819.2h0.85M259.4 818.3h0.85M246.5 823.9h0.85M246.2 819.3h0.85M266.1 824.4h0.85M251.3 821.0h0.85M250.0 821.6h0.85M244.7 826.8h0.85M254.4 817.1h0.85M251.4 818.4h0.85M250.5 818.4h0.85M262.9 824.0h0.85M257.1 822.9h0.85M246.8 806.8h0.85M264.3 824.0h0.85M255.7 822.6h0.85M255.6 820.9h0.85M252.6 807.1h0.85M258.1 820.7h0.85M260.8 822.0h0.85M252.4 825.1h0.85M255.5 818.0h0.85M251.8 818.7h0.85M252.3 818.5h0.85M253.6 828.2h0.85M241.3 802.4h0.85M251.2 820.5h0.85M249.4 813.1h0.85M248.7 818.6h0.85M255.3 818.7h0.85M246.4 819.8h0.85M264.3 813.9h0.85M254.7 827.3h0.85M249.0 818.2h0.85M273.4 826.0h0.85M250.8 822.5h0.85M255.0 821.8h0.85M257.4 818.6h0.85M255.3 812.2h0.85M252.2 830.9h0.85M255.9 816.6h0.85M255.2 827.5h0.85M243.0 814.8h0.85M249.9 818.9h0.85M253.7 817.4h0.85M255.0 821.5h0.85M246.6 818.2h0.85M246.1 824.1h0.85M256.0 824.9h0.85M248.5 818.5h0.85M243.6 824.8h0.85M261.4 822.8h0.85M258.4 821.8h0.85M256.7 826.6h0.85M262.6 832.6h0.85M252.5 826.5h0.85M260.0 822.8h0.85M256.1 812.7h0.85M261.5 814.3h0.85M250.0 816.2h0.85M258.0 814.3h0.85M257.3 824.1h0.85M255.0 818.7h0.85M258.2 828.7h0.85M251.3 814.8h0.85M250.3 816.0h0.85M252.7 820.3h0.85M248.9 819.1h0.85M241.4 810.5h0.85M247.6 823.5h0.85M259.9 808.7h0.85M255.8 830.4h0.85M252.4 827.1h0.85M256.3 814.8h0.85M260.8 816.2h0.85M256.6 818.1h0.85M252.9 822.2h0.85M263.0 809.0h0.85M246.9 822.7h0.85M260.7 818.8h0.85M253.1 824.5h0.85M264.7 813.7h0.85M243.8 820.8h0.85M259.3 811.9h0.85M261.7 825.8h0.85M259.5 814.9h0.85M245.8 826.4h0.85M256.0 825.1h0.85M245.4 803.6h0.85M261.7 826.2h0.85M252.5 821.2h0.85M257.3 825.3h0.85M253.1 817.9h0.85M247.9 828.5h0.85M254.9 799.3h0.85M256.6 817.0h0.85M245.9 819.0h0.85M245.9 819.4h0.85M250.7 824.8h0.85M247.6 810.5h0.85M250.3 812.9h0.85M259.2 819.0h0.85M243.3 817.1h0.85M254.1 820.8h0.85M242.2 822.0h0.85M256.2 826.9h0.85M261.5 819.1h0.85M245.7 819.9h0.85M258.6 814.5h0.85M262.6 813.7h0.85M246.9 827.4h0.85M253.6 823.1h0.85M252.3 821.5h0.85M250.4 833.5h0.85M258.6 819.6h0.85M257.4 825.8h0.85M250.8 822.6h0.85M255.6 817.2h0.85M249.2 820.5h0.85M252.3 818.7h0.85M241.5 823.4h0.85M258.6 820.8h0.85M265.6 824.7h0.85M252.0 817.1h0.85M257.6 818.1h0.85M243.6 823.4h0.85M252.3 819.9h0.85M258.3 821.6h0.85M267.6 814.3h0.85M253.7 823.0h0.85M251.4 818.2h0.85M265.8 810.1h0.85M256.6 809.6h0.85M256.5 808.5h0.85M246.6 829.3h0.85M264.4 820.3h0.85M255.9 813.8h0.85M252.0 813.0h0.85M253.7 820.5h0.85M255.1 825.9h0.85M250.1 807.7h0.85M246.6 814.2h0.85M251.9 818.6h0.85M254.0 829.7h0.85M254.5 814.2h0.85M252.3 815.8h0.85M252.7 824.9h0.85M246.9 826.5h0.85M266.0 828.8h0.85M265.0 820.0h0.85M254.0 822.5h0.85M252.0 815.4h0.85M258.4 811.6h0.85M245.3 825.8h0.85M251.8 816.1h0.85M257.6 829.4h0.85M252.4 820.4h0.85M258.0 826.3h0.85M261.1 824.2h0.85M249.9 825.0h0.85M254.3 810.3h0.85M262.4 823.4h0.85M263.3 819.2h0.85M259.1 819.8h0.85M255.4 826.6h0.85M254.7 824.8h0.85M254.1 828.7h0.85M258.6 810.0h0.85M265.2 822.1h0.85M250.9 817.6h0.85M267.4 819.6h0.85M257.6 824.2h0.85M250.4 832.6h0.85M268.1 814.0h0.85M261.8 809.7h0.85M252.1 821.7h0.85M254.6 824.5h0.85M256.9 822.9h0.85M253.4 823.0h0.85M250.7 833.9h0.85M254.7 828.7h0.85M255.0 820.0h0.85M253.1 813.1h0.85M267.9 821.5h0.85M255.2 818.0h0.85M262.7 817.7h0.85M251.3 818.1h0.85M264.4 821.4h0.85M253.3 817.1h0.85M262.7 821.5h0.85M252.1 826.9h0.85M260.1 813.9h0.85M261.8 826.7h0.85M252.7 812.9h0.85M261.5 817.8h0.85M253.0 819.4h0.85M252.5 826.5h0.85M247.2 825.4h0.85M261.9 826.5h0.85M259.0 822.0h0.85M253.0 820.5h0.85M248.6 832.3h0.85M253.6 814.8h0.85M259.8 829.6h0.85M256.2 818.8h0.85M247.1 826.1h0.85M252.7 817.1h0.85M258.3 812.4h0.85M259.1 805.1h0.85M250.3 812.7h0.85M252.7 826.2h0.85M245.9 830.8h0.85M249.9 818.7h0.85M260.8 815.5h0.85M263.8 818.3h0.85M253.7 815.1h0.85M261.8 819.5h0.85M251.2 815.6h0.85M250.2 821.0h0.85M249.7 826.7h0.85M254.1 817.2h0.85M257.4 829.4h0.85M240.8 825.3h0.85M261.4 820.8h0.85M259.7 810.6h0.85M249.5 828.0h0.85M253.8 821.5h0.85M258.4 822.7h0.85M257.3 817.5h0.85M252.4 829.4h0.85M251.2 812.5h0.85M252.1 826.9h0.85M266.0 820.2h0.85M250.4 825.4h0.85M256.3 828.0h0.85M257.7 825.2h0.85M257.7 823.1h0.85M248.5 820.9h0.85M264.8 827.7h0.85M260.6 822.5h0.85M253.7 823.3h0.85M252.3 828.1h0.85M252.4 816.6h0.85M244.0 832.2h0.85M249.6 816.4h0.85M257.0 831.7h0.85M258.7 818.3h0.85M258.1 815.3h0.85M252.8 821.4h0.85M254.5 825.8h0.85M257.9 832.1h0.85M259.8 818.4h0.85M256.1 815.5h0.85M250.5 819.5h0.85M261.0 815.8h0.85M244.4 816.2h0.85M246.7 821.0h0.85M252.5 814.1h0.85M249.4 819.2h0.85M257.0 824.4h0.85M263.0 818.1h0.85M258.5 820.8h0.85M247.5 818.1h0.85M268.5 817.9h0.85M265.1 824.5h0.85M265.2 818.2h0.85M260.5 818.2h0.85M247.4 814.8h0.85M257.3 810.6h0.85M256.9 815.3h0.85M256.8 812.2h0.85M260.0 818.8h0.85M244.7 813.6h0.85M254.9 810.8h0.85M256.6 823.7h0.85M250.3 830.2h0.85M263.8 821.5h0.85M257.5 823.5h0.85M252.9 829.3h0.85M251.1 806.0h0.85M254.7 823.7h0.85M259.8 813.4h0.85M263.4 814.6h0.85M258.6 824.9h0.85M255.7 827.8h0.85M251.4 834.1h0.85M257.7 817.9h0.85M271.2 818.4h0.85M244.2 831.3h0.85M264.4 815.9h0.85M248.2 828.9h0.85M254.9 815.0h0.85M251.5 821.9h0.85M260.8 829.7h0.85M250.6 831.0h0.85M244.9 826.8h0.85M253.7 823.8h0.85M251.8 817.0h0.85M256.4 827.7h0.85M240.4 823.4h0.85M252.0 814.8h0.85M246.0 825.5h0.85M258.1 824.4h0.85M241.9 813.5h0.85M250.7 818.9h0.85M265.8 816.9h0.85M255.4 827.0h0.85M265.2 821.7h0.85M256.8 832.6h0.85M252.0 810.3h0.85M249.8 819.8h0.85M262.9 821.7h0.85M262.3 820.5h0.85M254.8 817.4h0.85M246.7 825.3h0.85M256.9 824.2h0.85M251.2 818.9h0.85M257.0 824.4h0.85M267.3 813.7h0.85M260.9 825.5h0.85M252.9 822.1h0.85M254.2 830.5h0.85M270.8 820.5h0.85M252.9 827.1h0.85M257.7 819.4h0.85M259.4 825.6h0.85M252.1 826.6h0.85M252.6 822.3h0.85M245.3 831.5h0.85M252.2 822.3h0.85M254.3 825.7h0.85M250.9 826.1h0.85M249.3 812.6h0.85M257.9 821.5h0.85M260.2 808.1h0.85M255.3 816.9h0.85M253.4 818.7h0.85M252.2 817.2h0.85M261.1 809.4h0.85M243.9 824.7h0.85M267.4 814.3h0.85M248.8 814.6h0.85M248.1 829.7h0.85M258.9 825.9h0.85M256.8 822.1h0.85M250.9 815.5h0.85M252.2 829.2h0.85M250.1 821.9h0.85M265.4 818.9h0.85M258.6 816.9h0.85M266.6 811.6h0.85M258.2 819.0h0.85M255.8 823.0h0.85M263.0 825.1h0.85M261.3 822.2h0.85M247.8 830.3h0.85M264.4 822.5h0.85M259.6 818.8h0.85M245.4 828.4h0.85M249.9 833.5h0.85M259.0 820.2h0.85M250.7 822.2h0.85M248.1 819.6h0.85M264.8 817.6h0.85M266.3 818.6h0.85M257.2 814.8h0.85M252.7 818.5h0.85M245.7 834.3h0.85M258.3 819.9h0.85M247.6 822.2h0.85M247.8 816.0h0.85M253.4 834.5h0.85M243.4 826.1h0.85M251.1 803.5h0.85M245.5 821.5h0.85M255.0 816.2h0.85M265.9 822.6h0.85M250.5 811.4h0.85M255.7 816.6h0.85M261.1 813.5h0.85M262.2 817.0h0.85M255.8 819.1h0.85M258.5 827.5h0.85M251.1 815.9h0.85M266.7 825.1h0.85M266.8 825.1h0.85M255.4 831.0h0.85M250.3 819.0h0.85M252.0 825.6h0.85M249.1 820.7h0.85M249.1 820.3h0.85M261.7 826.8h0.85M250.0 824.5h0.85M251.5 807.7h0.85M246.9 829.8h0.85M253.7 822.8h0.85M262.6 820.0h0.85M250.5 817.8h0.85M248.5 825.3h0.85M251.5 824.6h0.85M244.9 819.7h0.85M267.7 821.3h0.85M253.9 828.5h0.85M256.3 830.3h0.85M247.1 826.9h0.85M247.7 826.2h0.85M270.3 828.1h0.85M249.0 824.4h0.85M257.4 816.1h0.85M256.1 814.1h0.85M260.7 825.7h0.85M253.5 825.4h0.85M269.8 817.7h0.85M242.5 824.9h0.85M251.6 816.6h0.85M260.3 826.4h0.85M258.3 830.6h0.85M250.4 819.0h0.85M257.2 803.7h0.85M253.1 821.6h0.85M248.3 823.3h0.85M261.3 816.0h0.85M258.1 819.5h0.85M253.5 821.9h0.85M264.2 822.8h0.85M258.9 821.3h0.85M240.7 828.9h0.85M254.4 821.6h0.85M251.2 811.9h0.85M264.0 831.0h0.85M264.6 808.0h0.85M258.0 813.1h0.85M253.3 818.0h0.85M250.5 816.8h0.85M251.4 826.3h0.85M264.8 825.2h0.85M254.4 820.1h0.85M252.9 821.1h0.85M250.5 820.5h0.85M259.9 818.8h0.85M249.2 821.0h0.85M255.0 820.4h0.85M252.8 825.6h0.85M254.2 814.7h0.85M258.1 816.0h0.85M259.4 825.3h0.85M257.6 822.4h0.85M245.8 821.1h0.85M255.2 824.9h0.85M247.2 821.1h0.85M244.5 823.6h0.85M254.9 821.7h0.85M265.1 824.0h0.85M253.2 817.6h0.85M251.6 826.3h0.85M260.3 817.0h0.85M253.7 818.4h0.85M258.9 821.5h0.85M249.8 816.2h0.85M262.8 811.0h0.85M242.7 803.5h0.85M267.5 815.7h0.85M259.9 823.7h0.85M259.8 827.3h0.85M251.4 821.3h0.85M260.8 823.5h0.85M249.5 817.0h0.85M245.1 824.0h0.85M251.0 811.8h0.85M250.8 823.6h0.85M255.6 819.4h0.85M255.5 824.9h0.85M246.7 817.1h0.85M260.7 824.6h0.85M245.3 817.8h0.85M263.8 824.3h0.85M253.5 827.5h0.85M263.3 828.5h0.85M245.4 814.3h0.85M251.1 821.2h0.85M252.1 822.9h0.85M264.0 826.4h0.85M260.9 820.0h0.85M265.1 822.3h0.85M256.0 820.6h0.85M254.3 826.6h0.85M269.1 817.6h0.85M246.9 828.5h0.85M256.0 814.9h0.85M260.7 820.1h0.85M248.3 806.1h0.85M248.0 824.4h0.85M247.7 828.1h0.85M268.7 820.8h0.85M255.9 820.3h0.85M260.0 820.4h0.85M261.2 828.8h0.85M260.0 814.2h0.85M258.8 818.7h0.85M256.5 826.7h0.85M250.1 822.9h0.85M264.0 814.4h0.85M253.2 825.7h0.85M252.9 827.6h0.85M247.8 812.7h0.85M256.9 819.8h0.85M256.5 826.7h0.85M261.3 817.8h0.85M251.9 809.3h0.85M248.1 823.5h0.85M255.8 811.6h0.85M259.5 820.0h0.85M261.6 817.7h0.85M260.7 813.2h0.85M242.3 817.8h0.85M259.0 822.9h0.85M242.1 823.8h0.85M258.8 830.8h0.85M259.5 823.4h0.85M244.1 824.9h0.85M241.6 821.1h0.85M252.0 815.3h0.85M247.8 821.1h0.85M258.2 816.4h0.85M256.4 825.1h0.85M254.3 832.9h0.85M252.4 816.8h0.85M242.0 829.5h0.85M258.8 819.2h0.85M256.4 819.9h0.85M260.1 820.1h0.85M255.9 820.3h0.85M248.6 808.1h0.85M258.0 812.8h0.85M257.0 824.6h0.85M266.7 814.5h0.85M255.4 826.7h0.85M250.0 818.0h0.85M257.3 833.3h0.85M261.5 825.9h0.85M248.1 826.0h0.85M261.9 812.1h0.85M254.5 819.8h0.85M258.6 809.6h0.85M259.0 820.3h0.85M252.7 808.2h0.85M240.9 819.7h0.85M258.7 823.0h0.85M259.3 809.8h0.85M255.7 829.1h0.85M244.3 826.5h0.85M249.7 825.1h0.85M255.1 810.8h0.85M247.6 829.9h0.85M253.7 828.8h0.85M256.6 826.2h0.85M251.8 822.7h0.85M252.0 827.0h0.85M250.6 828.4h0.85M264.7 812.0h0.85M253.3 824.5h0.85M266.0 826.4h0.85M255.0 810.2h0.85M259.9 816.5h0.85M255.7 823.3h0.85M245.2 829.0h0.85M260.4 823.7h0.85M258.3 822.6h0.85M245.3 819.2h0.85M259.7 818.2h0.85M254.6 823.3h0.85M255.0 822.5h0.85M257.6 820.5h0.85M247.2 820.4h0.85M260.6 815.9h0.85M257.5 822.4h0.85M248.6 804.5h0.85M254.3 816.2h0.85M250.3 827.4h0.85M249.4 823.9h0.85M255.2 822.1h0.85M267.4 806.9h0.85M260.7 819.2h0.85M252.6 817.2h0.85M254.7 821.2h0.85M248.4 832.0h0.85M249.6 820.9h0.85M246.1 823.2h0.85M256.7 827.3h0.85M260.8 817.0h0.85M264.9 818.8h0.85M264.5 830.0h0.85M251.8 814.8h0.85M257.9 829.3h0.85M257.0 827.4h0.85M258.3 825.9h0.85M263.0 817.9h0.85M245.2 821.6h0.85M249.2 814.4h0.85M253.3 825.6h0.85M242.4 813.5h0.85M259.6 814.8h0.85M251.8 829.7h0.85M261.7 822.1h0.85M257.9 803.8h0.85M258.0 822.8h0.85M245.3 823.5h0.85M257.4 819.8h0.85M259.5 825.7h0.85M254.7 819.4h0.85M246.7 829.2h0.85M250.7 823.5h0.85M264.4 824.3h0.85M246.1 821.7h0.85M249.7 811.6h0.85M249.2 825.4h0.85M256.6 819.4h0.85M255.5 813.7h0.85M249.4 820.7h0.85M259.6 818.3h0.85M253.3 823.2h0.85M263.9 811.8h0.85M257.9 821.6h0.85M253.9 822.6h0.85M241.5 823.1h0.85M252.8 813.6h0.85M259.9 819.4h0.85M252.2 826.0h0.85M248.4 817.5h0.85M259.7 825.5h0.85M267.5 816.2h0.85M244.9 813.3h0.85M246.6 822.8h0.85M252.8 817.1h0.85M247.8 817.7h0.85M252.0 828.7h0.85M258.4 828.8h0.85M259.7 824.9h0.85M262.0 822.6h0.85M264.4 826.4h0.85M266.2 820.6h0.85M252.5 824.5h0.85M251.9 817.1h0.85M257.2 813.7h0.85M253.3 829.8h0.85M255.2 825.9h0.85M258.5 822.7h0.85M255.1 824.7h0.85M248.1 825.5h0.85M247.4 817.4h0.85M250.5 813.4h0.85M241.6 825.3h0.85M257.6 824.6h0.85M268.7 819.9h0.85M259.2 815.7h0.85M259.0 813.3h0.85M267.2 813.2h0.85M251.7 826.0h0.85M248.2 823.1h0.85M260.7 821.0h0.85M260.4 817.0h0.85M258.2 807.1h0.85M264.2 815.4h0.85M248.7 821.9h0.85M265.4 815.0h0.85M254.2 818.8h0.85M248.3 813.9h0.85M258.2 824.8h0.85M249.5 823.1h0.85M257.3 822.9h0.85M253.3 821.4h0.85M256.1 814.2h0.85M253.4 826.0h0.85M250.7 829.6h0.85M252.8 814.5h0.85M252.4 813.0h0.85M258.3 810.6h0.85M254.4 819.5h0.85M252.4 823.9h0.85M256.2 817.3h0.85M259.7 817.4h0.85M260.2 828.4h0.85M256.8 826.3h0.85M245.6 825.8h0.85M244.6 821.4h0.85M258.9 803.9h0.85M249.3 817.0h0.85M248.2 822.1h0.85M258.5 813.3h0.85M250.3 810.2h0.85M249.7 808.8h0.85M244.5 825.3h0.85M260.0 815.2h0.85M256.6 815.9h0.85M261.3 830.7h0.85M250.1 818.7h0.85M264.5 829.1h0.85M254.2 824.9h0.85M244.0 820.7h0.85M252.5 820.4h0.85M256.2 811.1h0.85M243.0 823.1h0.85M259.1 823.3h0.85M254.7 811.0h0.85M251.3 811.9h0.85M267.1 821.3h0.85M259.0 821.5h0.85M251.8 828.6h0.85M260.1 824.0h0.85M258.1 825.0h0.85M252.5 823.9h0.85M254.8 819.4h0.85M258.5 833.5h0.85M241.1 831.8h0.85M251.5 828.8h0.85M247.7 820.9h0.85M261.0 819.6h0.85M256.6 813.2h0.85M246.8 832.4h0.85M255.3 820.3h0.85M245.3 816.0h0.85M247.6 821.7h0.85M253.6 817.4h0.85M249.9 822.3h0.85M261.9 811.2h0.85M245.1 829.3h0.85M245.0 819.9h0.85M255.1 832.1h0.85M241.0 805.2h0.85M253.8 827.7h0.85M255.2 815.9h0.85M255.5 808.2h0.85M259.7 829.3h0.85M253.0 826.2h0.85M247.4 831.1h0.85M250.1 816.7h0.85M249.3 810.9h0.85M258.7 832.7h0.85M245.0 821.2h0.85M257.2 817.1h0.85M244.1 824.6h0.85M260.8 820.7h0.85M247.3 820.2h0.85M241.7 822.5h0.85M262.2 826.6h0.85M253.7 823.8h0.85M250.9 822.3h0.85M250.4 822.6h0.85M250.9 822.7h0.85M258.8 820.2h0.85M245.9 825.3h0.85M252.7 818.2h0.85M258.0 815.3h0.85M260.4 823.5h0.85M249.8 817.4h0.85M253.5 815.5h0.85M260.5 806.2h0.85M255.3 818.7h0.85M247.2 826.0h0.85M251.2 824.3h0.85M251.5 819.7h0.85M257.7 826.4h0.85M260.8 819.9h0.85M263.9 817.5h0.85M245.5 810.8h0.85M244.9 817.1h0.85M242.7 824.8h0.85M254.5 820.8h0.85M255.8 820.1h0.85M252.7 819.3h0.85M254.6 814.0h0.85M262.6 829.3h0.85M248.0 827.5h0.85M243.8 826.3h0.85M249.5 827.9h0.85M255.0 826.8h0.85M258.3 823.7h0.85M252.5 831.1h0.85M256.6 823.6h0.85M263.6 818.0h0.85M265.6 826.0h0.85M254.8 812.0h0.85M262.2 817.9h0.85M254.9 821.7h0.85M260.5 824.0h0.85M242.5 818.7h0.85M256.6 821.7h0.85M259.5 823.7h0.85M264.9 815.0h0.85M262.8 822.1h0.85M256.3 824.9h0.85M252.1 825.7h0.85M253.0 825.7h0.85M249.4 829.0h0.85M244.4 818.4h0.85M254.0 822.5h0.85M249.2 819.3h0.85M256.0 827.2h0.85M262.7 816.8h0.85M253.9 819.1h0.85M244.4 819.7h0.85M261.7 811.6h0.85M272.9 824.3h0.85M265.6 820.5h0.85M264.6 815.9h0.85M262.6 824.5h0.85M259.4 824.9h0.85M258.1 824.4h0.85M262.1 822.5h0.85M258.4 823.0h0.85M255.2 815.5h0.85M242.7 816.5h0.85M246.3 813.1h0.85M258.8 818.3h0.85" stroke="#222" stroke-width="0.85" stroke-opacity="0.75" fill="none"/>
<path d="M272.1 830.1h0.8M267.7 805.3h0.8M264.2 808.1h0.8M263.4 824.9h0.8M275.0 816.0h0.8M263.4 822.7h0.8M268.2 815.0h0.8M250.5 808.8h0.8M262.4 808.5h0.8M256.3 797.3h0.8M254.3 811.5h0.8M263.6 802.0h0.8M259.7 823.9h0.8M262.3 795.9h0.8M259.2 811.0h0.8M272.1 808.9h0.8M273.0 809.7h0.8M271.2 817.5h0.8M274.5 808.3h0.8M250.1 814.8h0.8M265.1 804.3h0.8M268.2 807.4h0.8M267.9 810.0h0.8M252.6 820.3h0.8M278.6 812.5h0.8M263.4 797.4h0.8M263.7 809.5h0.8M253.9 798.5h0.8M264.8 816.5h0.8M267.2 825.3h0.8M244.1 817.5h0.8M260.6 820.9h0.8M260.6 803.6h0.8M260.4 813.8h0.8M254.4 806.5h0.8M263.2 816.2h0.8M258.8 814.6h0.8M256.4 809.2h0.8M262.6 817.1h0.8M274.9 805.9h0.8M264.9 823.7h0.8M268.3 805.9h0.8M264.5 799.2h0.8M242.4 809.9h0.8M254.6 802.5h0.8M270.0 804.8h0.8M261.7 810.8h0.8M259.1 802.5h0.8M278.0 791.6h0.8M260.6 815.6h0.8M259.1 810.2h0.8M263.6 811.5h0.8M258.0 819.1h0.8M265.4 820.3h0.8M261.7 795.8h0.8M246.4 810.7h0.8M264.9 797.6h0.8M256.0 820.9h0.8M263.9 804.6h0.8M260.0 811.6h0.8M257.2 809.2h0.8M255.3 813.6h0.8M274.9 817.4h0.8M250.0 830.3h0.8M259.9 800.6h0.8M247.8 815.0h0.8M263.0 805.3h0.8M253.9 810.8h0.8M263.2 814.8h0.8M265.8 791.9h0.8M255.7 813.8h0.8M264.2 815.4h0.8M247.9 825.4h0.8M250.5 811.8h0.8M256.9 808.2h0.8M254.1 818.2h0.8M267.9 811.2h0.8M249.8 808.9h0.8M260.4 813.5h0.8M256.1 809.8h0.8M284.0 804.8h0.8M258.3 793.3h0.8M254.4 824.1h0.8M268.4 799.9h0.8M267.8 809.9h0.8M254.0 818.1h0.8M255.6 809.7h0.8M261.1 812.0h0.8M257.1 813.7h0.8M261.0 811.9h0.8M264.4 805.0h0.8M249.0 813.2h0.8M271.7 810.0h0.8M262.9 804.6h0.8M251.0 804.1h0.8M252.9 809.9h0.8M247.5 813.2h0.8M247.2 818.9h0.8M260.7 797.8h0.8M256.2 813.5h0.8M264.3 815.3h0.8M257.9 810.3h0.8M258.9 815.0h0.8M254.9 810.9h0.8M262.2 807.6h0.8M251.5 822.9h0.8M265.3 802.7h0.8M278.1 800.4h0.8M253.4 809.9h0.8M265.6 820.1h0.8M272.9 811.3h0.8M261.5 815.2h0.8M254.1 807.2h0.8M265.6 810.7h0.8M263.0 802.6h0.8M263.1 799.5h0.8M269.0 808.4h0.8M255.4 808.6h0.8M285.2 826.8h0.8M254.9 822.1h0.8M261.1 812.3h0.8M252.6 803.2h0.8M263.0 806.7h0.8M265.4 817.0h0.8M260.0 814.7h0.8M262.5 811.8h0.8M256.5 813.5h0.8M264.8 810.1h0.8M257.0 801.0h0.8M251.7 824.4h0.8M269.8 810.3h0.8M263.5 808.7h0.8M266.9 815.9h0.8M258.8 813.3h0.8M269.3 796.8h0.8M252.8 808.5h0.8M250.9 810.0h0.8M253.6 809.6h0.8M265.1 800.9h0.8M261.8 820.3h0.8M262.6 801.2h0.8M255.7 820.4h0.8M258.7 806.6h0.8M267.8 803.5h0.8M251.3 817.5h0.8M261.1 805.7h0.8M265.0 817.5h0.8M270.4 808.8h0.8M265.0 813.1h0.8M248.1 826.0h0.8M255.2 808.0h0.8M253.8 805.4h0.8M270.5 808.0h0.8M256.0 798.6h0.8M262.4 809.8h0.8M252.0 812.2h0.8M245.1 819.5h0.8M250.4 817.0h0.8M261.8 794.9h0.8M251.3 808.3h0.8M267.8 813.0h0.8M266.4 821.2h0.8M258.5 807.5h0.8M244.7 807.4h0.8M265.9 803.1h0.8M253.4 819.5h0.8M272.2 794.5h0.8M265.1 809.4h0.8M268.8 806.0h0.8M259.9 821.0h0.8M255.8 814.9h0.8M266.5 808.2h0.8M268.6 812.3h0.8M268.2 796.2h0.8M252.0 815.0h0.8M271.1 818.2h0.8M261.1 805.1h0.8M251.5 798.9h0.8M256.7 815.9h0.8M260.4 800.0h0.8M260.1 811.1h0.8M254.5 822.8h0.8M264.8 817.5h0.8M261.9 803.2h0.8M270.3 816.1h0.8M255.9 802.2h0.8M268.0 804.5h0.8M250.9 812.6h0.8M265.8 803.8h0.8M261.3 817.7h0.8M267.5 797.5h0.8M267.2 821.8h0.8M268.9 807.8h0.8M264.2 798.2h0.8M255.9 808.1h0.8M278.9 805.8h0.8M252.6 825.1h0.8M271.6 795.7h0.8M259.3 798.7h0.8M270.0 791.6h0.8M277.0 798.6h0.8M252.0 828.3h0.8M265.6 811.9h0.8M268.4 801.4h0.8M268.5 806.5h0.8M265.5 811.0h0.8M272.9 798.0h0.8M249.0 818.5h0.8M281.4 809.1h0.8M259.6 815.8h0.8M250.6 814.0h0.8M246.5 815.2h0.8M267.2 821.2h0.8M256.7 818.5h0.8M272.6 799.8h0.8M258.6 797.6h0.8M253.4 815.7h0.8M243.5 813.0h0.8M267.2 819.3h0.8M255.7 795.2h0.8" stroke="#777" stroke-width="0.8" stroke-opacity="0.55" fill="none"/>
<ellipse cx="253.80" cy="821.50" rx="10" ry="10" fill="url(#bg)"/>
<rect x="239.40" y="748.60" width="87.30" height="87.20" fill="none" stroke="#000" stroke-width="1.5"/>
<rect x="263.80" y="780.20" width="47.00" height="30.80" fill="none" stroke="#000" stroke-width="1.3"/>
<line x1="237.90" y1="770.40" x2="239.40" y2="770.40" stroke="#000" stroke-width="0.8" stroke-linecap="butt"/>
<line x1="261.23" y1="835.80" x2="261.23" y2="837.30" stroke="#000" stroke-width="0.8" stroke-linecap="butt"/>
<line x1="237.90" y1="792.20" x2="239.40" y2="792.20" stroke="#000" stroke-width="0.8" stroke-linecap="butt"/>
<line x1="283.05" y1="835.80" x2="283.05" y2="837.30" stroke="#000" stroke-width="0.8" stroke-linecap="butt"/>
<line x1="237.90" y1="814.00" x2="239.40" y2="814.00" stroke="#000" stroke-width="0.8" stroke-linecap="butt"/>
<line x1="304.88" y1="835.80" x2="304.88" y2="837.30" stroke="#000" stroke-width="0.8" stroke-linecap="butt"/>
<text x="266.50" y="778.80" font-size="13" font-weight="bold" text-anchor="start" textLength="32.50" lengthAdjust="spacingAndGlyphs" >4.7%</text>
<text x="260.20" y="741.20" font-size="17.5" font-weight="bold" text-anchor="start" textLength="45.50" lengthAdjust="spacingAndGlyphs" >Day 3</text>
<path d="M364.5 804.5h0.8M373.6 803.4h0.8M371.0 803.6h0.8M364.9 795.9h0.8M372.3 790.2h0.8M385.0 796.0h0.8M364.8 796.5h0.8M364.9 801.9h0.8M370.4 804.9h0.8M363.2 801.1h0.8M360.0 799.6h0.8M386.1 796.5h0.8M381.8 797.7h0.8M363.8 796.6h0.8M363.5 803.3h0.8M375.8 815.2h0.8M388.9 801.3h0.8M364.8 801.8h0.8M365.5 814.0h0.8M367.2 807.2h0.8M361.4 806.0h0.8M362.6 799.1h0.8M375.3 800.0h0.8M373.2 799.3h0.8M365.9 800.4h0.8M373.1 794.5h0.8M378.9 799.5h0.8M366.8 808.0h0.8M368.5 790.1h0.8M385.2 795.3h0.8M387.0 799.4h0.8M365.6 807.2h0.8M377.9 803.8h0.8M374.1 808.0h0.8M382.1 796.1h0.8M360.0 801.9h0.8M374.3 794.0h0.8M372.0 808.1h0.8M369.4 806.5h0.8M365.2 795.8h0.8M382.2 797.0h0.8M375.7 804.8h0.8M388.5 789.9h0.8M379.0 799.8h0.8M375.0 809.1h0.8M371.5 796.7h0.8M378.3 787.5h0.8M377.0 794.0h0.8M376.6 794.9h0.8M378.3 797.3h0.8M367.2 803.7h0.8M380.5 789.4h0.8M362.0 800.3h0.8M370.2 807.5h0.8M388.1 799.4h0.8M383.6 795.8h0.8M361.3 803.5h0.8M357.7 811.5h0.8M376.0 805.5h0.8M367.8 791.7h0.8M371.8 802.6h0.8M371.7 797.1h0.8M374.4 798.3h0.8M386.3 789.9h0.8M353.6 802.8h0.8M376.1 790.6h0.8M373.3 802.0h0.8M376.7 800.6h0.8M366.8 792.8h0.8M382.3 795.9h0.8M361.2 810.4h0.8M380.4 782.8h0.8M397.1 795.9h0.8M359.0 807.6h0.8M376.6 805.8h0.8M373.8 790.3h0.8M372.1 797.4h0.8M376.3 798.0h0.8M378.7 791.8h0.8M368.7 797.6h0.8M377.4 789.4h0.8M373.6 812.7h0.8M357.3 808.3h0.8M374.5 804.8h0.8M374.1 800.9h0.8M377.0 801.4h0.8M362.7 800.9h0.8M390.2 804.2h0.8M365.9 795.8h0.8M372.1 805.7h0.8M382.0 794.7h0.8M352.0 803.3h0.8M358.5 809.0h0.8M387.1 800.7h0.8M379.0 801.6h0.8M390.4 802.3h0.8M386.8 790.7h0.8M368.9 800.4h0.8M353.4 801.8h0.8M373.4 799.2h0.8M396.6 794.0h0.8M371.8 799.2h0.8M370.5 792.3h0.8M383.8 797.7h0.8M376.9 799.1h0.8M366.5 792.0h0.8M371.0 803.0h0.8M372.5 803.8h0.8M366.4 799.3h0.8M375.0 798.7h0.8M375.2 807.1h0.8M369.8 801.0h0.8M367.7 803.6h0.8M375.6 795.1h0.8M364.4 794.6h0.8M371.0 800.8h0.8M369.1 799.7h0.8M374.8 812.3h0.8M384.3 810.3h0.8M374.8 800.5h0.8M391.3 798.3h0.8M379.5 795.6h0.8M368.6 804.7h0.8M368.1 796.9h0.8M360.0 803.7h0.8M372.7 802.7h0.8M365.7 794.2h0.8M383.6 797.7h0.8M380.8 791.8h0.8M361.8 787.8h0.8M376.3 804.5h0.8M385.7 807.0h0.8M357.0 796.6h0.8M368.8 796.0h0.8M371.7 795.4h0.8M360.2 801.8h0.8M374.7 795.0h0.8M373.9 792.3h0.8M370.6 798.2h0.8M369.4 799.9h0.8M362.0 794.3h0.8M366.0 805.0h0.8M364.9 796.0h0.8M391.6 794.7h0.8M370.1 795.3h0.8M387.0 799.9h0.8M376.0 807.9h0.8M362.7 792.3h0.8M383.7 800.0h0.8M368.9 804.8h0.8M372.7 810.5h0.8M362.0 803.7h0.8M382.5 802.7h0.8M370.3 797.9h0.8M369.6 804.1h0.8M369.9 799.4h0.8M382.9 797.1h0.8M375.8 798.4h0.8M373.6 787.2h0.8M365.0 803.2h0.8M367.7 797.2h0.8M374.0 812.1h0.8M366.6 795.5h0.8M357.1 805.2h0.8M373.0 795.0h0.8M369.8 805.6h0.8M382.8 799.8h0.8M384.1 803.1h0.8M369.3 804.7h0.8M375.0 803.5h0.8M376.1 810.8h0.8M362.1 803.7h0.8M363.6 814.2h0.8M368.8 798.4h0.8M373.3 799.3h0.8M389.1 796.3h0.8M375.8 805.0h0.8M387.3 791.6h0.8M376.3 791.6h0.8M378.0 806.5h0.8M368.7 798.9h0.8M384.4 799.9h0.8M380.9 795.6h0.8M370.6 798.0h0.8M387.9 788.5h0.8M368.8 809.1h0.8M372.9 793.6h0.8M375.7 797.9h0.8M372.4 802.5h0.8M380.7 789.8h0.8M375.4 807.5h0.8M361.3 801.3h0.8M362.9 805.2h0.8M365.8 799.1h0.8M369.7 802.8h0.8M361.6 794.0h0.8M375.2 806.7h0.8M368.9 802.7h0.8M375.9 799.6h0.8M373.3 796.5h0.8M371.3 806.6h0.8M377.6 805.9h0.8M366.9 801.4h0.8M367.6 793.2h0.8M381.7 796.4h0.8M375.7 791.2h0.8M371.2 799.3h0.8M370.0 805.8h0.8M377.7 799.5h0.8M375.6 796.6h0.8M367.0 799.2h0.8M364.2 800.3h0.8M372.5 806.0h0.8M369.5 813.8h0.8M368.7 801.1h0.8M373.2 796.1h0.8M372.9 789.7h0.8M383.7 794.3h0.8M373.2 789.4h0.8M378.7 791.4h0.8M385.9 791.3h0.8M366.8 804.5h0.8M385.2 786.2h0.8M358.1 811.5h0.8M377.5 790.2h0.8M369.5 804.2h0.8M369.9 808.6h0.8M367.0 801.7h0.8M384.0 805.8h0.8M375.6 802.4h0.8M370.4 799.7h0.8M368.2 802.7h0.8M381.2 792.4h0.8M362.9 801.8h0.8M391.7 797.3h0.8M374.7 799.0h0.8M358.2 798.4h0.8M387.2 785.1h0.8M389.8 789.7h0.8M392.0 810.7h0.8M387.1 796.1h0.8M378.8 795.4h0.8M369.4 801.4h0.8M344.8 808.1h0.8M370.6 794.0h0.8M370.9 803.6h0.8M366.4 802.9h0.8M361.2 802.4h0.8M363.0 805.8h0.8M364.0 804.8h0.8M355.3 803.9h0.8M383.5 793.0h0.8M374.0 794.6h0.8M377.8 802.9h0.8M383.9 805.0h0.8M385.3 793.2h0.8M374.5 802.3h0.8M375.2 791.8h0.8M391.9 810.4h0.8M374.0 784.7h0.8M390.1 795.3h0.8M394.1 789.7h0.8M378.2 803.1h0.8M360.4 800.1h0.8M377.9 802.4h0.8M377.0 784.1h0.8M351.7 805.7h0.8M388.0 788.1h0.8M377.0 804.1h0.8M364.6 792.2h0.8M375.9 796.5h0.8M372.6 798.5h0.8M372.4 801.5h0.8M368.6 800.2h0.8M368.3 795.6h0.8M376.6 794.2h0.8M378.3 798.4h0.8M383.3 801.0h0.8M355.2 802.8h0.8M379.4 799.0h0.8M373.8 805.5h0.8M379.6 790.7h0.8M374.3 805.0h0.8M374.8 792.0h0.8M380.5 801.6h0.8M383.9 798.5h0.8M374.5 804.1h0.8M363.4 811.1h0.8M377.1 800.1h0.8M380.3 802.7h0.8M353.4 808.6h0.8M372.4 795.2h0.8M381.6 803.3h0.8M376.9 795.3h0.8M374.4 793.9h0.8M396.4 791.4h0.8M381.4 807.2h0.8M365.6 797.9h0.8M353.0 802.0h0.8M361.4 802.7h0.8M371.4 799.9h0.8M373.8 796.8h0.8M374.4 798.9h0.8M366.9 798.9h0.8M368.2 793.1h0.8M373.2 789.0h0.8M378.2 798.4h0.8M374.9 805.8h0.8M382.1 795.4h0.8M376.6 805.7h0.8M372.0 801.9h0.8M377.2 792.9h0.8M376.0 796.8h0.8M371.0 802.4h0.8M379.4 793.3h0.8M371.1 798.8h0.8M364.8 803.2h0.8M371.6 795.8h0.8M382.0 797.4h0.8M362.9 801.0h0.8" stroke="#777" stroke-width="0.8" stroke-opacity="0.6" fill="none"/>
<path d="M376.5 802.6h0.7M413.9 799.0h0.7M401.4 795.4h0.7M386.5 802.7h0.7M377.7 802.1h0.7M372.4 806.3h0.7M365.4 815.0h0.7M377.4 803.0h0.7M381.6 787.4h0.7M385.9 792.3h0.7M382.4 796.4h0.7M375.2 789.1h0.7M359.3 798.8h0.7M363.0 804.3h0.7M357.9 804.9h0.7M387.8 793.1h0.7M364.6 799.6h0.7M391.4 808.7h0.7M412.3 795.7h0.7M388.8 800.0h0.7M379.0 791.9h0.7M373.9 809.3h0.7M400.5 792.2h0.7M354.5 818.0h0.7M379.8 803.4h0.7M376.7 786.7h0.7M384.1 792.0h0.7M374.9 795.9h0.7M375.3 818.8h0.7M402.4 781.8h0.7M355.7 799.7h0.7M369.1 807.4h0.7M403.3 790.9h0.7M388.0 797.1h0.7M349.0 813.4h0.7M406.0 789.8h0.7M389.0 794.7h0.7M377.8 796.7h0.7M377.2 800.7h0.7M369.9 803.5h0.7M359.4 809.1h0.7M364.7 788.1h0.7M392.0 795.5h0.7M371.2 808.1h0.7M378.8 814.8h0.7M385.8 788.2h0.7M371.6 796.1h0.7M374.9 813.4h0.7M386.2 803.1h0.7M381.9 782.9h0.7M400.6 811.9h0.7M371.3 801.0h0.7M368.4 800.1h0.7M366.0 793.4h0.7M397.8 782.5h0.7M395.1 789.0h0.7M375.4 785.4h0.7M389.3 790.9h0.7M383.1 804.4h0.7M364.4 796.0h0.7M362.9 806.7h0.7M383.9 807.0h0.7M357.3 796.3h0.7M377.5 796.9h0.7M384.1 807.8h0.7M381.3 793.7h0.7M378.7 794.6h0.7M369.3 815.6h0.7M389.7 812.3h0.7M376.1 800.0h0.7M359.9 804.7h0.7M390.5 803.6h0.7M361.5 803.5h0.7M393.5 794.3h0.7M390.1 794.6h0.7M379.3 795.6h0.7M356.6 797.1h0.7M382.0 797.4h0.7M379.2 795.6h0.7M392.9 796.6h0.7M385.3 795.5h0.7M399.3 796.2h0.7M386.0 815.7h0.7M385.9 787.2h0.7M369.1 804.0h0.7M359.2 791.9h0.7M377.5 788.3h0.7M396.0 800.8h0.7M374.5 809.9h0.7M368.9 792.6h0.7M393.2 798.1h0.7M375.9 808.3h0.7M377.2 805.2h0.7M382.7 808.3h0.7M387.8 795.2h0.7M402.4 793.8h0.7M406.0 786.4h0.7M380.2 782.9h0.7M387.4 808.9h0.7M373.3 804.5h0.7M375.9 811.4h0.7M384.5 801.9h0.7M396.2 786.0h0.7M390.0 799.4h0.7M399.3 797.2h0.7M388.7 798.2h0.7M364.3 798.4h0.7M376.6 790.3h0.7M378.7 796.5h0.7M407.3 794.0h0.7M381.3 800.4h0.7M390.1 786.2h0.7" stroke="#888" stroke-width="0.7" stroke-opacity="0.5" fill="none"/>
<path d="M336.4 832.2h0.85M342.2 815.3h0.85M354.8 821.1h0.85M342.4 825.9h0.85M340.3 831.9h0.85M345.5 822.8h0.85M347.4 832.7h0.85M341.4 820.6h0.85M361.0 805.1h0.85M344.4 822.6h0.85M346.1 823.4h0.85M354.8 811.9h0.85M343.3 829.4h0.85M359.8 801.2h0.85M350.9 826.2h0.85M343.2 815.3h0.85M340.3 820.1h0.85M340.2 826.0h0.85M343.1 824.3h0.85M337.6 827.5h0.85M351.7 825.8h0.85M353.6 819.7h0.85M357.6 816.5h0.85M348.5 830.8h0.85M344.6 820.7h0.85M349.1 821.3h0.85M346.0 827.1h0.85M361.1 815.8h0.85M338.2 818.7h0.85M338.7 813.4h0.85M340.9 828.1h0.85M348.5 824.7h0.85M346.8 827.0h0.85M344.9 829.1h0.85M353.1 820.9h0.85M338.2 814.6h0.85M349.1 813.3h0.85M346.4 819.4h0.85M356.2 814.6h0.85M348.3 817.2h0.85M342.7 823.8h0.85M353.6 810.2h0.85M357.0 833.3h0.85M348.5 823.5h0.85M340.9 818.7h0.85M349.4 819.4h0.85M356.2 813.3h0.85M345.9 823.9h0.85M347.0 818.8h0.85M346.8 823.0h0.85M352.2 812.8h0.85M341.8 813.9h0.85M350.3 807.9h0.85M363.0 814.4h0.85M347.5 823.5h0.85M346.3 818.8h0.85M360.5 805.6h0.85M349.1 815.3h0.85M345.3 820.2h0.85M335.9 826.0h0.85M348.8 823.7h0.85M343.7 825.7h0.85M344.6 825.7h0.85M356.0 823.1h0.85M338.4 822.1h0.85M341.0 833.8h0.85M348.8 811.9h0.85M337.9 830.3h0.85M341.2 823.9h0.85M345.4 819.7h0.85M344.7 820.8h0.85M357.7 813.1h0.85M350.8 822.9h0.85M343.3 813.9h0.85M341.9 824.9h0.85M348.5 826.8h0.85M349.8 820.7h0.85M347.6 821.8h0.85M347.8 824.6h0.85M342.1 828.0h0.85M357.8 818.2h0.85M351.1 812.2h0.85M348.2 811.0h0.85M353.8 819.7h0.85M354.3 826.5h0.85M342.9 826.2h0.85M357.3 833.1h0.85M346.9 823.9h0.85M343.5 825.0h0.85M351.3 829.1h0.85M346.6 820.9h0.85M350.7 818.8h0.85M360.6 804.1h0.85M336.7 818.7h0.85M351.9 819.8h0.85M350.2 810.2h0.85M351.3 823.2h0.85M357.9 824.1h0.85M343.6 816.2h0.85M340.4 818.3h0.85M346.9 828.5h0.85M358.0 819.2h0.85M351.3 818.7h0.85M339.4 825.0h0.85M342.9 810.7h0.85M342.2 830.7h0.85M340.2 830.1h0.85M338.9 821.2h0.85M350.7 817.3h0.85M341.4 821.3h0.85M358.1 823.0h0.85M348.8 823.8h0.85M355.0 827.7h0.85M345.8 815.0h0.85M341.3 821.7h0.85M345.7 820.7h0.85M343.1 830.1h0.85M342.1 816.1h0.85M340.1 814.5h0.85M337.2 816.6h0.85M346.0 825.0h0.85M336.2 824.8h0.85M346.8 820.4h0.85M333.8 825.5h0.85M351.8 827.0h0.85M345.7 828.5h0.85M348.0 814.4h0.85M350.9 826.1h0.85M349.0 819.9h0.85M346.0 824.8h0.85M336.1 824.0h0.85M339.4 818.2h0.85M348.8 828.0h0.85M347.5 814.4h0.85M364.8 819.8h0.85M342.9 817.2h0.85M354.2 832.9h0.85M348.2 811.7h0.85M353.1 820.1h0.85M344.9 822.0h0.85M340.2 822.7h0.85M349.8 827.6h0.85M360.3 814.4h0.85M349.9 814.9h0.85M348.3 827.6h0.85M351.7 817.8h0.85M359.0 824.3h0.85M355.4 819.7h0.85M356.1 818.1h0.85M353.1 819.8h0.85M347.5 810.5h0.85M353.8 823.1h0.85M343.6 821.4h0.85M351.4 823.8h0.85M334.3 831.8h0.85M341.0 833.5h0.85M354.8 820.1h0.85M348.9 822.0h0.85M344.9 830.4h0.85M343.2 817.6h0.85M346.1 810.4h0.85M354.2 811.8h0.85M357.2 824.9h0.85M360.5 814.6h0.85M345.6 817.8h0.85M352.6 813.9h0.85M345.5 805.9h0.85M347.8 821.6h0.85M360.3 813.1h0.85M353.8 823.1h0.85M353.2 812.4h0.85M353.8 820.5h0.85M356.9 832.8h0.85M343.1 818.4h0.85M357.4 808.2h0.85M349.7 829.7h0.85M352.3 819.4h0.85M343.9 809.1h0.85M350.9 815.9h0.85M345.1 822.8h0.85M334.4 821.8h0.85M343.5 833.8h0.85M346.8 827.7h0.85M341.2 811.1h0.85M353.3 817.2h0.85M338.9 828.6h0.85M350.8 808.8h0.85M346.1 833.5h0.85M348.3 811.5h0.85M342.1 830.1h0.85M357.3 823.3h0.85M337.8 827.2h0.85M342.2 817.9h0.85M344.3 827.8h0.85M350.9 823.6h0.85M344.7 817.4h0.85M354.6 815.3h0.85M345.7 824.2h0.85M346.4 826.9h0.85M351.2 824.0h0.85M362.6 814.6h0.85M361.2 809.9h0.85M342.4 804.9h0.85M343.2 815.8h0.85M352.2 827.9h0.85M362.7 814.6h0.85M354.5 818.1h0.85M335.5 794.9h0.85M345.2 808.0h0.85M353.2 813.4h0.85M351.8 815.3h0.85M350.7 813.6h0.85M350.2 831.8h0.85M350.0 811.0h0.85M342.4 822.0h0.85M352.9 811.4h0.85M341.6 810.6h0.85M359.1 820.5h0.85M349.7 817.1h0.85M360.1 822.2h0.85M346.9 828.4h0.85M351.4 817.9h0.85M345.2 820.7h0.85M356.6 809.6h0.85M336.7 826.4h0.85M354.5 828.9h0.85M351.3 809.9h0.85M352.9 820.6h0.85M341.0 810.8h0.85M337.5 822.3h0.85M339.1 823.9h0.85M346.5 824.7h0.85M353.3 813.4h0.85M345.1 825.6h0.85M343.4 827.7h0.85M351.5 825.7h0.85M343.6 826.1h0.85M346.2 822.0h0.85M351.7 816.0h0.85M347.3 804.6h0.85M343.0 825.1h0.85M340.5 807.4h0.85M338.2 819.7h0.85M351.9 823.2h0.85M338.3 824.4h0.85M339.6 828.7h0.85M350.1 815.7h0.85M344.5 820.2h0.85M343.8 828.6h0.85M349.5 816.2h0.85M350.5 810.7h0.85M348.6 818.0h0.85M343.8 820.5h0.85M349.0 810.4h0.85M352.7 815.6h0.85M349.9 830.9h0.85M340.5 832.3h0.85M345.3 833.2h0.85M342.2 828.0h0.85M343.9 829.2h0.85M353.3 821.7h0.85M342.2 828.0h0.85M350.0 812.7h0.85M351.2 818.6h0.85M346.8 813.9h0.85M348.9 825.8h0.85M342.1 826.5h0.85M335.8 822.8h0.85M349.3 813.7h0.85M348.6 811.4h0.85M359.6 821.1h0.85M354.6 813.0h0.85M333.1 821.9h0.85M356.1 817.9h0.85M355.0 821.8h0.85M349.7 827.0h0.85M343.8 818.1h0.85M354.6 822.3h0.85M344.1 813.6h0.85M357.0 797.3h0.85M353.4 818.4h0.85M339.3 824.2h0.85M349.4 803.3h0.85M341.6 826.2h0.85M344.5 820.4h0.85M347.0 829.9h0.85M349.6 818.9h0.85M343.5 827.6h0.85M343.1 823.7h0.85M350.2 824.9h0.85M352.5 821.4h0.85M360.0 823.6h0.85M342.8 815.0h0.85M343.1 829.8h0.85M340.6 831.8h0.85M350.2 816.0h0.85M341.3 820.6h0.85M352.3 819.1h0.85M352.1 820.7h0.85M356.1 815.8h0.85M346.7 812.9h0.85M345.5 814.0h0.85M338.0 820.2h0.85M351.8 804.7h0.85M339.6 812.2h0.85M349.8 823.7h0.85M349.6 818.7h0.85M342.7 822.2h0.85M342.1 819.6h0.85M350.0 818.2h0.85M355.0 804.7h0.85M337.6 828.4h0.85M344.0 817.7h0.85M344.1 820.4h0.85M346.6 822.8h0.85M353.3 831.7h0.85M334.3 821.5h0.85M342.0 822.5h0.85M341.3 821.7h0.85M349.3 819.8h0.85M349.0 824.4h0.85M341.0 820.9h0.85M354.1 825.5h0.85M353.6 813.8h0.85M343.4 827.4h0.85M347.5 822.2h0.85M345.3 826.7h0.85M348.6 813.5h0.85M349.8 817.6h0.85M345.9 824.3h0.85M348.4 816.3h0.85M340.3 818.4h0.85M346.7 812.5h0.85M343.6 821.3h0.85M339.9 819.3h0.85M349.1 821.1h0.85M337.0 822.1h0.85M341.5 828.4h0.85M346.9 830.9h0.85M349.8 812.2h0.85M353.4 816.2h0.85M346.8 821.0h0.85M339.5 829.3h0.85M348.5 813.3h0.85M339.0 824.6h0.85M355.0 821.8h0.85M349.5 817.2h0.85M354.3 822.9h0.85M342.6 817.0h0.85M334.1 829.9h0.85M366.1 816.7h0.85M350.2 824.9h0.85M346.2 834.7h0.85M341.2 815.7h0.85M357.5 824.8h0.85M352.2 818.9h0.85M347.2 821.3h0.85M350.2 815.9h0.85M354.0 830.9h0.85M344.2 814.5h0.85M341.6 830.1h0.85M343.3 815.9h0.85M354.2 818.2h0.85M347.3 825.0h0.85M354.5 820.8h0.85M357.2 814.4h0.85M344.3 825.3h0.85M351.6 808.3h0.85M345.6 825.2h0.85M346.5 832.3h0.85M337.7 823.1h0.85M342.3 810.6h0.85M346.1 820.1h0.85M344.9 816.5h0.85M352.8 812.7h0.85M343.7 811.7h0.85M354.7 809.6h0.85M358.2 812.7h0.85M347.2 831.1h0.85M340.9 830.0h0.85M339.4 818.5h0.85M351.0 822.1h0.85M349.6 822.1h0.85M357.3 808.3h0.85M343.2 826.8h0.85M338.4 817.2h0.85M362.7 827.0h0.85M350.7 820.4h0.85M346.5 814.7h0.85M342.1 814.7h0.85M339.6 822.4h0.85M350.2 813.8h0.85M348.4 811.5h0.85M349.8 817.9h0.85M347.1 821.7h0.85M355.6 820.6h0.85M343.5 822.0h0.85M350.0 823.5h0.85M354.1 814.0h0.85M340.1 825.6h0.85M340.5 824.4h0.85M364.5 826.1h0.85M338.4 816.3h0.85M350.0 818.2h0.85M351.9 821.4h0.85M349.6 823.8h0.85M337.8 829.4h0.85M338.7 815.9h0.85M350.0 817.6h0.85M340.1 807.2h0.85M351.0 812.3h0.85M345.2 822.4h0.85M347.1 823.2h0.85M357.9 823.6h0.85M341.2 821.1h0.85M346.1 815.0h0.85M351.6 817.3h0.85M349.0 824.4h0.85M360.6 814.4h0.85M352.0 833.9h0.85M357.5 820.9h0.85M342.9 822.2h0.85M343.6 818.2h0.85M336.7 820.2h0.85M335.0 828.8h0.85M350.8 817.3h0.85M347.7 821.2h0.85M345.9 822.6h0.85M346.4 823.6h0.85M342.4 821.7h0.85M358.0 813.5h0.85M342.5 827.4h0.85M349.5 821.2h0.85M348.7 817.6h0.85M344.2 824.3h0.85M348.6 824.6h0.85M350.4 834.8h0.85M348.1 829.7h0.85M353.7 814.6h0.85M357.5 815.3h0.85M353.9 814.5h0.85M349.8 821.2h0.85M356.5 805.0h0.85M335.5 828.8h0.85M352.3 816.4h0.85M348.2 808.9h0.85M345.2 816.5h0.85M353.1 821.3h0.85M346.6 828.3h0.85M343.5 826.2h0.85M346.1 823.8h0.85M345.7 830.1h0.85M344.8 834.3h0.85M352.6 814.3h0.85M344.8 829.8h0.85M356.8 811.2h0.85M348.6 824.5h0.85M362.5 822.7h0.85M346.3 826.9h0.85M348.1 814.8h0.85M347.3 819.2h0.85M346.2 821.3h0.85M349.8 815.1h0.85M351.8 809.6h0.85M351.8 823.2h0.85M350.2 810.4h0.85M344.4 822.4h0.85M350.5 825.1h0.85M337.9 822.2h0.85M354.4 811.9h0.85M339.9 818.7h0.85M345.9 819.2h0.85M355.5 821.3h0.85M335.5 827.6h0.85M348.2 826.2h0.85M347.4 829.8h0.85M348.5 817.3h0.85M340.0 827.9h0.85M346.7 809.3h0.85M352.9 828.4h0.85M334.4 826.4h0.85M351.7 831.4h0.85M355.3 814.6h0.85M350.4 825.1h0.85M338.3 831.6h0.85M350.7 825.8h0.85M342.0 827.0h0.85M347.3 818.7h0.85M347.8 822.9h0.85M338.0 822.2h0.85M349.9 809.7h0.85M351.8 820.1h0.85M341.0 814.4h0.85M339.8 827.7h0.85M342.0 822.8h0.85M344.8 827.1h0.85M355.6 825.6h0.85M351.8 827.2h0.85M358.4 813.4h0.85M349.2 816.2h0.85M347.9 819.3h0.85M348.3 825.4h0.85M339.3 804.9h0.85M349.3 827.5h0.85M345.1 830.9h0.85M361.8 819.1h0.85M346.2 824.4h0.85M352.4 810.2h0.85M350.7 806.8h0.85M340.8 823.3h0.85M349.5 812.6h0.85M347.9 829.2h0.85M337.2 826.1h0.85M355.6 810.7h0.85M355.1 822.6h0.85M345.6 821.2h0.85M347.3 821.1h0.85M346.3 816.1h0.85M353.3 831.2h0.85M346.3 830.3h0.85M342.7 813.1h0.85M351.6 821.8h0.85M350.4 814.1h0.85M345.0 827.9h0.85M357.6 821.0h0.85M350.0 803.1h0.85M343.4 830.1h0.85M359.6 813.6h0.85M339.3 819.3h0.85M343.7 819.0h0.85M341.4 826.1h0.85M349.4 811.9h0.85M351.1 821.7h0.85M341.0 822.6h0.85M349.6 815.7h0.85M348.3 817.7h0.85M334.5 813.7h0.85M343.6 817.9h0.85M350.3 831.4h0.85M344.8 822.0h0.85M346.1 809.9h0.85M347.0 819.5h0.85M342.2 826.6h0.85M350.0 818.4h0.85M341.9 823.7h0.85M342.4 816.0h0.85M344.3 827.6h0.85M345.7 820.1h0.85M345.4 825.1h0.85M346.4 826.5h0.85M346.5 826.6h0.85M345.6 816.2h0.85M350.0 819.1h0.85M344.6 830.8h0.85M344.3 816.2h0.85M345.3 830.7h0.85M339.0 829.9h0.85M350.7 817.8h0.85M345.3 816.4h0.85M334.6 816.7h0.85M338.6 811.6h0.85M344.6 825.2h0.85M341.5 819.6h0.85M342.5 820.3h0.85M349.9 828.6h0.85M351.1 822.8h0.85M356.0 824.4h0.85M350.4 824.2h0.85M352.5 813.3h0.85M341.7 822.4h0.85M336.1 820.8h0.85M345.2 823.4h0.85M351.6 829.0h0.85M349.4 830.2h0.85M343.4 824.3h0.85M346.3 814.9h0.85M348.8 827.1h0.85M345.0 821.9h0.85M354.1 818.7h0.85M345.3 823.2h0.85M350.0 823.2h0.85M355.0 822.7h0.85M339.7 811.4h0.85M346.6 832.2h0.85M347.5 818.1h0.85M348.9 824.2h0.85M355.0 811.3h0.85M352.0 821.5h0.85M352.4 827.4h0.85M333.2 829.2h0.85M350.3 815.3h0.85M346.4 828.1h0.85M337.8 828.2h0.85M352.2 831.9h0.85M341.9 817.7h0.85M353.5 818.2h0.85M349.7 803.3h0.85M362.2 806.4h0.85M336.8 825.9h0.85M350.3 815.1h0.85M333.3 826.7h0.85M348.6 814.7h0.85M348.0 817.0h0.85M340.7 826.6h0.85M347.2 821.2h0.85M339.4 817.5h0.85M345.4 817.3h0.85M349.3 820.9h0.85M345.7 820.1h0.85M349.7 827.3h0.85M340.4 828.3h0.85M352.8 825.4h0.85M343.7 822.9h0.85M360.4 810.2h0.85M352.4 818.5h0.85M357.6 820.3h0.85M352.5 816.0h0.85M344.0 832.1h0.85M339.1 818.7h0.85M345.6 812.9h0.85M351.1 812.2h0.85M347.4 819.4h0.85M333.3 824.1h0.85M337.4 822.6h0.85M352.3 822.0h0.85M354.2 830.7h0.85M351.8 819.0h0.85M346.4 825.3h0.85M339.3 815.2h0.85M347.1 832.6h0.85M340.1 823.7h0.85M342.7 826.4h0.85M349.3 820.4h0.85M352.8 818.4h0.85M346.4 823.1h0.85M352.1 814.8h0.85M344.2 816.4h0.85M350.7 823.1h0.85M348.4 812.1h0.85M342.0 812.1h0.85M338.5 817.3h0.85M349.0 824.0h0.85M335.8 826.9h0.85M349.4 831.2h0.85M352.5 810.1h0.85M350.2 822.1h0.85M349.2 815.8h0.85M356.1 820.2h0.85M343.5 809.4h0.85M345.5 812.0h0.85M337.9 833.2h0.85M346.7 827.5h0.85M354.1 824.8h0.85M344.4 813.5h0.85M346.1 821.9h0.85M346.2 819.1h0.85M348.0 811.2h0.85M353.8 812.0h0.85M347.9 815.0h0.85M355.7 815.9h0.85M341.3 819.3h0.85M352.7 811.8h0.85M338.9 818.6h0.85M351.9 800.5h0.85M346.0 827.3h0.85M346.3 808.6h0.85M344.4 825.5h0.85M340.1 820.0h0.85M342.9 824.2h0.85M362.8 819.1h0.85M338.9 833.3h0.85M345.3 818.4h0.85M350.3 825.6h0.85M348.5 823.0h0.85M348.3 812.6h0.85M352.1 826.0h0.85M342.2 809.9h0.85M343.3 822.7h0.85M356.1 821.1h0.85M347.5 822.5h0.85M337.5 819.9h0.85M348.0 825.4h0.85M352.3 831.2h0.85M342.8 818.6h0.85M344.3 824.7h0.85M359.8 820.2h0.85M348.2 814.6h0.85M339.0 834.1h0.85M346.6 830.5h0.85M352.4 816.8h0.85M348.7 814.5h0.85M351.2 819.3h0.85M352.1 828.6h0.85M343.4 826.9h0.85M349.9 816.9h0.85M348.9 829.0h0.85M348.2 827.3h0.85M349.4 829.1h0.85M346.3 818.8h0.85M351.2 804.8h0.85M343.9 831.7h0.85M342.4 834.1h0.85M357.4 816.0h0.85M342.4 824.3h0.85M352.9 831.8h0.85M356.9 814.6h0.85M352.7 816.6h0.85M354.1 823.0h0.85M356.4 818.9h0.85M352.5 811.5h0.85M341.0 825.2h0.85M347.9 826.7h0.85M361.9 814.5h0.85M339.6 814.8h0.85M343.3 829.3h0.85M349.6 818.5h0.85M351.5 819.1h0.85M348.9 820.5h0.85M338.6 827.7h0.85M347.9 816.7h0.85M348.4 815.7h0.85M347.0 818.3h0.85M349.4 814.3h0.85M346.6 818.1h0.85M341.0 821.3h0.85M351.7 825.1h0.85M349.3 819.7h0.85M353.4 818.0h0.85M351.6 808.4h0.85M339.6 817.0h0.85M354.5 817.9h0.85M350.2 812.9h0.85M357.9 831.2h0.85M347.3 816.3h0.85M348.9 818.9h0.85M344.3 804.4h0.85M348.7 805.6h0.85M344.0 810.9h0.85M360.1 810.1h0.85M344.7 823.7h0.85M345.3 822.7h0.85M353.3 815.5h0.85M350.6 819.4h0.85M338.8 824.0h0.85M340.4 828.8h0.85M347.4 821.9h0.85M353.7 814.1h0.85M342.2 831.3h0.85M352.0 823.0h0.85M334.5 822.8h0.85M341.2 817.5h0.85M336.8 811.1h0.85M344.5 823.7h0.85M344.1 820.0h0.85M347.8 829.8h0.85M343.6 822.1h0.85M365.2 817.8h0.85M352.7 811.8h0.85M340.5 818.7h0.85M367.3 813.4h0.85M356.5 815.9h0.85M339.2 809.1h0.85M348.4 827.7h0.85M342.2 818.7h0.85M340.1 816.8h0.85M354.0 816.0h0.85M340.5 825.9h0.85M349.1 820.1h0.85M360.8 820.7h0.85M355.0 811.1h0.85M346.9 829.4h0.85M352.3 826.2h0.85M337.7 820.2h0.85M358.4 829.0h0.85M356.4 824.7h0.85M356.2 800.2h0.85M348.0 826.0h0.85M355.5 812.8h0.85M354.4 825.0h0.85M344.0 832.0h0.85M355.8 825.5h0.85M344.4 823.0h0.85M347.2 832.0h0.85M363.7 812.3h0.85M360.7 821.6h0.85M342.9 816.3h0.85M357.7 821.3h0.85M343.0 820.0h0.85M344.9 820.1h0.85M359.5 814.1h0.85M345.3 800.2h0.85M350.8 826.6h0.85M361.2 814.3h0.85M345.5 818.2h0.85M339.1 821.8h0.85M342.2 819.8h0.85M348.5 825.6h0.85M349.7 823.8h0.85M350.9 819.4h0.85M353.9 820.7h0.85M338.4 818.3h0.85M357.4 808.1h0.85M359.3 819.6h0.85M349.2 828.8h0.85M349.0 817.1h0.85M332.8 818.6h0.85M339.6 826.5h0.85M348.2 814.0h0.85M355.4 825.4h0.85M362.5 820.1h0.85M339.2 822.5h0.85M352.6 825.8h0.85M338.6 825.1h0.85M352.0 822.6h0.85M336.5 819.1h0.85M346.7 819.1h0.85M353.7 817.0h0.85M335.1 807.9h0.85M350.7 814.5h0.85M347.2 828.1h0.85M344.0 820.8h0.85M337.7 813.8h0.85M351.5 827.8h0.85M343.1 819.9h0.85M349.7 817.2h0.85M348.0 817.7h0.85M351.6 816.4h0.85M344.3 811.7h0.85M342.3 811.1h0.85M346.6 827.4h0.85M338.8 816.0h0.85M342.3 824.4h0.85M345.4 818.6h0.85M341.0 819.6h0.85M345.1 815.3h0.85M357.1 822.4h0.85M346.4 822.7h0.85M363.0 822.3h0.85M343.9 820.8h0.85M355.3 822.4h0.85M345.6 821.4h0.85M339.9 819.4h0.85M344.7 819.2h0.85M356.7 819.3h0.85M355.4 819.2h0.85M337.3 830.2h0.85M343.8 820.2h0.85M355.0 828.7h0.85M348.6 828.8h0.85M344.2 825.3h0.85M341.4 828.0h0.85M343.7 825.4h0.85M339.4 831.4h0.85M358.5 817.0h0.85M347.9 813.9h0.85M346.2 810.8h0.85M352.4 819.2h0.85M355.4 819.2h0.85M346.0 815.0h0.85M351.8 818.9h0.85M339.4 811.6h0.85M354.0 818.7h0.85M347.0 816.8h0.85M343.9 820.8h0.85M348.8 812.1h0.85M364.3 824.0h0.85M334.6 822.8h0.85M355.1 814.9h0.85M338.3 825.4h0.85M343.3 821.0h0.85M358.7 818.7h0.85M356.5 813.8h0.85M335.2 819.6h0.85M344.9 825.3h0.85M350.5 806.6h0.85M339.9 818.6h0.85M342.6 816.8h0.85M345.3 821.8h0.85M337.3 815.7h0.85M341.3 829.3h0.85M346.3 810.6h0.85M350.8 826.1h0.85M336.6 813.8h0.85M350.5 820.2h0.85M351.6 830.5h0.85M352.0 826.4h0.85M344.2 830.3h0.85M342.8 823.3h0.85M333.8 819.7h0.85M352.8 813.4h0.85M344.3 806.3h0.85M345.2 811.9h0.85M347.9 817.1h0.85M342.9 818.8h0.85M344.7 820.7h0.85M345.7 828.2h0.85M354.7 802.5h0.85M356.6 817.5h0.85M349.9 813.9h0.85M351.6 823.5h0.85M343.7 813.4h0.85M351.0 822.7h0.85M341.4 806.9h0.85M340.0 824.1h0.85M356.1 812.5h0.85M343.7 813.6h0.85M349.9 814.7h0.85M358.9 822.5h0.85M346.2 817.8h0.85M354.4 816.6h0.85M344.9 821.4h0.85M354.6 828.7h0.85M345.2 812.5h0.85M341.4 820.1h0.85M351.9 802.1h0.85M351.9 822.3h0.85M348.9 810.2h0.85M348.2 816.7h0.85M341.2 825.2h0.85M356.0 820.2h0.85M351.5 826.3h0.85M347.8 817.4h0.85M357.6 814.6h0.85M345.6 822.8h0.85M344.8 814.3h0.85M354.9 819.0h0.85M343.0 817.1h0.85M351.6 825.1h0.85M349.0 827.7h0.85M347.6 830.8h0.85M353.7 811.7h0.85M347.0 822.5h0.85M347.5 813.7h0.85M350.8 819.3h0.85M337.7 813.2h0.85M345.1 826.7h0.85M347.4 821.5h0.85M354.0 817.8h0.85M347.8 819.7h0.85M353.7 815.0h0.85M350.2 815.0h0.85M348.3 827.4h0.85M342.5 824.2h0.85M348.2 821.6h0.85M351.2 820.2h0.85M351.0 831.6h0.85M343.2 813.8h0.85M352.6 822.0h0.85M360.8 814.1h0.85M352.5 815.9h0.85M344.5 816.7h0.85M342.4 814.8h0.85M345.6 819.5h0.85M348.1 825.5h0.85M341.8 820.5h0.85M342.0 826.5h0.85M341.8 818.8h0.85M342.6 828.0h0.85M339.9 813.9h0.85M345.2 818.2h0.85M341.7 828.5h0.85M344.2 807.0h0.85M346.5 811.7h0.85M343.5 817.6h0.85M341.9 818.3h0.85M345.2 824.6h0.85M364.1 813.2h0.85M344.8 828.1h0.85M358.8 823.7h0.85M346.1 833.2h0.85M348.3 828.0h0.85M344.2 812.6h0.85M356.4 813.1h0.85M341.0 822.1h0.85M341.7 825.5h0.85M348.2 818.8h0.85M344.1 830.3h0.85M356.7 826.3h0.85M339.3 832.3h0.85M348.4 831.3h0.85M351.2 815.2h0.85M337.0 817.4h0.85M355.6 816.1h0.85M358.4 810.2h0.85M351.9 818.8h0.85M338.7 824.1h0.85M345.2 818.7h0.85M334.3 815.6h0.85M343.5 819.9h0.85M342.4 834.4h0.85M345.1 822.0h0.85M345.6 828.9h0.85M351.4 826.2h0.85M337.8 822.8h0.85M346.8 824.6h0.85M343.4 821.8h0.85M341.4 818.8h0.85M350.0 816.6h0.85M342.3 820.1h0.85M349.8 822.6h0.85M340.1 818.5h0.85M340.2 814.7h0.85M363.1 825.9h0.85M352.2 817.7h0.85M353.2 829.6h0.85M355.6 823.8h0.85M352.6 825.2h0.85M349.9 822.4h0.85M345.1 809.4h0.85M350.7 824.2h0.85M347.5 825.3h0.85M346.7 819.8h0.85M351.7 808.4h0.85M356.7 816.4h0.85M351.2 823.7h0.85M358.0 829.8h0.85M339.2 815.2h0.85M348.7 809.3h0.85M351.6 818.9h0.85M342.5 826.6h0.85M341.5 816.3h0.85M347.5 826.0h0.85M346.3 818.2h0.85M348.8 817.6h0.85M335.5 828.1h0.85M350.7 827.1h0.85M348.3 823.3h0.85M336.7 812.9h0.85M335.0 829.9h0.85M343.0 829.7h0.85M350.3 816.9h0.85M346.8 815.1h0.85M344.6 822.9h0.85M351.9 816.4h0.85M337.2 829.3h0.85M340.3 826.1h0.85M337.6 815.8h0.85M334.5 826.5h0.85M359.6 819.3h0.85M334.1 820.8h0.85M349.1 822.5h0.85M348.4 813.5h0.85M345.4 833.1h0.85M343.8 818.2h0.85M339.6 817.4h0.85M355.2 821.5h0.85M344.0 818.4h0.85M352.6 815.7h0.85M342.1 819.0h0.85M342.1 826.1h0.85M347.2 827.0h0.85M350.9 818.4h0.85M349.3 806.3h0.85M339.9 807.9h0.85M349.5 810.3h0.85M337.2 824.3h0.85M351.4 818.3h0.85M356.8 820.5h0.85M360.5 823.9h0.85M360.7 800.8h0.85M352.2 824.7h0.85M357.0 822.8h0.85M349.9 822.0h0.85M348.6 823.9h0.85M357.7 808.1h0.85M344.4 811.1h0.85M343.4 822.7h0.85M348.5 822.7h0.85M352.0 822.5h0.85M345.1 819.8h0.85M340.3 818.4h0.85M346.6 822.9h0.85M336.9 829.2h0.85M346.8 810.2h0.85M346.2 824.3h0.85M347.9 817.5h0.85M341.4 822.7h0.85M348.3 822.1h0.85M344.7 828.8h0.85M335.4 822.1h0.85M336.6 809.1h0.85M348.4 825.7h0.85M345.3 823.5h0.85M346.0 828.1h0.85M343.3 824.4h0.85M349.3 809.6h0.85M354.8 815.4h0.85M339.8 817.1h0.85M352.7 816.8h0.85M352.2 813.4h0.85M348.8 808.8h0.85M345.3 829.1h0.85M343.7 822.0h0.85M335.4 833.0h0.85M345.7 823.5h0.85M344.6 813.9h0.85M344.8 818.5h0.85M340.4 820.3h0.85M340.8 818.1h0.85M349.1 821.5h0.85" stroke="#222" stroke-width="0.85" stroke-opacity="0.75" fill="none"/>
<path d="M351.3 813.6h0.8M368.6 808.6h0.8M354.5 809.0h0.8M356.4 814.0h0.8M333.8 831.2h0.8M361.9 811.3h0.8M348.1 810.5h0.8M346.7 821.9h0.8M347.4 799.2h0.8M351.4 804.0h0.8M355.1 810.6h0.8M345.9 800.2h0.8M350.4 800.8h0.8M351.6 811.7h0.8M349.8 812.1h0.8M349.8 823.4h0.8M337.7 805.8h0.8M363.2 798.0h0.8M358.8 806.8h0.8M353.3 799.2h0.8M349.7 809.8h0.8M334.5 815.1h0.8M349.3 793.9h0.8M354.6 806.9h0.8M339.9 822.2h0.8M352.1 801.6h0.8M345.4 814.2h0.8M348.3 816.6h0.8M342.2 814.8h0.8M357.1 812.8h0.8M346.0 804.6h0.8M343.1 813.3h0.8M350.7 819.7h0.8M350.3 820.7h0.8M350.8 818.2h0.8M361.8 809.8h0.8M342.1 816.0h0.8M354.4 807.3h0.8M351.1 815.7h0.8M335.0 818.9h0.8M367.1 801.1h0.8M363.7 803.6h0.8M350.4 808.0h0.8M352.8 804.2h0.8M347.8 809.6h0.8M345.0 811.6h0.8M361.9 801.3h0.8M354.7 803.8h0.8M343.0 812.5h0.8M350.5 818.0h0.8M359.1 809.0h0.8M347.4 821.6h0.8M341.6 807.2h0.8M359.3 811.3h0.8M358.4 806.8h0.8M359.3 817.0h0.8M336.3 818.3h0.8M361.4 799.9h0.8M344.7 814.8h0.8M358.4 808.3h0.8M338.8 815.3h0.8M352.1 807.3h0.8M361.9 791.5h0.8M353.9 805.1h0.8M358.0 806.2h0.8M367.9 807.3h0.8M348.3 798.9h0.8M350.6 810.2h0.8M366.6 809.0h0.8M354.6 802.6h0.8M354.8 802.2h0.8M340.8 816.4h0.8M349.1 800.9h0.8M362.9 816.4h0.8M356.9 796.5h0.8M345.7 804.5h0.8M355.2 834.7h0.8M360.9 806.9h0.8M345.7 801.4h0.8M346.7 812.8h0.8M350.9 814.2h0.8M357.6 800.1h0.8M360.2 808.1h0.8M366.9 805.1h0.8M349.9 809.8h0.8M363.7 810.9h0.8M363.2 814.9h0.8M355.9 826.4h0.8M352.3 808.3h0.8M362.7 798.6h0.8M355.8 816.5h0.8M345.4 797.7h0.8M340.8 821.5h0.8M374.7 797.4h0.8M341.8 803.4h0.8M366.7 811.9h0.8M359.0 802.8h0.8M358.9 802.7h0.8M358.1 802.8h0.8M342.2 809.4h0.8M356.7 811.3h0.8M348.4 817.9h0.8M339.3 798.8h0.8M358.4 807.2h0.8M352.8 806.4h0.8M357.8 810.2h0.8M365.2 799.5h0.8M342.3 811.7h0.8M351.0 808.1h0.8M334.5 817.5h0.8M367.9 808.5h0.8M364.0 811.3h0.8M355.6 812.1h0.8M362.8 810.6h0.8M359.0 807.7h0.8M346.8 814.1h0.8M349.8 814.9h0.8M333.9 828.1h0.8M364.8 818.0h0.8M356.8 800.9h0.8M349.9 801.9h0.8M357.0 808.9h0.8M354.8 795.5h0.8M340.4 796.7h0.8M365.7 810.1h0.8M353.9 806.9h0.8M337.8 811.0h0.8M349.8 804.3h0.8M362.2 792.2h0.8M354.9 815.3h0.8M360.6 796.5h0.8M366.0 805.1h0.8M351.2 812.8h0.8M363.0 808.0h0.8M350.5 812.0h0.8M356.9 824.1h0.8M353.8 802.7h0.8M370.4 816.4h0.8M366.6 799.1h0.8M348.4 800.7h0.8M352.5 819.9h0.8M361.9 807.8h0.8M355.7 812.7h0.8M352.5 802.1h0.8M347.6 823.7h0.8M345.4 803.3h0.8M358.7 805.8h0.8M350.7 811.6h0.8M352.6 797.5h0.8M362.1 809.0h0.8M368.9 811.9h0.8M348.7 807.7h0.8M347.5 794.7h0.8M360.3 802.8h0.8M362.5 808.6h0.8M352.8 822.0h0.8M345.5 825.0h0.8M350.5 826.6h0.8M364.1 803.0h0.8M369.5 808.6h0.8M357.0 805.8h0.8M353.5 806.6h0.8M350.9 816.4h0.8M361.2 817.0h0.8M364.6 806.2h0.8M360.6 805.9h0.8M359.1 812.9h0.8M357.3 802.7h0.8M343.5 825.2h0.8M347.0 806.8h0.8M357.4 805.8h0.8M357.8 818.9h0.8M340.3 813.9h0.8M359.3 797.7h0.8M360.5 819.0h0.8M354.4 813.1h0.8M351.4 817.7h0.8M349.5 810.9h0.8M348.1 805.8h0.8M364.3 806.5h0.8M362.0 795.6h0.8M343.5 805.7h0.8M370.9 813.9h0.8M373.8 801.0h0.8M359.5 810.9h0.8M351.8 814.7h0.8M353.8 813.3h0.8M338.3 806.0h0.8M345.3 824.6h0.8M361.9 800.3h0.8M358.5 804.2h0.8M344.1 805.4h0.8M380.5 803.3h0.8M353.3 819.2h0.8M356.6 800.7h0.8M373.2 821.1h0.8M361.1 801.4h0.8M353.6 810.6h0.8M344.3 832.0h0.8M354.2 805.4h0.8M351.7 807.8h0.8M364.5 808.5h0.8M358.0 808.0h0.8M338.6 818.2h0.8M360.2 800.3h0.8M344.1 807.9h0.8M342.4 794.1h0.8M350.5 806.1h0.8M355.2 818.3h0.8M346.1 800.1h0.8M353.2 814.9h0.8M366.9 813.3h0.8M355.3 809.7h0.8M338.8 818.9h0.8M361.0 807.2h0.8M351.4 813.4h0.8M358.0 812.5h0.8M357.8 797.2h0.8M349.2 798.6h0.8M361.1 827.1h0.8" stroke="#777" stroke-width="0.8" stroke-opacity="0.55" fill="none"/>
<ellipse cx="347.00" cy="820.80" rx="10" ry="10" fill="url(#bg)"/>
<rect x="331.70" y="748.60" width="87.30" height="87.20" fill="none" stroke="#000" stroke-width="1.5"/>
<rect x="356.50" y="780.20" width="47.30" height="30.80" fill="none" stroke="#000" stroke-width="1.3"/>
<line x1="330.20" y1="770.40" x2="331.70" y2="770.40" stroke="#000" stroke-width="0.8" stroke-linecap="butt"/>
<line x1="353.52" y1="835.80" x2="353.52" y2="837.30" stroke="#000" stroke-width="0.8" stroke-linecap="butt"/>
<line x1="330.20" y1="792.20" x2="331.70" y2="792.20" stroke="#000" stroke-width="0.8" stroke-linecap="butt"/>
<line x1="375.35" y1="835.80" x2="375.35" y2="837.30" stroke="#000" stroke-width="0.8" stroke-linecap="butt"/>
<line x1="330.20" y1="814.00" x2="331.70" y2="814.00" stroke="#000" stroke-width="0.8" stroke-linecap="butt"/>
<line x1="397.18" y1="835.80" x2="397.18" y2="837.30" stroke="#000" stroke-width="0.8" stroke-linecap="butt"/>
<text x="358.00" y="778.80" font-size="13" font-weight="bold" text-anchor="start" textLength="32.00" lengthAdjust="spacingAndGlyphs" >7.1%</text>
<text x="352.70" y="741.20" font-size="17.5" font-weight="bold" text-anchor="start" textLength="45.30" lengthAdjust="spacingAndGlyphs" >Day 6</text>
<path d="M458.4 800.0h0.8M468.2 795.0h0.8M481.7 797.5h0.8M485.9 808.4h0.8M470.4 794.3h0.8M478.1 795.5h0.8M458.3 799.6h0.8M476.3 792.9h0.8M463.7 804.7h0.8M463.2 804.9h0.8M477.2 794.4h0.8M454.8 794.8h0.8M477.7 800.2h0.8M466.5 797.0h0.8M475.8 794.8h0.8M491.2 796.3h0.8M450.8 808.2h0.8M468.2 798.8h0.8M464.1 806.4h0.8M461.2 809.0h0.8M458.7 805.8h0.8M451.8 807.4h0.8M456.7 799.7h0.8M472.8 793.7h0.8M470.7 798.4h0.8M477.9 802.1h0.8M468.1 797.9h0.8M457.4 808.8h0.8M463.5 792.8h0.8M458.3 790.2h0.8M457.6 798.4h0.8M468.0 804.0h0.8M473.4 787.7h0.8M461.2 803.5h0.8M468.9 798.6h0.8M458.3 804.7h0.8M464.9 798.1h0.8M464.6 798.3h0.8M468.5 804.9h0.8M466.3 795.7h0.8M464.5 798.7h0.8M470.2 802.7h0.8M481.0 801.4h0.8M449.8 797.6h0.8M453.8 803.2h0.8M487.5 797.7h0.8M460.4 808.1h0.8M471.4 793.7h0.8M456.7 809.3h0.8M472.7 786.3h0.8M458.6 803.8h0.8M453.0 801.7h0.8M457.4 791.6h0.8M460.7 797.3h0.8M468.2 789.3h0.8M468.0 796.8h0.8M450.6 808.9h0.8M461.4 802.5h0.8M480.1 798.9h0.8M474.3 798.9h0.8M460.1 801.5h0.8M450.8 804.8h0.8M473.3 800.3h0.8M459.2 793.8h0.8M458.6 799.1h0.8M452.1 812.6h0.8M457.9 801.5h0.8M461.1 800.9h0.8M445.3 797.4h0.8M465.2 799.2h0.8M469.2 795.7h0.8M473.2 799.1h0.8M465.0 799.5h0.8M475.4 797.3h0.8M480.1 797.3h0.8M467.8 798.9h0.8M468.3 801.4h0.8M459.6 804.9h0.8M489.6 797.8h0.8M466.6 794.7h0.8M458.3 796.2h0.8M467.9 795.1h0.8M480.5 794.1h0.8M457.1 795.9h0.8M464.5 798.7h0.8M474.2 793.7h0.8M468.6 804.1h0.8M462.8 790.2h0.8M467.7 804.6h0.8M469.1 798.7h0.8M447.3 811.8h0.8M463.7 793.1h0.8M462.3 800.8h0.8M465.8 794.3h0.8M488.0 802.0h0.8M474.8 801.1h0.8M461.7 793.5h0.8M453.4 807.6h0.8M466.2 808.3h0.8M444.1 810.8h0.8M469.8 795.5h0.8M473.7 794.1h0.8M462.8 802.8h0.8M466.9 800.7h0.8M467.5 804.7h0.8M457.4 789.7h0.8M456.8 787.5h0.8M483.7 792.2h0.8M465.0 801.3h0.8M458.1 798.0h0.8M467.8 798.9h0.8M473.0 796.6h0.8M459.1 792.4h0.8M449.5 803.8h0.8M468.3 796.5h0.8M476.8 782.2h0.8M471.5 791.6h0.8M462.2 798.7h0.8M458.3 799.1h0.8M468.0 812.2h0.8M465.4 803.4h0.8M473.1 792.6h0.8M469.9 796.2h0.8M473.8 794.5h0.8M475.5 792.4h0.8M460.9 804.9h0.8M475.0 802.4h0.8M484.2 801.5h0.8M465.3 804.6h0.8M457.6 805.3h0.8M469.1 797.8h0.8M458.6 806.6h0.8M446.5 802.0h0.8M452.1 799.9h0.8M461.2 795.5h0.8M459.6 802.0h0.8M484.0 805.6h0.8M463.6 797.4h0.8M471.1 793.6h0.8M451.4 807.4h0.8M461.5 808.6h0.8M468.6 790.6h0.8M468.1 801.6h0.8M466.0 791.6h0.8M451.2 812.5h0.8M438.9 799.0h0.8M473.0 808.0h0.8M471.5 798.1h0.8M469.0 805.1h0.8M460.4 807.4h0.8M467.7 800.1h0.8M469.5 800.3h0.8M456.7 809.7h0.8M460.8 798.7h0.8M443.2 794.4h0.8M470.7 797.8h0.8M464.4 797.5h0.8M471.2 794.6h0.8M451.4 792.9h0.8M457.8 802.6h0.8M479.0 800.0h0.8M459.0 793.2h0.8M473.2 800.7h0.8M464.9 803.0h0.8M471.0 801.2h0.8M477.9 788.4h0.8M459.2 797.5h0.8M456.0 812.2h0.8M468.8 801.1h0.8M472.9 796.6h0.8" stroke="#777" stroke-width="0.8" stroke-opacity="0.6" fill="none"/>
<path d="M484.5 796.3h0.7M483.1 802.2h0.7M491.9 785.4h0.7M456.5 796.3h0.7M458.0 804.6h0.7M486.5 794.9h0.7M488.2 803.9h0.7M461.8 806.2h0.7M494.0 792.8h0.7M436.4 809.2h0.7M475.8 803.8h0.7M479.4 798.2h0.7M471.0 793.8h0.7M502.3 806.8h0.7M469.0 793.8h0.7M478.1 810.8h0.7M472.0 793.6h0.7M486.2 799.5h0.7M458.6 800.1h0.7M473.9 791.1h0.7M475.8 808.7h0.7M488.0 806.7h0.7M483.2 797.4h0.7M481.1 807.6h0.7M472.0 803.7h0.7M461.5 801.4h0.7M463.7 793.0h0.7M477.7 815.5h0.7M444.6 800.3h0.7M474.5 793.9h0.7M474.0 805.9h0.7M445.6 803.0h0.7M480.7 802.8h0.7M500.3 797.1h0.7M491.1 792.7h0.7M457.2 798.0h0.7M464.5 807.6h0.7M483.4 798.3h0.7M457.3 803.1h0.7M464.9 798.1h0.7M444.1 815.8h0.7M480.7 820.8h0.7M506.6 791.6h0.7M442.4 804.2h0.7M484.2 810.9h0.7M487.0 810.9h0.7M474.5 788.1h0.7M474.1 793.0h0.7M484.8 782.0h0.7M456.0 793.5h0.7M473.3 807.5h0.7M466.8 790.9h0.7M463.5 800.0h0.7M490.0 798.1h0.7M493.5 775.2h0.7M499.8 812.3h0.7M463.4 821.6h0.7M447.0 810.7h0.7M451.0 798.4h0.7" stroke="#888" stroke-width="0.7" stroke-opacity="0.5" fill="none"/>
<path d="M444.1 821.4h0.85M442.8 819.0h0.85M428.7 811.8h0.85M435.3 814.9h0.85M437.8 809.9h0.85M440.1 823.7h0.85M437.6 829.6h0.85M442.2 826.3h0.85M435.0 822.7h0.85M431.5 809.6h0.85M429.4 819.6h0.85M442.4 834.0h0.85M442.9 817.7h0.85M447.7 820.2h0.85M440.9 821.3h0.85M447.3 829.9h0.85M431.5 822.5h0.85M437.8 821.0h0.85M456.4 816.6h0.85M437.7 814.9h0.85M455.4 831.3h0.85M447.6 821.1h0.85M436.1 830.6h0.85M439.2 822.2h0.85M439.7 821.7h0.85M427.8 814.5h0.85M432.4 807.6h0.85M433.2 818.4h0.85M439.6 820.1h0.85M438.0 827.7h0.85M427.2 819.1h0.85M439.3 815.0h0.85M449.9 818.3h0.85M448.1 822.9h0.85M439.0 827.1h0.85M431.2 813.9h0.85M438.2 805.3h0.85M438.0 819.6h0.85M429.3 815.4h0.85M449.1 823.1h0.85M442.2 828.9h0.85M441.5 828.4h0.85M446.6 833.4h0.85M447.8 815.7h0.85M444.9 827.1h0.85M445.2 834.1h0.85M442.8 817.4h0.85M446.7 827.0h0.85M440.8 823.8h0.85M441.8 822.0h0.85M443.3 817.5h0.85M445.7 822.1h0.85M452.3 820.7h0.85M441.6 812.4h0.85M455.8 816.7h0.85M437.5 819.1h0.85M440.9 819.8h0.85M452.1 815.6h0.85M439.4 817.7h0.85M444.9 809.1h0.85M447.4 817.0h0.85M431.5 831.4h0.85M432.1 826.3h0.85M441.0 816.1h0.85M429.9 817.4h0.85M445.9 819.2h0.85M437.1 827.3h0.85M441.1 820.8h0.85M435.1 812.3h0.85M437.8 822.7h0.85M438.1 822.8h0.85M439.2 819.1h0.85M440.6 822.7h0.85M426.1 822.5h0.85M439.5 817.7h0.85M447.3 826.9h0.85M448.4 824.0h0.85M443.9 820.7h0.85M445.8 815.3h0.85M440.0 822.5h0.85M439.9 812.4h0.85M440.2 817.7h0.85M436.6 825.0h0.85M447.9 819.8h0.85M433.3 820.3h0.85M439.6 813.7h0.85M436.8 821.8h0.85M436.9 823.8h0.85M432.2 825.8h0.85M436.2 821.8h0.85M440.9 817.0h0.85M447.7 807.7h0.85M442.1 824.2h0.85M439.2 820.1h0.85M433.3 821.1h0.85M441.9 816.3h0.85M440.9 817.9h0.85M434.0 820.7h0.85M435.6 826.7h0.85M435.6 830.0h0.85M440.6 820.1h0.85M435.9 823.7h0.85M434.0 811.3h0.85M443.6 806.3h0.85M448.3 815.7h0.85M451.2 820.2h0.85M451.6 809.2h0.85M437.9 822.4h0.85M437.1 821.2h0.85M439.7 824.6h0.85M450.2 804.9h0.85M444.9 812.2h0.85M451.6 809.1h0.85M435.2 824.3h0.85M439.6 824.8h0.85M443.2 814.9h0.85M429.9 829.2h0.85M439.3 819.7h0.85M438.7 818.8h0.85M435.9 821.3h0.85M442.4 812.0h0.85M430.3 825.3h0.85M446.6 815.8h0.85M439.7 817.1h0.85M443.4 819.3h0.85M437.1 815.8h0.85M443.7 822.1h0.85M437.9 823.2h0.85M441.9 807.0h0.85M436.9 822.3h0.85M449.2 821.4h0.85M432.5 827.1h0.85M438.9 825.7h0.85M431.5 811.1h0.85M430.1 825.5h0.85M448.7 820.6h0.85M441.9 819.3h0.85M442.1 813.4h0.85M449.0 824.1h0.85M447.2 818.7h0.85M446.4 825.6h0.85M457.5 824.6h0.85M435.8 815.8h0.85M446.6 822.5h0.85M444.5 820.0h0.85M435.4 821.9h0.85M431.0 823.4h0.85M456.0 822.5h0.85M435.1 815.5h0.85M456.9 821.9h0.85M437.3 824.4h0.85M438.6 813.7h0.85M441.7 823.3h0.85M449.5 810.9h0.85M450.7 817.1h0.85M427.5 828.5h0.85M447.5 822.6h0.85M446.4 813.6h0.85M444.2 809.2h0.85M451.9 821.0h0.85M444.2 820.2h0.85M445.0 820.8h0.85M434.6 818.9h0.85M428.0 816.6h0.85M439.7 822.8h0.85M455.8 807.6h0.85M455.0 815.3h0.85M437.9 820.1h0.85M455.5 811.1h0.85M438.3 824.1h0.85M447.2 821.7h0.85M441.6 826.4h0.85M434.3 831.2h0.85M437.5 823.1h0.85M434.6 817.2h0.85M447.5 822.8h0.85M439.6 825.5h0.85M462.5 801.3h0.85M427.0 823.5h0.85M429.3 828.4h0.85M435.3 821.0h0.85M435.2 834.2h0.85M451.1 807.8h0.85M445.3 817.6h0.85M450.8 820.8h0.85M435.8 818.2h0.85M441.2 831.0h0.85M441.5 816.8h0.85M438.2 826.0h0.85M438.8 831.7h0.85M446.8 820.3h0.85M441.6 818.0h0.85M451.1 817.4h0.85M442.8 811.3h0.85M439.5 821.6h0.85M440.3 820.6h0.85M447.6 823.8h0.85M446.2 815.7h0.85M437.4 820.8h0.85M430.1 812.7h0.85M443.1 819.9h0.85M441.4 827.7h0.85M426.4 825.0h0.85M439.3 812.1h0.85M445.4 828.5h0.85M430.9 822.0h0.85M447.4 819.5h0.85M437.8 826.9h0.85M429.3 821.7h0.85M436.5 820.4h0.85M432.4 822.6h0.85M449.2 821.8h0.85M432.1 818.3h0.85M435.7 811.5h0.85M445.8 822.7h0.85M439.7 829.8h0.85M445.7 815.8h0.85M441.1 819.3h0.85M440.8 828.7h0.85M449.4 812.8h0.85M454.1 808.0h0.85M445.5 827.1h0.85M441.8 823.4h0.85M436.5 830.3h0.85M439.5 817.1h0.85M430.8 815.3h0.85M444.2 820.0h0.85M452.6 822.5h0.85M443.2 815.0h0.85M444.6 810.6h0.85M435.8 829.9h0.85M442.7 812.6h0.85M436.6 820.1h0.85M443.0 821.2h0.85M446.4 800.5h0.85M445.8 807.6h0.85M437.8 821.6h0.85M448.0 815.3h0.85M431.9 816.4h0.85M432.5 818.3h0.85M436.1 828.2h0.85M444.7 818.7h0.85M443.0 830.1h0.85M439.0 813.4h0.85M441.1 812.4h0.85M442.5 825.7h0.85M438.5 826.6h0.85M449.1 830.9h0.85M438.5 824.4h0.85M446.4 824.7h0.85M447.4 822.5h0.85M445.6 825.5h0.85M444.2 823.6h0.85M442.9 819.7h0.85M428.7 821.8h0.85M441.2 816.8h0.85M437.9 828.8h0.85M439.2 806.3h0.85M437.4 820.2h0.85M449.3 821.1h0.85M444.5 816.4h0.85M437.1 810.8h0.85M445.2 819.9h0.85M436.2 821.5h0.85M448.4 825.2h0.85M446.3 827.0h0.85M442.6 820.2h0.85M441.0 823.5h0.85M429.5 823.9h0.85M441.2 814.8h0.85M437.2 828.4h0.85M438.3 820.2h0.85M451.0 812.8h0.85M440.7 817.8h0.85M437.5 819.8h0.85M444.7 818.1h0.85M447.3 824.2h0.85M433.8 821.9h0.85M439.8 812.4h0.85M429.0 828.6h0.85M443.0 827.9h0.85M451.5 823.8h0.85M443.4 828.2h0.85M440.1 818.1h0.85M447.5 823.6h0.85M437.5 818.3h0.85M438.4 817.7h0.85M437.0 817.7h0.85M441.8 820.6h0.85M446.3 803.8h0.85M441.9 830.9h0.85M441.3 816.6h0.85M454.3 815.1h0.85M445.6 821.2h0.85M440.0 814.2h0.85M442.0 821.5h0.85M453.1 809.0h0.85M430.6 825.5h0.85M430.9 803.9h0.85M438.7 828.0h0.85M428.7 812.7h0.85M450.9 813.3h0.85M435.0 820.2h0.85M451.7 817.6h0.85M446.2 818.6h0.85M433.8 823.1h0.85M428.8 828.7h0.85M430.2 822.9h0.85M426.6 821.9h0.85M443.7 815.3h0.85M453.9 818.4h0.85M443.9 810.6h0.85M437.6 822.3h0.85M445.9 823.4h0.85M431.6 812.4h0.85M433.4 828.6h0.85M429.2 814.3h0.85M441.7 819.9h0.85M440.5 815.2h0.85M443.2 819.3h0.85M439.6 822.0h0.85M439.4 819.4h0.85M448.4 823.7h0.85M441.4 821.1h0.85M450.0 810.5h0.85M428.0 822.5h0.85M429.4 815.3h0.85M442.4 821.4h0.85M438.6 815.9h0.85M431.1 817.3h0.85M435.4 821.0h0.85M447.1 817.5h0.85M433.3 824.1h0.85M448.9 821.1h0.85M437.9 818.3h0.85M438.7 814.0h0.85M447.0 817.4h0.85M453.7 826.1h0.85M437.7 815.8h0.85M429.1 822.1h0.85M443.5 817.6h0.85M440.1 823.4h0.85M435.6 820.8h0.85M439.1 830.2h0.85M445.3 819.0h0.85M434.0 820.5h0.85M435.5 818.9h0.85M443.2 825.1h0.85M447.6 815.7h0.85M442.1 820.0h0.85M446.4 833.4h0.85M447.6 825.0h0.85M442.5 823.4h0.85M427.7 824.4h0.85M439.9 820.2h0.85M442.7 812.5h0.85M438.3 826.0h0.85M445.6 820.9h0.85M444.5 814.9h0.85M450.8 805.9h0.85M438.6 815.9h0.85M437.8 822.2h0.85M441.6 826.4h0.85M453.5 821.7h0.85M434.7 821.4h0.85M435.8 816.2h0.85M438.2 826.8h0.85M435.6 823.3h0.85M435.9 826.6h0.85M448.5 810.2h0.85M445.8 814.2h0.85M443.1 819.5h0.85M446.5 811.7h0.85M453.5 820.7h0.85M436.6 829.0h0.85M449.9 822.4h0.85M437.6 815.9h0.85M435.0 831.4h0.85M441.3 820.2h0.85M438.5 828.5h0.85M438.5 826.2h0.85M429.1 817.3h0.85M443.1 814.1h0.85M453.5 805.7h0.85M443.5 823.4h0.85M443.8 819.6h0.85M442.7 816.3h0.85M440.8 831.8h0.85M440.8 827.4h0.85M449.9 815.6h0.85M425.7 830.2h0.85M453.6 809.1h0.85M437.6 820.4h0.85M439.2 824.5h0.85M440.1 824.3h0.85M435.5 811.3h0.85M452.9 820.3h0.85M443.5 812.8h0.85M443.9 819.7h0.85M444.1 820.8h0.85M447.8 828.2h0.85M438.6 818.4h0.85M445.7 810.6h0.85M436.2 818.9h0.85M427.1 834.6h0.85M439.1 819.4h0.85M433.1 825.1h0.85M437.9 813.4h0.85M443.1 829.8h0.85M431.1 821.8h0.85M455.2 817.1h0.85M436.2 831.3h0.85M442.4 826.1h0.85M451.8 822.9h0.85M443.1 832.3h0.85M431.0 814.8h0.85M439.4 816.8h0.85M439.8 808.8h0.85M430.3 826.6h0.85M439.6 823.3h0.85M438.4 820.8h0.85M430.9 833.1h0.85M447.8 811.0h0.85M437.9 823.2h0.85M438.1 820.6h0.85M442.3 808.6h0.85M445.8 822.7h0.85M434.5 820.3h0.85M440.3 818.9h0.85M441.2 810.8h0.85M441.3 823.1h0.85M443.5 822.9h0.85M437.2 821.9h0.85M447.3 820.0h0.85M442.4 820.7h0.85M444.4 811.9h0.85M440.5 825.9h0.85M435.0 825.0h0.85M437.9 818.3h0.85M433.5 815.9h0.85M448.6 810.1h0.85M441.8 811.8h0.85M454.2 822.9h0.85M435.7 814.1h0.85M439.1 822.9h0.85M451.9 828.0h0.85M434.4 823.0h0.85M447.0 815.1h0.85M437.8 826.8h0.85M431.8 822.1h0.85M440.4 818.7h0.85M441.1 810.2h0.85M446.3 816.8h0.85M453.8 831.1h0.85M437.9 833.2h0.85M450.2 814.0h0.85M439.2 828.4h0.85M436.1 819.0h0.85M433.2 817.2h0.85M436.1 822.9h0.85M442.6 817.9h0.85M431.9 823.4h0.85M444.9 819.6h0.85M449.9 816.3h0.85M446.4 821.4h0.85M449.6 829.5h0.85M433.2 810.2h0.85M447.7 821.5h0.85M443.2 817.4h0.85M436.0 828.8h0.85M444.0 816.6h0.85M441.2 822.3h0.85M432.3 817.8h0.85M444.2 820.9h0.85M431.8 823.8h0.85M454.0 822.4h0.85M432.2 818.9h0.85M436.8 816.2h0.85M435.5 817.7h0.85M440.3 812.8h0.85M447.0 821.7h0.85M453.7 823.9h0.85M447.2 822.8h0.85M440.2 813.9h0.85M445.3 820.5h0.85M436.6 823.7h0.85M443.1 816.1h0.85M450.4 816.1h0.85M441.7 827.1h0.85M437.5 819.1h0.85M443.9 818.0h0.85M437.6 813.9h0.85M442.4 817.9h0.85M446.3 826.1h0.85M440.8 825.4h0.85M436.3 831.3h0.85M437.3 820.3h0.85M438.5 817.8h0.85M446.1 819.8h0.85M435.1 826.3h0.85M441.2 824.2h0.85M442.3 817.5h0.85M429.1 820.5h0.85M435.1 829.1h0.85M439.5 830.1h0.85M456.0 825.6h0.85M456.6 812.4h0.85M437.6 814.5h0.85M432.1 813.8h0.85M446.8 814.7h0.85M438.8 824.5h0.85M438.2 830.7h0.85M448.7 823.9h0.85M451.9 822.3h0.85M442.2 827.3h0.85M447.8 811.1h0.85M448.2 825.9h0.85M442.0 829.3h0.85M433.2 823.1h0.85M436.4 816.0h0.85M442.7 811.3h0.85M440.8 825.0h0.85M436.0 814.5h0.85M444.6 825.8h0.85M446.9 816.4h0.85M438.3 829.6h0.85M446.7 821.8h0.85M442.5 819.4h0.85M444.9 824.5h0.85M441.2 822.3h0.85M431.9 821.1h0.85M451.3 820.5h0.85M432.0 819.1h0.85M441.5 829.6h0.85M454.9 818.3h0.85M440.0 821.6h0.85M433.7 830.0h0.85M433.1 826.4h0.85M438.0 814.6h0.85M443.1 830.8h0.85M433.0 823.2h0.85M436.4 828.1h0.85M431.3 814.1h0.85M438.4 813.0h0.85M447.3 810.4h0.85M441.3 817.5h0.85M447.4 816.4h0.85M439.7 831.4h0.85M445.2 827.9h0.85M450.2 822.4h0.85M443.0 809.9h0.85M429.7 819.8h0.85M442.8 827.4h0.85M435.9 819.4h0.85M454.5 811.7h0.85M439.7 820.2h0.85M436.4 830.7h0.85M430.5 820.4h0.85M430.0 817.9h0.85M451.1 806.6h0.85M430.0 822.4h0.85M443.3 815.7h0.85M443.8 819.0h0.85M438.4 821.6h0.85M448.9 812.1h0.85M446.5 821.6h0.85M439.5 816.3h0.85M443.1 825.4h0.85M434.8 826.2h0.85M441.1 825.9h0.85M442.7 819.2h0.85M442.3 824.5h0.85M431.4 822.2h0.85M437.8 821.3h0.85M447.4 825.5h0.85M450.3 825.1h0.85M439.5 815.9h0.85M457.8 813.9h0.85M438.6 823.7h0.85M435.6 822.4h0.85M442.3 817.1h0.85M434.2 821.9h0.85M443.7 814.1h0.85M441.8 821.2h0.85M435.1 824.2h0.85M432.0 827.7h0.85M436.3 827.8h0.85M441.6 820.9h0.85M432.2 826.7h0.85M443.8 821.5h0.85M441.1 824.9h0.85M443.9 822.7h0.85M446.6 818.9h0.85M451.5 809.6h0.85M430.2 825.9h0.85M440.8 811.2h0.85M433.0 817.4h0.85M449.2 823.5h0.85M430.1 813.9h0.85M441.8 812.8h0.85M436.9 817.6h0.85M441.2 824.3h0.85M436.3 818.1h0.85M442.7 830.6h0.85M443.6 818.0h0.85M447.0 818.9h0.85M431.9 826.1h0.85M451.6 812.1h0.85M445.9 812.3h0.85M440.4 820.0h0.85M438.6 820.3h0.85M445.4 816.8h0.85M439.4 819.0h0.85M442.7 816.4h0.85M446.1 821.8h0.85M437.0 813.2h0.85M439.2 827.3h0.85M445.1 820.1h0.85M454.2 828.4h0.85M444.3 828.9h0.85M439.3 818.6h0.85M442.4 808.6h0.85M441.1 817.5h0.85M449.8 822.9h0.85M451.1 816.3h0.85M450.6 820.1h0.85M444.4 822.7h0.85M432.7 827.6h0.85M438.0 825.1h0.85M440.6 814.5h0.85M438.9 822.8h0.85M439.0 831.6h0.85M448.9 820.0h0.85M438.6 830.1h0.85M441.2 827.9h0.85M432.0 809.5h0.85M446.0 825.6h0.85M439.9 819.7h0.85M444.0 823.5h0.85M440.5 820.8h0.85M442.5 827.2h0.85M445.6 803.7h0.85M443.3 818.4h0.85M448.0 824.1h0.85M437.5 820.6h0.85M425.7 822.1h0.85M433.8 822.5h0.85M436.3 829.1h0.85M449.4 817.1h0.85M435.2 829.6h0.85M432.1 819.8h0.85M438.5 822.5h0.85M441.3 814.8h0.85M446.7 822.1h0.85M443.1 830.2h0.85M453.3 820.4h0.85M438.3 819.3h0.85M440.2 814.0h0.85M436.4 818.1h0.85M444.4 824.8h0.85M436.9 814.5h0.85M440.8 809.6h0.85M439.4 822.1h0.85M443.5 817.5h0.85M443.7 824.9h0.85M438.7 814.3h0.85M437.6 823.0h0.85M442.8 809.7h0.85M431.1 811.9h0.85M452.8 821.5h0.85M442.1 813.0h0.85M445.0 804.5h0.85M451.5 821.5h0.85M440.6 822.3h0.85M446.8 807.2h0.85M442.8 812.3h0.85M438.3 819.7h0.85M438.1 816.3h0.85M442.1 817.9h0.85M442.7 825.0h0.85M435.3 820.2h0.85M435.3 826.6h0.85M445.7 826.3h0.85M447.9 820.3h0.85M434.4 816.8h0.85M448.9 820.2h0.85M446.2 816.2h0.85M439.4 832.9h0.85M447.4 809.7h0.85M436.4 822.2h0.85M447.8 825.6h0.85M446.5 827.4h0.85M445.5 825.2h0.85M435.2 813.8h0.85M437.6 829.1h0.85M449.8 812.5h0.85M439.1 821.3h0.85M444.7 822.1h0.85M450.7 820.8h0.85M439.5 819.2h0.85M448.1 817.9h0.85M444.4 817.5h0.85M433.3 808.3h0.85M439.0 815.8h0.85M446.2 817.4h0.85M434.8 826.1h0.85M438.2 834.1h0.85M438.0 821.5h0.85M435.9 830.9h0.85M442.8 818.9h0.85M440.3 807.6h0.85M449.2 819.4h0.85M448.5 814.2h0.85M450.4 815.0h0.85M441.1 833.2h0.85M437.6 821.2h0.85M439.9 821.4h0.85M441.9 819.5h0.85M443.8 817.4h0.85M449.6 823.6h0.85M433.5 818.4h0.85M438.8 826.9h0.85M428.2 829.4h0.85M428.1 818.6h0.85M435.3 819.2h0.85M446.1 825.6h0.85M440.2 819.4h0.85M434.5 828.9h0.85M430.7 817.9h0.85M445.4 831.4h0.85M438.9 823.6h0.85M436.9 822.5h0.85M427.0 826.7h0.85M437.4 823.8h0.85M440.1 814.6h0.85M430.7 815.9h0.85M440.6 825.2h0.85M448.3 825.6h0.85M454.4 824.8h0.85M452.7 823.8h0.85M443.0 809.5h0.85M447.3 818.8h0.85M438.4 812.6h0.85M449.2 819.3h0.85M438.1 816.1h0.85M440.3 823.5h0.85M444.9 820.7h0.85M442.3 820.8h0.85M438.1 828.2h0.85M440.0 817.1h0.85M452.2 813.0h0.85M437.9 821.8h0.85M439.8 820.2h0.85M447.2 826.0h0.85M432.2 833.7h0.85M433.2 815.3h0.85M445.4 813.6h0.85M433.0 827.0h0.85M444.2 822.5h0.85M450.1 825.7h0.85M437.9 818.1h0.85M443.6 817.5h0.85M442.6 825.8h0.85M442.6 811.5h0.85M451.7 818.6h0.85M443.2 810.0h0.85M440.7 812.6h0.85M451.3 816.0h0.85M431.8 821.2h0.85M434.8 821.9h0.85M434.7 810.7h0.85M439.6 818.9h0.85M435.7 825.6h0.85M446.4 819.2h0.85M440.3 822.9h0.85M446.9 820.8h0.85M433.5 825.7h0.85M456.5 822.2h0.85M443.0 816.7h0.85M430.9 825.3h0.85M444.7 822.8h0.85M441.9 828.5h0.85M440.2 808.9h0.85M440.0 821.8h0.85M446.0 823.4h0.85M445.5 822.8h0.85M442.9 813.0h0.85M438.8 827.2h0.85M451.6 802.3h0.85M439.9 818.0h0.85M446.5 807.4h0.85M437.2 822.3h0.85M435.6 810.5h0.85M453.1 817.2h0.85M441.3 824.4h0.85M453.4 814.3h0.85M439.9 818.6h0.85M447.1 825.5h0.85M451.3 816.3h0.85M432.9 817.8h0.85M428.4 824.6h0.85M427.4 825.3h0.85M434.0 824.3h0.85M450.6 818.4h0.85M440.0 821.0h0.85M436.7 823.4h0.85M439.2 821.8h0.85M435.5 824.7h0.85M443.1 814.8h0.85M440.4 811.9h0.85M431.6 815.0h0.85M443.5 817.7h0.85M440.5 822.3h0.85M439.0 819.7h0.85M437.1 834.7h0.85M435.5 825.2h0.85M439.2 832.1h0.85M433.3 821.1h0.85M443.4 817.1h0.85M454.8 820.1h0.85M443.5 809.7h0.85M443.6 812.6h0.85M444.5 822.3h0.85M440.0 817.2h0.85M435.5 817.4h0.85M451.0 814.0h0.85M438.8 823.4h0.85M431.9 819.3h0.85M448.3 821.0h0.85M444.5 824.5h0.85M440.6 805.8h0.85M445.8 823.4h0.85M450.1 811.9h0.85M447.0 828.7h0.85M440.1 819.0h0.85M434.2 825.6h0.85M442.4 823.8h0.85M440.4 820.9h0.85M436.9 827.9h0.85M439.9 828.5h0.85M446.7 815.1h0.85M433.4 828.1h0.85M443.4 817.9h0.85M447.7 806.9h0.85M444.6 817.8h0.85M445.6 816.2h0.85M437.7 825.3h0.85M443.2 811.2h0.85M444.3 824.4h0.85M430.0 816.2h0.85M433.3 815.6h0.85M436.3 833.1h0.85M434.2 815.6h0.85M439.1 829.1h0.85M438.1 826.9h0.85M447.6 817.0h0.85M443.4 826.4h0.85M442.3 830.4h0.85M443.4 830.1h0.85M434.2 823.0h0.85M437.1 818.6h0.85M439.3 824.0h0.85M431.3 811.3h0.85M445.7 821.7h0.85M447.0 824.8h0.85M442.9 817.0h0.85M444.1 814.2h0.85M432.2 819.8h0.85M455.4 812.3h0.85M449.6 818.1h0.85M452.1 815.8h0.85M433.0 817.7h0.85M439.5 824.3h0.85M436.0 822.5h0.85M456.2 818.4h0.85M435.8 821.2h0.85M438.6 822.6h0.85M435.5 819.5h0.85M445.6 819.9h0.85M428.1 829.6h0.85M443.2 832.2h0.85M435.3 823.6h0.85M434.8 826.4h0.85M437.0 829.2h0.85M441.4 806.8h0.85M433.3 825.8h0.85M445.7 826.1h0.85M444.0 817.2h0.85M441.6 820.7h0.85M440.8 826.8h0.85M434.6 819.5h0.85M449.4 818.4h0.85M444.4 816.7h0.85M441.1 828.6h0.85M451.2 819.2h0.85M436.6 830.5h0.85M428.3 821.2h0.85M445.5 834.6h0.85M447.6 818.7h0.85M440.3 820.3h0.85M434.5 818.9h0.85M442.8 809.6h0.85M435.4 802.8h0.85M446.9 820.3h0.85M429.8 812.9h0.85M436.1 831.5h0.85M443.9 813.1h0.85M437.4 810.8h0.85M434.4 810.7h0.85M452.5 823.1h0.85M449.2 822.1h0.85M435.8 827.4h0.85M443.9 815.6h0.85M429.9 821.9h0.85M432.7 819.9h0.85M427.3 811.0h0.85M447.0 823.0h0.85M441.6 818.7h0.85M442.0 814.3h0.85M445.8 829.7h0.85M436.7 811.4h0.85M440.8 809.7h0.85M453.8 817.9h0.85M443.5 821.2h0.85M437.3 816.3h0.85M433.6 834.0h0.85M441.2 827.2h0.85M450.6 817.2h0.85M437.3 818.5h0.85M443.1 813.9h0.85M447.0 818.0h0.85M435.6 825.7h0.85M450.1 813.4h0.85M439.5 819.6h0.85M444.2 824.9h0.85M439.9 814.7h0.85M436.7 826.6h0.85M452.9 819.8h0.85M448.3 814.7h0.85M432.3 815.9h0.85M460.3 825.4h0.85M434.1 816.6h0.85M438.2 812.7h0.85M444.6 813.0h0.85M439.1 824.4h0.85M439.0 826.9h0.85M437.2 828.4h0.85M436.3 817.4h0.85M431.0 824.0h0.85M445.2 819.8h0.85M450.2 823.1h0.85M443.0 809.6h0.85M439.5 822.9h0.85M432.8 830.9h0.85M442.9 829.6h0.85M432.5 833.1h0.85M449.8 820.0h0.85M438.4 831.1h0.85M434.2 820.0h0.85M448.2 818.8h0.85M435.3 813.9h0.85M437.4 829.0h0.85M458.9 811.5h0.85M432.6 825.6h0.85M439.5 817.9h0.85M439.7 829.1h0.85M445.8 814.8h0.85M444.1 812.1h0.85M448.2 806.3h0.85M437.8 826.7h0.85M452.1 822.0h0.85M427.5 821.2h0.85M446.9 823.6h0.85M443.3 816.4h0.85M427.8 819.3h0.85M441.7 816.0h0.85M435.0 823.8h0.85M438.5 821.9h0.85M447.8 814.8h0.85M447.3 812.2h0.85M446.6 822.1h0.85M444.0 824.6h0.85M442.1 809.1h0.85M452.0 820.1h0.85M442.1 820.6h0.85M443.3 818.6h0.85M431.7 814.2h0.85M452.6 822.6h0.85M433.5 831.8h0.85M442.6 813.0h0.85M435.5 817.0h0.85M448.3 824.1h0.85M439.0 819.1h0.85M436.0 821.9h0.85M433.8 827.1h0.85M440.1 826.6h0.85M451.2 820.8h0.85M446.6 799.9h0.85M434.5 823.0h0.85M434.9 828.2h0.85M438.5 819.6h0.85M426.6 826.9h0.85M437.3 829.3h0.85M444.2 819.6h0.85M446.6 817.8h0.85M435.2 821.0h0.85M439.2 827.6h0.85M436.1 814.2h0.85M449.8 824.8h0.85M438.3 821.6h0.85M429.9 832.7h0.85M437.1 807.1h0.85M439.9 823.8h0.85M445.1 821.3h0.85M442.4 819.1h0.85M440.2 819.0h0.85M457.4 818.4h0.85M441.7 807.0h0.85M440.5 824.1h0.85M445.5 809.7h0.85M440.3 830.7h0.85M439.5 819.4h0.85M444.8 819.2h0.85M437.2 816.8h0.85M429.2 823.3h0.85M444.6 823.8h0.85M435.7 823.9h0.85M433.7 810.9h0.85M445.0 811.6h0.85M431.4 819.8h0.85M438.5 830.8h0.85M447.7 832.9h0.85M442.0 809.7h0.85M432.2 823.5h0.85M431.6 824.6h0.85M447.8 823.2h0.85M429.4 829.4h0.85M452.3 825.4h0.85M456.6 812.8h0.85M439.9 826.1h0.85M447.5 829.1h0.85M439.8 816.1h0.85M439.4 816.0h0.85M441.4 818.2h0.85M446.0 815.1h0.85M447.0 814.5h0.85M449.0 827.1h0.85M440.6 819.1h0.85M443.1 823.0h0.85M433.9 826.0h0.85M428.3 814.7h0.85M432.7 822.9h0.85M435.2 806.0h0.85M448.0 815.6h0.85M438.6 822.9h0.85M443.2 823.9h0.85M432.1 823.8h0.85M447.3 824.3h0.85M450.7 809.5h0.85M448.9 809.9h0.85M433.3 822.9h0.85M456.5 825.9h0.85M439.9 821.2h0.85M448.1 811.4h0.85M438.4 817.0h0.85M448.8 822.9h0.85M442.9 828.1h0.85M439.1 814.8h0.85M446.9 807.6h0.85M442.7 820.1h0.85M430.0 823.3h0.85M435.0 830.2h0.85M446.0 825.5h0.85M447.4 819.4h0.85M448.3 823.3h0.85M444.6 826.9h0.85M454.1 807.5h0.85M437.8 811.4h0.85M432.5 826.2h0.85M434.3 820.1h0.85M437.1 827.4h0.85M451.6 819.6h0.85M436.2 817.4h0.85M439.6 810.1h0.85M432.7 822.9h0.85M442.5 821.4h0.85M443.1 815.4h0.85M440.1 814.0h0.85M442.5 807.2h0.85M444.4 821.5h0.85M438.1 821.9h0.85M447.7 819.9h0.85M453.8 826.4h0.85M441.6 819.1h0.85M433.0 814.7h0.85M442.2 821.1h0.85M443.3 831.0h0.85M443.7 822.6h0.85M439.4 813.6h0.85M437.8 820.3h0.85" stroke="#222" stroke-width="0.85" stroke-opacity="0.75" fill="none"/>
<path d="M453.9 813.5h0.8M438.2 811.6h0.8M454.3 797.3h0.8M445.2 799.6h0.8M441.1 820.4h0.8M450.8 825.5h0.8M438.1 819.4h0.8M445.9 798.3h0.8M449.2 811.2h0.8M445.0 819.8h0.8M444.6 816.3h0.8M447.4 806.0h0.8M450.9 817.1h0.8M460.5 815.5h0.8M432.1 804.0h0.8M445.1 819.6h0.8M430.3 815.6h0.8M436.7 818.8h0.8M456.8 805.4h0.8M459.8 812.4h0.8M446.1 821.3h0.8M466.7 804.2h0.8M449.8 811.9h0.8M454.9 805.0h0.8M445.5 819.5h0.8M446.4 820.3h0.8M450.0 822.3h0.8M460.9 797.7h0.8M453.8 806.5h0.8M442.1 818.0h0.8M457.1 811.4h0.8M457.5 819.7h0.8M450.8 813.9h0.8M452.0 820.3h0.8M439.7 811.6h0.8M436.7 808.7h0.8M450.8 806.5h0.8M440.8 810.1h0.8M457.8 823.1h0.8M448.8 804.2h0.8M449.4 804.9h0.8M450.6 814.5h0.8M465.1 799.7h0.8M446.4 804.1h0.8M457.4 800.3h0.8M459.4 820.6h0.8M432.2 822.4h0.8M468.3 805.4h0.8M447.1 825.6h0.8M445.7 809.9h0.8M439.5 817.2h0.8M459.6 801.0h0.8M455.2 811.9h0.8M461.9 805.6h0.8M440.8 813.7h0.8M451.9 806.9h0.8M439.2 817.2h0.8M433.3 805.2h0.8M446.6 800.1h0.8M452.2 796.7h0.8M446.0 813.8h0.8M459.9 800.5h0.8M450.2 818.5h0.8M440.4 814.9h0.8M457.9 815.8h0.8M447.1 813.0h0.8M441.3 816.0h0.8M451.6 805.1h0.8M469.3 809.3h0.8M440.2 812.4h0.8M452.1 801.0h0.8M439.5 818.0h0.8M447.1 809.8h0.8M457.1 805.6h0.8M434.3 805.2h0.8M446.3 809.0h0.8M444.2 804.4h0.8M431.8 812.5h0.8M451.5 811.2h0.8M453.3 831.0h0.8M437.1 808.3h0.8M449.2 791.4h0.8M454.0 807.7h0.8M476.4 801.8h0.8M446.7 810.4h0.8M445.6 805.6h0.8M457.6 810.0h0.8M450.6 807.3h0.8M430.5 811.1h0.8M427.3 810.8h0.8M450.9 807.3h0.8M448.4 822.0h0.8M452.7 816.4h0.8M444.7 808.4h0.8M435.0 824.7h0.8M457.9 806.8h0.8M451.8 810.9h0.8M460.0 810.7h0.8M446.8 802.3h0.8M425.4 798.2h0.8M445.4 819.8h0.8M441.2 810.0h0.8M453.2 820.9h0.8M426.3 814.7h0.8M443.1 817.5h0.8M444.0 797.8h0.8M426.2 803.0h0.8M443.8 803.0h0.8M435.1 828.6h0.8M433.9 811.4h0.8M458.5 807.1h0.8M429.1 815.1h0.8M447.3 820.4h0.8M440.1 800.3h0.8M443.9 802.5h0.8M449.3 814.5h0.8M446.8 809.9h0.8M436.4 802.5h0.8M450.2 820.1h0.8M454.8 826.6h0.8M438.4 796.2h0.8M447.0 812.2h0.8M439.8 797.7h0.8M459.8 792.3h0.8M452.1 815.2h0.8M459.5 806.4h0.8M456.0 805.9h0.8M454.2 818.4h0.8M447.2 796.8h0.8M451.4 786.0h0.8M460.2 801.9h0.8M442.4 819.0h0.8M455.5 811.7h0.8M442.2 817.0h0.8M448.7 807.0h0.8M440.2 815.6h0.8M440.5 821.9h0.8M431.0 806.7h0.8M449.1 796.5h0.8M464.4 794.8h0.8M441.8 808.3h0.8M449.0 820.2h0.8M443.5 807.1h0.8M459.2 806.8h0.8M454.5 808.5h0.8M442.7 806.5h0.8M438.4 806.4h0.8M449.0 809.2h0.8M454.6 808.9h0.8M451.2 802.3h0.8M432.5 821.8h0.8M463.8 803.4h0.8M455.4 801.1h0.8M439.1 815.2h0.8M455.3 812.3h0.8M457.6 808.0h0.8M446.1 811.1h0.8M439.3 809.4h0.8M432.2 805.1h0.8M454.5 803.9h0.8M426.6 806.8h0.8M454.6 807.6h0.8M446.6 814.7h0.8M458.0 804.8h0.8M449.6 824.7h0.8M452.9 804.4h0.8M439.8 808.5h0.8M458.0 791.4h0.8M453.2 805.2h0.8M453.2 809.9h0.8M432.9 810.1h0.8M429.2 813.7h0.8M440.4 818.9h0.8M430.7 816.6h0.8M438.5 808.6h0.8M431.8 828.2h0.8M445.3 811.2h0.8M468.4 791.2h0.8M446.5 803.1h0.8M444.9 807.5h0.8M452.1 814.5h0.8M448.0 818.9h0.8M444.4 801.0h0.8M431.8 820.6h0.8M444.2 814.5h0.8M454.0 801.3h0.8M459.3 812.5h0.8M462.5 811.4h0.8M436.9 817.2h0.8M448.6 798.7h0.8M455.4 805.9h0.8M451.2 821.6h0.8M459.4 803.6h0.8M454.1 816.1h0.8M448.9 817.9h0.8M452.7 805.2h0.8M460.3 804.7h0.8M443.0 808.3h0.8M431.0 822.5h0.8M436.3 799.0h0.8M450.5 792.4h0.8M444.8 816.4h0.8M450.6 812.0h0.8M444.8 803.4h0.8M450.0 815.3h0.8M446.9 817.6h0.8M448.9 799.9h0.8M442.4 810.7h0.8M439.9 810.2h0.8M456.2 807.7h0.8M457.0 810.8h0.8M442.7 811.9h0.8M455.9 803.4h0.8M441.4 821.0h0.8M455.1 812.9h0.8M442.6 809.9h0.8M451.0 812.2h0.8M455.4 799.5h0.8M455.6 800.1h0.8M438.6 808.6h0.8" stroke="#777" stroke-width="0.8" stroke-opacity="0.55" fill="none"/>
<ellipse cx="440.40" cy="821.00" rx="10" ry="10" fill="url(#bg)"/>
<rect x="424.30" y="748.60" width="87.20" height="87.20" fill="none" stroke="#000" stroke-width="1.5"/>
<rect x="448.80" y="780.20" width="47.00" height="30.80" fill="none" stroke="#000" stroke-width="1.3"/>
<line x1="422.80" y1="770.40" x2="424.30" y2="770.40" stroke="#000" stroke-width="0.8" stroke-linecap="butt"/>
<line x1="446.10" y1="835.80" x2="446.10" y2="837.30" stroke="#000" stroke-width="0.8" stroke-linecap="butt"/>
<line x1="422.80" y1="792.20" x2="424.30" y2="792.20" stroke="#000" stroke-width="0.8" stroke-linecap="butt"/>
<line x1="467.90" y1="835.80" x2="467.90" y2="837.30" stroke="#000" stroke-width="0.8" stroke-linecap="butt"/>
<line x1="422.80" y1="814.00" x2="424.30" y2="814.00" stroke="#000" stroke-width="0.8" stroke-linecap="butt"/>
<line x1="489.70" y1="835.80" x2="489.70" y2="837.30" stroke="#000" stroke-width="0.8" stroke-linecap="butt"/>
<text x="451.00" y="778.80" font-size="13" font-weight="bold" text-anchor="start" textLength="32.00" lengthAdjust="spacingAndGlyphs" >3.9%</text>
<text x="425.80" y="741.20" font-size="17.5" font-weight="bold" text-anchor="start" textLength="83.80" lengthAdjust="spacingAndGlyphs" >Day 1, 4, 7</text>
<text x="46.50" y="833.50" font-size="15" font-weight="bold" text-anchor="start" textLength="42.00" lengthAdjust="spacingAndGlyphs" transform="rotate(-90 46.50 833.50)" >FoxP3</text>
<line x1="43.80" y1="788.00" x2="43.80" y2="760.50" stroke="#000" stroke-width="1.9" stroke-linecap="butt"/>
<polygon points="43.80,747.00 37.30,764.50 43.80,761.10 50.30,764.50" fill="#000"/>
<text x="58.80" y="850.20" font-size="15" font-weight="bold" text-anchor="start" textLength="36.00" lengthAdjust="spacingAndGlyphs" >CD25</text>
<line x1="102.40" y1="846.00" x2="498.30" y2="846.00" stroke="#000" stroke-width="1.9" stroke-linecap="butt"/>
<polygon points="513.10,846.00 494.30,839.50 497.50,846.00 494.30,852.50" fill="#000"/>
<rect x="67.50" y="889.40" width="21.50" height="56.30" fill="#000"/>
<line x1="78.25" y1="889.40" x2="78.25" y2="885.40" stroke="#000" stroke-width="1.3" stroke-linecap="butt"/>
<line x1="75.95" y1="885.40" x2="80.55" y2="885.40" stroke="#000" stroke-width="1.3" stroke-linecap="butt"/>
<rect x="104.00" y="899.00" width="22.50" height="46.70" fill="#000"/>
<line x1="115.25" y1="899.00" x2="115.25" y2="896.50" stroke="#000" stroke-width="1.3" stroke-linecap="butt"/>
<line x1="112.95" y1="896.50" x2="117.55" y2="896.50" stroke="#000" stroke-width="1.3" stroke-linecap="butt"/>
<rect x="145.00" y="910.00" width="21.50" height="35.70" fill="#000"/>
<line x1="155.75" y1="910.00" x2="155.75" y2="907.00" stroke="#000" stroke-width="1.3" stroke-linecap="butt"/>
<line x1="153.45" y1="907.00" x2="158.05" y2="907.00" stroke="#000" stroke-width="1.3" stroke-linecap="butt"/>
<rect x="183.30" y="886.00" width="22.50" height="59.70" fill="#000"/>
<line x1="194.55" y1="886.00" x2="194.55" y2="879.00" stroke="#000" stroke-width="1.3" stroke-linecap="butt"/>
<line x1="192.25" y1="879.00" x2="196.85" y2="879.00" stroke="#000" stroke-width="1.3" stroke-linecap="butt"/>
<rect x="223.30" y="918.50" width="22.50" height="27.20" fill="#000"/>
<line x1="234.55" y1="918.50" x2="234.55" y2="915.50" stroke="#000" stroke-width="1.3" stroke-linecap="butt"/>
<line x1="232.25" y1="915.50" x2="236.85" y2="915.50" stroke="#000" stroke-width="1.3" stroke-linecap="butt"/>
<rect x="55.40" y="858.00" width="200.80" height="87.70" fill="none" stroke="#000" stroke-width="1.5"/>
<line x1="52.40" y1="858.00" x2="55.40" y2="858.00" stroke="#000" stroke-width="1.2" stroke-linecap="butt"/>
<text x="50.90" y="861.47" font-size="11.3" font-weight="bold" text-anchor="end" >10</text>
<line x1="52.40" y1="876.00" x2="55.40" y2="876.00" stroke="#000" stroke-width="1.2" stroke-linecap="butt"/>
<text x="50.90" y="879.47" font-size="11.3" font-weight="bold" text-anchor="end" >8</text>
<line x1="52.40" y1="893.50" x2="55.40" y2="893.50" stroke="#000" stroke-width="1.2" stroke-linecap="butt"/>
<text x="50.90" y="896.97" font-size="11.3" font-weight="bold" text-anchor="end" >6</text>
<line x1="52.40" y1="911.00" x2="55.40" y2="911.00" stroke="#000" stroke-width="1.2" stroke-linecap="butt"/>
<text x="50.90" y="914.47" font-size="11.3" font-weight="bold" text-anchor="end" >4</text>
<line x1="52.40" y1="928.20" x2="55.40" y2="928.20" stroke="#000" stroke-width="1.2" stroke-linecap="butt"/>
<text x="50.90" y="931.67" font-size="11.3" font-weight="bold" text-anchor="end" >2</text>
<line x1="52.40" y1="945.70" x2="55.40" y2="945.70" stroke="#000" stroke-width="1.2" stroke-linecap="butt"/>
<text x="50.90" y="949.17" font-size="11.3" font-weight="bold" text-anchor="end" >0</text>
<text x="116.30" y="899.45" font-size="15" font-weight="normal" text-anchor="middle" fill="#222" font-family='"DejaVu Sans", sans-serif' >*</text>
<text x="156.20" y="910.45" font-size="15" font-weight="normal" text-anchor="middle" fill="#222" font-family='"DejaVu Sans", sans-serif' >**</text>
<text x="235.60" y="918.25" font-size="15" font-weight="normal" text-anchor="middle" fill="#222" font-family='"DejaVu Sans", sans-serif' >**</text>
<text x="67.00" y="958.60" font-size="13.2" font-weight="bold" text-anchor="start" textLength="21.60" lengthAdjust="spacingAndGlyphs" >Ctrl</text>
<text x="108.40" y="958.60" font-size="13.2" font-weight="bold" text-anchor="start" textLength="15.00" lengthAdjust="spacingAndGlyphs" >D1</text>
<text x="149.00" y="958.60" font-size="13.2" font-weight="bold" text-anchor="start" textLength="15.00" lengthAdjust="spacingAndGlyphs" >D3</text>
<text x="187.20" y="958.60" font-size="13.2" font-weight="bold" text-anchor="start" textLength="15.00" lengthAdjust="spacingAndGlyphs" >D6</text>
<text x="218.60" y="958.60" font-size="13.2" font-weight="bold" text-anchor="start" textLength="38.00" lengthAdjust="spacingAndGlyphs" >D1,4,7</text>
<text x="36.50" y="900.80" font-size="16" font-weight="bold" text-anchor="middle" textLength="98.30" lengthAdjust="spacingAndGlyphs" transform="rotate(-90 36.50 900.80)" >Treg cells (%)</text>
<rect x="323.00" y="882.70" width="22.00" height="63.00" fill="#000"/>
<line x1="334.00" y1="882.70" x2="334.00" y2="878.50" stroke="#000" stroke-width="1.3" stroke-linecap="butt"/>
<line x1="331.70" y1="878.50" x2="336.30" y2="878.50" stroke="#000" stroke-width="1.3" stroke-linecap="butt"/>
<rect x="360.00" y="902.50" width="22.50" height="43.20" fill="#000"/>
<line x1="371.25" y1="902.50" x2="371.25" y2="900.00" stroke="#000" stroke-width="1.3" stroke-linecap="butt"/>
<line x1="368.95" y1="900.00" x2="373.55" y2="900.00" stroke="#000" stroke-width="1.3" stroke-linecap="butt"/>
<rect x="400.00" y="914.00" width="22.50" height="31.70" fill="#000"/>
<line x1="411.25" y1="914.00" x2="411.25" y2="910.00" stroke="#000" stroke-width="1.3" stroke-linecap="butt"/>
<line x1="408.95" y1="910.00" x2="413.55" y2="910.00" stroke="#000" stroke-width="1.3" stroke-linecap="butt"/>
<rect x="439.30" y="880.00" width="22.60" height="65.70" fill="#000"/>
<line x1="450.60" y1="880.00" x2="450.60" y2="873.50" stroke="#000" stroke-width="1.3" stroke-linecap="butt"/>
<line x1="448.30" y1="873.50" x2="452.90" y2="873.50" stroke="#000" stroke-width="1.3" stroke-linecap="butt"/>
<rect x="478.80" y="920.00" width="22.40" height="25.70" fill="#000"/>
<line x1="490.00" y1="920.00" x2="490.00" y2="918.00" stroke="#000" stroke-width="1.3" stroke-linecap="butt"/>
<line x1="487.70" y1="918.00" x2="492.30" y2="918.00" stroke="#000" stroke-width="1.3" stroke-linecap="butt"/>
<rect x="310.90" y="858.00" width="201.60" height="87.70" fill="none" stroke="#000" stroke-width="1.5"/>
<line x1="307.90" y1="858.00" x2="310.90" y2="858.00" stroke="#000" stroke-width="1.2" stroke-linecap="butt"/>
<text x="306.40" y="861.47" font-size="11.3" font-weight="bold" text-anchor="end" >1.2</text>
<line x1="307.90" y1="887.40" x2="310.90" y2="887.40" stroke="#000" stroke-width="1.2" stroke-linecap="butt"/>
<text x="306.40" y="890.87" font-size="11.3" font-weight="bold" text-anchor="end" >0.8</text>
<line x1="307.90" y1="916.30" x2="310.90" y2="916.30" stroke="#000" stroke-width="1.2" stroke-linecap="butt"/>
<text x="306.40" y="919.77" font-size="11.3" font-weight="bold" text-anchor="end" >0.4</text>
<line x1="307.90" y1="945.70" x2="310.90" y2="945.70" stroke="#000" stroke-width="1.2" stroke-linecap="butt"/>
<text x="306.40" y="949.17" font-size="11.3" font-weight="bold" text-anchor="end" >0</text>
<text x="371.30" y="902.45" font-size="15" font-weight="normal" text-anchor="middle" fill="#222" font-family='"DejaVu Sans", sans-serif' >**</text>
<text x="410.60" y="913.45" font-size="15" font-weight="normal" text-anchor="middle" fill="#222" font-family='"DejaVu Sans", sans-serif' >**</text>
<text x="489.30" y="921.85" font-size="15" font-weight="normal" text-anchor="middle" fill="#222" font-family='"DejaVu Sans", sans-serif' >**</text>
<text x="323.30" y="957.60" font-size="13.2" font-weight="bold" text-anchor="start" textLength="21.30" lengthAdjust="spacingAndGlyphs" >Ctrl</text>
<text x="364.10" y="957.60" font-size="13.2" font-weight="bold" text-anchor="start" textLength="15.10" lengthAdjust="spacingAndGlyphs" >D1</text>
<text x="404.20" y="957.60" font-size="13.2" font-weight="bold" text-anchor="start" textLength="15.10" lengthAdjust="spacingAndGlyphs" >D3</text>
<text x="443.50" y="957.60" font-size="13.2" font-weight="bold" text-anchor="start" textLength="15.10" lengthAdjust="spacingAndGlyphs" >D6</text>
<text x="472.20" y="957.60" font-size="13.2" font-weight="bold" text-anchor="start" textLength="38.20" lengthAdjust="spacingAndGlyphs" >D1,4,7</text>
<text x="273.80" y="900.20" font-size="16.5" font-weight="bold" text-anchor="middle" textLength="72.70" lengthAdjust="spacingAndGlyphs" transform="rotate(-90 273.80 900.20)" >Treg cells</text>
<text x="287.40" y="899.80" font-size="10.5" font-weight="bold" text-anchor="middle" textLength="41.00" lengthAdjust="spacingAndGlyphs" transform="rotate(-90 287.40 899.80)" >(x 10<tspan dy="-3.5" font-size="8">-6</tspan><tspan dy="3.5">)</tspan></text>
<line x1="67.90" y1="997.30" x2="67.90" y2="1160.10" stroke="#000" stroke-width="1.3" stroke-linecap="butt"/>
<line x1="67.90" y1="1159.50" x2="264.80" y2="1159.50" stroke="#000" stroke-width="1.3" stroke-linecap="butt"/>
<line x1="64.40" y1="1159.50" x2="67.90" y2="1159.50" stroke="#000" stroke-width="1.2" stroke-linecap="butt"/>
<text x="61.70" y="1164.20" font-size="12" font-weight="bold" text-anchor="end" textLength="5.80" lengthAdjust="spacingAndGlyphs" >0</text>
<line x1="64.40" y1="1127.18" x2="67.90" y2="1127.18" stroke="#000" stroke-width="1.2" stroke-linecap="butt"/>
<text x="61.70" y="1131.88" font-size="12" font-weight="bold" text-anchor="end" textLength="5.80" lengthAdjust="spacingAndGlyphs" >1</text>
<line x1="64.40" y1="1094.86" x2="67.90" y2="1094.86" stroke="#000" stroke-width="1.2" stroke-linecap="butt"/>
<text x="61.70" y="1099.56" font-size="12" font-weight="bold" text-anchor="end" textLength="5.80" lengthAdjust="spacingAndGlyphs" >2</text>
<line x1="64.40" y1="1062.54" x2="67.90" y2="1062.54" stroke="#000" stroke-width="1.2" stroke-linecap="butt"/>
<text x="61.70" y="1067.24" font-size="12" font-weight="bold" text-anchor="end" textLength="5.80" lengthAdjust="spacingAndGlyphs" >3</text>
<line x1="64.40" y1="1030.22" x2="67.90" y2="1030.22" stroke="#000" stroke-width="1.2" stroke-linecap="butt"/>
<text x="61.70" y="1034.92" font-size="12" font-weight="bold" text-anchor="end" textLength="5.80" lengthAdjust="spacingAndGlyphs" >4</text>
<line x1="64.40" y1="997.90" x2="67.90" y2="997.90" stroke="#000" stroke-width="1.2" stroke-linecap="butt"/>
<text x="61.70" y="1002.60" font-size="12" font-weight="bold" text-anchor="end" textLength="5.80" lengthAdjust="spacingAndGlyphs" >5</text>
<line x1="67.90" y1="1159.50" x2="67.90" y2="1163.00" stroke="#000" stroke-width="1.2" stroke-linecap="butt"/>
<text x="67.10" y="1175.30" font-size="11" font-weight="bold" text-anchor="middle" textLength="5.20" lengthAdjust="spacingAndGlyphs" >0</text>
<line x1="133.50" y1="1159.50" x2="133.50" y2="1163.00" stroke="#000" stroke-width="1.2" stroke-linecap="butt"/>
<text x="132.70" y="1175.30" font-size="11" font-weight="bold" text-anchor="middle" textLength="10.40" lengthAdjust="spacingAndGlyphs" >10</text>
<line x1="198.80" y1="1159.50" x2="198.80" y2="1163.00" stroke="#000" stroke-width="1.2" stroke-linecap="butt"/>
<text x="198.00" y="1175.30" font-size="11" font-weight="bold" text-anchor="middle" textLength="10.40" lengthAdjust="spacingAndGlyphs" >20</text>
<line x1="264.20" y1="1159.50" x2="264.20" y2="1163.00" stroke="#000" stroke-width="1.2" stroke-linecap="butt"/>
<text x="263.40" y="1175.30" font-size="11" font-weight="bold" text-anchor="middle" textLength="10.40" lengthAdjust="spacingAndGlyphs" >30</text>
<polyline points="68.00,1159.50 74.58,1159.50 81.16,1159.50 87.74,1159.50 94.32,1159.50 100.90,1159.50 107.48,1159.50 114.06,1159.50 120.64,1159.50 127.22,1159.50 133.80,1159.50 140.38,1159.50 146.96,1159.50 153.54,1159.50 160.12,1151.74 166.70,1132.67 173.28,1107.46 179.86,1100.68 186.44,1081.29 193.02,1081.29 199.60,1081.29 206.18,1074.82 212.76,1074.82 219.34,1088.40 225.92,1088.40 232.50,1081.29 239.08,1094.86 245.66,1094.86 252.24,1094.86" fill="none" stroke="#000" stroke-width="1.4"/>
<line x1="160.12" y1="1151.74" x2="160.12" y2="1144.96" stroke="#000" stroke-width="1.4" stroke-linecap="butt"/>
<line x1="157.02" y1="1144.96" x2="163.22" y2="1144.96" stroke="#000" stroke-width="1.4" stroke-linecap="butt"/>
<line x1="166.70" y1="1132.67" x2="166.70" y2="1120.72" stroke="#000" stroke-width="1.4" stroke-linecap="butt"/>
<line x1="163.60" y1="1120.72" x2="169.80" y2="1120.72" stroke="#000" stroke-width="1.4" stroke-linecap="butt"/>
<line x1="173.28" y1="1107.46" x2="173.28" y2="1096.80" stroke="#000" stroke-width="1.4" stroke-linecap="butt"/>
<line x1="170.18" y1="1096.80" x2="176.38" y2="1096.80" stroke="#000" stroke-width="1.4" stroke-linecap="butt"/>
<line x1="179.86" y1="1100.68" x2="179.86" y2="1090.98" stroke="#000" stroke-width="1.4" stroke-linecap="butt"/>
<line x1="176.76" y1="1090.98" x2="182.96" y2="1090.98" stroke="#000" stroke-width="1.4" stroke-linecap="butt"/>
<line x1="186.44" y1="1081.29" x2="186.44" y2="1064.80" stroke="#000" stroke-width="1.4" stroke-linecap="butt"/>
<line x1="183.34" y1="1064.80" x2="189.54" y2="1064.80" stroke="#000" stroke-width="1.4" stroke-linecap="butt"/>
<line x1="193.02" y1="1081.29" x2="193.02" y2="1064.80" stroke="#000" stroke-width="1.4" stroke-linecap="butt"/>
<line x1="189.92" y1="1064.80" x2="196.12" y2="1064.80" stroke="#000" stroke-width="1.4" stroke-linecap="butt"/>
<line x1="199.60" y1="1081.29" x2="199.60" y2="1064.80" stroke="#000" stroke-width="1.4" stroke-linecap="butt"/>
<line x1="196.50" y1="1064.80" x2="202.70" y2="1064.80" stroke="#000" stroke-width="1.4" stroke-linecap="butt"/>
<line x1="206.18" y1="1074.82" x2="206.18" y2="1058.34" stroke="#000" stroke-width="1.4" stroke-linecap="butt"/>
<line x1="203.08" y1="1058.34" x2="209.28" y2="1058.34" stroke="#000" stroke-width="1.4" stroke-linecap="butt"/>
<line x1="212.76" y1="1074.82" x2="212.76" y2="1058.34" stroke="#000" stroke-width="1.4" stroke-linecap="butt"/>
<line x1="209.66" y1="1058.34" x2="215.86" y2="1058.34" stroke="#000" stroke-width="1.4" stroke-linecap="butt"/>
<line x1="219.34" y1="1088.40" x2="219.34" y2="1078.70" stroke="#000" stroke-width="1.4" stroke-linecap="butt"/>
<line x1="216.24" y1="1078.70" x2="222.44" y2="1078.70" stroke="#000" stroke-width="1.4" stroke-linecap="butt"/>
<line x1="225.92" y1="1088.40" x2="225.92" y2="1078.70" stroke="#000" stroke-width="1.4" stroke-linecap="butt"/>
<line x1="222.82" y1="1078.70" x2="229.02" y2="1078.70" stroke="#000" stroke-width="1.4" stroke-linecap="butt"/>
<line x1="232.50" y1="1081.29" x2="232.50" y2="1067.06" stroke="#000" stroke-width="1.4" stroke-linecap="butt"/>
<line x1="229.40" y1="1067.06" x2="235.60" y2="1067.06" stroke="#000" stroke-width="1.4" stroke-linecap="butt"/>
<line x1="239.08" y1="1094.86" x2="239.08" y2="1084.52" stroke="#000" stroke-width="1.4" stroke-linecap="butt"/>
<line x1="235.98" y1="1084.52" x2="242.18" y2="1084.52" stroke="#000" stroke-width="1.4" stroke-linecap="butt"/>
<line x1="245.66" y1="1094.86" x2="245.66" y2="1084.52" stroke="#000" stroke-width="1.4" stroke-linecap="butt"/>
<line x1="242.56" y1="1084.52" x2="248.76" y2="1084.52" stroke="#000" stroke-width="1.4" stroke-linecap="butt"/>
<line x1="252.24" y1="1094.86" x2="252.24" y2="1084.52" stroke="#000" stroke-width="1.4" stroke-linecap="butt"/>
<line x1="249.14" y1="1084.52" x2="255.34" y2="1084.52" stroke="#000" stroke-width="1.4" stroke-linecap="butt"/>
<circle cx="68.00" cy="1159.50" r="3.1999999999999997" fill="#000" stroke="#000" stroke-width="1.25"/>
<circle cx="74.58" cy="1159.50" r="3.1999999999999997" fill="#000" stroke="#000" stroke-width="1.25"/>
<circle cx="81.16" cy="1159.50" r="3.1999999999999997" fill="#000" stroke="#000" stroke-width="1.25"/>
<circle cx="87.74" cy="1159.50" r="3.1999999999999997" fill="#000" stroke="#000" stroke-width="1.25"/>
<circle cx="94.32" cy="1159.50" r="3.1999999999999997" fill="#000" stroke="#000" stroke-width="1.25"/>
<circle cx="100.90" cy="1159.50" r="3.1999999999999997" fill="#000" stroke="#000" stroke-width="1.25"/>
<circle cx="107.48" cy="1159.50" r="3.1999999999999997" fill="#000" stroke="#000" stroke-width="1.25"/>
<circle cx="114.06" cy="1159.50" r="3.1999999999999997" fill="#000" stroke="#000" stroke-width="1.25"/>
<circle cx="120.64" cy="1159.50" r="3.1999999999999997" fill="#000" stroke="#000" stroke-width="1.25"/>
<circle cx="127.22" cy="1159.50" r="3.1999999999999997" fill="#000" stroke="#000" stroke-width="1.25"/>
<circle cx="133.80" cy="1159.50" r="3.1999999999999997" fill="#000" stroke="#000" stroke-width="1.25"/>
<circle cx="140.38" cy="1159.50" r="3.1999999999999997" fill="#000" stroke="#000" stroke-width="1.25"/>
<circle cx="146.96" cy="1159.50" r="3.1999999999999997" fill="#000" stroke="#000" stroke-width="1.25"/>
<circle cx="153.54" cy="1159.50" r="3.1999999999999997" fill="#000" stroke="#000" stroke-width="1.25"/>
<circle cx="160.12" cy="1151.74" r="3.1999999999999997" fill="#000" stroke="#000" stroke-width="1.25"/>
<circle cx="166.70" cy="1132.67" r="3.1999999999999997" fill="#000" stroke="#000" stroke-width="1.25"/>
<circle cx="173.28" cy="1107.46" r="3.1999999999999997" fill="#000" stroke="#000" stroke-width="1.25"/>
<circle cx="179.86" cy="1100.68" r="3.1999999999999997" fill="#000" stroke="#000" stroke-width="1.25"/>
<circle cx="186.44" cy="1081.29" r="3.1999999999999997" fill="#000" stroke="#000" stroke-width="1.25"/>
<circle cx="193.02" cy="1081.29" r="3.1999999999999997" fill="#000" stroke="#000" stroke-width="1.25"/>
<circle cx="199.60" cy="1081.29" r="3.1999999999999997" fill="#000" stroke="#000" stroke-width="1.25"/>
<circle cx="206.18" cy="1074.82" r="3.1999999999999997" fill="#000" stroke="#000" stroke-width="1.25"/>
<circle cx="212.76" cy="1074.82" r="3.1999999999999997" fill="#000" stroke="#000" stroke-width="1.25"/>
<circle cx="219.34" cy="1088.40" r="3.1999999999999997" fill="#000" stroke="#000" stroke-width="1.25"/>
<circle cx="225.92" cy="1088.40" r="3.1999999999999997" fill="#000" stroke="#000" stroke-width="1.25"/>
<circle cx="232.50" cy="1081.29" r="3.1999999999999997" fill="#000" stroke="#000" stroke-width="1.25"/>
<circle cx="239.08" cy="1094.86" r="3.1999999999999997" fill="#000" stroke="#000" stroke-width="1.25"/>
<circle cx="245.66" cy="1094.86" r="3.1999999999999997" fill="#000" stroke="#000" stroke-width="1.25"/>
<circle cx="252.24" cy="1094.86" r="3.1999999999999997" fill="#000" stroke="#000" stroke-width="1.25"/>
<polyline points="68.00,1159.50 74.58,1159.50 81.16,1159.50 87.74,1159.50 94.32,1159.50 100.90,1159.50 107.48,1159.50 114.06,1159.50 120.64,1159.50 127.22,1159.50 133.80,1159.50 140.38,1146.90 146.96,1132.67 153.54,1113.28 160.12,1100.68 166.70,1094.86 173.28,1088.40 179.86,1088.40 186.44,1088.40 193.02,1081.29 199.60,1074.82 206.18,1081.29 212.76,1081.29 219.34,1081.29 225.92,1100.68 232.50,1100.68 239.08,1109.08 245.66,1109.08 252.24,1109.08" fill="none" stroke="#000" stroke-width="1.4"/>
<line x1="140.38" y1="1146.90" x2="140.38" y2="1151.74" stroke="#000" stroke-width="1.4" stroke-linecap="butt"/>
<line x1="137.28" y1="1151.74" x2="143.48" y2="1151.74" stroke="#000" stroke-width="1.4" stroke-linecap="butt"/>
<line x1="146.96" y1="1132.67" x2="146.96" y2="1141.08" stroke="#000" stroke-width="1.4" stroke-linecap="butt"/>
<line x1="143.86" y1="1141.08" x2="150.06" y2="1141.08" stroke="#000" stroke-width="1.4" stroke-linecap="butt"/>
<line x1="153.54" y1="1113.28" x2="153.54" y2="1124.92" stroke="#000" stroke-width="1.4" stroke-linecap="butt"/>
<line x1="150.44" y1="1124.92" x2="156.64" y2="1124.92" stroke="#000" stroke-width="1.4" stroke-linecap="butt"/>
<line x1="160.12" y1="1100.68" x2="160.12" y2="1117.81" stroke="#000" stroke-width="1.4" stroke-linecap="butt"/>
<line x1="157.02" y1="1117.81" x2="163.22" y2="1117.81" stroke="#000" stroke-width="1.4" stroke-linecap="butt"/>
<line x1="166.70" y1="1094.86" x2="166.70" y2="1112.31" stroke="#000" stroke-width="1.4" stroke-linecap="butt"/>
<line x1="163.60" y1="1112.31" x2="169.80" y2="1112.31" stroke="#000" stroke-width="1.4" stroke-linecap="butt"/>
<line x1="173.28" y1="1088.40" x2="173.28" y2="1098.74" stroke="#000" stroke-width="1.4" stroke-linecap="butt"/>
<line x1="170.18" y1="1098.74" x2="176.38" y2="1098.74" stroke="#000" stroke-width="1.4" stroke-linecap="butt"/>
<line x1="179.86" y1="1088.40" x2="179.86" y2="1098.09" stroke="#000" stroke-width="1.4" stroke-linecap="butt"/>
<line x1="176.76" y1="1098.09" x2="182.96" y2="1098.09" stroke="#000" stroke-width="1.4" stroke-linecap="butt"/>
<line x1="186.44" y1="1088.40" x2="186.44" y2="1098.09" stroke="#000" stroke-width="1.4" stroke-linecap="butt"/>
<line x1="183.34" y1="1098.09" x2="189.54" y2="1098.09" stroke="#000" stroke-width="1.4" stroke-linecap="butt"/>
<line x1="193.02" y1="1081.29" x2="193.02" y2="1093.89" stroke="#000" stroke-width="1.4" stroke-linecap="butt"/>
<line x1="189.92" y1="1093.89" x2="196.12" y2="1093.89" stroke="#000" stroke-width="1.4" stroke-linecap="butt"/>
<line x1="199.60" y1="1074.82" x2="199.60" y2="1085.16" stroke="#000" stroke-width="1.4" stroke-linecap="butt"/>
<line x1="196.50" y1="1085.16" x2="202.70" y2="1085.16" stroke="#000" stroke-width="1.4" stroke-linecap="butt"/>
<line x1="206.18" y1="1081.29" x2="206.18" y2="1089.04" stroke="#000" stroke-width="1.4" stroke-linecap="butt"/>
<line x1="203.08" y1="1089.04" x2="209.28" y2="1089.04" stroke="#000" stroke-width="1.4" stroke-linecap="butt"/>
<line x1="212.76" y1="1081.29" x2="212.76" y2="1089.04" stroke="#000" stroke-width="1.4" stroke-linecap="butt"/>
<line x1="209.66" y1="1089.04" x2="215.86" y2="1089.04" stroke="#000" stroke-width="1.4" stroke-linecap="butt"/>
<line x1="219.34" y1="1081.29" x2="219.34" y2="1089.04" stroke="#000" stroke-width="1.4" stroke-linecap="butt"/>
<line x1="216.24" y1="1089.04" x2="222.44" y2="1089.04" stroke="#000" stroke-width="1.4" stroke-linecap="butt"/>
<line x1="225.92" y1="1100.68" x2="225.92" y2="1107.46" stroke="#000" stroke-width="1.4" stroke-linecap="butt"/>
<line x1="222.82" y1="1107.46" x2="229.02" y2="1107.46" stroke="#000" stroke-width="1.4" stroke-linecap="butt"/>
<line x1="232.50" y1="1100.68" x2="232.50" y2="1107.46" stroke="#000" stroke-width="1.4" stroke-linecap="butt"/>
<line x1="229.40" y1="1107.46" x2="235.60" y2="1107.46" stroke="#000" stroke-width="1.4" stroke-linecap="butt"/>
<line x1="239.08" y1="1109.08" x2="239.08" y2="1114.90" stroke="#000" stroke-width="1.4" stroke-linecap="butt"/>
<line x1="235.98" y1="1114.90" x2="242.18" y2="1114.90" stroke="#000" stroke-width="1.4" stroke-linecap="butt"/>
<line x1="245.66" y1="1109.08" x2="245.66" y2="1114.90" stroke="#000" stroke-width="1.4" stroke-linecap="butt"/>
<line x1="242.56" y1="1114.90" x2="248.76" y2="1114.90" stroke="#000" stroke-width="1.4" stroke-linecap="butt"/>
<line x1="252.24" y1="1109.08" x2="252.24" y2="1114.90" stroke="#000" stroke-width="1.4" stroke-linecap="butt"/>
<line x1="249.14" y1="1114.90" x2="255.34" y2="1114.90" stroke="#000" stroke-width="1.4" stroke-linecap="butt"/>
<circle cx="68.00" cy="1159.50" r="2.9" fill="#fff" stroke="#000" stroke-width="1.25"/>
<circle cx="74.58" cy="1159.50" r="2.9" fill="#fff" stroke="#000" stroke-width="1.25"/>
<circle cx="81.16" cy="1159.50" r="2.9" fill="#fff" stroke="#000" stroke-width="1.25"/>
<circle cx="87.74" cy="1159.50" r="2.9" fill="#fff" stroke="#000" stroke-width="1.25"/>
<circle cx="94.32" cy="1159.50" r="2.9" fill="#fff" stroke="#000" stroke-width="1.25"/>
<circle cx="100.90" cy="1159.50" r="2.9" fill="#fff" stroke="#000" stroke-width="1.25"/>
<circle cx="107.48" cy="1159.50" r="2.9" fill="#fff" stroke="#000" stroke-width="1.25"/>
<circle cx="114.06" cy="1159.50" r="2.9" fill="#fff" stroke="#000" stroke-width="1.25"/>
<circle cx="120.64" cy="1159.50" r="2.9" fill="#fff" stroke="#000" stroke-width="1.25"/>
<circle cx="127.22" cy="1159.50" r="2.9" fill="#fff" stroke="#000" stroke-width="1.25"/>
<circle cx="133.80" cy="1159.50" r="2.9" fill="#fff" stroke="#000" stroke-width="1.25"/>
<circle cx="140.38" cy="1146.90" r="2.9" fill="#fff" stroke="#000" stroke-width="1.25"/>
<circle cx="146.96" cy="1132.67" r="2.9" fill="#fff" stroke="#000" stroke-width="1.25"/>
<circle cx="153.54" cy="1113.28" r="2.9" fill="#fff" stroke="#000" stroke-width="1.25"/>
<circle cx="160.12" cy="1100.68" r="2.9" fill="#fff" stroke="#000" stroke-width="1.25"/>
<circle cx="166.70" cy="1094.86" r="2.9" fill="#fff" stroke="#000" stroke-width="1.25"/>
<circle cx="173.28" cy="1088.40" r="2.9" fill="#fff" stroke="#000" stroke-width="1.25"/>
<circle cx="179.86" cy="1088.40" r="2.9" fill="#fff" stroke="#000" stroke-width="1.25"/>
<circle cx="186.44" cy="1088.40" r="2.9" fill="#fff" stroke="#000" stroke-width="1.25"/>
<circle cx="193.02" cy="1081.29" r="2.9" fill="#fff" stroke="#000" stroke-width="1.25"/>
<circle cx="199.60" cy="1074.82" r="2.9" fill="#fff" stroke="#000" stroke-width="1.25"/>
<circle cx="206.18" cy="1081.29" r="2.9" fill="#fff" stroke="#000" stroke-width="1.25"/>
<circle cx="212.76" cy="1081.29" r="2.9" fill="#fff" stroke="#000" stroke-width="1.25"/>
<circle cx="219.34" cy="1081.29" r="2.9" fill="#fff" stroke="#000" stroke-width="1.25"/>
<circle cx="225.92" cy="1100.68" r="2.9" fill="#fff" stroke="#000" stroke-width="1.25"/>
<circle cx="232.50" cy="1100.68" r="2.9" fill="#fff" stroke="#000" stroke-width="1.25"/>
<circle cx="239.08" cy="1109.08" r="2.9" fill="#fff" stroke="#000" stroke-width="1.25"/>
<circle cx="245.66" cy="1109.08" r="2.9" fill="#fff" stroke="#000" stroke-width="1.25"/>
<circle cx="252.24" cy="1109.08" r="2.9" fill="#fff" stroke="#000" stroke-width="1.25"/>
<polygon points="75.50,1176.50 71.00,1192.10 80.00,1192.10" fill="#000"/>
<polygon points="95.60,1176.50 91.10,1192.10 100.10,1192.10" fill="#000"/>
<polygon points="115.00,1176.50 110.50,1192.10 119.50,1192.10" fill="#000"/>
<polygon points="135.20,1176.50 130.70,1192.10 139.70,1192.10" fill="#000"/>
<polygon points="156.00,1176.50 151.50,1192.10 160.50,1192.10" fill="#000"/>
<line x1="153.80" y1="1051.20" x2="170.00" y2="1051.20" stroke="#000" stroke-width="1.4" stroke-linecap="butt"/>
<line x1="153.80" y1="1047.90" x2="153.80" y2="1054.50" stroke="#000" stroke-width="1.4" stroke-linecap="butt"/>
<line x1="170.00" y1="1047.90" x2="170.00" y2="1054.50" stroke="#000" stroke-width="1.4" stroke-linecap="butt"/>
<text x="161.50" y="1053.45" font-size="15" font-weight="normal" text-anchor="middle" fill="#222" font-family='"DejaVu Sans", sans-serif' >*</text>
<text x="48.80" y="1074.30" font-size="22.2" font-weight="bold" text-anchor="middle" textLength="101.70" lengthAdjust="spacingAndGlyphs" transform="rotate(-90 48.80 1074.30)" >EAE score</text>
<line x1="81.90" y1="998.60" x2="106.50" y2="998.60" stroke="#000" stroke-width="1.3" stroke-linecap="butt"/>
<circle cx="94.5" cy="998.7" r="4.0" fill="#fff" stroke="#000" stroke-width="1.3"/>
<line x1="81.90" y1="1021.30" x2="106.50" y2="1021.30" stroke="#000" stroke-width="1.3" stroke-linecap="butt"/>
<circle cx="94.7" cy="1021.4" r="4.8" fill="#000"/>
<text x="112.50" y="1003.20" font-size="15" font-weight="bold" text-anchor="start" textLength="27.30" lengthAdjust="spacingAndGlyphs" >PBS</text>
<text x="112.50" y="1026.40" font-size="15" font-weight="bold" text-anchor="start" textLength="126.70" lengthAdjust="spacingAndGlyphs" >Denileukin diftitox</text>
<line x1="293.50" y1="997.30" x2="293.50" y2="1159.80" stroke="#000" stroke-width="1.3" stroke-linecap="butt"/>
<line x1="293.50" y1="1159.20" x2="489.10" y2="1159.20" stroke="#000" stroke-width="1.3" stroke-linecap="butt"/>
<line x1="290.00" y1="1159.20" x2="293.50" y2="1159.20" stroke="#000" stroke-width="1.2" stroke-linecap="butt"/>
<text x="287.30" y="1163.90" font-size="12" font-weight="bold" text-anchor="end" textLength="5.80" lengthAdjust="spacingAndGlyphs" >0</text>
<line x1="290.00" y1="1126.94" x2="293.50" y2="1126.94" stroke="#000" stroke-width="1.2" stroke-linecap="butt"/>
<text x="287.30" y="1131.64" font-size="12" font-weight="bold" text-anchor="end" textLength="5.80" lengthAdjust="spacingAndGlyphs" >1</text>
<line x1="290.00" y1="1094.68" x2="293.50" y2="1094.68" stroke="#000" stroke-width="1.2" stroke-linecap="butt"/>
<text x="287.30" y="1099.38" font-size="12" font-weight="bold" text-anchor="end" textLength="5.80" lengthAdjust="spacingAndGlyphs" >2</text>
<line x1="290.00" y1="1062.42" x2="293.50" y2="1062.42" stroke="#000" stroke-width="1.2" stroke-linecap="butt"/>
<text x="287.30" y="1067.12" font-size="12" font-weight="bold" text-anchor="end" textLength="5.80" lengthAdjust="spacingAndGlyphs" >3</text>
<line x1="290.00" y1="1030.16" x2="293.50" y2="1030.16" stroke="#000" stroke-width="1.2" stroke-linecap="butt"/>
<text x="287.30" y="1034.86" font-size="12" font-weight="bold" text-anchor="end" textLength="5.80" lengthAdjust="spacingAndGlyphs" >4</text>
<line x1="290.00" y1="997.90" x2="293.50" y2="997.90" stroke="#000" stroke-width="1.2" stroke-linecap="butt"/>
<text x="287.30" y="1002.60" font-size="12" font-weight="bold" text-anchor="end" textLength="5.80" lengthAdjust="spacingAndGlyphs" >5</text>
<line x1="293.50" y1="1159.20" x2="293.50" y2="1162.70" stroke="#000" stroke-width="1.2" stroke-linecap="butt"/>
<text x="292.70" y="1175.00" font-size="11" font-weight="bold" text-anchor="middle" textLength="5.20" lengthAdjust="spacingAndGlyphs" >0</text>
<line x1="359.60" y1="1159.20" x2="359.60" y2="1162.70" stroke="#000" stroke-width="1.2" stroke-linecap="butt"/>
<text x="358.80" y="1175.00" font-size="11" font-weight="bold" text-anchor="middle" textLength="10.40" lengthAdjust="spacingAndGlyphs" >10</text>
<line x1="424.60" y1="1159.20" x2="424.60" y2="1162.70" stroke="#000" stroke-width="1.2" stroke-linecap="butt"/>
<text x="423.80" y="1175.00" font-size="11" font-weight="bold" text-anchor="middle" textLength="10.40" lengthAdjust="spacingAndGlyphs" >20</text>
<line x1="488.50" y1="1159.20" x2="488.50" y2="1162.70" stroke="#000" stroke-width="1.2" stroke-linecap="butt"/>
<text x="487.70" y="1175.00" font-size="11" font-weight="bold" text-anchor="middle" textLength="10.40" lengthAdjust="spacingAndGlyphs" >30</text>
<polyline points="293.50,1159.20 300.03,1159.20 306.56,1159.20 313.09,1159.20 319.62,1159.20 326.15,1159.20 332.68,1159.20 339.21,1159.20 345.74,1159.20 352.27,1159.20 358.80,1159.20 365.33,1155.33 371.86,1133.07 378.39,1111.13 384.92,1103.39 391.45,1084.36 397.98,1071.78 404.51,1071.78 411.04,1065.00 417.57,1052.42 424.10,1038.87 430.63,1033.39 437.16,1019.84 443.69,1019.84 450.22,1019.84 456.75,1026.61 463.28,1026.61 469.81,1026.61 476.34,1026.61" fill="none" stroke="#000" stroke-width="1.4"/>
<line x1="365.33" y1="1155.33" x2="365.33" y2="1152.10" stroke="#000" stroke-width="1.4" stroke-linecap="butt"/>
<line x1="362.23" y1="1152.10" x2="368.43" y2="1152.10" stroke="#000" stroke-width="1.4" stroke-linecap="butt"/>
<line x1="371.86" y1="1133.07" x2="371.86" y2="1120.17" stroke="#000" stroke-width="1.4" stroke-linecap="butt"/>
<line x1="368.76" y1="1120.17" x2="374.96" y2="1120.17" stroke="#000" stroke-width="1.4" stroke-linecap="butt"/>
<line x1="378.39" y1="1111.13" x2="378.39" y2="1083.07" stroke="#000" stroke-width="1.4" stroke-linecap="butt"/>
<line x1="375.29" y1="1083.07" x2="381.49" y2="1083.07" stroke="#000" stroke-width="1.4" stroke-linecap="butt"/>
<line x1="384.92" y1="1103.39" x2="384.92" y2="1077.26" stroke="#000" stroke-width="1.4" stroke-linecap="butt"/>
<line x1="381.82" y1="1077.26" x2="388.02" y2="1077.26" stroke="#000" stroke-width="1.4" stroke-linecap="butt"/>
<line x1="391.45" y1="1084.36" x2="391.45" y2="1065.00" stroke="#000" stroke-width="1.4" stroke-linecap="butt"/>
<line x1="388.35" y1="1065.00" x2="394.55" y2="1065.00" stroke="#000" stroke-width="1.4" stroke-linecap="butt"/>
<line x1="397.98" y1="1071.78" x2="397.98" y2="1058.23" stroke="#000" stroke-width="1.4" stroke-linecap="butt"/>
<line x1="394.88" y1="1058.23" x2="401.08" y2="1058.23" stroke="#000" stroke-width="1.4" stroke-linecap="butt"/>
<line x1="404.51" y1="1071.78" x2="404.51" y2="1058.23" stroke="#000" stroke-width="1.4" stroke-linecap="butt"/>
<line x1="401.41" y1="1058.23" x2="407.61" y2="1058.23" stroke="#000" stroke-width="1.4" stroke-linecap="butt"/>
<line x1="411.04" y1="1065.00" x2="411.04" y2="1056.29" stroke="#000" stroke-width="1.4" stroke-linecap="butt"/>
<line x1="407.94" y1="1056.29" x2="414.14" y2="1056.29" stroke="#000" stroke-width="1.4" stroke-linecap="butt"/>
<line x1="417.57" y1="1052.42" x2="417.57" y2="1042.74" stroke="#000" stroke-width="1.4" stroke-linecap="butt"/>
<line x1="414.47" y1="1042.74" x2="420.67" y2="1042.74" stroke="#000" stroke-width="1.4" stroke-linecap="butt"/>
<line x1="424.10" y1="1038.87" x2="424.10" y2="1030.48" stroke="#000" stroke-width="1.4" stroke-linecap="butt"/>
<line x1="421.00" y1="1030.48" x2="427.20" y2="1030.48" stroke="#000" stroke-width="1.4" stroke-linecap="butt"/>
<line x1="430.63" y1="1033.39" x2="430.63" y2="1016.93" stroke="#000" stroke-width="1.4" stroke-linecap="butt"/>
<line x1="427.53" y1="1016.93" x2="433.73" y2="1016.93" stroke="#000" stroke-width="1.4" stroke-linecap="butt"/>
<line x1="437.16" y1="1019.84" x2="437.16" y2="1003.38" stroke="#000" stroke-width="1.4" stroke-linecap="butt"/>
<line x1="434.06" y1="1003.38" x2="440.26" y2="1003.38" stroke="#000" stroke-width="1.4" stroke-linecap="butt"/>
<line x1="443.69" y1="1019.84" x2="443.69" y2="1003.38" stroke="#000" stroke-width="1.4" stroke-linecap="butt"/>
<line x1="440.59" y1="1003.38" x2="446.79" y2="1003.38" stroke="#000" stroke-width="1.4" stroke-linecap="butt"/>
<line x1="450.22" y1="1019.84" x2="450.22" y2="1003.38" stroke="#000" stroke-width="1.4" stroke-linecap="butt"/>
<line x1="447.12" y1="1003.38" x2="453.32" y2="1003.38" stroke="#000" stroke-width="1.4" stroke-linecap="butt"/>
<line x1="456.75" y1="1026.61" x2="456.75" y2="1010.80" stroke="#000" stroke-width="1.4" stroke-linecap="butt"/>
<line x1="453.65" y1="1010.80" x2="459.85" y2="1010.80" stroke="#000" stroke-width="1.4" stroke-linecap="butt"/>
<line x1="463.28" y1="1026.61" x2="463.28" y2="1010.80" stroke="#000" stroke-width="1.4" stroke-linecap="butt"/>
<line x1="460.18" y1="1010.80" x2="466.38" y2="1010.80" stroke="#000" stroke-width="1.4" stroke-linecap="butt"/>
<line x1="469.81" y1="1026.61" x2="469.81" y2="1010.80" stroke="#000" stroke-width="1.4" stroke-linecap="butt"/>
<line x1="466.71" y1="1010.80" x2="472.91" y2="1010.80" stroke="#000" stroke-width="1.4" stroke-linecap="butt"/>
<line x1="476.34" y1="1026.61" x2="476.34" y2="1010.80" stroke="#000" stroke-width="1.4" stroke-linecap="butt"/>
<line x1="473.24" y1="1010.80" x2="479.44" y2="1010.80" stroke="#000" stroke-width="1.4" stroke-linecap="butt"/>
<circle cx="293.50" cy="1159.20" r="3.1999999999999997" fill="#000" stroke="#000" stroke-width="1.25"/>
<circle cx="300.03" cy="1159.20" r="3.1999999999999997" fill="#000" stroke="#000" stroke-width="1.25"/>
<circle cx="306.56" cy="1159.20" r="3.1999999999999997" fill="#000" stroke="#000" stroke-width="1.25"/>
<circle cx="313.09" cy="1159.20" r="3.1999999999999997" fill="#000" stroke="#000" stroke-width="1.25"/>
<circle cx="319.62" cy="1159.20" r="3.1999999999999997" fill="#000" stroke="#000" stroke-width="1.25"/>
<circle cx="326.15" cy="1159.20" r="3.1999999999999997" fill="#000" stroke="#000" stroke-width="1.25"/>
<circle cx="332.68" cy="1159.20" r="3.1999999999999997" fill="#000" stroke="#000" stroke-width="1.25"/>
<circle cx="339.21" cy="1159.20" r="3.1999999999999997" fill="#000" stroke="#000" stroke-width="1.25"/>
<circle cx="345.74" cy="1159.20" r="3.1999999999999997" fill="#000" stroke="#000" stroke-width="1.25"/>
<circle cx="352.27" cy="1159.20" r="3.1999999999999997" fill="#000" stroke="#000" stroke-width="1.25"/>
<circle cx="358.80" cy="1159.20" r="3.1999999999999997" fill="#000" stroke="#000" stroke-width="1.25"/>
<circle cx="365.33" cy="1155.33" r="3.1999999999999997" fill="#000" stroke="#000" stroke-width="1.25"/>
<circle cx="371.86" cy="1133.07" r="3.1999999999999997" fill="#000" stroke="#000" stroke-width="1.25"/>
<circle cx="378.39" cy="1111.13" r="3.1999999999999997" fill="#000" stroke="#000" stroke-width="1.25"/>
<circle cx="384.92" cy="1103.39" r="3.1999999999999997" fill="#000" stroke="#000" stroke-width="1.25"/>
<circle cx="391.45" cy="1084.36" r="3.1999999999999997" fill="#000" stroke="#000" stroke-width="1.25"/>
<circle cx="397.98" cy="1071.78" r="3.1999999999999997" fill="#000" stroke="#000" stroke-width="1.25"/>
<circle cx="404.51" cy="1071.78" r="3.1999999999999997" fill="#000" stroke="#000" stroke-width="1.25"/>
<circle cx="411.04" cy="1065.00" r="3.1999999999999997" fill="#000" stroke="#000" stroke-width="1.25"/>
<circle cx="417.57" cy="1052.42" r="3.1999999999999997" fill="#000" stroke="#000" stroke-width="1.25"/>
<circle cx="424.10" cy="1038.87" r="3.1999999999999997" fill="#000" stroke="#000" stroke-width="1.25"/>
<circle cx="430.63" cy="1033.39" r="3.1999999999999997" fill="#000" stroke="#000" stroke-width="1.25"/>
<circle cx="437.16" cy="1019.84" r="3.1999999999999997" fill="#000" stroke="#000" stroke-width="1.25"/>
<circle cx="443.69" cy="1019.84" r="3.1999999999999997" fill="#000" stroke="#000" stroke-width="1.25"/>
<circle cx="450.22" cy="1019.84" r="3.1999999999999997" fill="#000" stroke="#000" stroke-width="1.25"/>
<circle cx="456.75" cy="1026.61" r="3.1999999999999997" fill="#000" stroke="#000" stroke-width="1.25"/>
<circle cx="463.28" cy="1026.61" r="3.1999999999999997" fill="#000" stroke="#000" stroke-width="1.25"/>
<circle cx="469.81" cy="1026.61" r="3.1999999999999997" fill="#000" stroke="#000" stroke-width="1.25"/>
<circle cx="476.34" cy="1026.61" r="3.1999999999999997" fill="#000" stroke="#000" stroke-width="1.25"/>
<polyline points="293.50,1159.20 300.03,1159.20 306.56,1159.20 313.09,1159.20 319.62,1159.20 326.15,1159.20 332.68,1159.20 339.21,1159.20 345.74,1159.20 352.27,1159.20 358.80,1159.20 365.33,1148.55 371.86,1116.62 378.39,1103.39 384.92,1097.26 391.45,1090.81 397.98,1090.81 404.51,1084.36 411.04,1077.26 417.57,1084.36 424.10,1077.26 430.63,1090.81 437.16,1084.36 443.69,1084.36 450.22,1084.36 456.75,1096.62 463.28,1096.62 469.81,1103.39 476.34,1103.39" fill="none" stroke="#000" stroke-width="1.4"/>
<line x1="365.33" y1="1148.55" x2="365.33" y2="1151.78" stroke="#000" stroke-width="1.4" stroke-linecap="butt"/>
<line x1="362.23" y1="1151.78" x2="368.43" y2="1151.78" stroke="#000" stroke-width="1.4" stroke-linecap="butt"/>
<line x1="371.86" y1="1116.62" x2="371.86" y2="1126.29" stroke="#000" stroke-width="1.4" stroke-linecap="butt"/>
<line x1="368.76" y1="1126.29" x2="374.96" y2="1126.29" stroke="#000" stroke-width="1.4" stroke-linecap="butt"/>
<line x1="378.39" y1="1103.39" x2="378.39" y2="1118.88" stroke="#000" stroke-width="1.4" stroke-linecap="butt"/>
<line x1="375.29" y1="1118.88" x2="381.49" y2="1118.88" stroke="#000" stroke-width="1.4" stroke-linecap="butt"/>
<line x1="384.92" y1="1097.26" x2="384.92" y2="1117.58" stroke="#000" stroke-width="1.4" stroke-linecap="butt"/>
<line x1="381.82" y1="1117.58" x2="388.02" y2="1117.58" stroke="#000" stroke-width="1.4" stroke-linecap="butt"/>
<line x1="391.45" y1="1090.81" x2="391.45" y2="1108.23" stroke="#000" stroke-width="1.4" stroke-linecap="butt"/>
<line x1="388.35" y1="1108.23" x2="394.55" y2="1108.23" stroke="#000" stroke-width="1.4" stroke-linecap="butt"/>
<line x1="397.98" y1="1090.81" x2="397.98" y2="1108.23" stroke="#000" stroke-width="1.4" stroke-linecap="butt"/>
<line x1="394.88" y1="1108.23" x2="401.08" y2="1108.23" stroke="#000" stroke-width="1.4" stroke-linecap="butt"/>
<line x1="404.51" y1="1084.36" x2="404.51" y2="1102.42" stroke="#000" stroke-width="1.4" stroke-linecap="butt"/>
<line x1="401.41" y1="1102.42" x2="407.61" y2="1102.42" stroke="#000" stroke-width="1.4" stroke-linecap="butt"/>
<line x1="411.04" y1="1077.26" x2="411.04" y2="1094.68" stroke="#000" stroke-width="1.4" stroke-linecap="butt"/>
<line x1="407.94" y1="1094.68" x2="414.14" y2="1094.68" stroke="#000" stroke-width="1.4" stroke-linecap="butt"/>
<line x1="417.57" y1="1084.36" x2="417.57" y2="1100.49" stroke="#000" stroke-width="1.4" stroke-linecap="butt"/>
<line x1="414.47" y1="1100.49" x2="420.67" y2="1100.49" stroke="#000" stroke-width="1.4" stroke-linecap="butt"/>
<line x1="424.10" y1="1077.26" x2="424.10" y2="1096.62" stroke="#000" stroke-width="1.4" stroke-linecap="butt"/>
<line x1="421.00" y1="1096.62" x2="427.20" y2="1096.62" stroke="#000" stroke-width="1.4" stroke-linecap="butt"/>
<line x1="430.63" y1="1090.81" x2="430.63" y2="1103.39" stroke="#000" stroke-width="1.4" stroke-linecap="butt"/>
<line x1="427.53" y1="1103.39" x2="433.73" y2="1103.39" stroke="#000" stroke-width="1.4" stroke-linecap="butt"/>
<line x1="437.16" y1="1084.36" x2="437.16" y2="1099.84" stroke="#000" stroke-width="1.4" stroke-linecap="butt"/>
<line x1="434.06" y1="1099.84" x2="440.26" y2="1099.84" stroke="#000" stroke-width="1.4" stroke-linecap="butt"/>
<line x1="443.69" y1="1084.36" x2="443.69" y2="1099.84" stroke="#000" stroke-width="1.4" stroke-linecap="butt"/>
<line x1="440.59" y1="1099.84" x2="446.79" y2="1099.84" stroke="#000" stroke-width="1.4" stroke-linecap="butt"/>
<line x1="450.22" y1="1084.36" x2="450.22" y2="1099.84" stroke="#000" stroke-width="1.4" stroke-linecap="butt"/>
<line x1="447.12" y1="1099.84" x2="453.32" y2="1099.84" stroke="#000" stroke-width="1.4" stroke-linecap="butt"/>
<line x1="456.75" y1="1096.62" x2="456.75" y2="1111.13" stroke="#000" stroke-width="1.4" stroke-linecap="butt"/>
<line x1="453.65" y1="1111.13" x2="459.85" y2="1111.13" stroke="#000" stroke-width="1.4" stroke-linecap="butt"/>
<line x1="463.28" y1="1096.62" x2="463.28" y2="1111.13" stroke="#000" stroke-width="1.4" stroke-linecap="butt"/>
<line x1="460.18" y1="1111.13" x2="466.38" y2="1111.13" stroke="#000" stroke-width="1.4" stroke-linecap="butt"/>
<line x1="469.81" y1="1103.39" x2="469.81" y2="1113.71" stroke="#000" stroke-width="1.4" stroke-linecap="butt"/>
<line x1="466.71" y1="1113.71" x2="472.91" y2="1113.71" stroke="#000" stroke-width="1.4" stroke-linecap="butt"/>
<line x1="476.34" y1="1103.39" x2="476.34" y2="1113.71" stroke="#000" stroke-width="1.4" stroke-linecap="butt"/>
<line x1="473.24" y1="1113.71" x2="479.44" y2="1113.71" stroke="#000" stroke-width="1.4" stroke-linecap="butt"/>
<circle cx="293.50" cy="1159.20" r="2.9" fill="#fff" stroke="#000" stroke-width="1.25"/>
<circle cx="300.03" cy="1159.20" r="2.9" fill="#fff" stroke="#000" stroke-width="1.25"/>
<circle cx="306.56" cy="1159.20" r="2.9" fill="#fff" stroke="#000" stroke-width="1.25"/>
<circle cx="313.09" cy="1159.20" r="2.9" fill="#fff" stroke="#000" stroke-width="1.25"/>
<circle cx="319.62" cy="1159.20" r="2.9" fill="#fff" stroke="#000" stroke-width="1.25"/>
<circle cx="326.15" cy="1159.20" r="2.9" fill="#fff" stroke="#000" stroke-width="1.25"/>
<circle cx="332.68" cy="1159.20" r="2.9" fill="#fff" stroke="#000" stroke-width="1.25"/>
<circle cx="339.21" cy="1159.20" r="2.9" fill="#fff" stroke="#000" stroke-width="1.25"/>
<circle cx="345.74" cy="1159.20" r="2.9" fill="#fff" stroke="#000" stroke-width="1.25"/>
<circle cx="352.27" cy="1159.20" r="2.9" fill="#fff" stroke="#000" stroke-width="1.25"/>
<circle cx="358.80" cy="1159.20" r="2.9" fill="#fff" stroke="#000" stroke-width="1.25"/>
<circle cx="365.33" cy="1148.55" r="2.9" fill="#fff" stroke="#000" stroke-width="1.25"/>
<circle cx="371.86" cy="1116.62" r="2.9" fill="#fff" stroke="#000" stroke-width="1.25"/>
<circle cx="378.39" cy="1103.39" r="2.9" fill="#fff" stroke="#000" stroke-width="1.25"/>
<circle cx="384.92" cy="1097.26" r="2.9" fill="#fff" stroke="#000" stroke-width="1.25"/>
<circle cx="391.45" cy="1090.81" r="2.9" fill="#fff" stroke="#000" stroke-width="1.25"/>
<circle cx="397.98" cy="1090.81" r="2.9" fill="#fff" stroke="#000" stroke-width="1.25"/>
<circle cx="404.51" cy="1084.36" r="2.9" fill="#fff" stroke="#000" stroke-width="1.25"/>
<circle cx="411.04" cy="1077.26" r="2.9" fill="#fff" stroke="#000" stroke-width="1.25"/>
<circle cx="417.57" cy="1084.36" r="2.9" fill="#fff" stroke="#000" stroke-width="1.25"/>
<circle cx="424.10" cy="1077.26" r="2.9" fill="#fff" stroke="#000" stroke-width="1.25"/>
<circle cx="430.63" cy="1090.81" r="2.9" fill="#fff" stroke="#000" stroke-width="1.25"/>
<circle cx="437.16" cy="1084.36" r="2.9" fill="#fff" stroke="#000" stroke-width="1.25"/>
<circle cx="443.69" cy="1084.36" r="2.9" fill="#fff" stroke="#000" stroke-width="1.25"/>
<circle cx="450.22" cy="1084.36" r="2.9" fill="#fff" stroke="#000" stroke-width="1.25"/>
<circle cx="456.75" cy="1096.62" r="2.9" fill="#fff" stroke="#000" stroke-width="1.25"/>
<circle cx="463.28" cy="1096.62" r="2.9" fill="#fff" stroke="#000" stroke-width="1.25"/>
<circle cx="469.81" cy="1103.39" r="2.9" fill="#fff" stroke="#000" stroke-width="1.25"/>
<circle cx="476.34" cy="1103.39" r="2.9" fill="#fff" stroke="#000" stroke-width="1.25"/>
<polygon points="386.90,1175.70 382.40,1191.00 391.40,1191.00" fill="#000"/>
<polygon points="406.20,1175.70 401.70,1191.00 410.70,1191.00" fill="#000"/>
<polygon points="425.60,1175.70 421.10,1191.00 430.10,1191.00" fill="#000"/>
<polygon points="445.40,1175.70 440.90,1191.00 449.90,1191.00" fill="#000"/>
<polygon points="465.00,1175.70 460.50,1191.00 469.50,1191.00" fill="#000"/>
<line x1="431.50" y1="994.60" x2="478.80" y2="994.60" stroke="#000" stroke-width="1.4" stroke-linecap="butt"/>
<line x1="431.50" y1="991.30" x2="431.50" y2="997.90" stroke="#000" stroke-width="1.4" stroke-linecap="butt"/>
<line x1="478.80" y1="991.30" x2="478.80" y2="997.90" stroke="#000" stroke-width="1.4" stroke-linecap="butt"/>
<text x="454.60" y="996.85" font-size="15" font-weight="normal" text-anchor="middle" fill="#222" font-family='"DejaVu Sans", sans-serif' >*</text>
</svg>
</body></html>
